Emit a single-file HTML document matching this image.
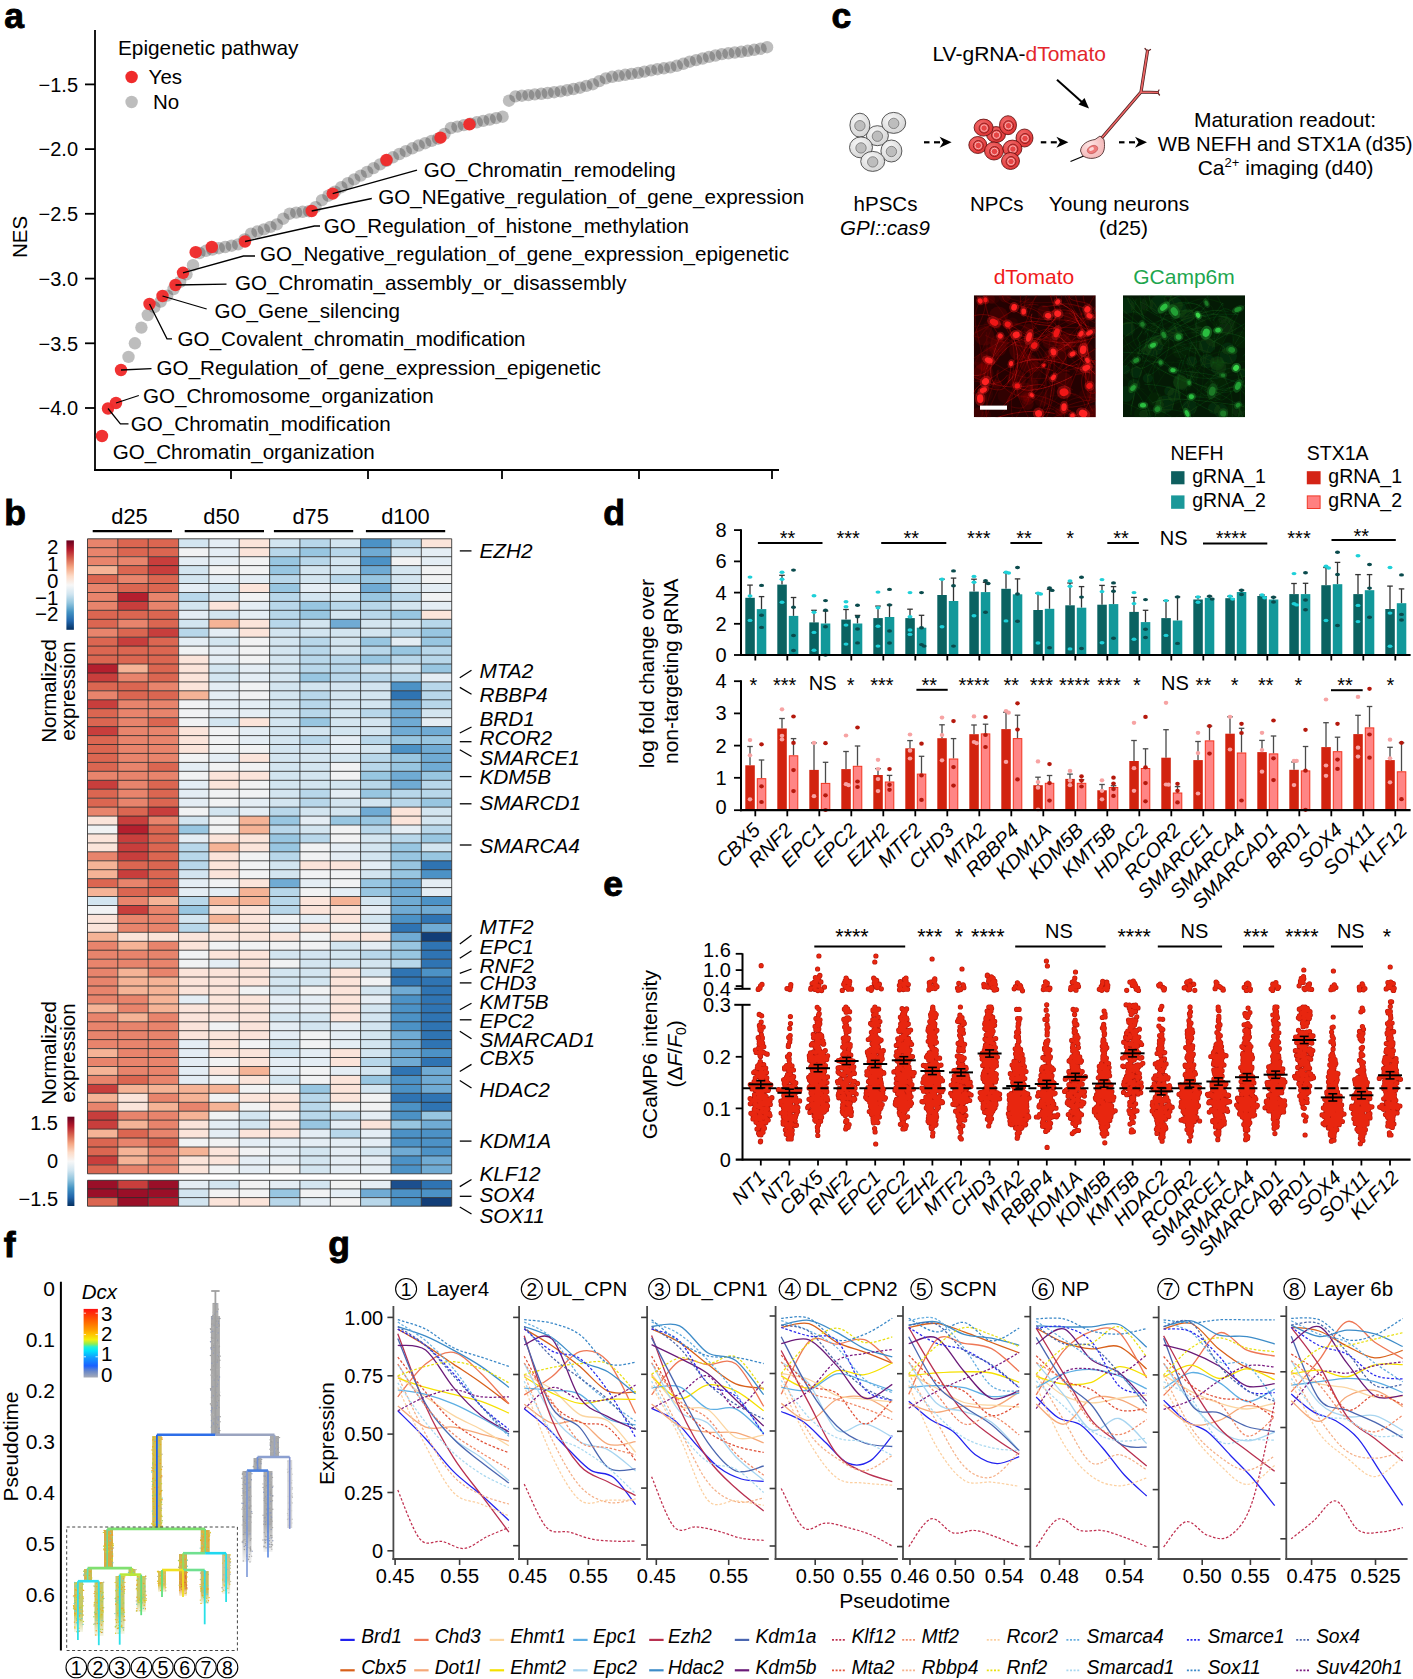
<!DOCTYPE html>
<html><head><meta charset="utf-8"><style>
html,body{margin:0;padding:0;background:#fff;}
svg{display:block;font-family:"Liberation Sans",sans-serif;}
</style></head><body>
<svg width="1413" height="1679" viewBox="0 0 1413 1679">
<rect width="1413" height="1679" fill="#fff"/>
<text x="4.2" y="28.2" font-size="35.5" text-anchor="start" fill="#000" font-weight="bold" stroke="#000" stroke-width="0.9">a</text>
<line x1="95" y1="30" x2="95" y2="471" stroke="#000" stroke-width="1.8"/>
<line x1="94" y1="470" x2="779" y2="470" stroke="#000" stroke-width="1.8"/>
<line x1="85" y1="84.4" x2="95" y2="84.4" stroke="#000" stroke-width="1.8"/>
<text x="78" y="91.7" font-size="20" text-anchor="end" fill="#000">−1.5</text>
<line x1="85" y1="149.1" x2="95" y2="149.1" stroke="#000" stroke-width="1.8"/>
<text x="78" y="156.4" font-size="20" text-anchor="end" fill="#000">−2.0</text>
<line x1="85" y1="213.8" x2="95" y2="213.8" stroke="#000" stroke-width="1.8"/>
<text x="78" y="221.1" font-size="20" text-anchor="end" fill="#000">−2.5</text>
<line x1="85" y1="278.6" x2="95" y2="278.6" stroke="#000" stroke-width="1.8"/>
<text x="78" y="285.9" font-size="20" text-anchor="end" fill="#000">−3.0</text>
<line x1="85" y1="343.3" x2="95" y2="343.3" stroke="#000" stroke-width="1.8"/>
<text x="78" y="350.6" font-size="20" text-anchor="end" fill="#000">−3.5</text>
<line x1="85" y1="408" x2="95" y2="408" stroke="#000" stroke-width="1.8"/>
<text x="78" y="415.3" font-size="20" text-anchor="end" fill="#000">−4.0</text>
<line x1="231" y1="470" x2="231" y2="479" stroke="#000" stroke-width="1.8"/>
<line x1="368" y1="470" x2="368" y2="479" stroke="#000" stroke-width="1.8"/>
<line x1="502" y1="470" x2="502" y2="479" stroke="#000" stroke-width="1.8"/>
<line x1="639" y1="470" x2="639" y2="479" stroke="#000" stroke-width="1.8"/>
<line x1="772" y1="470" x2="772" y2="479" stroke="#000" stroke-width="1.8"/>
<text x="0" y="0" font-size="20.5" text-anchor="middle" fill="#000" transform="translate(27,237) rotate(-90)">NES</text>
<text x="118" y="54.6" font-size="20.8" text-anchor="start" fill="#000">Epigenetic pathway</text>
<circle cx="131.6" cy="77" r="6.2" fill="#EF2B2B"/>
<text x="148.6" y="84" font-size="20.5" text-anchor="start" fill="#000">Yes</text>
<circle cx="131.6" cy="102" r="6.2" fill="#BDBDBD"/>
<text x="153" y="108.5" font-size="20.5" text-anchor="start" fill="#000">No</text>
<circle cx="128.5" cy="356.9" r="6.2" fill="#252525" fill-opacity="0.3"/>
<circle cx="134.9" cy="343.3" r="6.2" fill="#252525" fill-opacity="0.3"/>
<circle cx="141.4" cy="327.6" r="6.2" fill="#252525" fill-opacity="0.3"/>
<circle cx="147.8" cy="315" r="6.2" fill="#252525" fill-opacity="0.3"/>
<circle cx="154.3" cy="307.2" r="6.2" fill="#252525" fill-opacity="0.3"/>
<circle cx="160.7" cy="301.5" r="6.2" fill="#252525" fill-opacity="0.3"/>
<circle cx="167.2" cy="295.6" r="6.2" fill="#252525" fill-opacity="0.3"/>
<circle cx="173.6" cy="289" r="6.2" fill="#252525" fill-opacity="0.3"/>
<circle cx="180.1" cy="281.9" r="6.2" fill="#252525" fill-opacity="0.3"/>
<circle cx="186.5" cy="274.3" r="6.2" fill="#252525" fill-opacity="0.3"/>
<circle cx="193" cy="265.2" r="6.2" fill="#252525" fill-opacity="0.3"/>
<circle cx="199.4" cy="253" r="6.2" fill="#252525" fill-opacity="0.3"/>
<circle cx="205.9" cy="250.8" r="6.2" fill="#252525" fill-opacity="0.3"/>
<circle cx="212.3" cy="249.5" r="6.2" fill="#252525" fill-opacity="0.3"/>
<circle cx="218.8" cy="248.2" r="6.2" fill="#252525" fill-opacity="0.3"/>
<circle cx="225.2" cy="247" r="6.2" fill="#252525" fill-opacity="0.3"/>
<circle cx="231.7" cy="245.7" r="6.2" fill="#252525" fill-opacity="0.3"/>
<circle cx="238.1" cy="244.4" r="6.2" fill="#252525" fill-opacity="0.3"/>
<circle cx="244.6" cy="239.4" r="6.2" fill="#252525" fill-opacity="0.3"/>
<circle cx="251" cy="233.7" r="6.2" fill="#252525" fill-opacity="0.3"/>
<circle cx="257.5" cy="231.5" r="6.2" fill="#252525" fill-opacity="0.3"/>
<circle cx="263.9" cy="229.4" r="6.2" fill="#252525" fill-opacity="0.3"/>
<circle cx="270.4" cy="226.9" r="6.2" fill="#252525" fill-opacity="0.3"/>
<circle cx="276.8" cy="224.4" r="6.2" fill="#252525" fill-opacity="0.3"/>
<circle cx="283.3" cy="218.7" r="6.2" fill="#252525" fill-opacity="0.3"/>
<circle cx="289.7" cy="213.7" r="6.2" fill="#252525" fill-opacity="0.3"/>
<circle cx="296.2" cy="212.6" r="6.2" fill="#252525" fill-opacity="0.3"/>
<circle cx="302.6" cy="211.8" r="6.2" fill="#252525" fill-opacity="0.3"/>
<circle cx="309.1" cy="211.2" r="6.2" fill="#252525" fill-opacity="0.3"/>
<circle cx="315.5" cy="207.1" r="6.2" fill="#252525" fill-opacity="0.3"/>
<circle cx="322" cy="200.1" r="6.2" fill="#252525" fill-opacity="0.3"/>
<circle cx="328.4" cy="195.7" r="6.2" fill="#252525" fill-opacity="0.3"/>
<circle cx="334.9" cy="191.7" r="6.2" fill="#252525" fill-opacity="0.3"/>
<circle cx="341.3" cy="187.2" r="6.2" fill="#252525" fill-opacity="0.3"/>
<circle cx="347.8" cy="183.2" r="6.2" fill="#252525" fill-opacity="0.3"/>
<circle cx="354.2" cy="179.4" r="6.2" fill="#252525" fill-opacity="0.3"/>
<circle cx="360.7" cy="175.6" r="6.2" fill="#252525" fill-opacity="0.3"/>
<circle cx="367.1" cy="171.9" r="6.2" fill="#252525" fill-opacity="0.3"/>
<circle cx="373.6" cy="168.1" r="6.2" fill="#252525" fill-opacity="0.3"/>
<circle cx="380" cy="164.4" r="6.2" fill="#252525" fill-opacity="0.3"/>
<circle cx="386.5" cy="160.8" r="6.2" fill="#252525" fill-opacity="0.3"/>
<circle cx="392.9" cy="157.3" r="6.2" fill="#252525" fill-opacity="0.3"/>
<circle cx="399.4" cy="154" r="6.2" fill="#252525" fill-opacity="0.3"/>
<circle cx="405.8" cy="151.2" r="6.2" fill="#252525" fill-opacity="0.3"/>
<circle cx="412.3" cy="148.3" r="6.2" fill="#252525" fill-opacity="0.3"/>
<circle cx="418.7" cy="145.5" r="6.2" fill="#252525" fill-opacity="0.3"/>
<circle cx="425.2" cy="143.2" r="6.2" fill="#252525" fill-opacity="0.3"/>
<circle cx="431.6" cy="140.9" r="6.2" fill="#252525" fill-opacity="0.3"/>
<circle cx="438.1" cy="138.7" r="6.2" fill="#252525" fill-opacity="0.3"/>
<circle cx="444.5" cy="133.9" r="6.2" fill="#252525" fill-opacity="0.3"/>
<circle cx="451" cy="128" r="6.2" fill="#252525" fill-opacity="0.3"/>
<circle cx="457.4" cy="126.6" r="6.2" fill="#252525" fill-opacity="0.3"/>
<circle cx="463.9" cy="125.1" r="6.2" fill="#252525" fill-opacity="0.3"/>
<circle cx="470.3" cy="123.7" r="6.2" fill="#252525" fill-opacity="0.3"/>
<circle cx="476.8" cy="122.3" r="6.2" fill="#252525" fill-opacity="0.3"/>
<circle cx="483.2" cy="120.9" r="6.2" fill="#252525" fill-opacity="0.3"/>
<circle cx="489.7" cy="119.5" r="6.2" fill="#252525" fill-opacity="0.3"/>
<circle cx="496.1" cy="118.1" r="6.2" fill="#252525" fill-opacity="0.3"/>
<circle cx="502.6" cy="116.7" r="6.2" fill="#252525" fill-opacity="0.3"/>
<circle cx="509" cy="100.7" r="6.2" fill="#252525" fill-opacity="0.3"/>
<circle cx="515.5" cy="96.4" r="6.2" fill="#252525" fill-opacity="0.3"/>
<circle cx="521.9" cy="95.7" r="6.2" fill="#252525" fill-opacity="0.3"/>
<circle cx="528.4" cy="95.1" r="6.2" fill="#252525" fill-opacity="0.3"/>
<circle cx="534.8" cy="94.4" r="6.2" fill="#252525" fill-opacity="0.3"/>
<circle cx="541.3" cy="93.8" r="6.2" fill="#252525" fill-opacity="0.3"/>
<circle cx="547.7" cy="93" r="6.2" fill="#252525" fill-opacity="0.3"/>
<circle cx="554.2" cy="92.2" r="6.2" fill="#252525" fill-opacity="0.3"/>
<circle cx="560.6" cy="91.4" r="6.2" fill="#252525" fill-opacity="0.3"/>
<circle cx="567.1" cy="90.2" r="6.2" fill="#252525" fill-opacity="0.3"/>
<circle cx="573.5" cy="89" r="6.2" fill="#252525" fill-opacity="0.3"/>
<circle cx="580" cy="87.7" r="6.2" fill="#252525" fill-opacity="0.3"/>
<circle cx="586.4" cy="85.9" r="6.2" fill="#252525" fill-opacity="0.3"/>
<circle cx="592.9" cy="84.2" r="6.2" fill="#252525" fill-opacity="0.3"/>
<circle cx="599.3" cy="81.1" r="6.2" fill="#252525" fill-opacity="0.3"/>
<circle cx="605.8" cy="78.4" r="6.2" fill="#252525" fill-opacity="0.3"/>
<circle cx="612.2" cy="76.8" r="6.2" fill="#252525" fill-opacity="0.3"/>
<circle cx="618.7" cy="75.8" r="6.2" fill="#252525" fill-opacity="0.3"/>
<circle cx="625.2" cy="74.8" r="6.2" fill="#252525" fill-opacity="0.3"/>
<circle cx="631.6" cy="73.9" r="6.2" fill="#252525" fill-opacity="0.3"/>
<circle cx="638.1" cy="72.9" r="6.2" fill="#252525" fill-opacity="0.3"/>
<circle cx="644.5" cy="71.6" r="6.2" fill="#252525" fill-opacity="0.3"/>
<circle cx="651" cy="70.4" r="6.2" fill="#252525" fill-opacity="0.3"/>
<circle cx="657.4" cy="69.2" r="6.2" fill="#252525" fill-opacity="0.3"/>
<circle cx="663.9" cy="68.3" r="6.2" fill="#252525" fill-opacity="0.3"/>
<circle cx="670.3" cy="67.4" r="6.2" fill="#252525" fill-opacity="0.3"/>
<circle cx="676.8" cy="65.8" r="6.2" fill="#252525" fill-opacity="0.3"/>
<circle cx="683.2" cy="63.8" r="6.2" fill="#252525" fill-opacity="0.3"/>
<circle cx="689.7" cy="61.7" r="6.2" fill="#252525" fill-opacity="0.3"/>
<circle cx="696.1" cy="60.1" r="6.2" fill="#252525" fill-opacity="0.3"/>
<circle cx="702.6" cy="58.5" r="6.2" fill="#252525" fill-opacity="0.3"/>
<circle cx="709" cy="56.9" r="6.2" fill="#252525" fill-opacity="0.3"/>
<circle cx="715.5" cy="55.5" r="6.2" fill="#252525" fill-opacity="0.3"/>
<circle cx="721.9" cy="54.1" r="6.2" fill="#252525" fill-opacity="0.3"/>
<circle cx="728.4" cy="53.3" r="6.2" fill="#252525" fill-opacity="0.3"/>
<circle cx="734.8" cy="52.5" r="6.2" fill="#252525" fill-opacity="0.3"/>
<circle cx="741.3" cy="51.8" r="6.2" fill="#252525" fill-opacity="0.3"/>
<circle cx="747.7" cy="50.8" r="6.2" fill="#252525" fill-opacity="0.3"/>
<circle cx="754.2" cy="49.8" r="6.2" fill="#252525" fill-opacity="0.3"/>
<circle cx="760.6" cy="48.7" r="6.2" fill="#252525" fill-opacity="0.3"/>
<circle cx="767.1" cy="47.2" r="6.2" fill="#252525" fill-opacity="0.3"/>
<circle cx="102" cy="436" r="6.2" fill="#EF2B2B" fill-opacity="0.97"/>
<circle cx="108" cy="408.5" r="6.2" fill="#EF2B2B" fill-opacity="0.97"/>
<circle cx="116" cy="403" r="6.2" fill="#EF2B2B" fill-opacity="0.97"/>
<circle cx="121" cy="370" r="6.2" fill="#EF2B2B" fill-opacity="0.97"/>
<circle cx="149.5" cy="304" r="6.2" fill="#EF2B2B" fill-opacity="0.97"/>
<circle cx="162.5" cy="296" r="6.2" fill="#EF2B2B" fill-opacity="0.97"/>
<circle cx="175.5" cy="285" r="6.2" fill="#EF2B2B" fill-opacity="0.97"/>
<circle cx="183" cy="272.8" r="6.2" fill="#EF2B2B" fill-opacity="0.97"/>
<circle cx="195.7" cy="252.2" r="6.2" fill="#EF2B2B" fill-opacity="0.97"/>
<circle cx="211.8" cy="247" r="6.2" fill="#EF2B2B" fill-opacity="0.97"/>
<circle cx="245" cy="241.5" r="6.2" fill="#EF2B2B" fill-opacity="0.97"/>
<circle cx="311.7" cy="211" r="6.2" fill="#EF2B2B" fill-opacity="0.97"/>
<circle cx="332.7" cy="193.6" r="6.2" fill="#EF2B2B" fill-opacity="0.97"/>
<circle cx="386.5" cy="160" r="6.2" fill="#EF2B2B" fill-opacity="0.97"/>
<circle cx="440.5" cy="137.6" r="6.2" fill="#EF2B2B" fill-opacity="0.97"/>
<circle cx="469.4" cy="124.3" r="6.2" fill="#EF2B2B" fill-opacity="0.97"/>
<polyline points="332.7,193.6 417,170.2" fill="none" stroke="#000" stroke-width="1.3"/>
<text x="423.8" y="176.7" font-size="20.6" text-anchor="start" fill="#000">GO_Chromatin_remodeling</text>
<polyline points="311.7,211 371.8,198.5" fill="none" stroke="#000" stroke-width="1.3"/>
<text x="378.2" y="204.2" font-size="20.6" text-anchor="start" fill="#000">GO_NEgative_regulation_of_gene_expression</text>
<polyline points="245,241.5 314.4,226 320,226" fill="none" stroke="#000" stroke-width="1.3"/>
<text x="323.8" y="232.5" font-size="20.6" text-anchor="start" fill="#000">GO_Regulation_of_histone_methylation</text>
<polyline points="183,272.8 243.5,256 255,256" fill="none" stroke="#000" stroke-width="1.3"/>
<text x="260" y="261" font-size="20.6" text-anchor="start" fill="#000">GO_Negative_regulation_of_gene_expression_epigenetic</text>
<polyline points="175.5,285 226.5,284.1" fill="none" stroke="#000" stroke-width="1.3"/>
<text x="235" y="290" font-size="20.6" text-anchor="start" fill="#000">GO_Chromatin_assembly_or_disassembly</text>
<polyline points="162.5,296 206.7,309" fill="none" stroke="#000" stroke-width="1.3"/>
<text x="214.4" y="317.5" font-size="20.6" text-anchor="start" fill="#000">GO_Gene_silencing</text>
<polyline points="149.5,304 167,338.8 172,338.8" fill="none" stroke="#000" stroke-width="1.3"/>
<text x="177.6" y="345.9" font-size="20.6" text-anchor="start" fill="#000">GO_Covalent_chromatin_modification</text>
<polyline points="121,370 151.5,368.6" fill="none" stroke="#000" stroke-width="1.3"/>
<text x="156.6" y="374.7" font-size="20.6" text-anchor="start" fill="#000">GO_Regulation_of_gene_expression_epigenetic</text>
<polyline points="116,403 138.8,395.5" fill="none" stroke="#000" stroke-width="1.3"/>
<text x="143" y="402.5" font-size="20.6" text-anchor="start" fill="#000">GO_Chromosome_organization</text>
<polyline points="108,408.5 120.4,423.8 128.5,423.8" fill="none" stroke="#000" stroke-width="1.3"/>
<text x="130.8" y="430.7" font-size="20.6" text-anchor="start" fill="#000">GO_Chromatin_modification</text>
<text x="112.7" y="459" font-size="20.6" text-anchor="start" fill="#000">GO_Chromatin_organization</text>
<text x="4.2" y="524.8" font-size="35.5" text-anchor="start" fill="#000" font-weight="bold" stroke="#000" stroke-width="0.9">b</text>
<path fill="#E8846C" d="M87.5 538.8h30.3v8.9h-30.3zM87.5 547.7h30.3v8.9h-30.3zM87.5 556.7h30.3v8.9h-30.3zM117.8 556.7h30.3v8.9h-30.3zM117.8 574.6h30.3v8.9h-30.3zM87.5 583.5h30.3v8.9h-30.3zM87.5 592.5h30.3v8.9h-30.3zM148.2 592.5h30.3v8.9h-30.3zM87.5 601.4h30.3v8.9h-30.3zM148.2 601.4h30.3v8.9h-30.3zM117.8 619.3h30.3v8.9h-30.3zM87.5 628.2h30.3v8.9h-30.3zM117.8 673h30.3v8.9h-30.3zM148.2 681.9h30.3v8.9h-30.3zM87.5 690.8h30.3v8.9h-30.3zM117.8 699.8h30.3v8.9h-30.3zM148.2 699.8h30.3v8.9h-30.3zM117.8 708.7h30.3v8.9h-30.3zM148.2 708.7h30.3v8.9h-30.3zM117.8 717.7h30.3v8.9h-30.3zM117.8 726.6h30.3v8.9h-30.3zM148.2 726.6h30.3v8.9h-30.3zM117.8 735.6h30.3v8.9h-30.3zM148.2 735.6h30.3v8.9h-30.3zM117.8 744.5h30.3v8.9h-30.3zM148.2 744.5h30.3v8.9h-30.3zM117.8 753.4h30.3v8.9h-30.3zM148.2 753.4h30.3v8.9h-30.3zM117.8 762.4h30.3v8.9h-30.3zM87.5 771.3h30.3v8.9h-30.3zM117.8 771.3h30.3v8.9h-30.3zM148.2 771.3h30.3v8.9h-30.3zM117.8 780.3h30.3v8.9h-30.3zM117.8 789.2h30.3v8.9h-30.3zM117.8 798.2h30.3v8.9h-30.3zM87.5 807.1h30.3v8.9h-30.3zM148.2 816.1h30.3v8.9h-30.3zM87.5 851.8h30.3v8.9h-30.3zM117.8 878.7h30.3v8.9h-30.3zM117.8 896.5h30.3v8.9h-30.3zM148.2 905.5h30.3v8.9h-30.3zM117.8 914.4h30.3v8.9h-30.3zM148.2 914.4h30.3v8.9h-30.3zM117.8 923.4h30.3v8.9h-30.3zM148.2 923.4h30.3v8.9h-30.3zM87.5 941.3h30.3v8.9h-30.3zM148.2 941.3h30.3v8.9h-30.3zM87.5 950.2h30.3v8.9h-30.3zM117.8 950.2h30.3v8.9h-30.3zM148.2 950.2h30.3v8.9h-30.3zM87.5 959.2h30.3v8.9h-30.3zM117.8 959.2h30.3v8.9h-30.3zM148.2 959.2h30.3v8.9h-30.3zM87.5 968.1h30.3v8.9h-30.3zM148.2 968.1h30.3v8.9h-30.3zM87.5 977h30.3v8.9h-30.3zM87.5 986h30.3v8.9h-30.3zM87.5 994.9h30.3v8.9h-30.3zM117.8 994.9h30.3v8.9h-30.3zM117.8 1003.9h30.3v8.9h-30.3zM87.5 1012.8h30.3v8.9h-30.3zM148.2 1012.8h30.3v8.9h-30.3zM87.5 1021.8h30.3v8.9h-30.3zM117.8 1021.8h30.3v8.9h-30.3zM148.2 1021.8h30.3v8.9h-30.3zM87.5 1030.7h30.3v8.9h-30.3zM117.8 1030.7h30.3v8.9h-30.3zM148.2 1030.7h30.3v8.9h-30.3zM87.5 1039.6h30.3v8.9h-30.3zM117.8 1039.6h30.3v8.9h-30.3zM148.2 1039.6h30.3v8.9h-30.3zM117.8 1048.6h30.3v8.9h-30.3zM148.2 1048.6h30.3v8.9h-30.3zM87.5 1057.5h30.3v8.9h-30.3zM117.8 1057.5h30.3v8.9h-30.3zM148.2 1057.5h30.3v8.9h-30.3zM117.8 1066.5h30.3v8.9h-30.3zM148.2 1066.5h30.3v8.9h-30.3zM87.5 1075.4h30.3v8.9h-30.3zM148.2 1075.4h30.3v8.9h-30.3zM148.2 1093.3h30.3v8.9h-30.3zM87.5 1102.3h30.3v8.9h-30.3zM178.6 1102.3h30.3v8.9h-30.3zM117.8 1111.2h30.3v8.9h-30.3zM148.2 1111.2h30.3v8.9h-30.3zM148.2 1120.1h30.3v8.9h-30.3zM148.2 1129.1h30.3v8.9h-30.3zM117.8 1138h30.3v8.9h-30.3zM148.2 1147h30.3v8.9h-30.3zM148.2 1155.9h30.3v8.9h-30.3zM117.8 1164.9h30.3v8.9h-30.3zM148.2 1164.9h30.3v8.9h-30.3z"/>
<path fill="#DB6651" d="M117.8 538.8h30.3v8.9h-30.3zM148.2 538.8h30.3v8.9h-30.3zM117.8 547.7h30.3v8.9h-30.3zM148.2 547.7h30.3v8.9h-30.3zM117.8 565.6h30.3v8.9h-30.3zM87.5 574.6h30.3v8.9h-30.3zM148.2 574.6h30.3v8.9h-30.3zM117.8 583.5h30.3v8.9h-30.3zM148.2 583.5h30.3v8.9h-30.3zM87.5 610.3h30.3v8.9h-30.3zM117.8 610.3h30.3v8.9h-30.3zM148.2 610.3h30.3v8.9h-30.3zM87.5 619.3h30.3v8.9h-30.3zM148.2 619.3h30.3v8.9h-30.3zM117.8 628.2h30.3v8.9h-30.3zM87.5 637.2h30.3v8.9h-30.3zM148.2 637.2h30.3v8.9h-30.3zM87.5 646.1h30.3v8.9h-30.3zM117.8 646.1h30.3v8.9h-30.3zM148.2 646.1h30.3v8.9h-30.3zM87.5 655.1h30.3v8.9h-30.3zM117.8 655.1h30.3v8.9h-30.3zM148.2 655.1h30.3v8.9h-30.3zM148.2 664h30.3v8.9h-30.3zM148.2 673h30.3v8.9h-30.3zM87.5 681.9h30.3v8.9h-30.3zM117.8 681.9h30.3v8.9h-30.3zM117.8 690.8h30.3v8.9h-30.3zM148.2 690.8h30.3v8.9h-30.3zM87.5 708.7h30.3v8.9h-30.3zM87.5 717.7h30.3v8.9h-30.3zM148.2 717.7h30.3v8.9h-30.3zM87.5 735.6h30.3v8.9h-30.3zM87.5 744.5h30.3v8.9h-30.3zM87.5 753.4h30.3v8.9h-30.3zM87.5 762.4h30.3v8.9h-30.3zM148.2 762.4h30.3v8.9h-30.3zM148.2 780.3h30.3v8.9h-30.3zM87.5 789.2h30.3v8.9h-30.3zM148.2 789.2h30.3v8.9h-30.3zM87.5 798.2h30.3v8.9h-30.3zM148.2 798.2h30.3v8.9h-30.3zM117.8 807.1h30.3v8.9h-30.3zM148.2 825h30.3v8.9h-30.3zM148.2 833.9h30.3v8.9h-30.3zM148.2 842.9h30.3v8.9h-30.3zM148.2 851.8h30.3v8.9h-30.3zM117.8 860.8h30.3v8.9h-30.3zM148.2 860.8h30.3v8.9h-30.3zM148.2 869.7h30.3v8.9h-30.3zM87.5 878.7h30.3v8.9h-30.3zM148.2 878.7h30.3v8.9h-30.3zM117.8 887.6h30.3v8.9h-30.3zM148.2 887.6h30.3v8.9h-30.3zM117.8 1075.4h30.3v8.9h-30.3zM117.8 1129.1h30.3v8.9h-30.3zM87.5 1138h30.3v8.9h-30.3zM148.2 1138h30.3v8.9h-30.3zM87.5 1147h30.3v8.9h-30.3zM87.5 1164.9h30.3v8.9h-30.3z"/>
<path fill="#D3E5F0" d="M178.6 538.8h30.3v8.9h-30.3zM269.6 538.8h30.3v8.9h-30.3zM330.3 538.8h30.3v8.9h-30.3zM391 547.7h30.3v8.9h-30.3zM330.3 556.7h30.3v8.9h-30.3zM178.6 565.6h30.3v8.9h-30.3zM299.9 565.6h30.3v8.9h-30.3zM330.3 565.6h30.3v8.9h-30.3zM391 565.6h30.3v8.9h-30.3zM178.6 574.6h30.3v8.9h-30.3zM299.9 574.6h30.3v8.9h-30.3zM391 574.6h30.3v8.9h-30.3zM208.9 583.5h30.3v8.9h-30.3zM391 583.5h30.3v8.9h-30.3zM208.9 592.5h30.3v8.9h-30.3zM299.9 592.5h30.3v8.9h-30.3zM330.3 592.5h30.3v8.9h-30.3zM178.6 601.4h30.3v8.9h-30.3zM391 601.4h30.3v8.9h-30.3zM208.9 610.3h30.3v8.9h-30.3zM330.3 610.3h30.3v8.9h-30.3zM178.6 619.3h30.3v8.9h-30.3zM299.9 619.3h30.3v8.9h-30.3zM360.6 619.3h30.3v8.9h-30.3zM391 619.3h30.3v8.9h-30.3zM269.6 628.2h30.3v8.9h-30.3zM299.9 628.2h30.3v8.9h-30.3zM330.3 628.2h30.3v8.9h-30.3zM360.6 628.2h30.3v8.9h-30.3zM208.9 637.2h30.3v8.9h-30.3zM269.6 637.2h30.3v8.9h-30.3zM330.3 637.2h30.3v8.9h-30.3zM269.6 646.1h30.3v8.9h-30.3zM330.3 646.1h30.3v8.9h-30.3zM269.6 655.1h30.3v8.9h-30.3zM208.9 664h30.3v8.9h-30.3zM269.6 664h30.3v8.9h-30.3zM360.6 664h30.3v8.9h-30.3zM391 664h30.3v8.9h-30.3zM208.9 673h30.3v8.9h-30.3zM269.6 673h30.3v8.9h-30.3zM269.6 681.9h30.3v8.9h-30.3zM299.9 681.9h30.3v8.9h-30.3zM330.3 681.9h30.3v8.9h-30.3zM360.6 681.9h30.3v8.9h-30.3zM269.6 690.8h30.3v8.9h-30.3zM330.3 690.8h30.3v8.9h-30.3zM360.6 690.8h30.3v8.9h-30.3zM269.6 699.8h30.3v8.9h-30.3zM330.3 699.8h30.3v8.9h-30.3zM360.6 699.8h30.3v8.9h-30.3zM269.6 708.7h30.3v8.9h-30.3zM330.3 708.7h30.3v8.9h-30.3zM421.3 708.7h30.3v8.9h-30.3zM208.9 717.7h30.3v8.9h-30.3zM269.6 717.7h30.3v8.9h-30.3zM330.3 717.7h30.3v8.9h-30.3zM360.6 717.7h30.3v8.9h-30.3zM269.6 726.6h30.3v8.9h-30.3zM299.9 726.6h30.3v8.9h-30.3zM330.3 726.6h30.3v8.9h-30.3zM360.6 726.6h30.3v8.9h-30.3zM269.6 735.6h30.3v8.9h-30.3zM269.6 744.5h30.3v8.9h-30.3zM299.9 744.5h30.3v8.9h-30.3zM360.6 744.5h30.3v8.9h-30.3zM269.6 753.4h30.3v8.9h-30.3zM299.9 753.4h30.3v8.9h-30.3zM330.3 753.4h30.3v8.9h-30.3zM269.6 762.4h30.3v8.9h-30.3zM299.9 762.4h30.3v8.9h-30.3zM269.6 771.3h30.3v8.9h-30.3zM299.9 771.3h30.3v8.9h-30.3zM269.6 780.3h30.3v8.9h-30.3zM299.9 780.3h30.3v8.9h-30.3zM330.3 780.3h30.3v8.9h-30.3zM269.6 789.2h30.3v8.9h-30.3zM269.6 798.2h30.3v8.9h-30.3zM330.3 798.2h30.3v8.9h-30.3zM360.6 798.2h30.3v8.9h-30.3zM208.9 807.1h30.3v8.9h-30.3zM299.9 807.1h30.3v8.9h-30.3zM330.3 807.1h30.3v8.9h-30.3zM421.3 807.1h30.3v8.9h-30.3zM178.6 816.1h30.3v8.9h-30.3zM421.3 816.1h30.3v8.9h-30.3zM299.9 825h30.3v8.9h-30.3zM360.6 833.9h30.3v8.9h-30.3zM360.6 842.9h30.3v8.9h-30.3zM421.3 842.9h30.3v8.9h-30.3zM360.6 851.8h30.3v8.9h-30.3zM269.6 860.8h30.3v8.9h-30.3zM178.6 869.7h30.3v8.9h-30.3zM269.6 869.7h30.3v8.9h-30.3zM360.6 869.7h30.3v8.9h-30.3zM87.5 896.5h30.3v8.9h-30.3zM360.6 896.5h30.3v8.9h-30.3zM178.6 914.4h30.3v8.9h-30.3zM360.6 914.4h30.3v8.9h-30.3zM330.3 941.3h30.3v8.9h-30.3zM269.6 950.2h30.3v8.9h-30.3zM299.9 950.2h30.3v8.9h-30.3zM330.3 950.2h30.3v8.9h-30.3zM299.9 959.2h30.3v8.9h-30.3zM330.3 959.2h30.3v8.9h-30.3zM360.6 959.2h30.3v8.9h-30.3zM269.6 968.1h30.3v8.9h-30.3zM299.9 968.1h30.3v8.9h-30.3zM360.6 968.1h30.3v8.9h-30.3zM269.6 977h30.3v8.9h-30.3zM299.9 977h30.3v8.9h-30.3zM269.6 986h30.3v8.9h-30.3zM360.6 986h30.3v8.9h-30.3zM360.6 1003.9h30.3v8.9h-30.3zM269.6 1012.8h30.3v8.9h-30.3zM299.9 1012.8h30.3v8.9h-30.3zM360.6 1012.8h30.3v8.9h-30.3zM299.9 1021.8h30.3v8.9h-30.3zM360.6 1021.8h30.3v8.9h-30.3zM360.6 1030.7h30.3v8.9h-30.3zM269.6 1039.6h30.3v8.9h-30.3zM360.6 1039.6h30.3v8.9h-30.3zM269.6 1048.6h30.3v8.9h-30.3zM360.6 1048.6h30.3v8.9h-30.3zM360.6 1066.5h30.3v8.9h-30.3zM269.6 1075.4h30.3v8.9h-30.3zM360.6 1084.4h30.3v8.9h-30.3zM239.2 1111.2h30.3v8.9h-30.3zM239.2 1120.1h30.3v8.9h-30.3zM299.9 1147h30.3v8.9h-30.3zM360.6 1147h30.3v8.9h-30.3zM299.9 1155.9h30.3v8.9h-30.3zM299.9 1164.9h30.3v8.9h-30.3z"/>
<path fill="#E4EDF4" d="M208.9 538.8h30.3v8.9h-30.3zM208.9 547.7h30.3v8.9h-30.3zM421.3 547.7h30.3v8.9h-30.3zM178.6 556.7h30.3v8.9h-30.3zM208.9 556.7h30.3v8.9h-30.3zM421.3 556.7h30.3v8.9h-30.3zM208.9 574.6h30.3v8.9h-30.3zM239.2 574.6h30.3v8.9h-30.3zM178.6 583.5h30.3v8.9h-30.3zM299.9 583.5h30.3v8.9h-30.3zM330.3 583.5h30.3v8.9h-30.3zM421.3 583.5h30.3v8.9h-30.3zM239.2 601.4h30.3v8.9h-30.3zM421.3 601.4h30.3v8.9h-30.3zM178.6 610.3h30.3v8.9h-30.3zM239.2 610.3h30.3v8.9h-30.3zM208.9 628.2h30.3v8.9h-30.3zM178.6 637.2h30.3v8.9h-30.3zM391 637.2h30.3v8.9h-30.3zM208.9 646.1h30.3v8.9h-30.3zM208.9 655.1h30.3v8.9h-30.3zM239.2 664h30.3v8.9h-30.3zM239.2 673h30.3v8.9h-30.3zM421.3 673h30.3v8.9h-30.3zM208.9 681.9h30.3v8.9h-30.3zM208.9 690.8h30.3v8.9h-30.3zM208.9 699.8h30.3v8.9h-30.3zM239.2 699.8h30.3v8.9h-30.3zM208.9 708.7h30.3v8.9h-30.3zM239.2 708.7h30.3v8.9h-30.3zM421.3 717.7h30.3v8.9h-30.3zM239.2 726.6h30.3v8.9h-30.3zM239.2 735.6h30.3v8.9h-30.3zM330.3 735.6h30.3v8.9h-30.3zM330.3 744.5h30.3v8.9h-30.3zM208.9 753.4h30.3v8.9h-30.3zM178.6 762.4h30.3v8.9h-30.3zM178.6 780.3h30.3v8.9h-30.3zM178.6 789.2h30.3v8.9h-30.3zM330.3 789.2h30.3v8.9h-30.3zM178.6 798.2h30.3v8.9h-30.3zM239.2 798.2h30.3v8.9h-30.3zM239.2 807.1h30.3v8.9h-30.3zM299.9 816.1h30.3v8.9h-30.3zM391 825h30.3v8.9h-30.3zM178.6 833.9h30.3v8.9h-30.3zM330.3 842.9h30.3v8.9h-30.3zM330.3 851.8h30.3v8.9h-30.3zM360.6 860.8h30.3v8.9h-30.3zM178.6 878.7h30.3v8.9h-30.3zM299.9 878.7h30.3v8.9h-30.3zM421.3 878.7h30.3v8.9h-30.3zM178.6 887.6h30.3v8.9h-30.3zM208.9 887.6h30.3v8.9h-30.3zM330.3 887.6h30.3v8.9h-30.3zM421.3 887.6h30.3v8.9h-30.3zM360.6 905.5h30.3v8.9h-30.3zM299.9 914.4h30.3v8.9h-30.3zM269.6 923.4h30.3v8.9h-30.3zM360.6 923.4h30.3v8.9h-30.3zM360.6 941.3h30.3v8.9h-30.3zM208.9 959.2h30.3v8.9h-30.3zM178.6 994.9h30.3v8.9h-30.3zM269.6 994.9h30.3v8.9h-30.3zM299.9 994.9h30.3v8.9h-30.3zM360.6 994.9h30.3v8.9h-30.3zM269.6 1003.9h30.3v8.9h-30.3zM299.9 1003.9h30.3v8.9h-30.3zM269.6 1021.8h30.3v8.9h-30.3zM330.3 1021.8h30.3v8.9h-30.3zM269.6 1030.7h30.3v8.9h-30.3zM330.3 1030.7h30.3v8.9h-30.3zM178.6 1039.6h30.3v8.9h-30.3zM330.3 1039.6h30.3v8.9h-30.3zM178.6 1048.6h30.3v8.9h-30.3zM299.9 1048.6h30.3v8.9h-30.3zM178.6 1057.5h30.3v8.9h-30.3zM269.6 1057.5h30.3v8.9h-30.3zM299.9 1057.5h30.3v8.9h-30.3zM178.6 1066.5h30.3v8.9h-30.3zM269.6 1066.5h30.3v8.9h-30.3zM330.3 1066.5h30.3v8.9h-30.3zM178.6 1075.4h30.3v8.9h-30.3zM360.6 1111.2h30.3v8.9h-30.3zM208.9 1120.1h30.3v8.9h-30.3zM330.3 1120.1h30.3v8.9h-30.3zM208.9 1129.1h30.3v8.9h-30.3zM299.9 1129.1h30.3v8.9h-30.3zM360.6 1129.1h30.3v8.9h-30.3zM239.2 1138h30.3v8.9h-30.3zM269.6 1138h30.3v8.9h-30.3zM299.9 1138h30.3v8.9h-30.3zM330.3 1138h30.3v8.9h-30.3zM360.6 1138h30.3v8.9h-30.3zM269.6 1147h30.3v8.9h-30.3zM330.3 1147h30.3v8.9h-30.3zM239.2 1155.9h30.3v8.9h-30.3zM269.6 1155.9h30.3v8.9h-30.3zM330.3 1155.9h30.3v8.9h-30.3zM360.6 1155.9h30.3v8.9h-30.3zM239.2 1164.9h30.3v8.9h-30.3zM330.3 1164.9h30.3v8.9h-30.3zM360.6 1164.9h30.3v8.9h-30.3z"/>
<path fill="#FBE4DA" d="M239.2 538.8h30.3v8.9h-30.3zM421.3 538.8h30.3v8.9h-30.3zM239.2 547.7h30.3v8.9h-30.3zM239.2 583.5h30.3v8.9h-30.3zM208.9 601.4h30.3v8.9h-30.3zM421.3 610.3h30.3v8.9h-30.3zM239.2 619.3h30.3v8.9h-30.3zM239.2 628.2h30.3v8.9h-30.3zM178.6 655.1h30.3v8.9h-30.3zM178.6 664h30.3v8.9h-30.3zM178.6 673h30.3v8.9h-30.3zM178.6 681.9h30.3v8.9h-30.3zM239.2 717.7h30.3v8.9h-30.3zM178.6 726.6h30.3v8.9h-30.3zM178.6 735.6h30.3v8.9h-30.3zM178.6 744.5h30.3v8.9h-30.3zM239.2 753.4h30.3v8.9h-30.3zM208.9 771.3h30.3v8.9h-30.3zM239.2 771.3h30.3v8.9h-30.3zM208.9 780.3h30.3v8.9h-30.3zM391 807.1h30.3v8.9h-30.3zM87.5 816.1h30.3v8.9h-30.3zM391 816.1h30.3v8.9h-30.3zM87.5 833.9h30.3v8.9h-30.3zM208.9 833.9h30.3v8.9h-30.3zM239.2 833.9h30.3v8.9h-30.3zM87.5 842.9h30.3v8.9h-30.3zM239.2 842.9h30.3v8.9h-30.3zM208.9 851.8h30.3v8.9h-30.3zM208.9 860.8h30.3v8.9h-30.3zM299.9 860.8h30.3v8.9h-30.3zM330.3 860.8h30.3v8.9h-30.3zM208.9 869.7h30.3v8.9h-30.3zM239.2 878.7h30.3v8.9h-30.3zM299.9 896.5h30.3v8.9h-30.3zM208.9 905.5h30.3v8.9h-30.3zM239.2 905.5h30.3v8.9h-30.3zM299.9 905.5h30.3v8.9h-30.3zM330.3 905.5h30.3v8.9h-30.3zM87.5 914.4h30.3v8.9h-30.3zM239.2 914.4h30.3v8.9h-30.3zM330.3 914.4h30.3v8.9h-30.3zM87.5 923.4h30.3v8.9h-30.3zM208.9 923.4h30.3v8.9h-30.3zM239.2 923.4h30.3v8.9h-30.3zM299.9 923.4h30.3v8.9h-30.3zM117.8 932.3h30.3v8.9h-30.3zM148.2 932.3h30.3v8.9h-30.3zM178.6 932.3h30.3v8.9h-30.3zM208.9 932.3h30.3v8.9h-30.3zM239.2 932.3h30.3v8.9h-30.3zM269.6 932.3h30.3v8.9h-30.3zM330.3 932.3h30.3v8.9h-30.3zM360.6 932.3h30.3v8.9h-30.3zM178.6 941.3h30.3v8.9h-30.3zM208.9 950.2h30.3v8.9h-30.3zM239.2 950.2h30.3v8.9h-30.3zM239.2 959.2h30.3v8.9h-30.3zM178.6 968.1h30.3v8.9h-30.3zM208.9 968.1h30.3v8.9h-30.3zM239.2 968.1h30.3v8.9h-30.3zM330.3 968.1h30.3v8.9h-30.3zM178.6 977h30.3v8.9h-30.3zM208.9 977h30.3v8.9h-30.3zM239.2 977h30.3v8.9h-30.3zM330.3 977h30.3v8.9h-30.3zM178.6 986h30.3v8.9h-30.3zM208.9 986h30.3v8.9h-30.3zM330.3 986h30.3v8.9h-30.3zM208.9 994.9h30.3v8.9h-30.3zM239.2 994.9h30.3v8.9h-30.3zM330.3 994.9h30.3v8.9h-30.3zM178.6 1003.9h30.3v8.9h-30.3zM208.9 1003.9h30.3v8.9h-30.3zM239.2 1003.9h30.3v8.9h-30.3zM330.3 1003.9h30.3v8.9h-30.3zM178.6 1012.8h30.3v8.9h-30.3zM208.9 1012.8h30.3v8.9h-30.3zM239.2 1012.8h30.3v8.9h-30.3zM330.3 1012.8h30.3v8.9h-30.3zM178.6 1021.8h30.3v8.9h-30.3zM239.2 1021.8h30.3v8.9h-30.3zM178.6 1030.7h30.3v8.9h-30.3zM208.9 1030.7h30.3v8.9h-30.3zM239.2 1030.7h30.3v8.9h-30.3zM208.9 1039.6h30.3v8.9h-30.3zM208.9 1048.6h30.3v8.9h-30.3zM239.2 1048.6h30.3v8.9h-30.3zM330.3 1048.6h30.3v8.9h-30.3zM239.2 1057.5h30.3v8.9h-30.3zM330.3 1057.5h30.3v8.9h-30.3zM208.9 1066.5h30.3v8.9h-30.3zM239.2 1075.4h30.3v8.9h-30.3zM330.3 1075.4h30.3v8.9h-30.3zM330.3 1084.4h30.3v8.9h-30.3zM117.8 1093.3h30.3v8.9h-30.3zM239.2 1093.3h30.3v8.9h-30.3zM269.6 1093.3h30.3v8.9h-30.3zM330.3 1093.3h30.3v8.9h-30.3zM117.8 1102.3h30.3v8.9h-30.3zM269.6 1102.3h30.3v8.9h-30.3zM178.6 1120.1h30.3v8.9h-30.3zM269.6 1120.1h30.3v8.9h-30.3zM360.6 1120.1h30.3v8.9h-30.3zM178.6 1129.1h30.3v8.9h-30.3zM239.2 1129.1h30.3v8.9h-30.3zM269.6 1129.1h30.3v8.9h-30.3zM208.9 1147h30.3v8.9h-30.3zM178.6 1155.9h30.3v8.9h-30.3zM208.9 1155.9h30.3v8.9h-30.3zM178.6 1164.9h30.3v8.9h-30.3z"/>
<path fill="#B8D7EA" d="M299.9 538.8h30.3v8.9h-30.3zM391 538.8h30.3v8.9h-30.3zM269.6 547.7h30.3v8.9h-30.3zM330.3 547.7h30.3v8.9h-30.3zM299.9 556.7h30.3v8.9h-30.3zM269.6 574.6h30.3v8.9h-30.3zM330.3 574.6h30.3v8.9h-30.3zM178.6 592.5h30.3v8.9h-30.3zM269.6 592.5h30.3v8.9h-30.3zM391 592.5h30.3v8.9h-30.3zM269.6 601.4h30.3v8.9h-30.3zM330.3 601.4h30.3v8.9h-30.3zM360.6 601.4h30.3v8.9h-30.3zM269.6 610.3h30.3v8.9h-30.3zM360.6 610.3h30.3v8.9h-30.3zM269.6 619.3h30.3v8.9h-30.3zM421.3 619.3h30.3v8.9h-30.3zM178.6 628.2h30.3v8.9h-30.3zM391 628.2h30.3v8.9h-30.3zM299.9 637.2h30.3v8.9h-30.3zM299.9 646.1h30.3v8.9h-30.3zM360.6 646.1h30.3v8.9h-30.3zM421.3 646.1h30.3v8.9h-30.3zM299.9 655.1h30.3v8.9h-30.3zM330.3 655.1h30.3v8.9h-30.3zM391 655.1h30.3v8.9h-30.3zM421.3 655.1h30.3v8.9h-30.3zM299.9 664h30.3v8.9h-30.3zM330.3 664h30.3v8.9h-30.3zM330.3 673h30.3v8.9h-30.3zM360.6 673h30.3v8.9h-30.3zM391 673h30.3v8.9h-30.3zM421.3 681.9h30.3v8.9h-30.3zM299.9 690.8h30.3v8.9h-30.3zM421.3 690.8h30.3v8.9h-30.3zM299.9 699.8h30.3v8.9h-30.3zM421.3 699.8h30.3v8.9h-30.3zM299.9 708.7h30.3v8.9h-30.3zM360.6 708.7h30.3v8.9h-30.3zM299.9 735.6h30.3v8.9h-30.3zM360.6 735.6h30.3v8.9h-30.3zM360.6 753.4h30.3v8.9h-30.3zM360.6 762.4h30.3v8.9h-30.3zM360.6 780.3h30.3v8.9h-30.3zM421.3 780.3h30.3v8.9h-30.3zM299.9 789.2h30.3v8.9h-30.3zM391 789.2h30.3v8.9h-30.3zM421.3 789.2h30.3v8.9h-30.3zM299.9 798.2h30.3v8.9h-30.3zM391 798.2h30.3v8.9h-30.3zM269.6 807.1h30.3v8.9h-30.3zM269.6 825h30.3v8.9h-30.3zM360.6 825h30.3v8.9h-30.3zM421.3 825h30.3v8.9h-30.3zM299.9 833.9h30.3v8.9h-30.3zM391 833.9h30.3v8.9h-30.3zM178.6 842.9h30.3v8.9h-30.3zM178.6 851.8h30.3v8.9h-30.3zM269.6 851.8h30.3v8.9h-30.3zM178.6 860.8h30.3v8.9h-30.3zM269.6 887.6h30.3v8.9h-30.3zM178.6 896.5h30.3v8.9h-30.3zM269.6 896.5h30.3v8.9h-30.3zM269.6 905.5h30.3v8.9h-30.3zM178.6 923.4h30.3v8.9h-30.3zM360.6 950.2h30.3v8.9h-30.3zM391 959.2h30.3v8.9h-30.3zM360.6 1057.5h30.3v8.9h-30.3zM299.9 1093.3h30.3v8.9h-30.3zM299.9 1102.3h30.3v8.9h-30.3zM299.9 1111.2h30.3v8.9h-30.3zM330.3 1111.2h30.3v8.9h-30.3zM330.3 1129.1h30.3v8.9h-30.3z"/>
<path fill="#4C92C6" d="M360.6 538.8h30.3v8.9h-30.3zM360.6 556.7h30.3v8.9h-30.3zM391 681.9h30.3v8.9h-30.3zM391 744.5h30.3v8.9h-30.3zM421.3 869.7h30.3v8.9h-30.3zM421.3 896.5h30.3v8.9h-30.3zM391 914.4h30.3v8.9h-30.3zM421.3 968.1h30.3v8.9h-30.3zM391 994.9h30.3v8.9h-30.3zM391 1003.9h30.3v8.9h-30.3zM391 1012.8h30.3v8.9h-30.3zM391 1021.8h30.3v8.9h-30.3zM421.3 1048.6h30.3v8.9h-30.3zM391 1075.4h30.3v8.9h-30.3zM391 1084.4h30.3v8.9h-30.3zM391 1102.3h30.3v8.9h-30.3zM391 1111.2h30.3v8.9h-30.3zM391 1129.1h30.3v8.9h-30.3zM421.3 1129.1h30.3v8.9h-30.3zM391 1138h30.3v8.9h-30.3zM421.3 1138h30.3v8.9h-30.3zM421.3 1147h30.3v8.9h-30.3zM391 1155.9h30.3v8.9h-30.3zM391 1164.9h30.3v8.9h-30.3z"/>
<path fill="#F1F2F3" d="M178.6 547.7h30.3v8.9h-30.3zM239.2 556.7h30.3v8.9h-30.3zM391 556.7h30.3v8.9h-30.3zM208.9 565.6h30.3v8.9h-30.3zM239.2 565.6h30.3v8.9h-30.3zM421.3 565.6h30.3v8.9h-30.3zM421.3 574.6h30.3v8.9h-30.3zM239.2 592.5h30.3v8.9h-30.3zM421.3 592.5h30.3v8.9h-30.3zM239.2 637.2h30.3v8.9h-30.3zM178.6 646.1h30.3v8.9h-30.3zM239.2 646.1h30.3v8.9h-30.3zM239.2 655.1h30.3v8.9h-30.3zM239.2 681.9h30.3v8.9h-30.3zM239.2 690.8h30.3v8.9h-30.3zM178.6 699.8h30.3v8.9h-30.3zM178.6 708.7h30.3v8.9h-30.3zM178.6 717.7h30.3v8.9h-30.3zM208.9 726.6h30.3v8.9h-30.3zM208.9 735.6h30.3v8.9h-30.3zM208.9 744.5h30.3v8.9h-30.3zM239.2 744.5h30.3v8.9h-30.3zM178.6 753.4h30.3v8.9h-30.3zM208.9 762.4h30.3v8.9h-30.3zM239.2 762.4h30.3v8.9h-30.3zM330.3 762.4h30.3v8.9h-30.3zM178.6 771.3h30.3v8.9h-30.3zM330.3 771.3h30.3v8.9h-30.3zM239.2 780.3h30.3v8.9h-30.3zM208.9 789.2h30.3v8.9h-30.3zM239.2 789.2h30.3v8.9h-30.3zM208.9 798.2h30.3v8.9h-30.3zM178.6 807.1h30.3v8.9h-30.3zM208.9 816.1h30.3v8.9h-30.3zM87.5 825h30.3v8.9h-30.3zM208.9 825h30.3v8.9h-30.3zM330.3 825h30.3v8.9h-30.3zM330.3 833.9h30.3v8.9h-30.3zM299.9 842.9h30.3v8.9h-30.3zM239.2 851.8h30.3v8.9h-30.3zM299.9 851.8h30.3v8.9h-30.3zM239.2 860.8h30.3v8.9h-30.3zM239.2 869.7h30.3v8.9h-30.3zM299.9 869.7h30.3v8.9h-30.3zM330.3 869.7h30.3v8.9h-30.3zM208.9 878.7h30.3v8.9h-30.3zM330.3 878.7h30.3v8.9h-30.3zM299.9 887.6h30.3v8.9h-30.3zM87.5 905.5h30.3v8.9h-30.3zM269.6 914.4h30.3v8.9h-30.3zM330.3 923.4h30.3v8.9h-30.3zM299.9 932.3h30.3v8.9h-30.3zM208.9 941.3h30.3v8.9h-30.3zM239.2 941.3h30.3v8.9h-30.3zM269.6 941.3h30.3v8.9h-30.3zM299.9 941.3h30.3v8.9h-30.3zM178.6 950.2h30.3v8.9h-30.3zM178.6 959.2h30.3v8.9h-30.3zM269.6 959.2h30.3v8.9h-30.3zM360.6 977h30.3v8.9h-30.3zM239.2 986h30.3v8.9h-30.3zM299.9 986h30.3v8.9h-30.3zM208.9 1021.8h30.3v8.9h-30.3zM299.9 1030.7h30.3v8.9h-30.3zM239.2 1039.6h30.3v8.9h-30.3zM299.9 1039.6h30.3v8.9h-30.3zM208.9 1057.5h30.3v8.9h-30.3zM299.9 1066.5h30.3v8.9h-30.3zM208.9 1075.4h30.3v8.9h-30.3zM299.9 1075.4h30.3v8.9h-30.3zM239.2 1084.4h30.3v8.9h-30.3zM269.6 1084.4h30.3v8.9h-30.3zM208.9 1093.3h30.3v8.9h-30.3zM360.6 1093.3h30.3v8.9h-30.3zM239.2 1102.3h30.3v8.9h-30.3zM330.3 1102.3h30.3v8.9h-30.3zM360.6 1102.3h30.3v8.9h-30.3zM208.9 1111.2h30.3v8.9h-30.3zM269.6 1111.2h30.3v8.9h-30.3zM178.6 1138h30.3v8.9h-30.3zM208.9 1138h30.3v8.9h-30.3zM239.2 1147h30.3v8.9h-30.3zM208.9 1164.9h30.3v8.9h-30.3zM269.6 1164.9h30.3v8.9h-30.3z"/>
<path fill="#98C6E1" d="M299.9 547.7h30.3v8.9h-30.3zM269.6 556.7h30.3v8.9h-30.3zM269.6 565.6h30.3v8.9h-30.3zM360.6 574.6h30.3v8.9h-30.3zM269.6 583.5h30.3v8.9h-30.3zM360.6 592.5h30.3v8.9h-30.3zM299.9 601.4h30.3v8.9h-30.3zM299.9 610.3h30.3v8.9h-30.3zM391 610.3h30.3v8.9h-30.3zM421.3 628.2h30.3v8.9h-30.3zM360.6 637.2h30.3v8.9h-30.3zM421.3 637.2h30.3v8.9h-30.3zM391 646.1h30.3v8.9h-30.3zM360.6 655.1h30.3v8.9h-30.3zM421.3 664h30.3v8.9h-30.3zM299.9 673h30.3v8.9h-30.3zM299.9 717.7h30.3v8.9h-30.3zM391 735.6h30.3v8.9h-30.3zM421.3 735.6h30.3v8.9h-30.3zM391 753.4h30.3v8.9h-30.3zM391 762.4h30.3v8.9h-30.3zM360.6 771.3h30.3v8.9h-30.3zM421.3 771.3h30.3v8.9h-30.3zM360.6 789.2h30.3v8.9h-30.3zM421.3 798.2h30.3v8.9h-30.3zM269.6 816.1h30.3v8.9h-30.3zM330.3 816.1h30.3v8.9h-30.3zM360.6 816.1h30.3v8.9h-30.3zM178.6 825h30.3v8.9h-30.3zM269.6 833.9h30.3v8.9h-30.3zM421.3 833.9h30.3v8.9h-30.3zM269.6 842.9h30.3v8.9h-30.3zM391 842.9h30.3v8.9h-30.3zM391 851.8h30.3v8.9h-30.3zM421.3 851.8h30.3v8.9h-30.3zM391 860.8h30.3v8.9h-30.3zM391 869.7h30.3v8.9h-30.3zM360.6 878.7h30.3v8.9h-30.3zM360.6 887.6h30.3v8.9h-30.3zM178.6 905.5h30.3v8.9h-30.3zM391 941.3h30.3v8.9h-30.3zM391 950.2h30.3v8.9h-30.3zM360.6 1075.4h30.3v8.9h-30.3zM299.9 1084.4h30.3v8.9h-30.3zM421.3 1111.2h30.3v8.9h-30.3zM299.9 1120.1h30.3v8.9h-30.3zM391 1120.1h30.3v8.9h-30.3z"/>
<path fill="#70ABD4" d="M360.6 547.7h30.3v8.9h-30.3zM360.6 565.6h30.3v8.9h-30.3zM360.6 583.5h30.3v8.9h-30.3zM330.3 619.3h30.3v8.9h-30.3zM391 699.8h30.3v8.9h-30.3zM391 708.7h30.3v8.9h-30.3zM391 717.7h30.3v8.9h-30.3zM391 726.6h30.3v8.9h-30.3zM421.3 726.6h30.3v8.9h-30.3zM421.3 744.5h30.3v8.9h-30.3zM421.3 753.4h30.3v8.9h-30.3zM421.3 762.4h30.3v8.9h-30.3zM391 771.3h30.3v8.9h-30.3zM391 780.3h30.3v8.9h-30.3zM360.6 807.1h30.3v8.9h-30.3zM269.6 878.7h30.3v8.9h-30.3zM391 878.7h30.3v8.9h-30.3zM391 887.6h30.3v8.9h-30.3zM391 896.5h30.3v8.9h-30.3zM391 905.5h30.3v8.9h-30.3zM421.3 905.5h30.3v8.9h-30.3zM421.3 923.4h30.3v8.9h-30.3zM391 932.3h30.3v8.9h-30.3zM391 986h30.3v8.9h-30.3zM391 1030.7h30.3v8.9h-30.3zM391 1039.6h30.3v8.9h-30.3zM391 1048.6h30.3v8.9h-30.3zM391 1057.5h30.3v8.9h-30.3zM421.3 1066.5h30.3v8.9h-30.3zM421.3 1075.4h30.3v8.9h-30.3zM421.3 1084.4h30.3v8.9h-30.3zM421.3 1120.1h30.3v8.9h-30.3zM391 1147h30.3v8.9h-30.3zM421.3 1155.9h30.3v8.9h-30.3zM421.3 1164.9h30.3v8.9h-30.3z"/>
<path fill="#C83E3C" d="M148.2 556.7h30.3v8.9h-30.3zM148.2 565.6h30.3v8.9h-30.3zM117.8 601.4h30.3v8.9h-30.3zM148.2 628.2h30.3v8.9h-30.3zM117.8 637.2h30.3v8.9h-30.3zM87.5 673h30.3v8.9h-30.3zM87.5 699.8h30.3v8.9h-30.3zM87.5 726.6h30.3v8.9h-30.3zM87.5 780.3h30.3v8.9h-30.3zM148.2 807.1h30.3v8.9h-30.3zM117.8 816.1h30.3v8.9h-30.3zM117.8 833.9h30.3v8.9h-30.3zM117.8 842.9h30.3v8.9h-30.3zM117.8 851.8h30.3v8.9h-30.3zM117.8 869.7h30.3v8.9h-30.3zM117.8 905.5h30.3v8.9h-30.3zM87.5 1084.4h30.3v8.9h-30.3zM87.5 1111.2h30.3v8.9h-30.3zM87.5 1120.1h30.3v8.9h-30.3zM87.5 1155.9h30.3v8.9h-30.3z"/>
<path fill="#F5B396" d="M87.5 565.6h30.3v8.9h-30.3zM208.9 619.3h30.3v8.9h-30.3zM117.8 664h30.3v8.9h-30.3zM178.6 690.8h30.3v8.9h-30.3zM239.2 816.1h30.3v8.9h-30.3zM239.2 825h30.3v8.9h-30.3zM208.9 842.9h30.3v8.9h-30.3zM87.5 860.8h30.3v8.9h-30.3zM87.5 869.7h30.3v8.9h-30.3zM87.5 887.6h30.3v8.9h-30.3zM239.2 887.6h30.3v8.9h-30.3zM148.2 896.5h30.3v8.9h-30.3zM208.9 896.5h30.3v8.9h-30.3zM239.2 896.5h30.3v8.9h-30.3zM330.3 896.5h30.3v8.9h-30.3zM208.9 914.4h30.3v8.9h-30.3zM87.5 932.3h30.3v8.9h-30.3zM117.8 941.3h30.3v8.9h-30.3zM117.8 968.1h30.3v8.9h-30.3zM117.8 977h30.3v8.9h-30.3zM148.2 977h30.3v8.9h-30.3zM117.8 986h30.3v8.9h-30.3zM148.2 986h30.3v8.9h-30.3zM148.2 994.9h30.3v8.9h-30.3zM87.5 1003.9h30.3v8.9h-30.3zM148.2 1003.9h30.3v8.9h-30.3zM117.8 1012.8h30.3v8.9h-30.3zM87.5 1048.6h30.3v8.9h-30.3zM87.5 1066.5h30.3v8.9h-30.3zM239.2 1066.5h30.3v8.9h-30.3zM117.8 1084.4h30.3v8.9h-30.3zM148.2 1084.4h30.3v8.9h-30.3zM178.6 1084.4h30.3v8.9h-30.3zM208.9 1084.4h30.3v8.9h-30.3zM87.5 1093.3h30.3v8.9h-30.3zM178.6 1093.3h30.3v8.9h-30.3zM148.2 1102.3h30.3v8.9h-30.3zM208.9 1102.3h30.3v8.9h-30.3zM178.6 1111.2h30.3v8.9h-30.3zM117.8 1120.1h30.3v8.9h-30.3zM87.5 1129.1h30.3v8.9h-30.3zM117.8 1147h30.3v8.9h-30.3zM178.6 1147h30.3v8.9h-30.3zM117.8 1155.9h30.3v8.9h-30.3z"/>
<path fill="#B41F2E" d="M117.8 592.5h30.3v8.9h-30.3zM87.5 664h30.3v8.9h-30.3zM117.8 825h30.3v8.9h-30.3z"/>
<path fill="#2F74B3" d="M391 690.8h30.3v8.9h-30.3zM421.3 860.8h30.3v8.9h-30.3zM421.3 914.4h30.3v8.9h-30.3zM391 923.4h30.3v8.9h-30.3zM421.3 941.3h30.3v8.9h-30.3zM421.3 950.2h30.3v8.9h-30.3zM421.3 959.2h30.3v8.9h-30.3zM391 968.1h30.3v8.9h-30.3zM391 977h30.3v8.9h-30.3zM421.3 977h30.3v8.9h-30.3zM421.3 986h30.3v8.9h-30.3zM421.3 994.9h30.3v8.9h-30.3zM421.3 1003.9h30.3v8.9h-30.3zM421.3 1012.8h30.3v8.9h-30.3zM421.3 1021.8h30.3v8.9h-30.3zM421.3 1030.7h30.3v8.9h-30.3zM421.3 1039.6h30.3v8.9h-30.3zM421.3 1057.5h30.3v8.9h-30.3zM391 1066.5h30.3v8.9h-30.3zM391 1093.3h30.3v8.9h-30.3zM421.3 1093.3h30.3v8.9h-30.3zM421.3 1102.3h30.3v8.9h-30.3z"/>
<path fill="#123E78" d="M421.3 932.3h30.3v8.9h-30.3z"/>
<path fill="none" stroke="#2c2c2c" stroke-width="0.85" d="M87.5 538.8H451.7M87.5 547.7H451.7M87.5 556.7H451.7M87.5 565.6H451.7M87.5 574.6H451.7M87.5 583.5H451.7M87.5 592.5H451.7M87.5 601.4H451.7M87.5 610.3H451.7M87.5 619.3H451.7M87.5 628.2H451.7M87.5 637.2H451.7M87.5 646.1H451.7M87.5 655.1H451.7M87.5 664H451.7M87.5 673H451.7M87.5 681.9H451.7M87.5 690.8H451.7M87.5 699.8H451.7M87.5 708.7H451.7M87.5 717.7H451.7M87.5 726.6H451.7M87.5 735.6H451.7M87.5 744.5H451.7M87.5 753.4H451.7M87.5 762.4H451.7M87.5 771.3H451.7M87.5 780.3H451.7M87.5 789.2H451.7M87.5 798.2H451.7M87.5 807.1H451.7M87.5 816.1H451.7M87.5 825H451.7M87.5 833.9H451.7M87.5 842.9H451.7M87.5 851.8H451.7M87.5 860.8H451.7M87.5 869.7H451.7M87.5 878.7H451.7M87.5 887.6H451.7M87.5 896.5H451.7M87.5 905.5H451.7M87.5 914.4H451.7M87.5 923.4H451.7M87.5 932.3H451.7M87.5 941.3H451.7M87.5 950.2H451.7M87.5 959.2H451.7M87.5 968.1H451.7M87.5 977H451.7M87.5 986H451.7M87.5 994.9H451.7M87.5 1003.9H451.7M87.5 1012.8H451.7M87.5 1021.8H451.7M87.5 1030.7H451.7M87.5 1039.6H451.7M87.5 1048.6H451.7M87.5 1057.5H451.7M87.5 1066.5H451.7M87.5 1075.4H451.7M87.5 1084.4H451.7M87.5 1093.3H451.7M87.5 1102.3H451.7M87.5 1111.2H451.7M87.5 1120.1H451.7M87.5 1129.1H451.7M87.5 1138H451.7M87.5 1147H451.7M87.5 1155.9H451.7M87.5 1164.9H451.7M87.5 1173.8H451.7M87.5 538.8V1173.8M117.8 538.8V1173.8M148.2 538.8V1173.8M178.6 538.8V1173.8M208.9 538.8V1173.8M239.2 538.8V1173.8M269.6 538.8V1173.8M299.9 538.8V1173.8M330.3 538.8V1173.8M360.6 538.8V1173.8M391 538.8V1173.8M421.3 538.8V1173.8M451.7 538.8V1173.8"/>
<path fill="#9A0F28" d="M87.5 1180.3h30.3v8.6h-30.3zM148.2 1180.3h30.3v8.6h-30.3zM87.5 1188.9h30.3v8.6h-30.3zM117.8 1188.9h30.3v8.6h-30.3zM148.2 1188.9h30.3v8.6h-30.3zM117.8 1197.6h30.3v8.6h-30.3z"/>
<path fill="#C83E3C" d="M117.8 1180.3h30.3v8.6h-30.3z"/>
<path fill="#E4EDF4" d="M178.6 1180.3h30.3v8.6h-30.3zM269.6 1180.3h30.3v8.6h-30.3zM360.6 1180.3h30.3v8.6h-30.3zM330.3 1188.9h30.3v8.6h-30.3zM299.9 1197.6h30.3v8.6h-30.3z"/>
<path fill="#D3E5F0" d="M208.9 1180.3h30.3v8.6h-30.3zM299.9 1180.3h30.3v8.6h-30.3zM178.6 1188.9h30.3v8.6h-30.3zM178.6 1197.6h30.3v8.6h-30.3z"/>
<path fill="#F1F2F3" d="M239.2 1180.3h30.3v8.6h-30.3zM330.3 1180.3h30.3v8.6h-30.3zM208.9 1188.9h30.3v8.6h-30.3zM239.2 1188.9h30.3v8.6h-30.3zM299.9 1188.9h30.3v8.6h-30.3zM330.3 1197.6h30.3v8.6h-30.3z"/>
<path fill="#1C4F8E" d="M391 1180.3h30.3v8.6h-30.3z"/>
<path fill="#2F74B3" d="M421.3 1180.3h30.3v8.6h-30.3z"/>
<path fill="#98C6E1" d="M269.6 1188.9h30.3v8.6h-30.3z"/>
<path fill="#70ABD4" d="M360.6 1188.9h30.3v8.6h-30.3z"/>
<path fill="#4C92C6" d="M391 1188.9h30.3v8.6h-30.3zM421.3 1188.9h30.3v8.6h-30.3zM391 1197.6h30.3v8.6h-30.3z"/>
<path fill="#DB6651" d="M87.5 1197.6h30.3v8.6h-30.3z"/>
<path fill="#B41F2E" d="M148.2 1197.6h30.3v8.6h-30.3z"/>
<path fill="#FBE4DA" d="M208.9 1197.6h30.3v8.6h-30.3zM239.2 1197.6h30.3v8.6h-30.3z"/>
<path fill="#B8D7EA" d="M269.6 1197.6h30.3v8.6h-30.3zM360.6 1197.6h30.3v8.6h-30.3z"/>
<path fill="#123E78" d="M421.3 1197.6h30.3v8.6h-30.3z"/>
<path fill="none" stroke="#2c2c2c" stroke-width="0.85" d="M87.5 1180.3H451.7M87.5 1188.9H451.7M87.5 1197.6H451.7M87.5 1206.2H451.7M87.5 1180.3V1206.2M117.8 1180.3V1206.2M148.2 1180.3V1206.2M178.6 1180.3V1206.2M208.9 1180.3V1206.2M239.2 1180.3V1206.2M269.6 1180.3V1206.2M299.9 1180.3V1206.2M330.3 1180.3V1206.2M360.6 1180.3V1206.2M391 1180.3V1206.2M421.3 1180.3V1206.2M451.7 1180.3V1206.2"/>
<line x1="92.7" y1="531.2" x2="172" y2="531.2" stroke="#000" stroke-width="2.3"/>
<text x="129.5" y="524.2" font-size="21.8" text-anchor="middle" fill="#000">d25</text>
<line x1="184.7" y1="531.2" x2="264" y2="531.2" stroke="#000" stroke-width="2.3"/>
<text x="221.5" y="524.2" font-size="21.8" text-anchor="middle" fill="#000">d50</text>
<line x1="273.9" y1="531.2" x2="353.2" y2="531.2" stroke="#000" stroke-width="2.3"/>
<text x="310.7" y="524.2" font-size="21.8" text-anchor="middle" fill="#000">d75</text>
<line x1="365.9" y1="531.2" x2="445.2" y2="531.2" stroke="#000" stroke-width="2.3"/>
<text x="405.5" y="524.2" font-size="21.8" text-anchor="middle" fill="#000">d100</text>
<defs><linearGradient id="cb1" x1="0" y1="0" x2="0" y2="1"><stop offset="0.00" stop-color="#67001F"/><stop offset="0.10" stop-color="#B2182B"/><stop offset="0.20" stop-color="#D6604D"/><stop offset="0.30" stop-color="#F4A582"/><stop offset="0.40" stop-color="#FDDBC7"/><stop offset="0.50" stop-color="#F7F7F7"/><stop offset="0.60" stop-color="#D1E5F0"/><stop offset="0.70" stop-color="#92C5DE"/><stop offset="0.80" stop-color="#4393C3"/><stop offset="0.90" stop-color="#2166AC"/><stop offset="1.00" stop-color="#053061"/></linearGradient></defs>
<rect x="66.4" y="540.4" width="7.5" height="89.4" fill="url(#cb1)"/>
<text x="58.3" y="554.1" font-size="20.5" text-anchor="end" fill="#000">2</text>
<text x="58.3" y="570.8" font-size="20.5" text-anchor="end" fill="#000">1</text>
<text x="58.3" y="588" font-size="20.5" text-anchor="end" fill="#000">0</text>
<text x="58.3" y="604.7" font-size="20.5" text-anchor="end" fill="#000">−1</text>
<text x="58.3" y="621.4" font-size="20.5" text-anchor="end" fill="#000">−2</text>
<rect x="67.4" y="1116.7" width="7" height="89.3" fill="url(#cb1)"/>
<text x="58" y="1130" font-size="20" text-anchor="end" fill="#000">1.5</text>
<text x="58" y="1168" font-size="20" text-anchor="end" fill="#000">0</text>
<text x="58" y="1205.5" font-size="20" text-anchor="end" fill="#000">−1.5</text>
<text x="0" y="0" font-size="20.5" text-anchor="middle" fill="#000" transform="translate(56,691) rotate(-90)">Normalized</text>
<text x="0" y="0" font-size="20.5" text-anchor="middle" fill="#000" transform="translate(75,691) rotate(-90)">expression</text>
<text x="0" y="0" font-size="20.5" text-anchor="middle" fill="#000" transform="translate(56,1053) rotate(-90)">Normalized</text>
<text x="0" y="0" font-size="20.5" text-anchor="middle" fill="#000" transform="translate(75,1053) rotate(-90)">expression</text>
<line x1="459.8" y1="550.9" x2="471.5" y2="550.9" stroke="#000" stroke-width="1.3"/>
<text x="479.4" y="558.3" font-size="20.8" text-anchor="start" fill="#000" font-style="italic">EZH2</text>
<line x1="459.8" y1="677.7" x2="471.5" y2="670.2" stroke="#000" stroke-width="1.3"/>
<text x="479.4" y="678.3" font-size="20.8" text-anchor="start" fill="#000" font-style="italic">MTA2</text>
<line x1="459.8" y1="687.4" x2="471.5" y2="694.2" stroke="#000" stroke-width="1.3"/>
<text x="479.4" y="702.1" font-size="20.8" text-anchor="start" fill="#000" font-style="italic">RBBP4</text>
<text x="479.4" y="725.8" font-size="20.8" text-anchor="start" fill="#000" font-style="italic">BRD1</text>
<line x1="459.8" y1="733" x2="471.5" y2="727" stroke="#000" stroke-width="1.3"/>
<text x="479.4" y="745.1" font-size="20.8" text-anchor="start" fill="#000" font-style="italic">RCOR2</text>
<line x1="459.8" y1="741.7" x2="471.5" y2="741.7" stroke="#000" stroke-width="1.3"/>
<line x1="459.8" y1="749.7" x2="471.5" y2="756.5" stroke="#000" stroke-width="1.3"/>
<text x="479.4" y="765.4" font-size="20.8" text-anchor="start" fill="#000" font-style="italic">SMARCE1</text>
<line x1="459.8" y1="776.6" x2="471.5" y2="776.6" stroke="#000" stroke-width="1.3"/>
<text x="479.4" y="784" font-size="20.8" text-anchor="start" fill="#000" font-style="italic">KDM5B</text>
<line x1="459.8" y1="803.8" x2="471.5" y2="803.8" stroke="#000" stroke-width="1.3"/>
<text x="479.4" y="809.6" font-size="20.8" text-anchor="start" fill="#000" font-style="italic">SMARCD1</text>
<line x1="459.8" y1="845" x2="471.5" y2="845" stroke="#000" stroke-width="1.3"/>
<text x="479.4" y="852.6" font-size="20.8" text-anchor="start" fill="#000" font-style="italic">SMARCA4</text>
<line x1="459.8" y1="943.9" x2="471.5" y2="935.3" stroke="#000" stroke-width="1.3"/>
<text x="479.4" y="933.5" font-size="20.8" text-anchor="start" fill="#000" font-style="italic">MTF2</text>
<line x1="459.8" y1="958.3" x2="471.5" y2="950.8" stroke="#000" stroke-width="1.3"/>
<text x="479.4" y="953.9" font-size="20.8" text-anchor="start" fill="#000" font-style="italic">EPC1</text>
<line x1="459.8" y1="973.3" x2="471.5" y2="969" stroke="#000" stroke-width="1.3"/>
<text x="479.4" y="973.2" font-size="20.8" text-anchor="start" fill="#000" font-style="italic">RNF2</text>
<line x1="459.8" y1="982.9" x2="471.5" y2="982.9" stroke="#000" stroke-width="1.3"/>
<text x="479.4" y="990.3" font-size="20.8" text-anchor="start" fill="#000" font-style="italic">CHD3</text>
<line x1="459.8" y1="1009.7" x2="471.5" y2="1003.3" stroke="#000" stroke-width="1.3"/>
<text x="479.4" y="1008.5" font-size="20.8" text-anchor="start" fill="#000" font-style="italic">KMT5B</text>
<line x1="459.8" y1="1019.8" x2="471.5" y2="1019.8" stroke="#000" stroke-width="1.3"/>
<text x="479.4" y="1027.8" font-size="20.8" text-anchor="start" fill="#000" font-style="italic">EPC2</text>
<line x1="459.8" y1="1031.2" x2="471.5" y2="1038.7" stroke="#000" stroke-width="1.3"/>
<text x="479.4" y="1047.1" font-size="20.8" text-anchor="start" fill="#000" font-style="italic">SMARCAD1</text>
<line x1="459.8" y1="1071.5" x2="471.5" y2="1064.4" stroke="#000" stroke-width="1.3"/>
<text x="479.4" y="1065.4" font-size="20.8" text-anchor="start" fill="#000" font-style="italic">CBX5</text>
<line x1="459.8" y1="1080.5" x2="471.5" y2="1088" stroke="#000" stroke-width="1.3"/>
<text x="479.4" y="1097.1" font-size="20.8" text-anchor="start" fill="#000" font-style="italic">HDAC2</text>
<line x1="459.8" y1="1141.1" x2="471.5" y2="1141.1" stroke="#000" stroke-width="1.3"/>
<text x="479.4" y="1147.9" font-size="20.8" text-anchor="start" fill="#000" font-style="italic">KDM1A</text>
<line x1="459.8" y1="1186.6" x2="471.5" y2="1179.5" stroke="#000" stroke-width="1.3"/>
<text x="479.4" y="1181.1" font-size="20.8" text-anchor="start" fill="#000" font-style="italic">KLF12</text>
<line x1="459.8" y1="1196.3" x2="471.5" y2="1196.3" stroke="#000" stroke-width="1.3"/>
<text x="479.4" y="1202.2" font-size="20.8" text-anchor="start" fill="#000" font-style="italic">SOX4</text>
<line x1="459.8" y1="1207" x2="471.5" y2="1214" stroke="#000" stroke-width="1.3"/>
<text x="479.4" y="1223" font-size="20.8" text-anchor="start" fill="#000" font-style="italic">SOX11</text>
<text x="831.5" y="27.8" font-size="35.5" text-anchor="start" fill="#000" font-weight="bold" stroke="#000" stroke-width="0.9">c</text>
<text x="932.5" y="60.8" font-size="21" fill="#000">LV-gRNA-<tspan fill="#E3262B">dTomato</tspan></text>
<line x1="1057" y1="79.7" x2="1083" y2="103" stroke="#000" stroke-width="2"/>
<path d="M1089,108.5 L1078.5,104.5 L1084.5,98 Z" fill="#000"/>
<line x1="924" y1="142.3" x2="929.5" y2="142.3" stroke="#000" stroke-width="2.2"/>
<line x1="934" y1="142.3" x2="940" y2="142.3" stroke="#000" stroke-width="2.2"/>
<path d="M951.6,142.3 L939.6,136.8 L943.1,142.3 L939.6,147.8 Z" fill="#000"/>
<line x1="1040.8" y1="142.3" x2="1046.3" y2="142.3" stroke="#000" stroke-width="2.2"/>
<line x1="1050.8" y1="142.3" x2="1056.8" y2="142.3" stroke="#000" stroke-width="2.2"/>
<path d="M1068.4,142.3 L1056.4,136.8 L1059.9,142.3 L1056.4,147.8 Z" fill="#000"/>
<line x1="1119" y1="142.3" x2="1124.5" y2="142.3" stroke="#000" stroke-width="2.2"/>
<line x1="1129" y1="142.3" x2="1135" y2="142.3" stroke="#000" stroke-width="2.2"/>
<path d="M1147,142.3 L1135,136.8 L1138.5,142.3 L1135,147.8 Z" fill="#000"/>
<defs><radialGradient id="gcell" cx="0.4" cy="0.35" r="0.7"><stop offset="0" stop-color="#FAFAFA"/><stop offset="1" stop-color="#D2D2D2"/></radialGradient><radialGradient id="rcell" cx="0.4" cy="0.35" r="0.7"><stop offset="0" stop-color="#F47272"/><stop offset="1" stop-color="#DE2F2F"/></radialGradient><radialGradient id="pcell" cx="0.4" cy="0.4" r="0.7"><stop offset="0" stop-color="#FDE4E4"/><stop offset="1" stop-color="#F3B2B2"/></radialGradient></defs>
<ellipse cx="877.4" cy="135.7" rx="11" ry="10" fill="url(#gcell)" stroke="#333" stroke-width="0.8"/>
<circle cx="877.4" cy="136.2" r="5.2" fill="#BDBDBD" stroke="#666" stroke-width="0.7"/>
<ellipse cx="859.9" cy="125.2" rx="10" ry="12" fill="url(#gcell)" stroke="#333" stroke-width="0.8"/>
<circle cx="859.9" cy="125.7" r="5.2" fill="#BDBDBD" stroke="#666" stroke-width="0.7"/>
<ellipse cx="893.7" cy="122.9" rx="12" ry="10.5" fill="url(#gcell)" stroke="#333" stroke-width="0.8"/>
<circle cx="893.7" cy="123.4" r="5.2" fill="#BDBDBD" stroke="#666" stroke-width="0.7"/>
<ellipse cx="861" cy="147.4" rx="11.5" ry="10.5" fill="url(#gcell)" stroke="#333" stroke-width="0.8"/>
<circle cx="861" cy="147.9" r="5.2" fill="#BDBDBD" stroke="#666" stroke-width="0.7"/>
<ellipse cx="891.4" cy="151" rx="10.5" ry="11" fill="url(#gcell)" stroke="#333" stroke-width="0.8"/>
<circle cx="891.4" cy="151.5" r="5.2" fill="#BDBDBD" stroke="#666" stroke-width="0.7"/>
<ellipse cx="872.7" cy="161.4" rx="12" ry="10" fill="url(#gcell)" stroke="#333" stroke-width="0.8"/>
<circle cx="872.7" cy="161.9" r="5.2" fill="#BDBDBD" stroke="#666" stroke-width="0.7"/>
<ellipse cx="996" cy="134.6" rx="9.5" ry="8" fill="url(#rcell)" stroke="#5a0a0a" stroke-width="0.8"/>
<circle cx="996.5" cy="135.1" r="5" fill="#E64444" stroke="#6a1010" stroke-width="0.7"/>
<circle cx="996.5" cy="135.1" r="3.3" fill="none" stroke="#F9C0C0" stroke-width="0.9"/>
<ellipse cx="983.6" cy="127.6" rx="9.5" ry="8.5" fill="url(#rcell)" stroke="#5a0a0a" stroke-width="0.8"/>
<circle cx="984.1" cy="128.1" r="5" fill="#E64444" stroke="#6a1010" stroke-width="0.7"/>
<circle cx="984.1" cy="128.1" r="3.3" fill="none" stroke="#F9C0C0" stroke-width="0.9"/>
<ellipse cx="1008" cy="125.2" rx="8.5" ry="9.5" fill="url(#rcell)" stroke="#5a0a0a" stroke-width="0.8"/>
<circle cx="1008.5" cy="125.7" r="5" fill="#E64444" stroke="#6a1010" stroke-width="0.7"/>
<circle cx="1008.5" cy="125.7" r="3.3" fill="none" stroke="#F9C0C0" stroke-width="0.9"/>
<ellipse cx="977.8" cy="145" rx="9" ry="8.5" fill="url(#rcell)" stroke="#5a0a0a" stroke-width="0.8"/>
<circle cx="978.3" cy="145.5" r="5" fill="#E64444" stroke="#6a1010" stroke-width="0.7"/>
<circle cx="978.3" cy="145.5" r="3.3" fill="none" stroke="#F9C0C0" stroke-width="0.9"/>
<ellipse cx="1024.5" cy="138" rx="8.5" ry="9" fill="url(#rcell)" stroke="#5a0a0a" stroke-width="0.8"/>
<circle cx="1025" cy="138.5" r="5" fill="#E64444" stroke="#6a1010" stroke-width="0.7"/>
<circle cx="1025" cy="138.5" r="3.3" fill="none" stroke="#F9C0C0" stroke-width="0.9"/>
<ellipse cx="994" cy="151" rx="9.5" ry="9" fill="url(#rcell)" stroke="#5a0a0a" stroke-width="0.8"/>
<circle cx="994.5" cy="151.5" r="5" fill="#E64444" stroke="#6a1010" stroke-width="0.7"/>
<circle cx="994.5" cy="151.5" r="3.3" fill="none" stroke="#F9C0C0" stroke-width="0.9"/>
<ellipse cx="1012.4" cy="148.6" rx="9.5" ry="8.5" fill="url(#rcell)" stroke="#5a0a0a" stroke-width="0.8"/>
<circle cx="1012.9" cy="149.1" r="5" fill="#E64444" stroke="#6a1010" stroke-width="0.7"/>
<circle cx="1012.9" cy="149.1" r="3.3" fill="none" stroke="#F9C0C0" stroke-width="0.9"/>
<ellipse cx="1010.5" cy="161" rx="9" ry="8.5" fill="url(#rcell)" stroke="#5a0a0a" stroke-width="0.8"/>
<circle cx="1011" cy="161.5" r="5" fill="#E64444" stroke="#6a1010" stroke-width="0.7"/>
<circle cx="1011" cy="161.5" r="3.3" fill="none" stroke="#F9C0C0" stroke-width="0.9"/>
<g stroke-linecap="round" stroke-linejoin="round">
<path d="M1100,140 L1141,92 L1147.5,51 M1141,92 L1157.5,92.5" fill="none" stroke="#4a2020" stroke-width="3.2"/>
<path d="M1147.5,51.5 L1145,48.5 M1147.5,51.5 L1150.5,49.5 M1157.5,92.5 L1159,90 M1157.5,92.5 L1159.5,95" fill="none" stroke="#6a2a2a" stroke-width="1.3"/>
<path d="M1100,140 L1141,92 L1147.5,51 M1141,92 L1157.5,92.5" fill="none" stroke="#EC6464" stroke-width="1.7"/>
</g>
<line x1="1085" y1="155.5" x2="1070.5" y2="161.5" stroke="#000" stroke-width="1.3"/>
<path d="M1080.5,151 C1081,144 1088,140.5 1095,139.5 L1100,136 L1104,139.5 C1105,146 1105,152.5 1100,156 C1094,159.5 1087,159 1082.5,155.5 Z" fill="url(#pcell)" stroke="#3a1a1a" stroke-width="0.8"/>
<ellipse cx="1092.5" cy="149.5" rx="5.5" ry="3.8" transform="rotate(-25 1092.5 149.5)" fill="#EE7A7A" stroke="#B04040" stroke-width="0.5"/>
<ellipse cx="1091.5" cy="149" rx="2.6" ry="1.7" transform="rotate(-25 1091.5 149)" fill="#FBD6D6"/>
<text x="853.6" y="211" font-size="20.5" text-anchor="start" fill="#000">hPSCs</text>
<text x="840" y="235" font-size="20.5" text-anchor="start" fill="#000" font-style="italic">GPI::cas9</text>
<text x="970" y="211" font-size="20.5" text-anchor="start" fill="#000">NPCs</text>
<text x="1048.7" y="211" font-size="21" text-anchor="start" fill="#000">Young neurons</text>
<text x="1099" y="235" font-size="21" text-anchor="start" fill="#000">(d25)</text>
<text x="1285" y="126.7" font-size="21" text-anchor="middle" fill="#000">Maturation readout:</text>
<text x="1157.8" y="151" font-size="20.3" text-anchor="start" fill="#000">WB NEFH and STX1A (d35)</text>
<text x="1197.7" y="175.4" font-size="21" fill="#000">Ca<tspan font-size="13" dy="-8">2+</tspan><tspan dy="8"> imaging (d40)</tspan></text>
<text x="1033.9" y="284.4" font-size="21" text-anchor="middle" fill="#F01A1A">dTomato</text>
<text x="1184" y="284.4" font-size="21" text-anchor="middle" fill="#1DA64E">GCamp6m</text>
<defs><filter id="bl" x="0" y="0" width="1" height="1"><feGaussianBlur stdDeviation="0.7"/></filter><clipPath id="cpr"><rect x="973.8" y="295.2" width="122" height="122"/></clipPath><clipPath id="cpg"><rect x="1123" y="295.2" width="122" height="122"/></clipPath></defs>
<g clip-path="url(#cpr)">
<rect x="973.8" y="295.2" width="122" height="122" fill="#240101"/>
<g filter="url(#bl)">
<circle cx="1029" cy="363.5" r="9.5" fill="#A00808" fill-opacity="0.2"/>
<circle cx="1035.8" cy="366.9" r="5.1" fill="#A00808" fill-opacity="0.2"/>
<circle cx="1050.6" cy="391.9" r="4.6" fill="#A00808" fill-opacity="0.1"/>
<circle cx="984.9" cy="394" r="8.2" fill="#A00808" fill-opacity="0.1"/>
<circle cx="1093.6" cy="412.9" r="7.9" fill="#A00808" fill-opacity="0.2"/>
<circle cx="993" cy="297" r="7.2" fill="#A00808" fill-opacity="0.1"/>
<circle cx="997" cy="324.7" r="4.2" fill="#A00808" fill-opacity="0.2"/>
<circle cx="1027.5" cy="398" r="7.1" fill="#A00808" fill-opacity="0.2"/>
<circle cx="1034.8" cy="376" r="6.7" fill="#A00808" fill-opacity="0.1"/>
<circle cx="1095.5" cy="416.7" r="9" fill="#A00808" fill-opacity="0.2"/>
<circle cx="1012.3" cy="323.2" r="5.7" fill="#A00808" fill-opacity="0.1"/>
<circle cx="1067.3" cy="344" r="9.1" fill="#A00808" fill-opacity="0.1"/>
<circle cx="1090.7" cy="398.6" r="4" fill="#A00808" fill-opacity="0.1"/>
<circle cx="1084.9" cy="352.5" r="9.9" fill="#A00808" fill-opacity="0.1"/>
<circle cx="982.7" cy="372" r="8.7" fill="#A00808" fill-opacity="0.1"/>
<circle cx="984.4" cy="335.8" r="9.8" fill="#A00808" fill-opacity="0.2"/>
<circle cx="988.2" cy="325.3" r="4.6" fill="#A00808" fill-opacity="0.1"/>
<circle cx="1071" cy="316.9" r="7.4" fill="#A00808" fill-opacity="0.2"/>
<circle cx="997.1" cy="384.5" r="4.8" fill="#A00808" fill-opacity="0.2"/>
<circle cx="988" cy="346.5" r="5.3" fill="#A00808" fill-opacity="0.1"/>
<circle cx="1092.3" cy="393.2" r="5.8" fill="#A00808" fill-opacity="0.2"/>
<circle cx="999.5" cy="343.3" r="9.1" fill="#A00808" fill-opacity="0.2"/>
<circle cx="986" cy="415.9" r="5.3" fill="#A00808" fill-opacity="0.1"/>
<circle cx="1068.1" cy="335.3" r="5.8" fill="#A00808" fill-opacity="0.1"/>
<circle cx="984.8" cy="366.3" r="5.5" fill="#A00808" fill-opacity="0.2"/>
<circle cx="1019.1" cy="350.5" r="9.8" fill="#A00808" fill-opacity="0.2"/>
<circle cx="1043.9" cy="400.9" r="5.1" fill="#A00808" fill-opacity="0.1"/>
<circle cx="1084.6" cy="395" r="5.5" fill="#A00808" fill-opacity="0.1"/>
<circle cx="1064" cy="409.9" r="5.2" fill="#A00808" fill-opacity="0.2"/>
<circle cx="1081.4" cy="368.8" r="6.5" fill="#A00808" fill-opacity="0.1"/>
<circle cx="978.5" cy="412.6" r="5.4" fill="#A00808" fill-opacity="0.2"/>
<circle cx="1005.2" cy="395.7" r="7.6" fill="#A00808" fill-opacity="0.1"/>
<circle cx="995.2" cy="383.1" r="4.4" fill="#A00808" fill-opacity="0.1"/>
<circle cx="1042" cy="399.2" r="7.7" fill="#A00808" fill-opacity="0.1"/>
<circle cx="1085.7" cy="320.1" r="4.1" fill="#A00808" fill-opacity="0.1"/>
<circle cx="1028.2" cy="302.6" r="5.1" fill="#A00808" fill-opacity="0.1"/>
<circle cx="1043.6" cy="311.3" r="6.2" fill="#A00808" fill-opacity="0.2"/>
<circle cx="1093.4" cy="375.3" r="8.1" fill="#A00808" fill-opacity="0.2"/>
<circle cx="990.9" cy="299.5" r="4.1" fill="#A00808" fill-opacity="0.2"/>
<circle cx="1059.3" cy="412.7" r="4.1" fill="#A00808" fill-opacity="0.2"/>
<circle cx="1032.6" cy="384.3" r="5.9" fill="#A00808" fill-opacity="0.2"/>
<circle cx="983" cy="361.8" r="8.4" fill="#A00808" fill-opacity="0.2"/>
<circle cx="1063.7" cy="381.1" r="8.8" fill="#A00808" fill-opacity="0.2"/>
<circle cx="1016.7" cy="378.8" r="9.4" fill="#A00808" fill-opacity="0.2"/>
<circle cx="1024.7" cy="391.6" r="9.2" fill="#A00808" fill-opacity="0.2"/>
<circle cx="1050" cy="341.8" r="7.5" fill="#A00808" fill-opacity="0.2"/>
<circle cx="983.6" cy="373.2" r="10" fill="#A00808" fill-opacity="0.2"/>
<circle cx="1062.6" cy="342.6" r="8.4" fill="#A00808" fill-opacity="0.2"/>
<circle cx="1027.5" cy="397.5" r="4.5" fill="#A00808" fill-opacity="0.2"/>
<circle cx="977.4" cy="368.6" r="6.9" fill="#A00808" fill-opacity="0.1"/>
<circle cx="1059" cy="355.9" r="7.7" fill="#A00808" fill-opacity="0.2"/>
<circle cx="1005" cy="296.6" r="5.8" fill="#A00808" fill-opacity="0.2"/>
<circle cx="998.5" cy="315.9" r="9.4" fill="#A00808" fill-opacity="0.2"/>
<circle cx="1027.7" cy="404" r="6" fill="#A00808" fill-opacity="0.2"/>
<circle cx="998" cy="347.8" r="8.8" fill="#A00808" fill-opacity="0.2"/>
<circle cx="1081.2" cy="342.1" r="7.5" fill="#A00808" fill-opacity="0.1"/>
<circle cx="990.4" cy="355.8" r="9" fill="#A00808" fill-opacity="0.2"/>
<circle cx="1060.6" cy="411.1" r="5.7" fill="#A00808" fill-opacity="0.1"/>
<circle cx="1028.8" cy="328.8" r="5.3" fill="#A00808" fill-opacity="0.2"/>
<circle cx="1050.1" cy="355.5" r="5.9" fill="#A00808" fill-opacity="0.2"/>
<path d="M1029,304.3 C1044.6,318.2 1087.6,308.7 1109.1,320.4" fill="none" stroke="#D01010" stroke-width="0.8" stroke-opacity="0.2"/>
<path d="M980.2,398.6 C982.8,436.5 1010.2,464.8 1007.8,468.3" fill="none" stroke="#D01010" stroke-width="0.5" stroke-opacity="0.2"/>
<path d="M985.5,381.6 C1001.5,373.5 1020.9,351.4 1052.6,363.7" fill="none" stroke="#D01010" stroke-width="0.6" stroke-opacity="0.5"/>
<path d="M1083.1,349.8 C1103.5,326.2 1108.5,296.2 1093.8,290.7" fill="none" stroke="#D01010" stroke-width="0.8" stroke-opacity="0.5"/>
<path d="M1053.4,377.4 C1066.3,363.9 1103.8,371.5 1119,347.8" fill="none" stroke="#D01010" stroke-width="0.6" stroke-opacity="0.4"/>
<path d="M1071,410.4 C1034.1,424.5 1036.6,426.2 1005.4,425.6" fill="none" stroke="#D01010" stroke-width="0.8" stroke-opacity="0.3"/>
<path d="M1093.4,414.4 C1057.2,422.2 1054.2,396.7 1019.1,396.9" fill="none" stroke="#D01010" stroke-width="0.4" stroke-opacity="0.4"/>
<path d="M1083.1,349.8 C1083.5,335 1075.2,339.5 1056.3,351.9" fill="none" stroke="#D01010" stroke-width="0.6" stroke-opacity="0.5"/>
<path d="M1016.3,334.9 C1050.4,341.3 1072.6,348.5 1099.8,334.8" fill="none" stroke="#D01010" stroke-width="0.7" stroke-opacity="0.5"/>
<path d="M1027.4,363.4 C1027.3,342.4 1063.1,317 1057.4,309.7" fill="none" stroke="#D01010" stroke-width="0.7" stroke-opacity="0.6"/>
<path d="M1048.2,332.3 C1055.2,351 1071.7,351.2 1086.3,379.2" fill="none" stroke="#D01010" stroke-width="0.4" stroke-opacity="0.4"/>
<path d="M1057.7,302 C1048.2,302.2 1021.8,305.3 1006.9,296.9" fill="none" stroke="#D01010" stroke-width="0.4" stroke-opacity="0.4"/>
<path d="M1017.3,385.9 C1001.2,405.7 1024,439.1 1010.6,441.3" fill="none" stroke="#D01010" stroke-width="0.6" stroke-opacity="0.3"/>
<path d="M1023.7,311.5 C1045.7,288.3 1033.5,291.1 1053.5,296.4" fill="none" stroke="#D01010" stroke-width="0.7" stroke-opacity="0.3"/>
<path d="M1038.6,413.5 C1048,431.6 1069.7,433.7 1095.9,457.9" fill="none" stroke="#D01010" stroke-width="0.7" stroke-opacity="0.4"/>
<path d="M1053.4,377.4 C1066.6,367.3 1075.3,326.7 1083,319.5" fill="none" stroke="#D01010" stroke-width="0.5" stroke-opacity="0.4"/>
<path d="M1007.7,324.3 C1022.1,367.9 1006.6,368.5 1015.7,397" fill="none" stroke="#D01010" stroke-width="0.9" stroke-opacity="0.3"/>
<path d="M1082.1,311.5 C1075.4,325.9 1097.4,359.2 1086.9,383.6" fill="none" stroke="#D01010" stroke-width="0.8" stroke-opacity="0.3"/>
<path d="M1023.7,311.5 C1039,337.1 1054.5,343.5 1074.8,346.7" fill="none" stroke="#D01010" stroke-width="0.7" stroke-opacity="0.3"/>
<path d="M1075.4,393.1 C1074.3,398.4 1071.5,394.6 1049,396.1" fill="none" stroke="#D01010" stroke-width="0.5" stroke-opacity="0.2"/>
<path d="M1029,337 C1048.5,319.1 1104.8,332 1114.1,331.8" fill="none" stroke="#D01010" stroke-width="0.8" stroke-opacity="0.3"/>
<path d="M1083.1,413.5 C1069.1,430.6 1050,424.1 1059.5,444.1" fill="none" stroke="#D01010" stroke-width="0.6" stroke-opacity="0.3"/>
<path d="M1056.6,332.8 C1057.3,318.8 1024.4,331.8 1032,313.7" fill="none" stroke="#D01010" stroke-width="0.8" stroke-opacity="0.6"/>
<path d="M1043.3,318.5 C1036.5,301 1001,310.5 1002.6,294.6" fill="none" stroke="#D01010" stroke-width="0.5" stroke-opacity="0.6"/>
<path d="M1087.4,360.4 C1117.5,350.7 1119.8,334.8 1138.5,312.3" fill="none" stroke="#D01010" stroke-width="0.4" stroke-opacity="0.3"/>
<path d="M1014.1,307.3 C1055.9,268 1053.6,283.4 1082.3,249.5" fill="none" stroke="#D01010" stroke-width="0.5" stroke-opacity="0.3"/>
<path d="M1034.3,345.5 C1032.6,346.5 1007.1,347.7 985.1,335.1" fill="none" stroke="#D01010" stroke-width="0.9" stroke-opacity="0.2"/>
<path d="M1089.5,332.8 C1072.5,342.3 1083.5,354.1 1087.4,383.9" fill="none" stroke="#D01010" stroke-width="0.5" stroke-opacity="0.6"/>
<path d="M1083.1,413.5 C1075.3,411 1045.6,439.5 1032.3,443.2" fill="none" stroke="#D01010" stroke-width="0.7" stroke-opacity="0.5"/>
<path d="M1020.9,409.7 C1007.2,434.4 978,447.7 954.6,467.6" fill="none" stroke="#D01010" stroke-width="0.6" stroke-opacity="0.3"/>
<path d="M988.7,360.4 C982.7,375.6 960.7,391 959.8,393" fill="none" stroke="#D01010" stroke-width="0.5" stroke-opacity="0.2"/>
<path d="M1057.7,302 C1050.5,270.6 1026.8,271.5 1023.1,263.8" fill="none" stroke="#D01010" stroke-width="0.7" stroke-opacity="0.5"/>
<path d="M1081,333.8 C1077.8,334.2 1046.4,366.4 1030.4,357.8" fill="none" stroke="#D01010" stroke-width="0.8" stroke-opacity="0.4"/>
<path d="M1073.4,368.8 C1091.5,375.5 1091.7,400.2 1122.6,412.2" fill="none" stroke="#D01010" stroke-width="0.5" stroke-opacity="0.4"/>
<path d="M980.2,398.6 C965.3,377.9 951.5,382.3 926.6,359.1" fill="none" stroke="#D01010" stroke-width="0.5" stroke-opacity="0.3"/>
<path d="M1064,407.1 C1099.3,433.4 1102.8,437 1126.7,461.6" fill="none" stroke="#D01010" stroke-width="0.7" stroke-opacity="0.4"/>
<path d="M1083.1,349.8 C1074.4,352.1 1098.6,337.3 1083.9,312.5" fill="none" stroke="#D01010" stroke-width="0.4" stroke-opacity="0.2"/>
<path d="M1064,392.2 C1064.8,386.1 1092.2,410.3 1091.1,396.8" fill="none" stroke="#D01010" stroke-width="0.5" stroke-opacity="0.3"/>
<path d="M1032.8,338.4 C1007.6,371.1 1022.7,370.5 1002.8,387" fill="none" stroke="#D01010" stroke-width="0.8" stroke-opacity="0.5"/>
<path d="M1028,386.4 C1004.8,407.3 1012.7,394.4 1001.2,408.5" fill="none" stroke="#D01010" stroke-width="0.8" stroke-opacity="0.5"/>
<path d="M985.5,381.6 C959.9,372.5 949.4,365.4 937.4,354.9" fill="none" stroke="#D01010" stroke-width="0.8" stroke-opacity="0.4"/>
<path d="M974.9,333 C1003.7,319.2 1022.5,302.9 1029.3,298.8" fill="none" stroke="#D01010" stroke-width="0.8" stroke-opacity="0.3"/>
<path d="M1011,363.6 C1009.8,375.8 1010.8,396.4 989.2,387.9" fill="none" stroke="#D01010" stroke-width="0.9" stroke-opacity="0.4"/>
<path d="M1011,333.9 C997.5,345.1 957.5,364.5 941.7,384.5" fill="none" stroke="#D01010" stroke-width="0.6" stroke-opacity="0.4"/>
<path d="M1056.6,332.8 C1051.3,300.8 1057.5,287 1053.2,284" fill="none" stroke="#D01010" stroke-width="0.4" stroke-opacity="0.4"/>
<path d="M1072.8,322.2 C1078.7,310 1108.3,328.2 1105.9,334.7" fill="none" stroke="#D01010" stroke-width="0.7" stroke-opacity="0.3"/>
<path d="M1087.4,360.4 C1127.2,359.8 1136.7,372.6 1150.9,396.2" fill="none" stroke="#D01010" stroke-width="0.8" stroke-opacity="0.5"/>
<path d="M1081,333.8 C1041.7,334.6 1017,348.9 997.2,339.6" fill="none" stroke="#D01010" stroke-width="0.6" stroke-opacity="0.3"/>
<path d="M1057.7,313.7 C1045.7,292.8 1048.3,269.3 1035.7,232.1" fill="none" stroke="#D01010" stroke-width="0.8" stroke-opacity="0.5"/>
<path d="M1090.6,373.3 C1073.4,366.2 1038.5,353.1 1020.3,362.7" fill="none" stroke="#D01010" stroke-width="0.8" stroke-opacity="0.6"/>
<path d="M1029,337 C1021.4,347 1027.7,367.8 1007.3,382.4" fill="none" stroke="#D01010" stroke-width="0.8" stroke-opacity="0.3"/>
<path d="M1034.3,345.5 C1042.1,329.3 1089.2,311.6 1097.3,306.7" fill="none" stroke="#D01010" stroke-width="0.5" stroke-opacity="0.3"/>
<path d="M1064,407.1 C1039.6,390.3 1029.3,400.8 1031.3,384.9" fill="none" stroke="#D01010" stroke-width="0.6" stroke-opacity="0.4"/>
<path d="M1032.3,327 C1052.3,306.7 1093.7,287.9 1096.5,272.1" fill="none" stroke="#D01010" stroke-width="0.5" stroke-opacity="0.2"/>
<path d="M1071.6,342.2 C1040.4,355.8 1036.9,325.7 1013.9,332.1" fill="none" stroke="#D01010" stroke-width="0.4" stroke-opacity="0.4"/>
<path d="M1089.5,332.8 C1071.3,295.4 1072.8,280.3 1074.8,270.1" fill="none" stroke="#D01010" stroke-width="0.8" stroke-opacity="0.4"/>
<path d="M1083.1,349.8 C1074.4,337.1 1052.6,362.8 1054.8,347" fill="none" stroke="#D01010" stroke-width="0.5" stroke-opacity="0.3"/>
<path d="M1072.5,415.6 C1089.8,444.9 1107.9,451 1118.6,447.8" fill="none" stroke="#D01010" stroke-width="0.6" stroke-opacity="0.5"/>
<path d="M1087.4,309.4 C1074.9,285.2 1094.5,288.7 1097.9,256.8" fill="none" stroke="#D01010" stroke-width="0.9" stroke-opacity="0.3"/>
<path d="M985.5,299.9 C985.7,315.7 978.9,322.1 966.5,351.9" fill="none" stroke="#D01010" stroke-width="0.6" stroke-opacity="0.4"/>
<path d="M1075,375 C1102.3,367.1 1111.9,376.2 1124.4,378.8" fill="none" stroke="#D01010" stroke-width="0.4" stroke-opacity="0.6"/>
<path d="M999,370.4 C995.5,382.2 984.5,400 986.6,418.2" fill="none" stroke="#D01010" stroke-width="0.7" stroke-opacity="0.3"/>
<path d="M994,322.2 C979.7,360.6 959,387.1 952.7,398.1" fill="none" stroke="#D01010" stroke-width="0.4" stroke-opacity="0.3"/>
<path d="M1034.3,345.5 C1055.2,367.3 1034.8,368 1056.1,391.8" fill="none" stroke="#D01010" stroke-width="0.5" stroke-opacity="0.2"/>
<path d="M1057.7,313.7 C1056,327 1017.2,347.1 1014.9,379.6" fill="none" stroke="#D01010" stroke-width="0.7" stroke-opacity="0.4"/>
<path d="M1049.8,383.9 C1046.4,362.8 1043.1,364.1 1015.2,354.1" fill="none" stroke="#D01010" stroke-width="0.5" stroke-opacity="0.3"/>
<path d="M1089.5,385.9 C1105.4,408.6 1128.4,411.4 1128.4,416.6" fill="none" stroke="#D01010" stroke-width="0.5" stroke-opacity="0.5"/>
<path d="M1040.7,338.2 C1034.7,355.7 1017.3,345.9 1006.5,338.1" fill="none" stroke="#D01010" stroke-width="0.8" stroke-opacity="0.3"/>
<path d="M1050.3,319.3 C1067.2,334.6 1069,349.1 1085.7,339.8" fill="none" stroke="#D01010" stroke-width="0.6" stroke-opacity="0.4"/>
<path d="M1007.7,324.3 C1011.1,333.3 1025.7,355.7 1012.1,386.1" fill="none" stroke="#D01010" stroke-width="0.8" stroke-opacity="0.6"/>
<path d="M1016.3,334.9 C1031.2,371.1 1046.4,375.9 1072.7,389.7" fill="none" stroke="#D01010" stroke-width="0.8" stroke-opacity="0.3"/>
<path d="M1057.7,313.7 C1048.2,335 1041.3,310.8 1008.6,328.2" fill="none" stroke="#D01010" stroke-width="0.8" stroke-opacity="0.5"/>
<path d="M1048.9,373.3 C1046.9,342.4 1051.9,334.9 1051.8,338.1" fill="none" stroke="#D01010" stroke-width="0.6" stroke-opacity="0.3"/>
<path d="M1089.5,332.8 C1077.6,308.4 1066,306.5 1047.1,313.5" fill="none" stroke="#D01010" stroke-width="0.9" stroke-opacity="0.4"/>
<path d="M1053.4,377.4 C1082.6,353.7 1092.6,355.7 1120.6,326.4" fill="none" stroke="#D01010" stroke-width="0.6" stroke-opacity="0.6"/>
<path d="M1064,392.2 C1089.4,394.8 1081.6,404.6 1088,414" fill="none" stroke="#D01010" stroke-width="0.4" stroke-opacity="0.6"/>
<path d="M1064,392.2 C1070.2,359.8 1062.3,332.3 1056.8,328.8" fill="none" stroke="#D01010" stroke-width="0.5" stroke-opacity="0.4"/>
<path d="M1017.3,385.9 C1025.1,396.8 1057.5,384.8 1072.4,376.3" fill="none" stroke="#D01010" stroke-width="0.9" stroke-opacity="0.6"/>
<path d="M1063,401.5 C1048.8,407.2 1039.6,429.8 1021.9,445.9" fill="none" stroke="#D01010" stroke-width="0.5" stroke-opacity="0.2"/>
<path d="M1007.7,324.3 C1041,323.1 1028.4,346.5 1050.4,366.4" fill="none" stroke="#D01010" stroke-width="0.6" stroke-opacity="0.2"/>
<path d="M1073.3,343.7 C1041.3,346.6 1060.3,371.4 1034.2,393.1" fill="none" stroke="#D01010" stroke-width="0.6" stroke-opacity="0.6"/>
<path d="M1031.5,320.4 C1036.2,342.1 1026.9,372.2 1007.6,401.9" fill="none" stroke="#D01010" stroke-width="0.6" stroke-opacity="0.3"/>
<path d="M1095.2,319.8 C1098.8,292.6 1063.4,308.6 1070,292.2" fill="none" stroke="#D01010" stroke-width="0.6" stroke-opacity="0.6"/>
<path d="M1060.8,311.7 C1047.4,264.1 1030.8,248 1032.2,230.6" fill="none" stroke="#D01010" stroke-width="0.8" stroke-opacity="0.3"/>
<path d="M1089.5,332.8 C1063.7,343.6 1059.4,318.7 1045.3,332.4" fill="none" stroke="#D01010" stroke-width="0.7" stroke-opacity="0.6"/>
<path d="M995.8,322.8 C1012.9,327.8 1043.1,342.8 1041.9,373.4" fill="none" stroke="#D01010" stroke-width="0.9" stroke-opacity="0.2"/>
<path d="M980.2,300.9 C965.2,324 989.1,345.8 979.8,378.1" fill="none" stroke="#D01010" stroke-width="0.5" stroke-opacity="0.4"/>
<path d="M1016.3,334.9 C1025.8,343.1 1031.1,348.9 1043.4,332.8" fill="none" stroke="#D01010" stroke-width="0.6" stroke-opacity="0.3"/>
<path d="M985.5,381.6 C958.9,394.5 980.3,422.1 961.2,432.5" fill="none" stroke="#D01010" stroke-width="0.9" stroke-opacity="0.5"/>
<path d="M1029,337 C1051.3,352.5 1048.7,368.9 1069.6,371.5" fill="none" stroke="#D01010" stroke-width="0.8" stroke-opacity="0.3"/>
<path d="M1031.8,395.2 C1007.7,402 992.3,375.6 998.3,369.8" fill="none" stroke="#D01010" stroke-width="0.8" stroke-opacity="0.3"/>
<path d="M1038.6,413.5 C1054.6,404.7 1035.7,361.7 1058.6,359.3" fill="none" stroke="#D01010" stroke-width="0.5" stroke-opacity="0.5"/>
<path d="M1089.5,332.8 C1078.7,331.9 1086.7,327.4 1069.1,312.9" fill="none" stroke="#D01010" stroke-width="0.8" stroke-opacity="0.5"/>
<path d="M1083.1,413.5 C1078.7,435 1108.8,449.5 1102.8,450.1" fill="none" stroke="#D01010" stroke-width="0.4" stroke-opacity="0.4"/>
<path d="M1000.3,336 C976.9,311.8 986.4,264.4 975.3,252.4" fill="none" stroke="#D01010" stroke-width="0.8" stroke-opacity="0.4"/>
<path d="M974.2,345.2 C964,342.2 968.5,358.7 943.7,340.3" fill="none" stroke="#D01010" stroke-width="0.7" stroke-opacity="0.5"/>
<path d="M1048.5,331.3 C1069.2,338.3 1080.1,362.7 1107.7,386" fill="none" stroke="#D01010" stroke-width="0.9" stroke-opacity="0.6"/>
<path d="M1029,337 C991.1,346.7 997.4,377.1 973.9,375.5" fill="none" stroke="#D01010" stroke-width="0.7" stroke-opacity="0.6"/>
<path d="M1017.3,385.9 C1027.2,363.5 1039.4,366 1053,370.6" fill="none" stroke="#D01010" stroke-width="0.8" stroke-opacity="0.5"/>
<path d="M1017.3,385.9 C1015.3,405.6 1043.7,430.2 1029.6,439.9" fill="none" stroke="#D01010" stroke-width="0.8" stroke-opacity="0.3"/>
<path d="M1057.7,313.7 C1090.3,323.1 1087.2,331.2 1098.8,326.2" fill="none" stroke="#D01010" stroke-width="0.7" stroke-opacity="0.4"/>
<path d="M1000.3,336 C985.6,371 991.3,379.3 994.6,384.1" fill="none" stroke="#D01010" stroke-width="0.8" stroke-opacity="0.6"/>
<path d="M1011,363.6 C1035.3,340.9 1022.3,345 1039.7,317.6" fill="none" stroke="#D01010" stroke-width="0.7" stroke-opacity="0.3"/>
<path d="M1038.6,413.5 C1055.5,400.2 1055.4,416.9 1072.3,422.3" fill="none" stroke="#D01010" stroke-width="0.7" stroke-opacity="0.3"/>
<path d="M1053.4,351.9 C1040.5,385.6 1050.6,388.2 1032.2,401.9" fill="none" stroke="#D01010" stroke-width="0.6" stroke-opacity="0.3"/>
<path d="M1086.3,367.8 C1083.4,375 1074.4,381.1 1092.9,411.3" fill="none" stroke="#D01010" stroke-width="0.7" stroke-opacity="0.4"/>
<path d="M1092.8,331.6 C1066.4,308.6 1070.4,295.9 1052.2,257.2" fill="none" stroke="#D01010" stroke-width="0.8" stroke-opacity="0.3"/>
<path d="M1087.4,309.4 C1091.2,296.6 1109.9,279.8 1097.4,278.2" fill="none" stroke="#D01010" stroke-width="0.8" stroke-opacity="0.3"/>
<path d="M998.4,388.9 C982.3,420.7 983.6,440.1 956.3,446.4" fill="none" stroke="#D01010" stroke-width="0.6" stroke-opacity="0.3"/>
<path d="M1011.4,406.8 C1036.9,414.1 1022,389.1 1038.3,387.9" fill="none" stroke="#D01010" stroke-width="0.8" stroke-opacity="0.3"/>
<path d="M1053.4,351.9 C1056.9,352.1 1063.3,371.6 1077.9,363.9" fill="none" stroke="#D01010" stroke-width="0.8" stroke-opacity="0.5"/>
<path d="M1087.4,360.4 C1108.8,370.9 1129.8,355.4 1134,346.7" fill="none" stroke="#D01010" stroke-width="0.7" stroke-opacity="0.4"/>
<path d="M1083.1,349.8 C1101.3,375.8 1114.1,376.8 1133.3,372.8" fill="none" stroke="#D01010" stroke-width="0.7" stroke-opacity="0.3"/>
<path d="M1064,407.1 C1066.7,395.3 1094.6,394 1098.4,402.1" fill="none" stroke="#D01010" stroke-width="0.4" stroke-opacity="0.4"/>
<path d="M1089.5,332.8 C1068.4,308.3 1047.4,330.3 1012.8,309.5" fill="none" stroke="#D01010" stroke-width="0.7" stroke-opacity="0.5"/>
<path d="M1089.5,315.8 C1111,310.9 1120.2,311.7 1123.8,286.1" fill="none" stroke="#D01010" stroke-width="0.8" stroke-opacity="0.3"/>
<path d="M1038.6,413.5 C1041.5,392.1 1055.1,384.4 1053.5,372" fill="none" stroke="#D01010" stroke-width="0.7" stroke-opacity="0.3"/>
<path d="M1083.1,413.5 C1098.1,392.2 1092.5,349.4 1076.7,331.7" fill="none" stroke="#D01010" stroke-width="0.8" stroke-opacity="0.4"/>
<path d="M1057.7,302 C1088,313.7 1078.6,350.8 1100.2,371.3" fill="none" stroke="#D01010" stroke-width="0.8" stroke-opacity="0.4"/>
<path d="M1053.4,351.9 C1023.3,385.2 1010,390.1 1006.6,403.2" fill="none" stroke="#D01010" stroke-width="0.5" stroke-opacity="0.6"/>
<path d="M1007.7,324.3 C995.9,288.7 963.7,291.8 951.1,269.1" fill="none" stroke="#D01010" stroke-width="0.5" stroke-opacity="0.3"/>
<path d="M1031.8,395.2 C1036.6,358.2 1005.1,336.1 1005.4,323.5" fill="none" stroke="#D01010" stroke-width="0.7" stroke-opacity="0.4"/>
<path d="M1007.7,324.3 C1021.2,316.4 1047.6,347.7 1075.7,345.8" fill="none" stroke="#D01010" stroke-width="0.9" stroke-opacity="0.2"/>
<path d="M1023.7,311.5 C1027.9,267.9 1049.5,275.8 1063.7,241.5" fill="none" stroke="#D01010" stroke-width="0.7" stroke-opacity="0.3"/>
<path d="M1053.4,377.4 C1052.8,349 1061,326.4 1061.9,289" fill="none" stroke="#D01010" stroke-width="0.5" stroke-opacity="0.3"/>
<path d="M1053.4,351.9 C1056.4,351.2 1072.3,329 1092.2,315.7" fill="none" stroke="#D01010" stroke-width="0.5" stroke-opacity="0.4"/>
<path d="M1087.4,309.4 C1059.4,295.4 1037.8,327.3 1038.9,314.8" fill="none" stroke="#D01010" stroke-width="0.6" stroke-opacity="0.2"/>
<path d="M1064,407.1 C1101.2,427.3 1081.3,442.8 1112.7,465.8" fill="none" stroke="#D01010" stroke-width="0.7" stroke-opacity="0.4"/>
<path d="M1053.4,351.9 C1060.7,403.6 1041.2,423.3 1038.8,436.7" fill="none" stroke="#D01010" stroke-width="0.8" stroke-opacity="0.3"/>
<path d="M1029,337 C994,313.2 984.2,309.6 962.2,320.3" fill="none" stroke="#D01010" stroke-width="0.6" stroke-opacity="0.6"/>
<path d="M985.5,381.6 C1020.3,393.8 1035.4,380.8 1044.6,385.7" fill="none" stroke="#D01010" stroke-width="0.8" stroke-opacity="0.5"/>
<path d="M1094.1,307.5 C1120.9,292.2 1142.9,279.4 1142.8,291.8" fill="none" stroke="#D01010" stroke-width="0.7" stroke-opacity="0.3"/>
<path d="M985.5,381.6 C986,385.5 953.6,373.7 942.5,379.9" fill="none" stroke="#D01010" stroke-width="0.4" stroke-opacity="0.5"/>
<path d="M1053.4,351.9 C1028.1,385.9 1029,402.5 1016.2,415" fill="none" stroke="#D01010" stroke-width="0.5" stroke-opacity="0.2"/>
<path d="M1086.3,367.8 C1087.1,361.3 1079.3,400.9 1097.2,391.9" fill="none" stroke="#D01010" stroke-width="0.8" stroke-opacity="0.5"/>
<path d="M1034.3,345.5 C1007.4,389.8 1009.5,408.9 1002.4,412.3" fill="none" stroke="#D01010" stroke-width="0.5" stroke-opacity="0.4"/>
<path d="M1034.3,345.5 C1034.9,349.7 1056,336.4 1045.6,318.2" fill="none" stroke="#D01010" stroke-width="0.7" stroke-opacity="0.2"/>
<path d="M983.4,390.1 C997.3,378.4 998.2,387.2 1007.6,374.9" fill="none" stroke="#D01010" stroke-width="0.6" stroke-opacity="0.6"/>
<path d="M988.6,385.3 C986.6,376.1 987.3,343.5 986.6,332" fill="none" stroke="#D01010" stroke-width="0.7" stroke-opacity="0.2"/>
<path d="M1038.2,350.3 C1019.8,354.9 1035.4,363.3 1032.3,377.7" fill="none" stroke="#D01010" stroke-width="0.5" stroke-opacity="0.4"/>
<path d="M1064,407.1 C1097.6,392.3 1117.4,404.4 1115,403.7" fill="none" stroke="#D01010" stroke-width="0.5" stroke-opacity="0.5"/>
<path d="M1016.3,334.9 C1031.4,325.7 1026.3,301 1053,267.4" fill="none" stroke="#D01010" stroke-width="0.8" stroke-opacity="0.3"/>
<path d="M1029.2,360.6 C1031.3,354.5 1031.4,342.9 1054.2,332.4" fill="none" stroke="#D01010" stroke-width="0.8" stroke-opacity="0.4"/>
<path d="M1038.6,413.5 C1058.8,404.4 1081.5,359.4 1084.6,354.2" fill="none" stroke="#D01010" stroke-width="0.6" stroke-opacity="0.2"/>
<path d="M1086.3,367.8 C1093.8,360.4 1116.8,343.3 1124,356.9" fill="none" stroke="#D01010" stroke-width="0.7" stroke-opacity="0.4"/>
<path d="M1087.4,309.4 C1107.4,321.8 1122.4,296.4 1125.7,306.5" fill="none" stroke="#D01010" stroke-width="0.7" stroke-opacity="0.4"/>
<path d="M1087.4,360.4 C1093.5,335.7 1059.6,296.8 1062.6,284.4" fill="none" stroke="#D01010" stroke-width="0.8" stroke-opacity="0.3"/>
<path d="M1057.7,302 C1082.5,315.4 1068.3,307.6 1080.1,325.6" fill="none" stroke="#D01010" stroke-width="0.9" stroke-opacity="0.5"/>
<path d="M985.5,381.6 C995.3,344.3 1013.1,338.9 1037,327" fill="none" stroke="#D01010" stroke-width="0.7" stroke-opacity="0.3"/>
<path d="M994,322.2 C1019.1,305.8 1027.9,302.5 1038.4,305.2" fill="none" stroke="#D01010" stroke-width="0.8" stroke-opacity="0.3"/>
<path d="M1056.4,350.7 C1083.5,346.2 1086.6,320.8 1102.3,330.4" fill="none" stroke="#D01010" stroke-width="0.6" stroke-opacity="0.3"/>
<path d="M1083.1,349.8 C1081.8,367.7 1066.8,383.9 1064.4,417.4" fill="none" stroke="#D01010" stroke-width="0.8" stroke-opacity="0.3"/>
<path d="M1087.4,360.4 C1123.4,365.8 1139.2,393.1 1153.3,409.6" fill="none" stroke="#D01010" stroke-width="0.5" stroke-opacity="0.5"/>
<path d="M1023.7,311.5 C1013.5,298.8 1031.8,247.1 1012.2,244" fill="none" stroke="#D01010" stroke-width="0.7" stroke-opacity="0.4"/>
<path d="M980.2,398.6 C963.2,382 930.9,379.9 924.1,396.6" fill="none" stroke="#D01010" stroke-width="0.8" stroke-opacity="0.4"/>
<path d="M980.2,300.9 C953.7,265.3 957.6,246.6 953,215.3" fill="none" stroke="#D01010" stroke-width="0.5" stroke-opacity="0.6"/>
<path d="M985.5,381.6 C982.3,371.7 987.4,362.3 1013.8,330.4" fill="none" stroke="#D01010" stroke-width="0.7" stroke-opacity="0.5"/>
<path d="M1054.7,413.5 C1019.8,406.6 993.1,418.2 973.4,427.1" fill="none" stroke="#D01010" stroke-width="0.8" stroke-opacity="0.6"/>
<path d="M1053.4,377.4 C1016.1,382.5 1005.5,368.3 995.2,364.1" fill="none" stroke="#D01010" stroke-width="0.5" stroke-opacity="0.4"/>
<path d="M1087.4,309.4 C1064.1,299.2 1059.2,306.3 1042.4,306.7" fill="none" stroke="#D01010" stroke-width="0.9" stroke-opacity="0.4"/>
<path d="M1089.5,315.8 C1044.2,336.5 1022.7,346.9 1011.8,336.1" fill="none" stroke="#D01010" stroke-width="0.7" stroke-opacity="0.4"/>
<path d="M994,322.2 C972.7,339 987.1,339.2 972,335.5" fill="none" stroke="#D01010" stroke-width="0.5" stroke-opacity="0.4"/>
<path d="M994,322.2 C961.9,333 945,320.7 909.8,325.7" fill="none" stroke="#D01010" stroke-width="0.5" stroke-opacity="0.3"/>
<path d="M1053.4,377.4 C1048.2,411.3 1050.6,414.8 1026.4,427.4" fill="none" stroke="#D01010" stroke-width="0.7" stroke-opacity="0.6"/>
<path d="M988.7,360.4 C975.8,370.9 994.3,400.8 981.7,424" fill="none" stroke="#D01010" stroke-width="0.7" stroke-opacity="0.3"/>
<path d="M988.7,360.4 C995.7,352.1 995.5,333 1003.6,335.5" fill="none" stroke="#D01010" stroke-width="0.4" stroke-opacity="0.3"/>
<path d="M1064,407.1 C1087.4,408.4 1098.7,398 1120,389.3" fill="none" stroke="#D01010" stroke-width="0.5" stroke-opacity="0.5"/>
<path d="M1089.5,332.8 C1067.8,344.7 1063.7,369.4 1047.1,380.5" fill="none" stroke="#D01010" stroke-width="0.6" stroke-opacity="0.4"/>
<path d="M1086.3,367.8 C1089.1,363.6 1117.5,372.2 1115.6,378" fill="none" stroke="#D01010" stroke-width="0.8" stroke-opacity="0.4"/>
<path d="M1089.5,315.8 C1132,327.8 1136.4,359.2 1165.9,361.3" fill="none" stroke="#D01010" stroke-width="0.8" stroke-opacity="0.5"/>
<ellipse cx="1014.1" cy="307.3" rx="4.9" ry="5.2" transform="rotate(12 1014.1 307.3)" fill="#FF2222" fill-opacity="0.35"/>
<ellipse cx="1014.1" cy="307.3" rx="2.9" ry="3.3" transform="rotate(12 1014.1 307.3)" fill="#FF2222"/>
<ellipse cx="1023.7" cy="311.5" rx="5" ry="3.8" transform="rotate(87 1023.7 311.5)" fill="#FF2222" fill-opacity="0.35"/>
<ellipse cx="1023.7" cy="311.5" rx="3" ry="2.4" transform="rotate(87 1023.7 311.5)" fill="#FF2222"/>
<ellipse cx="1057.7" cy="302" rx="3.9" ry="4.5" transform="rotate(54 1057.7 302)" fill="#FF2222" fill-opacity="0.35"/>
<ellipse cx="1057.7" cy="302" rx="2.3" ry="2.8" transform="rotate(54 1057.7 302)" fill="#FF2222"/>
<ellipse cx="1048.1" cy="315.8" rx="4.8" ry="5.2" transform="rotate(107 1048.1 315.8)" fill="#FF2222" fill-opacity="0.35"/>
<ellipse cx="1048.1" cy="315.8" rx="2.8" ry="3.2" transform="rotate(107 1048.1 315.8)" fill="#FF2222"/>
<ellipse cx="1057.7" cy="313.7" rx="6" ry="5" transform="rotate(19 1057.7 313.7)" fill="#FF2222" fill-opacity="0.35"/>
<ellipse cx="1057.7" cy="313.7" rx="3.5" ry="3.1" transform="rotate(19 1057.7 313.7)" fill="#FF2222"/>
<ellipse cx="1087.4" cy="309.4" rx="5" ry="5.1" transform="rotate(35 1087.4 309.4)" fill="#FF2222" fill-opacity="0.35"/>
<ellipse cx="1087.4" cy="309.4" rx="3" ry="3.2" transform="rotate(35 1087.4 309.4)" fill="#FF2222"/>
<ellipse cx="1089.5" cy="315.8" rx="5.5" ry="4" transform="rotate(30 1089.5 315.8)" fill="#FF2222" fill-opacity="0.35"/>
<ellipse cx="1089.5" cy="315.8" rx="3.2" ry="2.5" transform="rotate(30 1089.5 315.8)" fill="#FF2222"/>
<ellipse cx="994" cy="322.2" rx="7.5" ry="5.2" transform="rotate(29 994 322.2)" fill="#EE1515" fill-opacity="0.35"/>
<ellipse cx="994" cy="322.2" rx="4.4" ry="3.2" transform="rotate(29 994 322.2)" fill="#EE1515"/>
<ellipse cx="1007.7" cy="324.3" rx="5.3" ry="4.8" transform="rotate(28 1007.7 324.3)" fill="#EE1515" fill-opacity="0.35"/>
<ellipse cx="1007.7" cy="324.3" rx="3.1" ry="3" transform="rotate(28 1007.7 324.3)" fill="#EE1515"/>
<ellipse cx="1016.3" cy="334.9" rx="6" ry="5.1" transform="rotate(167 1016.3 334.9)" fill="#FF2222" fill-opacity="0.35"/>
<ellipse cx="1016.3" cy="334.9" rx="3.5" ry="3.2" transform="rotate(167 1016.3 334.9)" fill="#FF2222"/>
<ellipse cx="1029" cy="337" rx="8.3" ry="4.4" transform="rotate(106 1029 337)" fill="#FF2222" fill-opacity="0.35"/>
<ellipse cx="1029" cy="337" rx="4.9" ry="2.7" transform="rotate(106 1029 337)" fill="#FF2222"/>
<ellipse cx="1034.3" cy="345.5" rx="5.2" ry="5.6" transform="rotate(39 1034.3 345.5)" fill="#EE1515" fill-opacity="0.35"/>
<ellipse cx="1034.3" cy="345.5" rx="3.1" ry="3.5" transform="rotate(39 1034.3 345.5)" fill="#EE1515"/>
<ellipse cx="1056.6" cy="332.8" rx="8.1" ry="4.7" transform="rotate(110 1056.6 332.8)" fill="#EE1515" fill-opacity="0.35"/>
<ellipse cx="1056.6" cy="332.8" rx="4.7" ry="2.9" transform="rotate(110 1056.6 332.8)" fill="#EE1515"/>
<ellipse cx="1000.3" cy="336" rx="4.3" ry="4.1" transform="rotate(126 1000.3 336)" fill="#FF2222" fill-opacity="0.35"/>
<ellipse cx="1000.3" cy="336" rx="2.5" ry="2.5" transform="rotate(126 1000.3 336)" fill="#FF2222"/>
<ellipse cx="1081" cy="333.8" rx="5.5" ry="3.5" transform="rotate(123 1081 333.8)" fill="#FF2222" fill-opacity="0.35"/>
<ellipse cx="1081" cy="333.8" rx="3.2" ry="2.2" transform="rotate(123 1081 333.8)" fill="#FF2222"/>
<ellipse cx="1089.5" cy="332.8" rx="6.3" ry="3.5" transform="rotate(149 1089.5 332.8)" fill="#FF2222" fill-opacity="0.35"/>
<ellipse cx="1089.5" cy="332.8" rx="3.7" ry="2.2" transform="rotate(149 1089.5 332.8)" fill="#FF2222"/>
<ellipse cx="1053.4" cy="351.9" rx="4.8" ry="5.4" transform="rotate(166 1053.4 351.9)" fill="#FF2222" fill-opacity="0.35"/>
<ellipse cx="1053.4" cy="351.9" rx="2.8" ry="3.4" transform="rotate(166 1053.4 351.9)" fill="#FF2222"/>
<ellipse cx="1083.1" cy="349.8" rx="7.2" ry="5.2" transform="rotate(99 1083.1 349.8)" fill="#FF2222" fill-opacity="0.35"/>
<ellipse cx="1083.1" cy="349.8" rx="4.3" ry="3.2" transform="rotate(99 1083.1 349.8)" fill="#FF2222"/>
<ellipse cx="1072.5" cy="354" rx="5.2" ry="3.6" transform="rotate(149 1072.5 354)" fill="#FF2222" fill-opacity="0.35"/>
<ellipse cx="1072.5" cy="354" rx="3.1" ry="2.3" transform="rotate(149 1072.5 354)" fill="#FF2222"/>
<ellipse cx="988.7" cy="360.4" rx="6.9" ry="4.4" transform="rotate(23 988.7 360.4)" fill="#FF2222" fill-opacity="0.35"/>
<ellipse cx="988.7" cy="360.4" rx="4.1" ry="2.8" transform="rotate(23 988.7 360.4)" fill="#FF2222"/>
<ellipse cx="1011" cy="363.6" rx="4.4" ry="3.3" transform="rotate(105 1011 363.6)" fill="#FF2222" fill-opacity="0.35"/>
<ellipse cx="1011" cy="363.6" rx="2.6" ry="2.1" transform="rotate(105 1011 363.6)" fill="#FF2222"/>
<ellipse cx="1087.4" cy="360.4" rx="5" ry="3.3" transform="rotate(65 1087.4 360.4)" fill="#FF2222" fill-opacity="0.35"/>
<ellipse cx="1087.4" cy="360.4" rx="2.9" ry="2.1" transform="rotate(65 1087.4 360.4)" fill="#FF2222"/>
<ellipse cx="1086.3" cy="367.8" rx="7" ry="4.5" transform="rotate(158 1086.3 367.8)" fill="#FF2222" fill-opacity="0.35"/>
<ellipse cx="1086.3" cy="367.8" rx="4.1" ry="2.8" transform="rotate(158 1086.3 367.8)" fill="#FF2222"/>
<ellipse cx="985.5" cy="381.6" rx="6.4" ry="5.3" transform="rotate(135 985.5 381.6)" fill="#FF2222" fill-opacity="0.35"/>
<ellipse cx="985.5" cy="381.6" rx="3.7" ry="3.3" transform="rotate(135 985.5 381.6)" fill="#FF2222"/>
<ellipse cx="983.4" cy="390.1" rx="6.2" ry="4" transform="rotate(158 983.4 390.1)" fill="#FF2222" fill-opacity="0.35"/>
<ellipse cx="983.4" cy="390.1" rx="3.7" ry="2.5" transform="rotate(158 983.4 390.1)" fill="#FF2222"/>
<ellipse cx="1017.3" cy="385.9" rx="4.6" ry="4.3" transform="rotate(8 1017.3 385.9)" fill="#EE1515" fill-opacity="0.35"/>
<ellipse cx="1017.3" cy="385.9" rx="2.7" ry="2.7" transform="rotate(8 1017.3 385.9)" fill="#EE1515"/>
<ellipse cx="1053.4" cy="377.4" rx="5.3" ry="3.5" transform="rotate(125 1053.4 377.4)" fill="#FF2222" fill-opacity="0.35"/>
<ellipse cx="1053.4" cy="377.4" rx="3.1" ry="2.2" transform="rotate(125 1053.4 377.4)" fill="#FF2222"/>
<ellipse cx="1064" cy="392.2" rx="6.8" ry="7.3" transform="rotate(91 1064 392.2)" fill="#EE1515" fill-opacity="0.35"/>
<ellipse cx="1064" cy="392.2" rx="4" ry="4.6" transform="rotate(91 1064 392.2)" fill="#EE1515"/>
<ellipse cx="1089.5" cy="385.9" rx="5.1" ry="5.3" transform="rotate(55 1089.5 385.9)" fill="#EE1515" fill-opacity="0.35"/>
<ellipse cx="1089.5" cy="385.9" rx="3" ry="3.3" transform="rotate(55 1089.5 385.9)" fill="#EE1515"/>
<ellipse cx="980.2" cy="398.6" rx="7.4" ry="5.2" transform="rotate(88 980.2 398.6)" fill="#FF2222" fill-opacity="0.35"/>
<ellipse cx="980.2" cy="398.6" rx="4.4" ry="3.2" transform="rotate(88 980.2 398.6)" fill="#FF2222"/>
<ellipse cx="1064" cy="407.1" rx="6.4" ry="4.3" transform="rotate(94 1064 407.1)" fill="#FF2222" fill-opacity="0.35"/>
<ellipse cx="1064" cy="407.1" rx="3.8" ry="2.7" transform="rotate(94 1064 407.1)" fill="#FF2222"/>
<ellipse cx="1038.6" cy="413.5" rx="5.9" ry="5.7" transform="rotate(74 1038.6 413.5)" fill="#FF2222" fill-opacity="0.35"/>
<ellipse cx="1038.6" cy="413.5" rx="3.5" ry="3.5" transform="rotate(74 1038.6 413.5)" fill="#FF2222"/>
<ellipse cx="1083.1" cy="413.5" rx="7.3" ry="5.7" transform="rotate(28 1083.1 413.5)" fill="#FF2222" fill-opacity="0.35"/>
<ellipse cx="1083.1" cy="413.5" rx="4.3" ry="3.6" transform="rotate(28 1083.1 413.5)" fill="#FF2222"/>
<ellipse cx="1072.5" cy="415.6" rx="3.9" ry="3.8" transform="rotate(64 1072.5 415.6)" fill="#FF2222" fill-opacity="0.35"/>
<ellipse cx="1072.5" cy="415.6" rx="2.3" ry="2.4" transform="rotate(64 1072.5 415.6)" fill="#FF2222"/>
<ellipse cx="980.2" cy="300.9" rx="4.5" ry="3.8" transform="rotate(67 980.2 300.9)" fill="#FF2222" fill-opacity="0.35"/>
<ellipse cx="980.2" cy="300.9" rx="2.7" ry="2.4" transform="rotate(67 980.2 300.9)" fill="#FF2222"/>
<ellipse cx="985.5" cy="299.9" rx="4.5" ry="3.3" transform="rotate(71 985.5 299.9)" fill="#EE1515" fill-opacity="0.35"/>
<ellipse cx="985.5" cy="299.9" rx="2.6" ry="2.1" transform="rotate(71 985.5 299.9)" fill="#EE1515"/>
<ellipse cx="1043.8" cy="365.2" rx="3.1" ry="2.6" transform="rotate(139 1043.8 365.2)" fill="#EE1515" fill-opacity="0.35"/>
<ellipse cx="1043.8" cy="365.2" rx="1.8" ry="1.6" transform="rotate(139 1043.8 365.2)" fill="#EE1515"/>
<ellipse cx="1031.8" cy="395.2" rx="4" ry="2.8" transform="rotate(41 1031.8 395.2)" fill="#FF2222" fill-opacity="0.35"/>
<ellipse cx="1031.8" cy="395.2" rx="2.3" ry="1.8" transform="rotate(41 1031.8 395.2)" fill="#FF2222"/>
</g></g>
<rect x="980" y="405.6" width="27" height="4.1" fill="#FFFFFF"/>
<g clip-path="url(#cpg)">
<rect x="1123" y="295.2" width="122" height="122" fill="#041A05"/>
<g filter="url(#bl)">
<circle cx="1235.8" cy="410.9" r="9.4" fill="#1A6A20" fill-opacity="0.1"/>
<circle cx="1195.2" cy="346.9" r="7.2" fill="#1A6A20" fill-opacity="0.1"/>
<circle cx="1146.4" cy="349.4" r="5.3" fill="#1A6A20" fill-opacity="0.2"/>
<circle cx="1126" cy="305.7" r="8.3" fill="#1A6A20" fill-opacity="0.2"/>
<circle cx="1185.5" cy="384.8" r="6.2" fill="#1A6A20" fill-opacity="0.1"/>
<circle cx="1218.5" cy="367.1" r="7.9" fill="#1A6A20" fill-opacity="0.2"/>
<circle cx="1241.4" cy="339.5" r="8.6" fill="#1A6A20" fill-opacity="0.1"/>
<circle cx="1192.8" cy="375.8" r="5.9" fill="#1A6A20" fill-opacity="0.1"/>
<circle cx="1180.8" cy="382.8" r="7.5" fill="#1A6A20" fill-opacity="0.2"/>
<circle cx="1201.4" cy="317.4" r="5.1" fill="#1A6A20" fill-opacity="0.1"/>
<circle cx="1222.5" cy="319.1" r="4.7" fill="#1A6A20" fill-opacity="0.1"/>
<circle cx="1127.7" cy="328.8" r="7.4" fill="#1A6A20" fill-opacity="0.2"/>
<circle cx="1163.4" cy="340.3" r="5.7" fill="#1A6A20" fill-opacity="0.1"/>
<circle cx="1217.9" cy="362.2" r="5.6" fill="#1A6A20" fill-opacity="0.1"/>
<circle cx="1218.6" cy="381.5" r="9" fill="#1A6A20" fill-opacity="0.1"/>
<circle cx="1189.5" cy="407.3" r="7.6" fill="#1A6A20" fill-opacity="0.2"/>
<circle cx="1143.4" cy="414.2" r="4.3" fill="#1A6A20" fill-opacity="0.2"/>
<circle cx="1125.9" cy="394" r="8.1" fill="#1A6A20" fill-opacity="0.2"/>
<circle cx="1221.2" cy="411" r="7.2" fill="#1A6A20" fill-opacity="0.2"/>
<circle cx="1214.4" cy="337.4" r="9.8" fill="#1A6A20" fill-opacity="0.1"/>
<circle cx="1146.6" cy="304.5" r="6.8" fill="#1A6A20" fill-opacity="0.1"/>
<circle cx="1236.9" cy="411.2" r="5.3" fill="#1A6A20" fill-opacity="0.1"/>
<circle cx="1187.5" cy="315.9" r="7.3" fill="#1A6A20" fill-opacity="0.2"/>
<circle cx="1153.9" cy="346.7" r="9.4" fill="#1A6A20" fill-opacity="0.2"/>
<circle cx="1164.8" cy="404.1" r="8.9" fill="#1A6A20" fill-opacity="0.2"/>
<circle cx="1206.9" cy="345.5" r="8.2" fill="#1A6A20" fill-opacity="0.2"/>
<circle cx="1201" cy="324.3" r="5.8" fill="#1A6A20" fill-opacity="0.1"/>
<circle cx="1217.1" cy="363.2" r="7.3" fill="#1A6A20" fill-opacity="0.2"/>
<circle cx="1136.2" cy="372.2" r="6" fill="#1A6A20" fill-opacity="0.2"/>
<circle cx="1224.9" cy="325.5" r="9.7" fill="#1A6A20" fill-opacity="0.1"/>
<circle cx="1191.6" cy="361.3" r="5.4" fill="#1A6A20" fill-opacity="0.2"/>
<circle cx="1180.4" cy="350.1" r="8.3" fill="#1A6A20" fill-opacity="0.1"/>
<circle cx="1169" cy="391" r="4.9" fill="#1A6A20" fill-opacity="0.2"/>
<circle cx="1147.8" cy="378.3" r="5" fill="#1A6A20" fill-opacity="0.2"/>
<circle cx="1174.6" cy="305.2" r="8.2" fill="#1A6A20" fill-opacity="0.2"/>
<circle cx="1207.1" cy="361" r="7.3" fill="#1A6A20" fill-opacity="0.2"/>
<circle cx="1159.3" cy="404.8" r="4.5" fill="#1A6A20" fill-opacity="0.2"/>
<circle cx="1228.3" cy="355.9" r="8.7" fill="#1A6A20" fill-opacity="0.2"/>
<circle cx="1196.8" cy="330.8" r="5.9" fill="#1A6A20" fill-opacity="0.1"/>
<circle cx="1159.9" cy="412.3" r="6" fill="#1A6A20" fill-opacity="0.1"/>
<circle cx="1174.2" cy="394.8" r="6.9" fill="#1A6A20" fill-opacity="0.2"/>
<circle cx="1154.2" cy="329.1" r="4.5" fill="#1A6A20" fill-opacity="0.1"/>
<circle cx="1155.2" cy="399.2" r="7" fill="#1A6A20" fill-opacity="0.1"/>
<circle cx="1179.5" cy="310" r="7.4" fill="#1A6A20" fill-opacity="0.2"/>
<circle cx="1227.7" cy="326.8" r="9.1" fill="#1A6A20" fill-opacity="0.1"/>
<circle cx="1242.9" cy="372.6" r="4.3" fill="#1A6A20" fill-opacity="0.2"/>
<circle cx="1156.6" cy="339.4" r="4.9" fill="#1A6A20" fill-opacity="0.2"/>
<circle cx="1134" cy="385.3" r="6.4" fill="#1A6A20" fill-opacity="0.2"/>
<circle cx="1158.8" cy="304.7" r="9.5" fill="#1A6A20" fill-opacity="0.2"/>
<circle cx="1143.7" cy="414.3" r="9.5" fill="#1A6A20" fill-opacity="0.1"/>
<circle cx="1125.3" cy="369.7" r="4.8" fill="#1A6A20" fill-opacity="0.2"/>
<circle cx="1180.2" cy="381.7" r="7.4" fill="#1A6A20" fill-opacity="0.2"/>
<circle cx="1223.2" cy="368.8" r="7.5" fill="#1A6A20" fill-opacity="0.1"/>
<circle cx="1139.4" cy="306.5" r="9.1" fill="#1A6A20" fill-opacity="0.1"/>
<circle cx="1175" cy="333.8" r="7.7" fill="#1A6A20" fill-opacity="0.2"/>
<circle cx="1227.8" cy="348.4" r="6.2" fill="#1A6A20" fill-opacity="0.2"/>
<circle cx="1213.9" cy="408.1" r="5.9" fill="#1A6A20" fill-opacity="0.2"/>
<circle cx="1242.7" cy="415" r="4.8" fill="#1A6A20" fill-opacity="0.1"/>
<circle cx="1217.4" cy="396.6" r="4.2" fill="#1A6A20" fill-opacity="0.1"/>
<circle cx="1211.3" cy="387.7" r="7.2" fill="#1A6A20" fill-opacity="0.1"/>
<path d="M1174.4,311.5 C1201.6,306.6 1239.2,319.6 1244.9,329.9" fill="none" stroke="#1A7A22" stroke-width="0.9" stroke-opacity="0.2"/>
<path d="M1238,405.2 C1255.3,449.8 1264.8,458.2 1274.4,474.6" fill="none" stroke="#1A7A22" stroke-width="0.6" stroke-opacity="0.3"/>
<path d="M1242.7,375.8 C1244.4,376.9 1220.1,368.5 1216.4,388.2" fill="none" stroke="#1A7A22" stroke-width="0.4" stroke-opacity="0.2"/>
<path d="M1213.4,381.7 C1193,370.5 1183,358.8 1192.4,344.4" fill="none" stroke="#1A7A22" stroke-width="0.7" stroke-opacity="0.3"/>
<path d="M1206.5,303.2 C1199.1,326.8 1149.5,308.4 1144.8,335.4" fill="none" stroke="#1A7A22" stroke-width="0.7" stroke-opacity="0.2"/>
<path d="M1189.2,382.7 C1200.2,362.5 1210.5,367.4 1198.5,338.4" fill="none" stroke="#1A7A22" stroke-width="0.7" stroke-opacity="0.2"/>
<path d="M1231.7,349.8 C1252.4,313.3 1249.4,323.9 1247.3,289.7" fill="none" stroke="#1A7A22" stroke-width="0.7" stroke-opacity="0.2"/>
<path d="M1241.3,308.7 C1231.8,308.7 1259.1,306.5 1255.4,282" fill="none" stroke="#1A7A22" stroke-width="0.7" stroke-opacity="0.3"/>
<path d="M1142.5,324.3 C1101.4,351.9 1116.7,352 1084.1,355.6" fill="none" stroke="#1A7A22" stroke-width="0.7" stroke-opacity="0.3"/>
<path d="M1238,405.2 C1246.2,403.7 1259.3,407.1 1243.9,433.6" fill="none" stroke="#1A7A22" stroke-width="0.8" stroke-opacity="0.3"/>
<path d="M1142.5,324.3 C1115.3,316.9 1107.8,338.9 1117.9,337.6" fill="none" stroke="#1A7A22" stroke-width="0.9" stroke-opacity="0.3"/>
<path d="M1124,355.8 C1115.1,343.7 1082.6,357.1 1082,367.6" fill="none" stroke="#1A7A22" stroke-width="0.8" stroke-opacity="0.2"/>
<path d="M1238,405.2 C1211.5,384.9 1184.6,385.4 1161.4,361" fill="none" stroke="#1A7A22" stroke-width="0.7" stroke-opacity="0.3"/>
<path d="M1143,405.2 C1151.8,402 1151.6,435.9 1150.9,433.3" fill="none" stroke="#1A7A22" stroke-width="0.8" stroke-opacity="0.3"/>
<path d="M1191.4,396.7 C1181.8,426.1 1184.2,403.2 1167.4,426.6" fill="none" stroke="#1A7A22" stroke-width="0.5" stroke-opacity="0.2"/>
<path d="M1179.1,314.7 C1146.8,312.9 1169.4,315.7 1140,301.9" fill="none" stroke="#1A7A22" stroke-width="0.8" stroke-opacity="0.2"/>
<path d="M1198,315.2 C1220.1,305.2 1230.8,313.5 1224.8,320.6" fill="none" stroke="#1A7A22" stroke-width="0.5" stroke-opacity="0.3"/>
<path d="M1238,385.9 C1254.9,408 1265.4,412.2 1282.2,414.9" fill="none" stroke="#1A7A22" stroke-width="0.6" stroke-opacity="0.3"/>
<path d="M1198,315.2 C1220.9,321.6 1222.4,294.6 1222.9,306.1" fill="none" stroke="#1A7A22" stroke-width="0.8" stroke-opacity="0.3"/>
<path d="M1212.2,391.2 C1252.5,369.7 1248.7,377.1 1274.7,369.5" fill="none" stroke="#1A7A22" stroke-width="0.7" stroke-opacity="0.3"/>
<path d="M1163.8,334.9 C1140.3,330 1110.3,307 1103.9,306.9" fill="none" stroke="#1A7A22" stroke-width="0.8" stroke-opacity="0.3"/>
<path d="M1231.8,391.2 C1199.7,389.1 1160.9,370.8 1153.4,366.5" fill="none" stroke="#1A7A22" stroke-width="0.8" stroke-opacity="0.2"/>
<path d="M1163.8,307.3 C1169,294.5 1156.2,280.4 1133.1,282" fill="none" stroke="#1A7A22" stroke-width="0.4" stroke-opacity="0.3"/>
<path d="M1236.1,367.8 C1240.1,350.9 1262.5,376.2 1271.9,355" fill="none" stroke="#1A7A22" stroke-width="0.6" stroke-opacity="0.2"/>
<path d="M1172.8,340.4 C1185.4,370 1193.8,379.9 1182.3,392.2" fill="none" stroke="#1A7A22" stroke-width="0.8" stroke-opacity="0.2"/>
<path d="M1178.6,337 C1207.7,346 1192.1,368 1218.3,372.5" fill="none" stroke="#1A7A22" stroke-width="0.6" stroke-opacity="0.3"/>
<path d="M1187.1,413.5 C1207.7,398 1238,385.8 1265.2,368.9" fill="none" stroke="#1A7A22" stroke-width="0.7" stroke-opacity="0.3"/>
<path d="M1198,315.2 C1216.6,298.6 1210.4,270.7 1213.6,244.4" fill="none" stroke="#1A7A22" stroke-width="0.4" stroke-opacity="0.3"/>
<path d="M1143,405.2 C1145.7,401.6 1170.4,363.5 1174,361.5" fill="none" stroke="#1A7A22" stroke-width="0.4" stroke-opacity="0.3"/>
<path d="M1238,309.4 C1243.9,312.7 1215.5,345.9 1217.8,362.3" fill="none" stroke="#1A7A22" stroke-width="0.6" stroke-opacity="0.3"/>
<path d="M1174.4,319.7 C1182.9,299.7 1145.7,270 1152.9,236.5" fill="none" stroke="#1A7A22" stroke-width="0.5" stroke-opacity="0.2"/>
<path d="M1149.6,296.1 C1137.1,291.4 1130,247.7 1126.1,242.6" fill="none" stroke="#1A7A22" stroke-width="0.9" stroke-opacity="0.3"/>
<path d="M1131.7,297.6 C1139,308.2 1146.9,317.9 1143.2,322.6" fill="none" stroke="#1A7A22" stroke-width="0.8" stroke-opacity="0.3"/>
<path d="M1150.3,302.6 C1142.9,282.9 1183,308.7 1171.3,288.5" fill="none" stroke="#1A7A22" stroke-width="0.8" stroke-opacity="0.3"/>
<path d="M1236.1,367.8 C1224.1,352 1179.1,374.7 1178.1,369.1" fill="none" stroke="#1A7A22" stroke-width="0.4" stroke-opacity="0.3"/>
<path d="M1238,405.2 C1251.7,408.2 1257,414.5 1289.1,405.4" fill="none" stroke="#1A7A22" stroke-width="0.9" stroke-opacity="0.3"/>
<path d="M1238,405.2 C1192.2,399.4 1167.5,395.9 1152.4,402.9" fill="none" stroke="#1A7A22" stroke-width="0.9" stroke-opacity="0.3"/>
<path d="M1218,330.2 C1215.3,307.6 1185.9,322.7 1185.5,298.6" fill="none" stroke="#1A7A22" stroke-width="0.4" stroke-opacity="0.3"/>
<path d="M1142.5,324.3 C1143.5,341.7 1131.3,337.4 1106,360.5" fill="none" stroke="#1A7A22" stroke-width="0.5" stroke-opacity="0.3"/>
<path d="M1187.1,413.5 C1168.4,404.8 1154.4,416.3 1161.2,401.8" fill="none" stroke="#1A7A22" stroke-width="0.9" stroke-opacity="0.2"/>
<path d="M1144.5,384.2 C1187.3,386.5 1180.1,397.6 1212.6,411.5" fill="none" stroke="#1A7A22" stroke-width="0.8" stroke-opacity="0.3"/>
<path d="M1189.2,382.7 C1203.8,335.6 1193.2,304.7 1183.2,295.7" fill="none" stroke="#1A7A22" stroke-width="0.5" stroke-opacity="0.3"/>
<path d="M1160.6,362.5 C1187.7,338.3 1194.3,353.3 1189.9,344.2" fill="none" stroke="#1A7A22" stroke-width="0.6" stroke-opacity="0.2"/>
<path d="M1189.6,408.2 C1177.1,381.1 1203.5,372.5 1194.2,354.1" fill="none" stroke="#1A7A22" stroke-width="0.6" stroke-opacity="0.2"/>
<path d="M1212.2,391.2 C1232.9,398 1241.8,382 1279.4,374.5" fill="none" stroke="#1A7A22" stroke-width="0.6" stroke-opacity="0.3"/>
<path d="M1160.6,362.5 C1198.8,360.2 1214.9,371.6 1214.4,397.2" fill="none" stroke="#1A7A22" stroke-width="0.4" stroke-opacity="0.2"/>
<path d="M1238,309.4 C1234.7,315.6 1214.2,338.3 1212.6,347.5" fill="none" stroke="#1A7A22" stroke-width="0.9" stroke-opacity="0.2"/>
<path d="M1236.1,367.8 C1273.2,376 1278.5,406.6 1291.9,411.9" fill="none" stroke="#1A7A22" stroke-width="0.7" stroke-opacity="0.2"/>
<path d="M1178.6,337 C1170.1,307.7 1165.1,285.5 1146.3,273.3" fill="none" stroke="#1A7A22" stroke-width="0.8" stroke-opacity="0.2"/>
<path d="M1142.5,324.3 C1146.4,298 1127.2,308.6 1131.1,295.5" fill="none" stroke="#1A7A22" stroke-width="0.4" stroke-opacity="0.3"/>
<path d="M1211.8,342.7 C1243.8,323.6 1243.9,326.3 1263.8,308.9" fill="none" stroke="#1A7A22" stroke-width="0.8" stroke-opacity="0.3"/>
<path d="M1191.4,396.7 C1197.3,398.3 1221.7,393.5 1239.3,382.3" fill="none" stroke="#1A7A22" stroke-width="0.9" stroke-opacity="0.2"/>
<path d="M1157.4,409.2 C1205.8,434.6 1222,445.2 1233.9,450.1" fill="none" stroke="#1A7A22" stroke-width="0.4" stroke-opacity="0.2"/>
<path d="M1163.8,307.3 C1171.8,313.8 1192.8,342.2 1201.6,358.3" fill="none" stroke="#1A7A22" stroke-width="0.8" stroke-opacity="0.3"/>
<path d="M1173.7,352.2 C1187.4,352.6 1184.6,343 1211.1,353.1" fill="none" stroke="#1A7A22" stroke-width="0.7" stroke-opacity="0.2"/>
<path d="M1136.2,360.4 C1158.1,325.7 1166.9,320 1170.8,294.7" fill="none" stroke="#1A7A22" stroke-width="0.8" stroke-opacity="0.3"/>
<path d="M1210.9,320.8 C1201.8,307.3 1205.5,302.6 1177.6,302.9" fill="none" stroke="#1A7A22" stroke-width="0.8" stroke-opacity="0.3"/>
<path d="M1142.5,324.3 C1142.8,342.2 1184.9,316.6 1187.5,327.6" fill="none" stroke="#1A7A22" stroke-width="0.4" stroke-opacity="0.2"/>
<path d="M1220,377.7 C1175.5,382.8 1177.4,358.7 1142.1,361.1" fill="none" stroke="#1A7A22" stroke-width="0.7" stroke-opacity="0.3"/>
<path d="M1142.5,324.3 C1148.1,323.6 1159.6,320 1169.1,333.6" fill="none" stroke="#1A7A22" stroke-width="0.5" stroke-opacity="0.3"/>
<path d="M1236.1,367.8 C1243.5,388.9 1241.7,421.4 1227.4,456.5" fill="none" stroke="#1A7A22" stroke-width="0.6" stroke-opacity="0.3"/>
<path d="M1163.8,334.9 C1162.5,289.9 1129,295.7 1129.8,264" fill="none" stroke="#1A7A22" stroke-width="0.6" stroke-opacity="0.3"/>
<path d="M1163.8,334.9 C1138.5,339.4 1139.2,345.2 1138.2,346.1" fill="none" stroke="#1A7A22" stroke-width="0.7" stroke-opacity="0.3"/>
<path d="M1163.8,307.3 C1165,307.9 1189.2,293 1207.9,311.7" fill="none" stroke="#1A7A22" stroke-width="0.6" stroke-opacity="0.2"/>
<path d="M1136.2,360.4 C1146.9,333.1 1130.7,346.5 1142.1,331.3" fill="none" stroke="#1A7A22" stroke-width="0.9" stroke-opacity="0.3"/>
<path d="M1236.1,367.8 C1211.9,368.3 1212,382.4 1179.2,409" fill="none" stroke="#1A7A22" stroke-width="0.5" stroke-opacity="0.3"/>
<path d="M1231.7,349.8 C1256.8,333.3 1264.2,310.8 1259,312.8" fill="none" stroke="#1A7A22" stroke-width="0.6" stroke-opacity="0.2"/>
<path d="M1228.6,311.7 C1200.7,306.2 1191.8,318.2 1198,331.1" fill="none" stroke="#1A7A22" stroke-width="0.6" stroke-opacity="0.3"/>
<path d="M1173,370.2 C1207.7,373.1 1224.1,375.1 1257,391.7" fill="none" stroke="#1A7A22" stroke-width="0.8" stroke-opacity="0.3"/>
<path d="M1229.1,355.3 C1248.4,393.8 1242.9,411.7 1268.6,426" fill="none" stroke="#1A7A22" stroke-width="0.5" stroke-opacity="0.2"/>
<path d="M1153,345.2 C1172.5,328.1 1194.3,310.3 1213.6,291" fill="none" stroke="#1A7A22" stroke-width="0.6" stroke-opacity="0.3"/>
<path d="M1136.2,360.4 C1099.4,367.8 1079.1,402.7 1065.8,413.8" fill="none" stroke="#1A7A22" stroke-width="0.4" stroke-opacity="0.2"/>
<path d="M1214.7,350.4 C1213.1,324.9 1216.2,306.4 1209.2,304.9" fill="none" stroke="#1A7A22" stroke-width="0.4" stroke-opacity="0.3"/>
<path d="M1238,385.9 C1217.6,405.1 1226.2,403.1 1203.4,389.7" fill="none" stroke="#1A7A22" stroke-width="0.7" stroke-opacity="0.3"/>
<path d="M1223,375.2 C1242.4,407.6 1223,415.5 1239.4,451.8" fill="none" stroke="#1A7A22" stroke-width="0.8" stroke-opacity="0.2"/>
<path d="M1237.3,314.7 C1224,305.5 1221.7,306.8 1212.9,320.7" fill="none" stroke="#1A7A22" stroke-width="0.8" stroke-opacity="0.3"/>
<path d="M1163.8,307.3 C1181.2,286.6 1183.3,305.3 1179.3,286.5" fill="none" stroke="#1A7A22" stroke-width="0.9" stroke-opacity="0.3"/>
<path d="M1238,385.9 C1196.4,395.7 1194.3,401.6 1171.6,389.8" fill="none" stroke="#1A7A22" stroke-width="0.5" stroke-opacity="0.2"/>
<path d="M1142.9,334.1 C1172.2,307.9 1165.1,323.3 1199.9,306.3" fill="none" stroke="#1A7A22" stroke-width="0.7" stroke-opacity="0.2"/>
<path d="M1223.2,413.5 C1237.3,438.7 1234.1,478.9 1226.8,490.9" fill="none" stroke="#1A7A22" stroke-width="0.7" stroke-opacity="0.3"/>
<path d="M1162,335.6 C1161.8,353 1149.7,348.6 1160.4,375.6" fill="none" stroke="#1A7A22" stroke-width="0.4" stroke-opacity="0.2"/>
<path d="M1163.8,334.9 C1163.3,329.1 1135.1,305.6 1130.2,313.2" fill="none" stroke="#1A7A22" stroke-width="0.8" stroke-opacity="0.3"/>
<path d="M1218,330.2 C1215.7,334.6 1250.6,329.2 1257.2,353.8" fill="none" stroke="#1A7A22" stroke-width="0.8" stroke-opacity="0.3"/>
<path d="M1136.2,360.4 C1152.9,378 1146.6,381.8 1152.3,393.2" fill="none" stroke="#1A7A22" stroke-width="0.4" stroke-opacity="0.3"/>
<path d="M1187.1,413.5 C1175.8,406.9 1176.3,361.5 1181.8,360.5" fill="none" stroke="#1A7A22" stroke-width="0.8" stroke-opacity="0.3"/>
<path d="M1153,345.2 C1145.3,341.8 1133.4,359.6 1124.7,367.1" fill="none" stroke="#1A7A22" stroke-width="0.9" stroke-opacity="0.2"/>
<path d="M1212.2,391.2 C1181.4,386.5 1196,355.1 1177.3,361.1" fill="none" stroke="#1A7A22" stroke-width="0.7" stroke-opacity="0.2"/>
<path d="M1218,330.2 C1206.6,311.3 1186.9,307.7 1165.6,314.6" fill="none" stroke="#1A7A22" stroke-width="0.5" stroke-opacity="0.3"/>
<path d="M1136.2,299.3 C1126.9,339.2 1132.1,349.6 1155.2,358.7" fill="none" stroke="#1A7A22" stroke-width="0.8" stroke-opacity="0.2"/>
<path d="M1144.4,389.7 C1126.3,385.5 1107.4,355.4 1072.8,353.4" fill="none" stroke="#1A7A22" stroke-width="0.4" stroke-opacity="0.2"/>
<path d="M1157.4,409.2 C1151,427.3 1140.5,463.7 1148,468.8" fill="none" stroke="#1A7A22" stroke-width="0.8" stroke-opacity="0.3"/>
<path d="M1185.7,355 C1176.2,382.4 1177.4,387.2 1172.2,409.9" fill="none" stroke="#1A7A22" stroke-width="0.7" stroke-opacity="0.3"/>
<path d="M1210,343 C1198.4,374.2 1210.1,385.5 1187.2,428.1" fill="none" stroke="#1A7A22" stroke-width="0.4" stroke-opacity="0.3"/>
<path d="M1208.2,298.4 C1201.7,285.9 1179.6,279.3 1184.4,279" fill="none" stroke="#1A7A22" stroke-width="0.5" stroke-opacity="0.3"/>
<path d="M1163.8,307.3 C1198.7,307.3 1190.7,290.6 1224,303.9" fill="none" stroke="#1A7A22" stroke-width="0.5" stroke-opacity="0.3"/>
<path d="M1158.7,349.7 C1174.8,346.1 1186.5,344.1 1215.4,338.2" fill="none" stroke="#1A7A22" stroke-width="0.4" stroke-opacity="0.3"/>
<path d="M1174.4,311.5 C1194.6,340 1227.4,342.3 1224.6,350.2" fill="none" stroke="#1A7A22" stroke-width="0.8" stroke-opacity="0.3"/>
<path d="M1136.2,360.4 C1124.1,340.2 1122.7,326.2 1094.6,323.3" fill="none" stroke="#1A7A22" stroke-width="0.5" stroke-opacity="0.3"/>
<path d="M1217.2,375.8 C1262.8,362.7 1260.1,366.4 1294.2,376.8" fill="none" stroke="#1A7A22" stroke-width="0.5" stroke-opacity="0.2"/>
<path d="M1153,345.2 C1141.8,363.5 1130.4,404.9 1131,415.1" fill="none" stroke="#1A7A22" stroke-width="0.7" stroke-opacity="0.3"/>
<path d="M1133,388 C1153.5,407.3 1148.7,442.4 1163.8,469.7" fill="none" stroke="#1A7A22" stroke-width="0.7" stroke-opacity="0.3"/>
<path d="M1153,345.2 C1147.2,319.2 1096.8,299.2 1098.2,280.1" fill="none" stroke="#1A7A22" stroke-width="0.6" stroke-opacity="0.3"/>
<path d="M1157.4,409.2 C1140,384.5 1120.7,375.2 1105.5,360.1" fill="none" stroke="#1A7A22" stroke-width="0.6" stroke-opacity="0.2"/>
<path d="M1206.5,303.2 C1169.2,320.5 1150.8,334.3 1144.9,327.8" fill="none" stroke="#1A7A22" stroke-width="0.4" stroke-opacity="0.3"/>
<path d="M1163.8,334.9 C1178.5,308.8 1232.6,314.9 1238.4,314.5" fill="none" stroke="#1A7A22" stroke-width="0.7" stroke-opacity="0.3"/>
<path d="M1187,335.3 C1148.7,331.1 1127.7,304.8 1127.8,297.4" fill="none" stroke="#1A7A22" stroke-width="0.8" stroke-opacity="0.3"/>
<path d="M1228.5,350.7 C1209.1,350.7 1188.9,367.8 1178.6,376.2" fill="none" stroke="#1A7A22" stroke-width="0.4" stroke-opacity="0.3"/>
<path d="M1136.2,360.4 C1125.1,370 1140.8,382.8 1131,406.6" fill="none" stroke="#1A7A22" stroke-width="0.9" stroke-opacity="0.2"/>
<path d="M1173,370.2 C1151.8,342.5 1120.9,360.3 1088.8,344.7" fill="none" stroke="#1A7A22" stroke-width="0.8" stroke-opacity="0.3"/>
<path d="M1191.4,396.7 C1205.9,397.3 1190.7,386.8 1199.5,369.3" fill="none" stroke="#1A7A22" stroke-width="0.4" stroke-opacity="0.2"/>
<path d="M1163.8,334.9 C1174.6,333.5 1168.3,369.8 1146.8,376.1" fill="none" stroke="#1A7A22" stroke-width="0.9" stroke-opacity="0.2"/>
<path d="M1190.3,365.5 C1182.4,341.7 1153,352.3 1161.1,335.3" fill="none" stroke="#1A7A22" stroke-width="0.4" stroke-opacity="0.3"/>
<path d="M1238,385.9 C1263.1,403.1 1257.7,386.4 1272.7,386.8" fill="none" stroke="#1A7A22" stroke-width="0.6" stroke-opacity="0.2"/>
<path d="M1157.4,409.2 C1177.6,404.5 1205,387.9 1240.2,386.7" fill="none" stroke="#1A7A22" stroke-width="0.6" stroke-opacity="0.2"/>
<path d="M1160.6,362.5 C1146,359.9 1144.5,378.4 1129.5,359.9" fill="none" stroke="#1A7A22" stroke-width="0.9" stroke-opacity="0.3"/>
<path d="M1157.4,409.2 C1135.8,416.5 1131.8,397 1112.4,405" fill="none" stroke="#1A7A22" stroke-width="0.8" stroke-opacity="0.2"/>
<path d="M1189.2,382.7 C1217.2,407.6 1239,415.6 1240.4,452.5" fill="none" stroke="#1A7A22" stroke-width="0.5" stroke-opacity="0.3"/>
<path d="M1238,405.2 C1267.3,398.5 1258.8,401.5 1272.1,421.9" fill="none" stroke="#1A7A22" stroke-width="0.6" stroke-opacity="0.2"/>
<path d="M1243,356.6 C1255.7,342.7 1250.8,303.2 1278.1,297.4" fill="none" stroke="#1A7A22" stroke-width="0.8" stroke-opacity="0.3"/>
<path d="M1163.8,334.9 C1176.1,343.9 1194.2,352.7 1221.1,366" fill="none" stroke="#1A7A22" stroke-width="0.6" stroke-opacity="0.2"/>
<path d="M1142.5,324.3 C1140.4,294.9 1137.1,269.5 1136.3,248.4" fill="none" stroke="#1A7A22" stroke-width="0.5" stroke-opacity="0.3"/>
<path d="M1154.1,346.1 C1157,367 1117.5,368.9 1123.1,377.8" fill="none" stroke="#1A7A22" stroke-width="0.6" stroke-opacity="0.2"/>
<path d="M1163.8,334.9 C1186.5,334.1 1209,309.9 1230.4,318.2" fill="none" stroke="#1A7A22" stroke-width="0.8" stroke-opacity="0.2"/>
<path d="M1142.5,324.3 C1153.7,321.1 1145.4,342.4 1142.1,360.2" fill="none" stroke="#1A7A22" stroke-width="0.6" stroke-opacity="0.3"/>
<path d="M1178.6,337 C1177,315.1 1146.9,319.3 1144.4,295.6" fill="none" stroke="#1A7A22" stroke-width="0.7" stroke-opacity="0.2"/>
<path d="M1163.8,307.3 C1170.2,303.7 1177.5,341.3 1179.3,338.7" fill="none" stroke="#1A7A22" stroke-width="0.8" stroke-opacity="0.2"/>
<path d="M1157.4,409.2 C1156.8,408 1186.5,422.7 1186.5,438.6" fill="none" stroke="#1A7A22" stroke-width="0.5" stroke-opacity="0.3"/>
<path d="M1160.2,350.2 C1170.5,334.3 1177.1,330.8 1202.2,327.5" fill="none" stroke="#1A7A22" stroke-width="0.6" stroke-opacity="0.3"/>
<path d="M1206.2,332.8 C1173.4,324.1 1165.1,320.9 1145.9,309.3" fill="none" stroke="#1A7A22" stroke-width="0.7" stroke-opacity="0.3"/>
<path d="M1157.4,409.2 C1170.1,403.3 1141,379.9 1159,359.5" fill="none" stroke="#1A7A22" stroke-width="0.6" stroke-opacity="0.3"/>
<path d="M1198,315.2 C1181.8,329.5 1139.5,337.4 1122.7,363.3" fill="none" stroke="#1A7A22" stroke-width="0.8" stroke-opacity="0.3"/>
<path d="M1187.1,413.5 C1200.3,424.6 1202,422.5 1211.3,449.2" fill="none" stroke="#1A7A22" stroke-width="0.8" stroke-opacity="0.2"/>
<path d="M1206.2,332.8 C1171.9,343.2 1154.8,358.8 1152.5,364.4" fill="none" stroke="#1A7A22" stroke-width="0.9" stroke-opacity="0.3"/>
<path d="M1240.3,372.7 C1248.7,394.5 1239.2,382.3 1255.8,407.9" fill="none" stroke="#1A7A22" stroke-width="0.9" stroke-opacity="0.3"/>
<path d="M1136.2,360.4 C1119.5,343 1112.2,319.9 1084.6,315.8" fill="none" stroke="#1A7A22" stroke-width="0.5" stroke-opacity="0.2"/>
<path d="M1218,330.2 C1185,335.2 1165.3,329.2 1136.8,352.8" fill="none" stroke="#1A7A22" stroke-width="0.6" stroke-opacity="0.2"/>
<path d="M1191.4,396.7 C1216.8,398.4 1203.8,397.5 1216.7,400.9" fill="none" stroke="#1A7A22" stroke-width="0.6" stroke-opacity="0.3"/>
<path d="M1153,345.2 C1166.8,362.9 1138.8,367.2 1150.4,391.4" fill="none" stroke="#1A7A22" stroke-width="0.6" stroke-opacity="0.3"/>
<path d="M1231.7,349.8 C1237.6,329.6 1225.6,315 1210,280.6" fill="none" stroke="#1A7A22" stroke-width="0.8" stroke-opacity="0.2"/>
<path d="M1189.2,382.7 C1172.4,378.7 1143.6,360.5 1128.9,343.3" fill="none" stroke="#1A7A22" stroke-width="0.6" stroke-opacity="0.3"/>
<ellipse cx="1163.8" cy="307.3" rx="7.3" ry="4.3" transform="rotate(138 1163.8 307.3)" fill="#2BBE40" fill-opacity="0.35"/>
<ellipse cx="1163.8" cy="307.3" rx="4.3" ry="2.7" transform="rotate(138 1163.8 307.3)" fill="#2BBE40"/>
<ellipse cx="1174.4" cy="311.5" rx="7.8" ry="5.2" transform="rotate(57 1174.4 311.5)" fill="#23A035" fill-opacity="0.35"/>
<ellipse cx="1174.4" cy="311.5" rx="4.6" ry="3.2" transform="rotate(57 1174.4 311.5)" fill="#23A035"/>
<ellipse cx="1206.5" cy="303.2" rx="5" ry="3" transform="rotate(68 1206.5 303.2)" fill="#1A7A26" fill-opacity="0.35"/>
<ellipse cx="1206.5" cy="303.2" rx="2.9" ry="1.8" transform="rotate(68 1206.5 303.2)" fill="#1A7A26"/>
<ellipse cx="1238" cy="309.4" rx="6.5" ry="3.5" transform="rotate(157 1238 309.4)" fill="#1E8A2C" fill-opacity="0.35"/>
<ellipse cx="1238" cy="309.4" rx="3.8" ry="2.2" transform="rotate(157 1238 309.4)" fill="#1E8A2C"/>
<ellipse cx="1206.2" cy="332.8" rx="7.1" ry="5.7" transform="rotate(109 1206.2 332.8)" fill="#2BBE40" fill-opacity="0.35"/>
<ellipse cx="1206.2" cy="332.8" rx="4.2" ry="3.5" transform="rotate(109 1206.2 332.8)" fill="#2BBE40"/>
<ellipse cx="1178.6" cy="337" rx="4.9" ry="4.5" transform="rotate(166 1178.6 337)" fill="#23A035" fill-opacity="0.35"/>
<ellipse cx="1178.6" cy="337" rx="2.9" ry="2.8" transform="rotate(166 1178.6 337)" fill="#23A035"/>
<ellipse cx="1160.6" cy="362.5" rx="3.9" ry="3.2" transform="rotate(71 1160.6 362.5)" fill="#1E8A2C" fill-opacity="0.35"/>
<ellipse cx="1160.6" cy="362.5" rx="2.3" ry="2" transform="rotate(71 1160.6 362.5)" fill="#1E8A2C"/>
<ellipse cx="1231.7" cy="349.8" rx="5.9" ry="4.3" transform="rotate(17 1231.7 349.8)" fill="#1E8A2C" fill-opacity="0.35"/>
<ellipse cx="1231.7" cy="349.8" rx="3.5" ry="2.7" transform="rotate(17 1231.7 349.8)" fill="#1E8A2C"/>
<ellipse cx="1236.1" cy="367.8" rx="4.6" ry="5.1" transform="rotate(43 1236.1 367.8)" fill="#3AD84C" fill-opacity="0.35"/>
<ellipse cx="1236.1" cy="367.8" rx="2.7" ry="3.2" transform="rotate(43 1236.1 367.8)" fill="#3AD84C"/>
<ellipse cx="1238" cy="385.9" rx="7.1" ry="4.2" transform="rotate(113 1238 385.9)" fill="#23A035" fill-opacity="0.35"/>
<ellipse cx="1238" cy="385.9" rx="4.2" ry="2.7" transform="rotate(113 1238 385.9)" fill="#23A035"/>
<ellipse cx="1212.2" cy="391.2" rx="8.1" ry="5.1" transform="rotate(105 1212.2 391.2)" fill="#1A7A26" fill-opacity="0.35"/>
<ellipse cx="1212.2" cy="391.2" rx="4.7" ry="3.2" transform="rotate(105 1212.2 391.2)" fill="#1A7A26"/>
<ellipse cx="1189.2" cy="382.7" rx="3.9" ry="2.7" transform="rotate(82 1189.2 382.7)" fill="#1E8A2C" fill-opacity="0.35"/>
<ellipse cx="1189.2" cy="382.7" rx="2.3" ry="1.7" transform="rotate(82 1189.2 382.7)" fill="#1E8A2C"/>
<ellipse cx="1133" cy="388" rx="5.8" ry="3.5" transform="rotate(130 1133 388)" fill="#23A035" fill-opacity="0.35"/>
<ellipse cx="1133" cy="388" rx="3.4" ry="2.2" transform="rotate(130 1133 388)" fill="#23A035"/>
<ellipse cx="1191.4" cy="396.7" rx="4.4" ry="3.8" transform="rotate(172 1191.4 396.7)" fill="#2BBE40" fill-opacity="0.35"/>
<ellipse cx="1191.4" cy="396.7" rx="2.6" ry="2.4" transform="rotate(172 1191.4 396.7)" fill="#2BBE40"/>
<ellipse cx="1187.1" cy="413.5" rx="6.1" ry="3.3" transform="rotate(68 1187.1 413.5)" fill="#2BBE40" fill-opacity="0.35"/>
<ellipse cx="1187.1" cy="413.5" rx="3.6" ry="2" transform="rotate(68 1187.1 413.5)" fill="#2BBE40"/>
<ellipse cx="1223.2" cy="413.5" rx="5.2" ry="4.9" transform="rotate(89 1223.2 413.5)" fill="#1A7A26" fill-opacity="0.35"/>
<ellipse cx="1223.2" cy="413.5" rx="3.1" ry="3.1" transform="rotate(89 1223.2 413.5)" fill="#1A7A26"/>
<ellipse cx="1157.4" cy="409.2" rx="4.9" ry="4.3" transform="rotate(149 1157.4 409.2)" fill="#1E8A2C" fill-opacity="0.35"/>
<ellipse cx="1157.4" cy="409.2" rx="2.9" ry="2.7" transform="rotate(149 1157.4 409.2)" fill="#1E8A2C"/>
<ellipse cx="1136.2" cy="360.4" rx="5.2" ry="3.5" transform="rotate(151 1136.2 360.4)" fill="#1E8A2C" fill-opacity="0.35"/>
<ellipse cx="1136.2" cy="360.4" rx="3.1" ry="2.2" transform="rotate(151 1136.2 360.4)" fill="#1E8A2C"/>
<ellipse cx="1142.5" cy="324.3" rx="4.3" ry="3.5" transform="rotate(51 1142.5 324.3)" fill="#1A7A26" fill-opacity="0.35"/>
<ellipse cx="1142.5" cy="324.3" rx="2.5" ry="2.2" transform="rotate(51 1142.5 324.3)" fill="#1A7A26"/>
<ellipse cx="1163.8" cy="334.9" rx="5.6" ry="3.4" transform="rotate(65 1163.8 334.9)" fill="#1E8A2C" fill-opacity="0.35"/>
<ellipse cx="1163.8" cy="334.9" rx="3.3" ry="2.1" transform="rotate(65 1163.8 334.9)" fill="#1E8A2C"/>
<ellipse cx="1198" cy="315.2" rx="4.6" ry="3.3" transform="rotate(65 1198 315.2)" fill="#3AD84C" fill-opacity="0.35"/>
<ellipse cx="1198" cy="315.2" rx="2.7" ry="2.1" transform="rotate(65 1198 315.2)" fill="#3AD84C"/>
<ellipse cx="1218" cy="330.2" rx="4.9" ry="3.6" transform="rotate(172 1218 330.2)" fill="#2BBE40" fill-opacity="0.35"/>
<ellipse cx="1218" cy="330.2" rx="2.9" ry="2.3" transform="rotate(172 1218 330.2)" fill="#2BBE40"/>
<ellipse cx="1153" cy="345.2" rx="5.4" ry="3.5" transform="rotate(154 1153 345.2)" fill="#2BBE40" fill-opacity="0.35"/>
<ellipse cx="1153" cy="345.2" rx="3.2" ry="2.2" transform="rotate(154 1153 345.2)" fill="#2BBE40"/>
<ellipse cx="1223" cy="375.2" rx="4.1" ry="2.9" transform="rotate(5 1223 375.2)" fill="#1A7A26" fill-opacity="0.35"/>
<ellipse cx="1223" cy="375.2" rx="2.4" ry="1.8" transform="rotate(5 1223 375.2)" fill="#1A7A26"/>
<ellipse cx="1173" cy="370.2" rx="4.7" ry="3.4" transform="rotate(9 1173 370.2)" fill="#2BBE40" fill-opacity="0.35"/>
<ellipse cx="1173" cy="370.2" rx="2.7" ry="2.1" transform="rotate(9 1173 370.2)" fill="#2BBE40"/>
<ellipse cx="1143" cy="405.2" rx="5.2" ry="3.5" transform="rotate(176 1143 405.2)" fill="#2BBE40" fill-opacity="0.35"/>
<ellipse cx="1143" cy="405.2" rx="3.1" ry="2.2" transform="rotate(176 1143 405.2)" fill="#2BBE40"/>
<ellipse cx="1238" cy="405.2" rx="4.4" ry="3.4" transform="rotate(141 1238 405.2)" fill="#1E8A2C" fill-opacity="0.35"/>
<ellipse cx="1238" cy="405.2" rx="2.6" ry="2.1" transform="rotate(141 1238 405.2)" fill="#1E8A2C"/>
</g></g>
<text x="603.2" y="525" font-size="35.5" text-anchor="start" fill="#000" font-weight="bold" stroke="#000" stroke-width="0.9">d</text>
<line x1="750" y1="597.8" x2="750" y2="585.1" stroke="#333" stroke-width="1.3"/>
<line x1="747.2" y1="585.1" x2="752.8" y2="585.1" stroke="#333" stroke-width="1.3"/>
<rect x="745.3" y="597.8" width="9.5" height="57.2" fill="#0A6261"/>
<ellipse cx="750" cy="577.1" rx="2.5" ry="1.7" fill="#1ED0D8"/>
<ellipse cx="750" cy="596" rx="2.5" ry="1.7" fill="#1ED0D8"/>
<ellipse cx="750" cy="620.4" rx="2.5" ry="1.7" fill="#1ED0D8"/>
<line x1="761.5" y1="609.1" x2="761.5" y2="596.6" stroke="#333" stroke-width="1.3"/>
<line x1="758.8" y1="596.6" x2="764.3" y2="596.6" stroke="#333" stroke-width="1.3"/>
<rect x="756.8" y="609.1" width="9.5" height="45.9" fill="#12989A"/>
<ellipse cx="761.5" cy="585.4" rx="2.5" ry="1.7" fill="#0A4B4D"/>
<ellipse cx="761.5" cy="615.3" rx="2.5" ry="1.7" fill="#0A4B4D"/>
<ellipse cx="761.5" cy="627.4" rx="2.5" ry="1.7" fill="#0A4B4D"/>
<line x1="782" y1="584.6" x2="782" y2="575.3" stroke="#333" stroke-width="1.3"/>
<line x1="779.2" y1="575.3" x2="784.8" y2="575.3" stroke="#333" stroke-width="1.3"/>
<rect x="777.3" y="584.6" width="9.5" height="70.4" fill="#0A6261"/>
<ellipse cx="782" cy="572.2" rx="2.5" ry="1.7" fill="#1ED0D8"/>
<ellipse cx="782" cy="579.2" rx="2.5" ry="1.7" fill="#1ED0D8"/>
<ellipse cx="782" cy="602.2" rx="2.5" ry="1.7" fill="#1ED0D8"/>
<line x1="793.5" y1="615.9" x2="793.5" y2="597.5" stroke="#333" stroke-width="1.3"/>
<line x1="790.8" y1="597.5" x2="796.3" y2="597.5" stroke="#333" stroke-width="1.3"/>
<rect x="788.8" y="615.9" width="9.5" height="39.1" fill="#12989A"/>
<ellipse cx="793.5" cy="570.1" rx="2.5" ry="1.7" fill="#0A4B4D"/>
<ellipse cx="793.5" cy="607.3" rx="2.5" ry="1.7" fill="#0A4B4D"/>
<ellipse cx="793.5" cy="635.5" rx="2.5" ry="1.7" fill="#0A4B4D"/>
<ellipse cx="793.5" cy="650.5" rx="2.5" ry="1.7" fill="#0A4B4D"/>
<line x1="814" y1="622.4" x2="814" y2="610.3" stroke="#333" stroke-width="1.3"/>
<line x1="811.2" y1="610.3" x2="816.8" y2="610.3" stroke="#333" stroke-width="1.3"/>
<rect x="809.3" y="622.4" width="9.5" height="32.6" fill="#0A6261"/>
<ellipse cx="814" cy="595.7" rx="2.5" ry="1.7" fill="#1ED0D8"/>
<ellipse cx="814" cy="612.2" rx="2.5" ry="1.7" fill="#1ED0D8"/>
<ellipse cx="814" cy="632.4" rx="2.5" ry="1.7" fill="#1ED0D8"/>
<ellipse cx="814" cy="650.2" rx="2.5" ry="1.7" fill="#1ED0D8"/>
<line x1="825.5" y1="623.5" x2="825.5" y2="611" stroke="#333" stroke-width="1.3"/>
<line x1="822.8" y1="611" x2="828.3" y2="611" stroke="#333" stroke-width="1.3"/>
<rect x="820.8" y="623.5" width="9.5" height="31.5" fill="#12989A"/>
<ellipse cx="825.5" cy="600.6" rx="2.5" ry="1.7" fill="#0A4B4D"/>
<ellipse cx="825.5" cy="610.3" rx="2.5" ry="1.7" fill="#0A4B4D"/>
<ellipse cx="825.5" cy="626.7" rx="2.5" ry="1.7" fill="#0A4B4D"/>
<ellipse cx="825.5" cy="655.1" rx="2.5" ry="1.7" fill="#0A4B4D"/>
<line x1="846" y1="619.6" x2="846" y2="609.5" stroke="#333" stroke-width="1.3"/>
<line x1="843.2" y1="609.5" x2="848.8" y2="609.5" stroke="#333" stroke-width="1.3"/>
<rect x="841.3" y="619.6" width="9.5" height="35.4" fill="#0A6261"/>
<ellipse cx="846" cy="601.7" rx="2.5" ry="1.7" fill="#1ED0D8"/>
<ellipse cx="846" cy="606.7" rx="2.5" ry="1.7" fill="#1ED0D8"/>
<ellipse cx="846" cy="625.1" rx="2.5" ry="1.7" fill="#1ED0D8"/>
<ellipse cx="846" cy="644.1" rx="2.5" ry="1.7" fill="#1ED0D8"/>
<line x1="857.5" y1="623.5" x2="857.5" y2="615.4" stroke="#333" stroke-width="1.3"/>
<line x1="854.8" y1="615.4" x2="860.3" y2="615.4" stroke="#333" stroke-width="1.3"/>
<rect x="852.8" y="623.5" width="9.5" height="31.5" fill="#12989A"/>
<ellipse cx="857.5" cy="605.2" rx="2.5" ry="1.7" fill="#0A4B4D"/>
<ellipse cx="857.5" cy="616.8" rx="2.5" ry="1.7" fill="#0A4B4D"/>
<ellipse cx="857.5" cy="629" rx="2.5" ry="1.7" fill="#0A4B4D"/>
<ellipse cx="857.5" cy="642.9" rx="2.5" ry="1.7" fill="#0A4B4D"/>
<line x1="878" y1="618.1" x2="878" y2="606.1" stroke="#333" stroke-width="1.3"/>
<line x1="875.2" y1="606.1" x2="880.8" y2="606.1" stroke="#333" stroke-width="1.3"/>
<rect x="873.3" y="618.1" width="9.5" height="36.9" fill="#0A6261"/>
<ellipse cx="878" cy="592.1" rx="2.5" ry="1.7" fill="#1ED0D8"/>
<ellipse cx="878" cy="607.7" rx="2.5" ry="1.7" fill="#1ED0D8"/>
<ellipse cx="878" cy="626.3" rx="2.5" ry="1.7" fill="#1ED0D8"/>
<ellipse cx="878" cy="646.1" rx="2.5" ry="1.7" fill="#1ED0D8"/>
<line x1="889.5" y1="617" x2="889.5" y2="604.9" stroke="#333" stroke-width="1.3"/>
<line x1="886.8" y1="604.9" x2="892.3" y2="604.9" stroke="#333" stroke-width="1.3"/>
<rect x="884.8" y="617" width="9.5" height="38" fill="#12989A"/>
<ellipse cx="889.5" cy="589.4" rx="2.5" ry="1.7" fill="#0A4B4D"/>
<ellipse cx="889.5" cy="604.9" rx="2.5" ry="1.7" fill="#0A4B4D"/>
<ellipse cx="889.5" cy="631" rx="2.5" ry="1.7" fill="#0A4B4D"/>
<ellipse cx="889.5" cy="643" rx="2.5" ry="1.7" fill="#0A4B4D"/>
<line x1="910" y1="618.1" x2="910" y2="609.2" stroke="#333" stroke-width="1.3"/>
<line x1="907.2" y1="609.2" x2="912.8" y2="609.2" stroke="#333" stroke-width="1.3"/>
<rect x="905.3" y="618.1" width="9.5" height="36.9" fill="#0A6261"/>
<ellipse cx="910" cy="592.6" rx="2.5" ry="1.7" fill="#1ED0D8"/>
<ellipse cx="910" cy="616.8" rx="2.5" ry="1.7" fill="#1ED0D8"/>
<ellipse cx="910" cy="630" rx="2.5" ry="1.7" fill="#1ED0D8"/>
<ellipse cx="910" cy="634.4" rx="2.5" ry="1.7" fill="#1ED0D8"/>
<line x1="921.5" y1="627.7" x2="921.5" y2="615.3" stroke="#333" stroke-width="1.3"/>
<line x1="918.8" y1="615.3" x2="924.3" y2="615.3" stroke="#333" stroke-width="1.3"/>
<rect x="916.8" y="627.7" width="9.5" height="27.3" fill="#12989A"/>
<ellipse cx="921.5" cy="592.6" rx="2.5" ry="1.7" fill="#0A4B4D"/>
<ellipse cx="921.5" cy="627.7" rx="2.5" ry="1.7" fill="#0A4B4D"/>
<ellipse cx="921.5" cy="644.6" rx="2.5" ry="1.7" fill="#0A4B4D"/>
<ellipse cx="924.1" cy="646.1" rx="2.5" ry="1.7" fill="#0A4B4D"/>
<line x1="942" y1="595" x2="942" y2="579.2" stroke="#333" stroke-width="1.3"/>
<line x1="939.2" y1="579.2" x2="944.8" y2="579.2" stroke="#333" stroke-width="1.3"/>
<rect x="937.3" y="595" width="9.5" height="60" fill="#0A6261"/>
<ellipse cx="942" cy="579.2" rx="2.5" ry="1.7" fill="#1ED0D8"/>
<ellipse cx="942" cy="626.7" rx="2.5" ry="1.7" fill="#1ED0D8"/>
<line x1="953.5" y1="601" x2="953.5" y2="578.1" stroke="#333" stroke-width="1.3"/>
<line x1="950.8" y1="578.1" x2="956.3" y2="578.1" stroke="#333" stroke-width="1.3"/>
<rect x="948.8" y="601" width="9.5" height="54" fill="#12989A"/>
<ellipse cx="953.5" cy="570.9" rx="2.5" ry="1.7" fill="#0A4B4D"/>
<ellipse cx="953.5" cy="585.7" rx="2.5" ry="1.7" fill="#0A4B4D"/>
<ellipse cx="953.5" cy="646.1" rx="2.5" ry="1.7" fill="#0A4B4D"/>
<line x1="974" y1="591.6" x2="974" y2="579.2" stroke="#333" stroke-width="1.3"/>
<line x1="971.2" y1="579.2" x2="976.8" y2="579.2" stroke="#333" stroke-width="1.3"/>
<rect x="969.3" y="591.6" width="9.5" height="63.4" fill="#0A6261"/>
<ellipse cx="974" cy="576.4" rx="2.5" ry="1.7" fill="#1ED0D8"/>
<ellipse cx="974" cy="582.3" rx="2.5" ry="1.7" fill="#1ED0D8"/>
<ellipse cx="974" cy="615.8" rx="2.5" ry="1.7" fill="#1ED0D8"/>
<line x1="985.5" y1="592.1" x2="985.5" y2="582.3" stroke="#333" stroke-width="1.3"/>
<line x1="982.8" y1="582.3" x2="988.3" y2="582.3" stroke="#333" stroke-width="1.3"/>
<rect x="980.8" y="592.1" width="9.5" height="62.9" fill="#12989A"/>
<ellipse cx="985.5" cy="580.7" rx="2.5" ry="1.7" fill="#0A4B4D"/>
<ellipse cx="988.1" cy="583.5" rx="2.5" ry="1.7" fill="#0A4B4D"/>
<ellipse cx="985.5" cy="612.2" rx="2.5" ry="1.7" fill="#0A4B4D"/>
<line x1="1006" y1="588.8" x2="1006" y2="572.6" stroke="#333" stroke-width="1.3"/>
<line x1="1003.2" y1="572.6" x2="1008.8" y2="572.6" stroke="#333" stroke-width="1.3"/>
<rect x="1001.3" y="588.8" width="9.5" height="66.2" fill="#0A6261"/>
<ellipse cx="1006" cy="572.2" rx="2.5" ry="1.7" fill="#1ED0D8"/>
<ellipse cx="1008.6" cy="573" rx="2.5" ry="1.7" fill="#1ED0D8"/>
<ellipse cx="1006" cy="620.9" rx="2.5" ry="1.7" fill="#1ED0D8"/>
<line x1="1017.5" y1="594.3" x2="1017.5" y2="578.9" stroke="#333" stroke-width="1.3"/>
<line x1="1014.8" y1="578.9" x2="1020.3" y2="578.9" stroke="#333" stroke-width="1.3"/>
<rect x="1012.8" y="594.3" width="9.5" height="60.7" fill="#12989A"/>
<ellipse cx="1017.5" cy="567.5" rx="2.5" ry="1.7" fill="#0A4B4D"/>
<ellipse cx="1017.5" cy="594" rx="2.5" ry="1.7" fill="#0A4B4D"/>
<ellipse cx="1017.5" cy="621.2" rx="2.5" ry="1.7" fill="#0A4B4D"/>
<line x1="1038" y1="610" x2="1038" y2="593.2" stroke="#333" stroke-width="1.3"/>
<line x1="1035.2" y1="593.2" x2="1040.8" y2="593.2" stroke="#333" stroke-width="1.3"/>
<rect x="1033.3" y="610" width="9.5" height="45" fill="#0A6261"/>
<ellipse cx="1038" cy="593.2" rx="2.5" ry="1.7" fill="#1ED0D8"/>
<ellipse cx="1040.6" cy="594" rx="2.5" ry="1.7" fill="#1ED0D8"/>
<ellipse cx="1038" cy="643" rx="2.5" ry="1.7" fill="#1ED0D8"/>
<line x1="1049.5" y1="608.8" x2="1049.5" y2="589.3" stroke="#333" stroke-width="1.3"/>
<line x1="1046.8" y1="589.3" x2="1052.3" y2="589.3" stroke="#333" stroke-width="1.3"/>
<rect x="1044.8" y="608.8" width="9.5" height="46.2" fill="#12989A"/>
<ellipse cx="1049.5" cy="588" rx="2.5" ry="1.7" fill="#0A4B4D"/>
<ellipse cx="1052.1" cy="590.4" rx="2.5" ry="1.7" fill="#0A4B4D"/>
<ellipse cx="1049.5" cy="647.7" rx="2.5" ry="1.7" fill="#0A4B4D"/>
<line x1="1070" y1="605.3" x2="1070" y2="583" stroke="#333" stroke-width="1.3"/>
<line x1="1067.2" y1="583" x2="1072.8" y2="583" stroke="#333" stroke-width="1.3"/>
<rect x="1065.3" y="605.3" width="9.5" height="49.7" fill="#0A6261"/>
<ellipse cx="1070" cy="581" rx="2.5" ry="1.7" fill="#1ED0D8"/>
<ellipse cx="1070" cy="586.2" rx="2.5" ry="1.7" fill="#1ED0D8"/>
<ellipse cx="1070" cy="648.9" rx="2.5" ry="1.7" fill="#1ED0D8"/>
<line x1="1081.5" y1="607.7" x2="1081.5" y2="586.6" stroke="#333" stroke-width="1.3"/>
<line x1="1078.8" y1="586.6" x2="1084.3" y2="586.6" stroke="#333" stroke-width="1.3"/>
<rect x="1076.8" y="607.7" width="9.5" height="47.3" fill="#12989A"/>
<ellipse cx="1081.5" cy="577.3" rx="2.5" ry="1.7" fill="#0A4B4D"/>
<ellipse cx="1081.5" cy="597.1" rx="2.5" ry="1.7" fill="#0A4B4D"/>
<ellipse cx="1081.5" cy="648.5" rx="2.5" ry="1.7" fill="#0A4B4D"/>
<line x1="1102" y1="604.7" x2="1102" y2="585.4" stroke="#333" stroke-width="1.3"/>
<line x1="1099.2" y1="585.4" x2="1104.8" y2="585.4" stroke="#333" stroke-width="1.3"/>
<rect x="1097.3" y="604.7" width="9.5" height="50.3" fill="#0A6261"/>
<ellipse cx="1102" cy="579.6" rx="2.5" ry="1.7" fill="#1ED0D8"/>
<ellipse cx="1102" cy="591.6" rx="2.5" ry="1.7" fill="#1ED0D8"/>
<ellipse cx="1102" cy="642.7" rx="2.5" ry="1.7" fill="#1ED0D8"/>
<line x1="1113.5" y1="604.1" x2="1113.5" y2="586.6" stroke="#333" stroke-width="1.3"/>
<line x1="1110.8" y1="586.6" x2="1116.3" y2="586.6" stroke="#333" stroke-width="1.3"/>
<rect x="1108.8" y="604.1" width="9.5" height="50.9" fill="#12989A"/>
<ellipse cx="1113.5" cy="582.9" rx="2.5" ry="1.7" fill="#0A4B4D"/>
<ellipse cx="1113.5" cy="591.2" rx="2.5" ry="1.7" fill="#0A4B4D"/>
<ellipse cx="1113.5" cy="638.3" rx="2.5" ry="1.7" fill="#0A4B4D"/>
<line x1="1134" y1="611.9" x2="1134" y2="597.4" stroke="#333" stroke-width="1.3"/>
<line x1="1131.2" y1="597.4" x2="1136.8" y2="597.4" stroke="#333" stroke-width="1.3"/>
<rect x="1129.3" y="611.9" width="9.5" height="43.1" fill="#0A6261"/>
<ellipse cx="1134" cy="592.6" rx="2.5" ry="1.7" fill="#1ED0D8"/>
<ellipse cx="1134" cy="603.6" rx="2.5" ry="1.7" fill="#1ED0D8"/>
<ellipse cx="1134" cy="639.3" rx="2.5" ry="1.7" fill="#1ED0D8"/>
<line x1="1145.5" y1="622.1" x2="1145.5" y2="610.3" stroke="#333" stroke-width="1.3"/>
<line x1="1142.8" y1="610.3" x2="1148.3" y2="610.3" stroke="#333" stroke-width="1.3"/>
<rect x="1140.8" y="622.1" width="9.5" height="32.9" fill="#12989A"/>
<ellipse cx="1145.5" cy="599.6" rx="2.5" ry="1.7" fill="#0A4B4D"/>
<ellipse cx="1145.5" cy="629.3" rx="2.5" ry="1.7" fill="#0A4B4D"/>
<ellipse cx="1145.5" cy="637.5" rx="2.5" ry="1.7" fill="#0A4B4D"/>
<line x1="1166" y1="618.1" x2="1166" y2="600.6" stroke="#333" stroke-width="1.3"/>
<line x1="1163.2" y1="600.6" x2="1168.8" y2="600.6" stroke="#333" stroke-width="1.3"/>
<rect x="1161.3" y="618.1" width="9.5" height="36.9" fill="#0A6261"/>
<ellipse cx="1166" cy="600.6" rx="2.5" ry="1.7" fill="#1ED0D8"/>
<ellipse cx="1166" cy="635.4" rx="2.5" ry="1.7" fill="#1ED0D8"/>
<line x1="1177.5" y1="620.5" x2="1177.5" y2="596.9" stroke="#333" stroke-width="1.3"/>
<line x1="1174.8" y1="596.9" x2="1180.3" y2="596.9" stroke="#333" stroke-width="1.3"/>
<rect x="1172.8" y="620.5" width="9.5" height="34.5" fill="#12989A"/>
<ellipse cx="1177.5" cy="596.9" rx="2.5" ry="1.7" fill="#0A4B4D"/>
<ellipse cx="1177.5" cy="643.4" rx="2.5" ry="1.7" fill="#0A4B4D"/>
<line x1="1198" y1="599.5" x2="1198" y2="596.9" stroke="#333" stroke-width="1.3"/>
<line x1="1195.2" y1="596.9" x2="1200.8" y2="596.9" stroke="#333" stroke-width="1.3"/>
<rect x="1193.3" y="599.5" width="9.5" height="55.5" fill="#0A6261"/>
<ellipse cx="1198" cy="596.9" rx="2.5" ry="1.7" fill="#1ED0D8"/>
<ellipse cx="1198" cy="602.3" rx="2.5" ry="1.7" fill="#1ED0D8"/>
<line x1="1209.5" y1="597.8" x2="1209.5" y2="596.3" stroke="#333" stroke-width="1.3"/>
<line x1="1206.8" y1="596.3" x2="1212.3" y2="596.3" stroke="#333" stroke-width="1.3"/>
<rect x="1204.8" y="597.8" width="9.5" height="57.2" fill="#12989A"/>
<ellipse cx="1209.5" cy="596.3" rx="2.5" ry="1.7" fill="#0A4B4D"/>
<ellipse cx="1212.1" cy="599.1" rx="2.5" ry="1.7" fill="#0A4B4D"/>
<line x1="1230" y1="598.2" x2="1230" y2="596.3" stroke="#333" stroke-width="1.3"/>
<line x1="1227.2" y1="596.3" x2="1232.8" y2="596.3" stroke="#333" stroke-width="1.3"/>
<rect x="1225.3" y="598.2" width="9.5" height="56.8" fill="#0A6261"/>
<ellipse cx="1230" cy="596.3" rx="2.5" ry="1.7" fill="#1ED0D8"/>
<ellipse cx="1232.6" cy="599.1" rx="2.5" ry="1.7" fill="#1ED0D8"/>
<line x1="1241.5" y1="592" x2="1241.5" y2="590.2" stroke="#333" stroke-width="1.3"/>
<line x1="1238.8" y1="590.2" x2="1244.3" y2="590.2" stroke="#333" stroke-width="1.3"/>
<rect x="1236.8" y="592" width="9.5" height="63" fill="#12989A"/>
<ellipse cx="1241.5" cy="590.2" rx="2.5" ry="1.7" fill="#0A4B4D"/>
<ellipse cx="1241.5" cy="594.5" rx="2.5" ry="1.7" fill="#0A4B4D"/>
<line x1="1262" y1="596" x2="1262" y2="595" stroke="#333" stroke-width="1.3"/>
<line x1="1259.2" y1="595" x2="1264.8" y2="595" stroke="#333" stroke-width="1.3"/>
<rect x="1257.3" y="596" width="9.5" height="59" fill="#0A6261"/>
<ellipse cx="1262" cy="595" rx="2.5" ry="1.7" fill="#1ED0D8"/>
<ellipse cx="1264.6" cy="597.8" rx="2.5" ry="1.7" fill="#1ED0D8"/>
<line x1="1273.5" y1="599.5" x2="1273.5" y2="597.2" stroke="#333" stroke-width="1.3"/>
<line x1="1270.8" y1="597.2" x2="1276.3" y2="597.2" stroke="#333" stroke-width="1.3"/>
<rect x="1268.8" y="599.5" width="9.5" height="55.5" fill="#12989A"/>
<ellipse cx="1273.5" cy="597.2" rx="2.5" ry="1.7" fill="#0A4B4D"/>
<ellipse cx="1273.5" cy="602" rx="2.5" ry="1.7" fill="#0A4B4D"/>
<line x1="1294" y1="594.1" x2="1294" y2="583.5" stroke="#333" stroke-width="1.3"/>
<line x1="1291.2" y1="583.5" x2="1296.8" y2="583.5" stroke="#333" stroke-width="1.3"/>
<rect x="1289.3" y="594.1" width="9.5" height="60.9" fill="#0A6261"/>
<ellipse cx="1294" cy="573.6" rx="2.5" ry="1.7" fill="#1ED0D8"/>
<ellipse cx="1294" cy="603.8" rx="2.5" ry="1.7" fill="#1ED0D8"/>
<ellipse cx="1296.6" cy="604.9" rx="2.5" ry="1.7" fill="#1ED0D8"/>
<line x1="1305.5" y1="594.1" x2="1305.5" y2="583.3" stroke="#333" stroke-width="1.3"/>
<line x1="1302.8" y1="583.3" x2="1308.3" y2="583.3" stroke="#333" stroke-width="1.3"/>
<rect x="1300.8" y="594.1" width="9.5" height="60.9" fill="#12989A"/>
<ellipse cx="1305.5" cy="572.7" rx="2.5" ry="1.7" fill="#0A4B4D"/>
<ellipse cx="1305.5" cy="600" rx="2.5" ry="1.7" fill="#0A4B4D"/>
<ellipse cx="1305.5" cy="609.7" rx="2.5" ry="1.7" fill="#0A4B4D"/>
<line x1="1326" y1="585.2" x2="1326" y2="567.5" stroke="#333" stroke-width="1.3"/>
<line x1="1323.2" y1="567.5" x2="1328.8" y2="567.5" stroke="#333" stroke-width="1.3"/>
<rect x="1321.3" y="585.2" width="9.5" height="69.8" fill="#0A6261"/>
<ellipse cx="1326" cy="566.2" rx="2.5" ry="1.7" fill="#1ED0D8"/>
<ellipse cx="1328.6" cy="568" rx="2.5" ry="1.7" fill="#1ED0D8"/>
<ellipse cx="1326" cy="620.5" rx="2.5" ry="1.7" fill="#1ED0D8"/>
<line x1="1337.5" y1="584.2" x2="1337.5" y2="562.4" stroke="#333" stroke-width="1.3"/>
<line x1="1334.8" y1="562.4" x2="1340.3" y2="562.4" stroke="#333" stroke-width="1.3"/>
<rect x="1332.8" y="584.2" width="9.5" height="70.8" fill="#12989A"/>
<ellipse cx="1337.5" cy="552.2" rx="2.5" ry="1.7" fill="#0A4B4D"/>
<ellipse cx="1337.5" cy="574.5" rx="2.5" ry="1.7" fill="#0A4B4D"/>
<ellipse cx="1337.5" cy="625.5" rx="2.5" ry="1.7" fill="#0A4B4D"/>
<line x1="1358" y1="594.1" x2="1358" y2="574.6" stroke="#333" stroke-width="1.3"/>
<line x1="1355.2" y1="574.6" x2="1360.8" y2="574.6" stroke="#333" stroke-width="1.3"/>
<rect x="1353.3" y="594.1" width="9.5" height="60.9" fill="#0A6261"/>
<ellipse cx="1358" cy="555.7" rx="2.5" ry="1.7" fill="#1ED0D8"/>
<ellipse cx="1358" cy="605.4" rx="2.5" ry="1.7" fill="#1ED0D8"/>
<ellipse cx="1358" cy="621.6" rx="2.5" ry="1.7" fill="#1ED0D8"/>
<line x1="1369.5" y1="590.2" x2="1369.5" y2="574.6" stroke="#333" stroke-width="1.3"/>
<line x1="1366.8" y1="574.6" x2="1372.3" y2="574.6" stroke="#333" stroke-width="1.3"/>
<rect x="1364.8" y="590.2" width="9.5" height="64.8" fill="#12989A"/>
<ellipse cx="1369.5" cy="564.5" rx="2.5" ry="1.7" fill="#0A4B4D"/>
<ellipse cx="1369.5" cy="588.1" rx="2.5" ry="1.7" fill="#0A4B4D"/>
<ellipse cx="1369.5" cy="617.3" rx="2.5" ry="1.7" fill="#0A4B4D"/>
<line x1="1390" y1="609" x2="1390" y2="586.1" stroke="#333" stroke-width="1.3"/>
<line x1="1387.2" y1="586.1" x2="1392.8" y2="586.1" stroke="#333" stroke-width="1.3"/>
<rect x="1385.3" y="609" width="9.5" height="46" fill="#0A6261"/>
<ellipse cx="1390" cy="567.5" rx="2.5" ry="1.7" fill="#1ED0D8"/>
<ellipse cx="1390" cy="613.1" rx="2.5" ry="1.7" fill="#1ED0D8"/>
<ellipse cx="1390" cy="646.2" rx="2.5" ry="1.7" fill="#1ED0D8"/>
<line x1="1401.5" y1="603.2" x2="1401.5" y2="588.9" stroke="#333" stroke-width="1.3"/>
<line x1="1398.8" y1="588.9" x2="1404.3" y2="588.9" stroke="#333" stroke-width="1.3"/>
<rect x="1396.8" y="603.2" width="9.5" height="51.8" fill="#12989A"/>
<ellipse cx="1401.5" cy="574.9" rx="2.5" ry="1.7" fill="#0A4B4D"/>
<ellipse cx="1401.5" cy="614.4" rx="2.5" ry="1.7" fill="#0A4B4D"/>
<ellipse cx="1401.5" cy="620" rx="2.5" ry="1.7" fill="#0A4B4D"/>
<line x1="750" y1="765.3" x2="750" y2="746.5" stroke="#4a4a4a" stroke-width="1.3"/>
<line x1="747.2" y1="746.5" x2="752.8" y2="746.5" stroke="#4a4a4a" stroke-width="1.3"/>
<rect x="745.3" y="765.3" width="9.5" height="44.9" fill="#D2230F"/>
<ellipse cx="750" cy="740.1" rx="2.3" ry="2.1" fill="#F7A3A3"/>
<ellipse cx="750" cy="755.3" rx="2.3" ry="2.1" fill="#F7A3A3"/>
<ellipse cx="750" cy="799.3" rx="2.3" ry="2.1" fill="#F7A3A3"/>
<line x1="761.5" y1="778.2" x2="761.5" y2="760" stroke="#4a4a4a" stroke-width="1.3"/>
<line x1="758.8" y1="760" x2="764.3" y2="760" stroke="#4a4a4a" stroke-width="1.3"/>
<rect x="757.3" y="778.7" width="8.5" height="31.5" fill="#FF8585" stroke="#F2341F" stroke-width="1"/>
<ellipse cx="761.5" cy="744.3" rx="2.3" ry="2.1" fill="#B5180C"/>
<ellipse cx="761.5" cy="786.3" rx="2.3" ry="2.1" fill="#B5180C"/>
<ellipse cx="761.5" cy="802" rx="2.3" ry="2.1" fill="#B5180C"/>
<line x1="782" y1="728.5" x2="782" y2="718.5" stroke="#4a4a4a" stroke-width="1.3"/>
<line x1="779.2" y1="718.5" x2="784.8" y2="718.5" stroke="#4a4a4a" stroke-width="1.3"/>
<rect x="777.3" y="728.5" width="9.5" height="81.7" fill="#D2230F"/>
<ellipse cx="782" cy="709.3" rx="2.3" ry="2.1" fill="#F7A3A3"/>
<ellipse cx="782" cy="735.8" rx="2.3" ry="2.1" fill="#F7A3A3"/>
<ellipse cx="782" cy="739.5" rx="2.3" ry="2.1" fill="#F7A3A3"/>
<line x1="793.5" y1="755.3" x2="793.5" y2="738.6" stroke="#4a4a4a" stroke-width="1.3"/>
<line x1="790.8" y1="738.6" x2="796.3" y2="738.6" stroke="#4a4a4a" stroke-width="1.3"/>
<rect x="789.3" y="755.8" width="8.5" height="54.4" fill="#FF8585" stroke="#F2341F" stroke-width="1"/>
<ellipse cx="793.5" cy="716.5" rx="2.3" ry="2.1" fill="#B5180C"/>
<ellipse cx="793.5" cy="742.9" rx="2.3" ry="2.1" fill="#B5180C"/>
<ellipse cx="793.5" cy="770.1" rx="2.3" ry="2.1" fill="#B5180C"/>
<ellipse cx="793.5" cy="791.1" rx="2.3" ry="2.1" fill="#B5180C"/>
<line x1="814" y1="769.9" x2="814" y2="742.9" stroke="#4a4a4a" stroke-width="1.3"/>
<line x1="811.2" y1="742.9" x2="816.8" y2="742.9" stroke="#4a4a4a" stroke-width="1.3"/>
<rect x="809.3" y="769.9" width="9.5" height="40.3" fill="#D2230F"/>
<ellipse cx="814" cy="742.9" rx="2.3" ry="2.1" fill="#F7A3A3"/>
<ellipse cx="814" cy="796.2" rx="2.3" ry="2.1" fill="#F7A3A3"/>
<line x1="825.5" y1="782.9" x2="825.5" y2="762.3" stroke="#4a4a4a" stroke-width="1.3"/>
<line x1="822.8" y1="762.3" x2="828.3" y2="762.3" stroke="#4a4a4a" stroke-width="1.3"/>
<rect x="821.3" y="783.4" width="8.5" height="26.8" fill="#FF8585" stroke="#F2341F" stroke-width="1"/>
<ellipse cx="825.5" cy="743.2" rx="2.3" ry="2.1" fill="#B5180C"/>
<ellipse cx="825.5" cy="795.3" rx="2.3" ry="2.1" fill="#B5180C"/>
<ellipse cx="825.5" cy="810" rx="2.3" ry="2.1" fill="#B5180C"/>
<line x1="846" y1="769.1" x2="846" y2="751.5" stroke="#4a4a4a" stroke-width="1.3"/>
<line x1="843.2" y1="751.5" x2="848.8" y2="751.5" stroke="#4a4a4a" stroke-width="1.3"/>
<rect x="841.3" y="769.1" width="9.5" height="41.1" fill="#D2230F"/>
<ellipse cx="846" cy="735.5" rx="2.3" ry="2.1" fill="#F7A3A3"/>
<ellipse cx="846" cy="784.2" rx="2.3" ry="2.1" fill="#F7A3A3"/>
<ellipse cx="848.6" cy="785.2" rx="2.3" ry="2.1" fill="#F7A3A3"/>
<line x1="857.5" y1="765.8" x2="857.5" y2="746" stroke="#4a4a4a" stroke-width="1.3"/>
<line x1="854.8" y1="746" x2="860.3" y2="746" stroke="#4a4a4a" stroke-width="1.3"/>
<rect x="853.3" y="766.3" width="8.5" height="43.9" fill="#FF8585" stroke="#F2341F" stroke-width="1"/>
<ellipse cx="857.5" cy="727.5" rx="2.3" ry="2.1" fill="#B5180C"/>
<ellipse cx="857.5" cy="781.5" rx="2.3" ry="2.1" fill="#B5180C"/>
<ellipse cx="857.5" cy="787" rx="2.3" ry="2.1" fill="#B5180C"/>
<line x1="878" y1="775" x2="878" y2="768.6" stroke="#4a4a4a" stroke-width="1.3"/>
<line x1="875.2" y1="768.6" x2="880.8" y2="768.6" stroke="#4a4a4a" stroke-width="1.3"/>
<rect x="873.3" y="775" width="9.5" height="35.2" fill="#D2230F"/>
<ellipse cx="878" cy="759.8" rx="2.3" ry="2.1" fill="#F7A3A3"/>
<ellipse cx="878" cy="769" rx="2.3" ry="2.1" fill="#F7A3A3"/>
<ellipse cx="878" cy="779.1" rx="2.3" ry="2.1" fill="#F7A3A3"/>
<ellipse cx="878" cy="791.1" rx="2.3" ry="2.1" fill="#F7A3A3"/>
<line x1="889.5" y1="781.5" x2="889.5" y2="775.4" stroke="#4a4a4a" stroke-width="1.3"/>
<line x1="886.8" y1="775.4" x2="892.3" y2="775.4" stroke="#4a4a4a" stroke-width="1.3"/>
<rect x="885.3" y="782" width="8.5" height="28.2" fill="#FF8585" stroke="#F2341F" stroke-width="1"/>
<ellipse cx="889.5" cy="769.1" rx="2.3" ry="2.1" fill="#B5180C"/>
<ellipse cx="889.5" cy="784.8" rx="2.3" ry="2.1" fill="#B5180C"/>
<ellipse cx="889.5" cy="789.8" rx="2.3" ry="2.1" fill="#B5180C"/>
<line x1="910" y1="748.3" x2="910" y2="740.6" stroke="#4a4a4a" stroke-width="1.3"/>
<line x1="907.2" y1="740.6" x2="912.8" y2="740.6" stroke="#4a4a4a" stroke-width="1.3"/>
<rect x="905.3" y="748.3" width="9.5" height="61.9" fill="#D2230F"/>
<ellipse cx="910" cy="734.5" rx="2.3" ry="2.1" fill="#F7A3A3"/>
<ellipse cx="910" cy="750.7" rx="2.3" ry="2.1" fill="#F7A3A3"/>
<ellipse cx="910" cy="758.5" rx="2.3" ry="2.1" fill="#F7A3A3"/>
<line x1="921.5" y1="773.6" x2="921.5" y2="756.3" stroke="#4a4a4a" stroke-width="1.3"/>
<line x1="918.8" y1="756.3" x2="924.3" y2="756.3" stroke="#4a4a4a" stroke-width="1.3"/>
<rect x="917.3" y="774.1" width="8.5" height="36.1" fill="#FF8585" stroke="#F2341F" stroke-width="1"/>
<ellipse cx="921.5" cy="743.7" rx="2.3" ry="2.1" fill="#B5180C"/>
<ellipse cx="921.5" cy="775.4" rx="2.3" ry="2.1" fill="#B5180C"/>
<ellipse cx="921.5" cy="799.9" rx="2.3" ry="2.1" fill="#B5180C"/>
<line x1="942" y1="738.2" x2="942" y2="724.8" stroke="#4a4a4a" stroke-width="1.3"/>
<line x1="939.2" y1="724.8" x2="944.8" y2="724.8" stroke="#4a4a4a" stroke-width="1.3"/>
<rect x="937.3" y="738.2" width="9.5" height="72" fill="#D2230F"/>
<ellipse cx="942" cy="717.6" rx="2.3" ry="2.1" fill="#F7A3A3"/>
<ellipse cx="942" cy="735.1" rx="2.3" ry="2.1" fill="#F7A3A3"/>
<ellipse cx="942" cy="760.3" rx="2.3" ry="2.1" fill="#F7A3A3"/>
<line x1="953.5" y1="758.5" x2="953.5" y2="738.6" stroke="#4a4a4a" stroke-width="1.3"/>
<line x1="950.8" y1="738.6" x2="956.3" y2="738.6" stroke="#4a4a4a" stroke-width="1.3"/>
<rect x="949.3" y="759" width="8.5" height="51.2" fill="#FF8585" stroke="#F2341F" stroke-width="1"/>
<ellipse cx="953.5" cy="721.1" rx="2.3" ry="2.1" fill="#B5180C"/>
<ellipse cx="953.5" cy="767.1" rx="2.3" ry="2.1" fill="#B5180C"/>
<ellipse cx="953.5" cy="785.6" rx="2.3" ry="2.1" fill="#B5180C"/>
<line x1="974" y1="734.2" x2="974" y2="725" stroke="#4a4a4a" stroke-width="1.3"/>
<line x1="971.2" y1="725" x2="976.8" y2="725" stroke="#4a4a4a" stroke-width="1.3"/>
<rect x="969.3" y="734.2" width="9.5" height="76" fill="#D2230F"/>
<ellipse cx="974" cy="716.4" rx="2.3" ry="2.1" fill="#F7A3A3"/>
<ellipse cx="974" cy="742" rx="2.3" ry="2.1" fill="#F7A3A3"/>
<ellipse cx="976.6" cy="743.2" rx="2.3" ry="2.1" fill="#F7A3A3"/>
<line x1="985.5" y1="733.4" x2="985.5" y2="724.2" stroke="#4a4a4a" stroke-width="1.3"/>
<line x1="982.8" y1="724.2" x2="988.3" y2="724.2" stroke="#4a4a4a" stroke-width="1.3"/>
<rect x="981.3" y="733.9" width="8.5" height="76.3" fill="#FF8585" stroke="#F2341F" stroke-width="1"/>
<ellipse cx="985.5" cy="717" rx="2.3" ry="2.1" fill="#B5180C"/>
<ellipse cx="985.5" cy="735" rx="2.3" ry="2.1" fill="#B5180C"/>
<ellipse cx="985.5" cy="747" rx="2.3" ry="2.1" fill="#B5180C"/>
<line x1="1006" y1="729.1" x2="1006" y2="712.3" stroke="#4a4a4a" stroke-width="1.3"/>
<line x1="1003.2" y1="712.3" x2="1008.8" y2="712.3" stroke="#4a4a4a" stroke-width="1.3"/>
<rect x="1001.3" y="729.1" width="9.5" height="81.1" fill="#D2230F"/>
<ellipse cx="1006" cy="711" rx="2.3" ry="2.1" fill="#F7A3A3"/>
<ellipse cx="1008.6" cy="712.7" rx="2.3" ry="2.1" fill="#F7A3A3"/>
<ellipse cx="1006" cy="761.9" rx="2.3" ry="2.1" fill="#F7A3A3"/>
<line x1="1017.5" y1="738.1" x2="1017.5" y2="715.2" stroke="#4a4a4a" stroke-width="1.3"/>
<line x1="1014.8" y1="715.2" x2="1020.3" y2="715.2" stroke="#4a4a4a" stroke-width="1.3"/>
<rect x="1013.3" y="738.6" width="8.5" height="71.6" fill="#FF8585" stroke="#F2341F" stroke-width="1"/>
<ellipse cx="1017.5" cy="703.3" rx="2.3" ry="2.1" fill="#B5180C"/>
<ellipse cx="1017.5" cy="729.6" rx="2.3" ry="2.1" fill="#B5180C"/>
<ellipse cx="1017.5" cy="779.4" rx="2.3" ry="2.1" fill="#B5180C"/>
<line x1="1038" y1="785.2" x2="1038" y2="777.2" stroke="#4a4a4a" stroke-width="1.3"/>
<line x1="1035.2" y1="777.2" x2="1040.8" y2="777.2" stroke="#4a4a4a" stroke-width="1.3"/>
<rect x="1033.3" y="785.2" width="9.5" height="25" fill="#D2230F"/>
<ellipse cx="1038" cy="761.4" rx="2.3" ry="2.1" fill="#F7A3A3"/>
<ellipse cx="1038" cy="782" rx="2.3" ry="2.1" fill="#F7A3A3"/>
<ellipse cx="1038" cy="787.7" rx="2.3" ry="2.1" fill="#F7A3A3"/>
<ellipse cx="1038" cy="809.5" rx="2.3" ry="2.1" fill="#F7A3A3"/>
<line x1="1049.5" y1="782.8" x2="1049.5" y2="775.5" stroke="#4a4a4a" stroke-width="1.3"/>
<line x1="1046.8" y1="775.5" x2="1052.3" y2="775.5" stroke="#4a4a4a" stroke-width="1.3"/>
<rect x="1045.3" y="783.3" width="8.5" height="26.9" fill="#FF8585" stroke="#F2341F" stroke-width="1"/>
<ellipse cx="1049.5" cy="764.1" rx="2.3" ry="2.1" fill="#B5180C"/>
<ellipse cx="1049.5" cy="783.1" rx="2.3" ry="2.1" fill="#B5180C"/>
<ellipse cx="1049.5" cy="800.6" rx="2.3" ry="2.1" fill="#B5180C"/>
<line x1="1070" y1="778.9" x2="1070" y2="774.1" stroke="#4a4a4a" stroke-width="1.3"/>
<line x1="1067.2" y1="774.1" x2="1072.8" y2="774.1" stroke="#4a4a4a" stroke-width="1.3"/>
<rect x="1065.3" y="778.9" width="9.5" height="31.3" fill="#D2230F"/>
<ellipse cx="1070" cy="770.9" rx="2.3" ry="2.1" fill="#F7A3A3"/>
<ellipse cx="1070" cy="780.6" rx="2.3" ry="2.1" fill="#F7A3A3"/>
<ellipse cx="1070" cy="785.2" rx="2.3" ry="2.1" fill="#F7A3A3"/>
<line x1="1081.5" y1="782.8" x2="1081.5" y2="779.7" stroke="#4a4a4a" stroke-width="1.3"/>
<line x1="1078.8" y1="779.7" x2="1084.3" y2="779.7" stroke="#4a4a4a" stroke-width="1.3"/>
<rect x="1077.3" y="783.3" width="8.5" height="26.9" fill="#FF8585" stroke="#F2341F" stroke-width="1"/>
<ellipse cx="1081.5" cy="776.3" rx="2.3" ry="2.1" fill="#B5180C"/>
<ellipse cx="1081.5" cy="780.6" rx="2.3" ry="2.1" fill="#B5180C"/>
<ellipse cx="1081.5" cy="786.5" rx="2.3" ry="2.1" fill="#B5180C"/>
<line x1="1102" y1="790.3" x2="1102" y2="784.5" stroke="#4a4a4a" stroke-width="1.3"/>
<line x1="1099.2" y1="784.5" x2="1104.8" y2="784.5" stroke="#4a4a4a" stroke-width="1.3"/>
<rect x="1097.3" y="790.3" width="9.5" height="19.9" fill="#D2230F"/>
<ellipse cx="1102" cy="780.3" rx="2.3" ry="2.1" fill="#F7A3A3"/>
<ellipse cx="1102" cy="790.8" rx="2.3" ry="2.1" fill="#F7A3A3"/>
<ellipse cx="1102" cy="799.3" rx="2.3" ry="2.1" fill="#F7A3A3"/>
<line x1="1113.5" y1="787" x2="1113.5" y2="785.7" stroke="#4a4a4a" stroke-width="1.3"/>
<line x1="1110.8" y1="785.7" x2="1116.3" y2="785.7" stroke="#4a4a4a" stroke-width="1.3"/>
<rect x="1109.3" y="787.5" width="8.5" height="22.7" fill="#FF8585" stroke="#F2341F" stroke-width="1"/>
<ellipse cx="1113.5" cy="777.7" rx="2.3" ry="2.1" fill="#B5180C"/>
<ellipse cx="1113.5" cy="783.6" rx="2.3" ry="2.1" fill="#B5180C"/>
<ellipse cx="1113.5" cy="789.1" rx="2.3" ry="2.1" fill="#B5180C"/>
<ellipse cx="1113.5" cy="795.9" rx="2.3" ry="2.1" fill="#B5180C"/>
<line x1="1134" y1="761" x2="1134" y2="740.5" stroke="#4a4a4a" stroke-width="1.3"/>
<line x1="1131.2" y1="740.5" x2="1136.8" y2="740.5" stroke="#4a4a4a" stroke-width="1.3"/>
<rect x="1129.3" y="761" width="9.5" height="49.2" fill="#D2230F"/>
<ellipse cx="1134" cy="722.8" rx="2.3" ry="2.1" fill="#F7A3A3"/>
<ellipse cx="1134" cy="768.2" rx="2.3" ry="2.1" fill="#F7A3A3"/>
<ellipse cx="1134" cy="790.8" rx="2.3" ry="2.1" fill="#F7A3A3"/>
<line x1="1145.5" y1="768" x2="1145.5" y2="748.8" stroke="#4a4a4a" stroke-width="1.3"/>
<line x1="1142.8" y1="748.8" x2="1148.3" y2="748.8" stroke="#4a4a4a" stroke-width="1.3"/>
<rect x="1141.3" y="768.5" width="8.5" height="41.7" fill="#FF8585" stroke="#F2341F" stroke-width="1"/>
<ellipse cx="1145.5" cy="716.9" rx="2.3" ry="2.1" fill="#B5180C"/>
<ellipse cx="1145.5" cy="767.3" rx="2.3" ry="2.1" fill="#B5180C"/>
<ellipse cx="1145.5" cy="783.1" rx="2.3" ry="2.1" fill="#B5180C"/>
<ellipse cx="1145.5" cy="801.3" rx="2.3" ry="2.1" fill="#B5180C"/>
<line x1="1166" y1="757.7" x2="1166" y2="729.7" stroke="#4a4a4a" stroke-width="1.3"/>
<line x1="1163.2" y1="729.7" x2="1168.8" y2="729.7" stroke="#4a4a4a" stroke-width="1.3"/>
<rect x="1161.3" y="757.7" width="9.5" height="52.5" fill="#D2230F"/>
<ellipse cx="1166" cy="702.8" rx="2.3" ry="2.1" fill="#F7A3A3"/>
<ellipse cx="1166" cy="784.5" rx="2.3" ry="2.1" fill="#F7A3A3"/>
<ellipse cx="1168.6" cy="784.7" rx="2.3" ry="2.1" fill="#F7A3A3"/>
<line x1="1177.5" y1="792.5" x2="1177.5" y2="786.6" stroke="#4a4a4a" stroke-width="1.3"/>
<line x1="1174.8" y1="786.6" x2="1180.3" y2="786.6" stroke="#4a4a4a" stroke-width="1.3"/>
<rect x="1173.3" y="793" width="8.5" height="17.2" fill="#FF8585" stroke="#F2341F" stroke-width="1"/>
<ellipse cx="1177.5" cy="783.8" rx="2.3" ry="2.1" fill="#B5180C"/>
<ellipse cx="1177.5" cy="790.8" rx="2.3" ry="2.1" fill="#B5180C"/>
<ellipse cx="1177.5" cy="802.4" rx="2.3" ry="2.1" fill="#B5180C"/>
<line x1="1198" y1="760.1" x2="1198" y2="741.5" stroke="#4a4a4a" stroke-width="1.3"/>
<line x1="1195.2" y1="741.5" x2="1200.8" y2="741.5" stroke="#4a4a4a" stroke-width="1.3"/>
<rect x="1193.3" y="760.1" width="9.5" height="50.1" fill="#D2230F"/>
<ellipse cx="1198" cy="732.8" rx="2.3" ry="2.1" fill="#F7A3A3"/>
<ellipse cx="1198" cy="753.1" rx="2.3" ry="2.1" fill="#F7A3A3"/>
<ellipse cx="1198" cy="793.5" rx="2.3" ry="2.1" fill="#F7A3A3"/>
<line x1="1209.5" y1="740.4" x2="1209.5" y2="726.1" stroke="#4a4a4a" stroke-width="1.3"/>
<line x1="1206.8" y1="726.1" x2="1212.3" y2="726.1" stroke="#4a4a4a" stroke-width="1.3"/>
<rect x="1205.3" y="740.9" width="8.5" height="69.3" fill="#FF8585" stroke="#F2341F" stroke-width="1"/>
<ellipse cx="1209.5" cy="726.1" rx="2.3" ry="2.1" fill="#B5180C"/>
<ellipse cx="1209.5" cy="753.6" rx="2.3" ry="2.1" fill="#B5180C"/>
<line x1="1230" y1="733.7" x2="1230" y2="716.8" stroke="#4a4a4a" stroke-width="1.3"/>
<line x1="1227.2" y1="716.8" x2="1232.8" y2="716.8" stroke="#4a4a4a" stroke-width="1.3"/>
<rect x="1225.3" y="733.7" width="9.5" height="76.5" fill="#D2230F"/>
<ellipse cx="1230" cy="716.8" rx="2.3" ry="2.1" fill="#F7A3A3"/>
<ellipse cx="1230" cy="749.5" rx="2.3" ry="2.1" fill="#F7A3A3"/>
<line x1="1241.5" y1="752.5" x2="1241.5" y2="728.3" stroke="#4a4a4a" stroke-width="1.3"/>
<line x1="1238.8" y1="728.3" x2="1244.3" y2="728.3" stroke="#4a4a4a" stroke-width="1.3"/>
<rect x="1237.3" y="753" width="8.5" height="57.2" fill="#FF8585" stroke="#F2341F" stroke-width="1"/>
<ellipse cx="1241.5" cy="723.8" rx="2.3" ry="2.1" fill="#B5180C"/>
<ellipse cx="1241.5" cy="733" rx="2.3" ry="2.1" fill="#B5180C"/>
<ellipse cx="1241.5" cy="800.5" rx="2.3" ry="2.1" fill="#B5180C"/>
<line x1="1262" y1="752.1" x2="1262" y2="740.4" stroke="#4a4a4a" stroke-width="1.3"/>
<line x1="1259.2" y1="740.4" x2="1264.8" y2="740.4" stroke="#4a4a4a" stroke-width="1.3"/>
<rect x="1257.3" y="752.1" width="9.5" height="58.1" fill="#D2230F"/>
<ellipse cx="1262" cy="732.8" rx="2.3" ry="2.1" fill="#F7A3A3"/>
<ellipse cx="1262" cy="750.1" rx="2.3" ry="2.1" fill="#F7A3A3"/>
<ellipse cx="1262" cy="771.7" rx="2.3" ry="2.1" fill="#F7A3A3"/>
<line x1="1273.5" y1="753.4" x2="1273.5" y2="736" stroke="#4a4a4a" stroke-width="1.3"/>
<line x1="1270.8" y1="736" x2="1276.3" y2="736" stroke="#4a4a4a" stroke-width="1.3"/>
<rect x="1269.3" y="753.9" width="8.5" height="56.3" fill="#FF8585" stroke="#F2341F" stroke-width="1"/>
<ellipse cx="1273.5" cy="720.5" rx="2.3" ry="2.1" fill="#B5180C"/>
<ellipse cx="1273.5" cy="758.3" rx="2.3" ry="2.1" fill="#B5180C"/>
<ellipse cx="1273.5" cy="780.1" rx="2.3" ry="2.1" fill="#B5180C"/>
<line x1="1294" y1="769.8" x2="1294" y2="762" stroke="#4a4a4a" stroke-width="1.3"/>
<line x1="1291.2" y1="762" x2="1296.8" y2="762" stroke="#4a4a4a" stroke-width="1.3"/>
<rect x="1289.3" y="769.8" width="9.5" height="40.4" fill="#D2230F"/>
<ellipse cx="1294" cy="760.9" rx="2.3" ry="2.1" fill="#F7A3A3"/>
<ellipse cx="1296.6" cy="760.9" rx="2.3" ry="2.1" fill="#F7A3A3"/>
<ellipse cx="1294" cy="785.1" rx="2.3" ry="2.1" fill="#F7A3A3"/>
<line x1="1305.5" y1="770.4" x2="1305.5" y2="746.5" stroke="#4a4a4a" stroke-width="1.3"/>
<line x1="1302.8" y1="746.5" x2="1308.3" y2="746.5" stroke="#4a4a4a" stroke-width="1.3"/>
<rect x="1301.3" y="770.9" width="8.5" height="39.3" fill="#FF8585" stroke="#F2341F" stroke-width="1"/>
<ellipse cx="1305.5" cy="729.8" rx="2.3" ry="2.1" fill="#B5180C"/>
<ellipse cx="1305.5" cy="770.7" rx="2.3" ry="2.1" fill="#B5180C"/>
<ellipse cx="1305.5" cy="809.8" rx="2.3" ry="2.1" fill="#B5180C"/>
<line x1="1326" y1="747.1" x2="1326" y2="722.7" stroke="#4a4a4a" stroke-width="1.3"/>
<line x1="1323.2" y1="722.7" x2="1328.8" y2="722.7" stroke="#4a4a4a" stroke-width="1.3"/>
<rect x="1321.3" y="747.1" width="9.5" height="63.1" fill="#D2230F"/>
<ellipse cx="1326" cy="699.5" rx="2.3" ry="2.1" fill="#F7A3A3"/>
<ellipse cx="1326" cy="765.5" rx="2.3" ry="2.1" fill="#F7A3A3"/>
<ellipse cx="1326" cy="775.8" rx="2.3" ry="2.1" fill="#F7A3A3"/>
<line x1="1337.5" y1="751.2" x2="1337.5" y2="737.2" stroke="#4a4a4a" stroke-width="1.3"/>
<line x1="1334.8" y1="737.2" x2="1340.3" y2="737.2" stroke="#4a4a4a" stroke-width="1.3"/>
<rect x="1333.3" y="751.7" width="8.5" height="58.5" fill="#FF8585" stroke="#F2341F" stroke-width="1"/>
<ellipse cx="1337.5" cy="723.8" rx="2.3" ry="2.1" fill="#B5180C"/>
<ellipse cx="1337.5" cy="759.6" rx="2.3" ry="2.1" fill="#B5180C"/>
<ellipse cx="1337.5" cy="768.9" rx="2.3" ry="2.1" fill="#B5180C"/>
<line x1="1358" y1="734.1" x2="1358" y2="715.3" stroke="#4a4a4a" stroke-width="1.3"/>
<line x1="1355.2" y1="715.3" x2="1360.8" y2="715.3" stroke="#4a4a4a" stroke-width="1.3"/>
<rect x="1353.3" y="734.1" width="9.5" height="76.1" fill="#D2230F"/>
<ellipse cx="1358" cy="696.9" rx="2.3" ry="2.1" fill="#F7A3A3"/>
<ellipse cx="1358" cy="747.7" rx="2.3" ry="2.1" fill="#F7A3A3"/>
<ellipse cx="1358" cy="756.6" rx="2.3" ry="2.1" fill="#F7A3A3"/>
<line x1="1369.5" y1="727.4" x2="1369.5" y2="706.5" stroke="#4a4a4a" stroke-width="1.3"/>
<line x1="1366.8" y1="706.5" x2="1372.3" y2="706.5" stroke="#4a4a4a" stroke-width="1.3"/>
<rect x="1365.3" y="727.9" width="8.5" height="82.3" fill="#FF8585" stroke="#F2341F" stroke-width="1"/>
<ellipse cx="1369.5" cy="688.8" rx="2.3" ry="2.1" fill="#B5180C"/>
<ellipse cx="1369.5" cy="734.5" rx="2.3" ry="2.1" fill="#B5180C"/>
<ellipse cx="1369.5" cy="757.7" rx="2.3" ry="2.1" fill="#B5180C"/>
<line x1="1390" y1="760.1" x2="1390" y2="747.3" stroke="#4a4a4a" stroke-width="1.3"/>
<line x1="1387.2" y1="747.3" x2="1392.8" y2="747.3" stroke="#4a4a4a" stroke-width="1.3"/>
<rect x="1385.3" y="760.1" width="9.5" height="50.1" fill="#D2230F"/>
<ellipse cx="1390" cy="739.7" rx="2.3" ry="2.1" fill="#F7A3A3"/>
<ellipse cx="1390" cy="758.3" rx="2.3" ry="2.1" fill="#F7A3A3"/>
<ellipse cx="1390" cy="782.3" rx="2.3" ry="2.1" fill="#F7A3A3"/>
<line x1="1401.5" y1="771.3" x2="1401.5" y2="742.8" stroke="#4a4a4a" stroke-width="1.3"/>
<line x1="1398.8" y1="742.8" x2="1404.3" y2="742.8" stroke="#4a4a4a" stroke-width="1.3"/>
<rect x="1397.3" y="771.8" width="8.5" height="38.4" fill="#FF8585" stroke="#F2341F" stroke-width="1"/>
<ellipse cx="1401.5" cy="742.8" rx="2.3" ry="2.1" fill="#B5180C"/>
<ellipse cx="1401.5" cy="799.2" rx="2.3" ry="2.1" fill="#B5180C"/>
<line x1="741" y1="529.2" x2="741" y2="656" stroke="#000" stroke-width="2"/>
<line x1="734" y1="530.1" x2="741" y2="530.1" stroke="#000" stroke-width="1.8"/>
<text x="726.5" y="537.1" font-size="20" text-anchor="end" fill="#000">8</text>
<line x1="734" y1="561.4" x2="741" y2="561.4" stroke="#000" stroke-width="1.8"/>
<text x="726.5" y="568.4" font-size="20" text-anchor="end" fill="#000">6</text>
<line x1="734" y1="592.6" x2="741" y2="592.6" stroke="#000" stroke-width="1.8"/>
<text x="726.5" y="599.6" font-size="20" text-anchor="end" fill="#000">4</text>
<line x1="734" y1="623.8" x2="741" y2="623.8" stroke="#000" stroke-width="1.8"/>
<text x="726.5" y="630.8" font-size="20" text-anchor="end" fill="#000">2</text>
<line x1="734" y1="655" x2="741" y2="655" stroke="#000" stroke-width="1.8"/>
<text x="726.5" y="662" font-size="20" text-anchor="end" fill="#000">0</text>
<line x1="741" y1="680.3" x2="741" y2="811.2" stroke="#000" stroke-width="2"/>
<line x1="734" y1="681.2" x2="741" y2="681.2" stroke="#000" stroke-width="1.8"/>
<text x="726.5" y="688.2" font-size="20" text-anchor="end" fill="#000">4</text>
<line x1="734" y1="713.4" x2="741" y2="713.4" stroke="#000" stroke-width="1.8"/>
<text x="726.5" y="720.4" font-size="20" text-anchor="end" fill="#000">3</text>
<line x1="734" y1="745.6" x2="741" y2="745.6" stroke="#000" stroke-width="1.8"/>
<text x="726.5" y="752.6" font-size="20" text-anchor="end" fill="#000">2</text>
<line x1="734" y1="777.8" x2="741" y2="777.8" stroke="#000" stroke-width="1.8"/>
<text x="726.5" y="784.8" font-size="20" text-anchor="end" fill="#000">1</text>
<line x1="734" y1="810.2" x2="741" y2="810.2" stroke="#000" stroke-width="1.8"/>
<text x="726.5" y="814.2" font-size="20" text-anchor="end" fill="#000">0</text>
<line x1="740" y1="655" x2="1410.6" y2="655" stroke="#000" stroke-width="2.2"/>
<line x1="740" y1="810.2" x2="1410.6" y2="810.2" stroke="#000" stroke-width="2.2"/>
<line x1="755.3" y1="655" x2="755.3" y2="660.5" stroke="#000" stroke-width="1.8"/>
<line x1="755.3" y1="810.2" x2="755.3" y2="816.3" stroke="#000" stroke-width="1.8"/>
<line x1="787.3" y1="655" x2="787.3" y2="660.5" stroke="#000" stroke-width="1.8"/>
<line x1="787.3" y1="810.2" x2="787.3" y2="816.3" stroke="#000" stroke-width="1.8"/>
<line x1="819.3" y1="655" x2="819.3" y2="660.5" stroke="#000" stroke-width="1.8"/>
<line x1="819.3" y1="810.2" x2="819.3" y2="816.3" stroke="#000" stroke-width="1.8"/>
<line x1="851.3" y1="655" x2="851.3" y2="660.5" stroke="#000" stroke-width="1.8"/>
<line x1="851.3" y1="810.2" x2="851.3" y2="816.3" stroke="#000" stroke-width="1.8"/>
<line x1="883.3" y1="655" x2="883.3" y2="660.5" stroke="#000" stroke-width="1.8"/>
<line x1="883.3" y1="810.2" x2="883.3" y2="816.3" stroke="#000" stroke-width="1.8"/>
<line x1="915.3" y1="655" x2="915.3" y2="660.5" stroke="#000" stroke-width="1.8"/>
<line x1="915.3" y1="810.2" x2="915.3" y2="816.3" stroke="#000" stroke-width="1.8"/>
<line x1="947.3" y1="655" x2="947.3" y2="660.5" stroke="#000" stroke-width="1.8"/>
<line x1="947.3" y1="810.2" x2="947.3" y2="816.3" stroke="#000" stroke-width="1.8"/>
<line x1="979.3" y1="655" x2="979.3" y2="660.5" stroke="#000" stroke-width="1.8"/>
<line x1="979.3" y1="810.2" x2="979.3" y2="816.3" stroke="#000" stroke-width="1.8"/>
<line x1="1011.3" y1="655" x2="1011.3" y2="660.5" stroke="#000" stroke-width="1.8"/>
<line x1="1011.3" y1="810.2" x2="1011.3" y2="816.3" stroke="#000" stroke-width="1.8"/>
<line x1="1043.3" y1="655" x2="1043.3" y2="660.5" stroke="#000" stroke-width="1.8"/>
<line x1="1043.3" y1="810.2" x2="1043.3" y2="816.3" stroke="#000" stroke-width="1.8"/>
<line x1="1075.3" y1="655" x2="1075.3" y2="660.5" stroke="#000" stroke-width="1.8"/>
<line x1="1075.3" y1="810.2" x2="1075.3" y2="816.3" stroke="#000" stroke-width="1.8"/>
<line x1="1107.3" y1="655" x2="1107.3" y2="660.5" stroke="#000" stroke-width="1.8"/>
<line x1="1107.3" y1="810.2" x2="1107.3" y2="816.3" stroke="#000" stroke-width="1.8"/>
<line x1="1139.3" y1="655" x2="1139.3" y2="660.5" stroke="#000" stroke-width="1.8"/>
<line x1="1139.3" y1="810.2" x2="1139.3" y2="816.3" stroke="#000" stroke-width="1.8"/>
<line x1="1171.3" y1="655" x2="1171.3" y2="660.5" stroke="#000" stroke-width="1.8"/>
<line x1="1171.3" y1="810.2" x2="1171.3" y2="816.3" stroke="#000" stroke-width="1.8"/>
<line x1="1203.3" y1="655" x2="1203.3" y2="660.5" stroke="#000" stroke-width="1.8"/>
<line x1="1203.3" y1="810.2" x2="1203.3" y2="816.3" stroke="#000" stroke-width="1.8"/>
<line x1="1235.3" y1="655" x2="1235.3" y2="660.5" stroke="#000" stroke-width="1.8"/>
<line x1="1235.3" y1="810.2" x2="1235.3" y2="816.3" stroke="#000" stroke-width="1.8"/>
<line x1="1267.3" y1="655" x2="1267.3" y2="660.5" stroke="#000" stroke-width="1.8"/>
<line x1="1267.3" y1="810.2" x2="1267.3" y2="816.3" stroke="#000" stroke-width="1.8"/>
<line x1="1299.3" y1="655" x2="1299.3" y2="660.5" stroke="#000" stroke-width="1.8"/>
<line x1="1299.3" y1="810.2" x2="1299.3" y2="816.3" stroke="#000" stroke-width="1.8"/>
<line x1="1331.3" y1="655" x2="1331.3" y2="660.5" stroke="#000" stroke-width="1.8"/>
<line x1="1331.3" y1="810.2" x2="1331.3" y2="816.3" stroke="#000" stroke-width="1.8"/>
<line x1="1363.3" y1="655" x2="1363.3" y2="660.5" stroke="#000" stroke-width="1.8"/>
<line x1="1363.3" y1="810.2" x2="1363.3" y2="816.3" stroke="#000" stroke-width="1.8"/>
<line x1="1395.3" y1="655" x2="1395.3" y2="660.5" stroke="#000" stroke-width="1.8"/>
<line x1="1395.3" y1="810.2" x2="1395.3" y2="816.3" stroke="#000" stroke-width="1.8"/>
<text x="0" y="0" font-size="20" text-anchor="end" fill="#000" font-style="italic" transform="translate(761.3,831.5) rotate(-45)">CBX5</text>
<text x="0" y="0" font-size="20" text-anchor="end" fill="#000" font-style="italic" transform="translate(793.6,831.5) rotate(-45)">RNF2</text>
<text x="0" y="0" font-size="20" text-anchor="end" fill="#000" font-style="italic" transform="translate(826,831.5) rotate(-45)">EPC1</text>
<text x="0" y="0" font-size="20" text-anchor="end" fill="#000" font-style="italic" transform="translate(858.3,831.5) rotate(-45)">EPC2</text>
<text x="0" y="0" font-size="20" text-anchor="end" fill="#000" font-style="italic" transform="translate(890.7,831.5) rotate(-45)">EZH2</text>
<text x="0" y="0" font-size="20" text-anchor="end" fill="#000" font-style="italic" transform="translate(923,831.5) rotate(-45)">MTF2</text>
<text x="0" y="0" font-size="20" text-anchor="end" fill="#000" font-style="italic" transform="translate(955.4,831.5) rotate(-45)">CHD3</text>
<text x="0" y="0" font-size="20" text-anchor="end" fill="#000" font-style="italic" transform="translate(987.8,831.5) rotate(-45)">MTA2</text>
<text x="0" y="0" font-size="20" text-anchor="end" fill="#000" font-style="italic" transform="translate(1020.1,831.5) rotate(-45)">RBBP4</text>
<text x="0" y="0" font-size="20" text-anchor="end" fill="#000" font-style="italic" transform="translate(1052.5,831.5) rotate(-45)">KDM1A</text>
<text x="0" y="0" font-size="20" text-anchor="end" fill="#000" font-style="italic" transform="translate(1084.8,831.5) rotate(-45)">KDM5B</text>
<text x="0" y="0" font-size="20" text-anchor="end" fill="#000" font-style="italic" transform="translate(1117.2,831.5) rotate(-45)">KMT5B</text>
<text x="0" y="0" font-size="20" text-anchor="end" fill="#000" font-style="italic" transform="translate(1149.5,831.5) rotate(-45)">HDAC2</text>
<text x="0" y="0" font-size="20" text-anchor="end" fill="#000" font-style="italic" transform="translate(1181.8,831.5) rotate(-45)">RCOR2</text>
<text x="0" y="0" font-size="20" text-anchor="end" fill="#000" font-style="italic" transform="translate(1214.2,831.5) rotate(-45)">SMARCE1</text>
<text x="0" y="0" font-size="20" text-anchor="end" fill="#000" font-style="italic" transform="translate(1246.5,831.5) rotate(-45)">SMARCA4</text>
<text x="0" y="0" font-size="20" text-anchor="end" fill="#000" font-style="italic" transform="translate(1278.9,831.5) rotate(-45)">SMARCAD1</text>
<text x="0" y="0" font-size="20" text-anchor="end" fill="#000" font-style="italic" transform="translate(1311.2,831.5) rotate(-45)">BRD1</text>
<text x="0" y="0" font-size="20" text-anchor="end" fill="#000" font-style="italic" transform="translate(1343.6,831.5) rotate(-45)">SOX4</text>
<text x="0" y="0" font-size="20" text-anchor="end" fill="#000" font-style="italic" transform="translate(1375.9,831.5) rotate(-45)">SOX11</text>
<text x="0" y="0" font-size="20" text-anchor="end" fill="#000" font-style="italic" transform="translate(1408.3,831.5) rotate(-45)">KLF12</text>
<text x="787.5" y="545" font-size="20" text-anchor="middle" fill="#000">**</text>
<text x="848.2" y="545" font-size="20" text-anchor="middle" fill="#000">***</text>
<text x="911.3" y="545" font-size="20" text-anchor="middle" fill="#000">**</text>
<text x="978.8" y="545" font-size="20" text-anchor="middle" fill="#000">***</text>
<text x="1024" y="545" font-size="20" text-anchor="middle" fill="#000">**</text>
<text x="1070.2" y="545" font-size="20" text-anchor="middle" fill="#000">*</text>
<text x="1121" y="545" font-size="20" text-anchor="middle" fill="#000">**</text>
<text x="1173.7" y="544.8" font-size="20" text-anchor="middle" fill="#000">NS</text>
<text x="1231.3" y="545" font-size="20" text-anchor="middle" fill="#000">****</text>
<text x="1299" y="545" font-size="20" text-anchor="middle" fill="#000">***</text>
<text x="1361.3" y="543" font-size="20" text-anchor="middle" fill="#000">**</text>
<line x1="757.9" y1="543" x2="822.5" y2="543" stroke="#000" stroke-width="2"/>
<line x1="881.2" y1="543" x2="946.3" y2="543" stroke="#000" stroke-width="2"/>
<line x1="1010.4" y1="543" x2="1042.2" y2="543" stroke="#000" stroke-width="2"/>
<line x1="1107.3" y1="543" x2="1138.9" y2="543" stroke="#000" stroke-width="2"/>
<line x1="1203" y1="543.6" x2="1267.3" y2="543.6" stroke="#000" stroke-width="2"/>
<line x1="1331.5" y1="540.1" x2="1395.8" y2="540.1" stroke="#000" stroke-width="2"/>
<text x="753.4" y="691.5" font-size="20" text-anchor="middle" fill="#000">*</text>
<text x="784.7" y="691.5" font-size="20" text-anchor="middle" fill="#000">***</text>
<text x="822.7" y="689.8" font-size="20" text-anchor="middle" fill="#000">NS</text>
<text x="850.6" y="691.5" font-size="20" text-anchor="middle" fill="#000">*</text>
<text x="881.9" y="691.5" font-size="20" text-anchor="middle" fill="#000">***</text>
<text x="929.3" y="691.5" font-size="20" text-anchor="middle" fill="#000">**</text>
<text x="974" y="691.5" font-size="20" text-anchor="middle" fill="#000">****</text>
<text x="1011.3" y="691.5" font-size="20" text-anchor="middle" fill="#000">**</text>
<text x="1041.4" y="691.5" font-size="20" text-anchor="middle" fill="#000">***</text>
<text x="1074.6" y="691.5" font-size="20" text-anchor="middle" fill="#000">****</text>
<text x="1109" y="691.5" font-size="20" text-anchor="middle" fill="#000">***</text>
<text x="1137" y="691.5" font-size="20" text-anchor="middle" fill="#000">*</text>
<text x="1175" y="689.8" font-size="20" text-anchor="middle" fill="#000">NS</text>
<text x="1203.4" y="691.5" font-size="20" text-anchor="middle" fill="#000">**</text>
<text x="1234.7" y="691.5" font-size="20" text-anchor="middle" fill="#000">*</text>
<text x="1265.8" y="691.5" font-size="20" text-anchor="middle" fill="#000">**</text>
<text x="1298.4" y="691.5" font-size="20" text-anchor="middle" fill="#000">*</text>
<text x="1345.1" y="691.5" font-size="20" text-anchor="middle" fill="#000">**</text>
<text x="1390.5" y="691.5" font-size="20" text-anchor="middle" fill="#000">*</text>
<line x1="916.4" y1="689.8" x2="947.7" y2="689.8" stroke="#000" stroke-width="2"/>
<line x1="1331" y1="690.2" x2="1362.7" y2="690.2" stroke="#000" stroke-width="2"/>
<text x="0" y="0" font-size="21" text-anchor="middle" fill="#000" transform="translate(653.6,673.6) rotate(-90)">log fold change over</text>
<text x="0" y="0" font-size="21" text-anchor="middle" fill="#000" transform="translate(678.4,671.2) rotate(-90)">non-targeting gRNA</text>
<text x="1170.4" y="460.1" font-size="19.5" text-anchor="start" fill="#000">NEFH</text>
<rect x="1171.1" y="471.2" width="13.4" height="13.1" fill="#0E5F5F"/>
<text x="1192.2" y="483.4" font-size="19.5" text-anchor="start" fill="#000">gRNA_1</text>
<rect x="1171.1" y="495.4" width="13.4" height="13.4" fill="#1A9899"/>
<text x="1192.2" y="507" font-size="19.5" text-anchor="start" fill="#000">gRNA_2</text>
<text x="1306.8" y="460.1" font-size="19.5" text-anchor="start" fill="#000">STX1A</text>
<rect x="1306.8" y="471.2" width="13.8" height="13.1" fill="#D42416"/>
<text x="1328.3" y="483.4" font-size="19.5" text-anchor="start" fill="#000">gRNA_1</text>
<rect x="1307.3" y="495.9" width="12.8" height="12.6" fill="#FF8080" stroke="#F03A2A" stroke-width="1"/>
<text x="1328.3" y="507" font-size="19.5" text-anchor="start" fill="#000">gRNA_2</text>
<text x="603.2" y="895.5" font-size="35.5" text-anchor="start" fill="#000" font-weight="bold" stroke="#000" stroke-width="0.9">e</text>
<defs><path id="ed" d="M759.2 1014.4h0M761.7 1015.9h0M760.4 1141.8h0M760.6 1141.2h0M757.3 1068.3h0M759.2 1067.2h0M759.2 1068.1h0M760.6 1068.4h0M761.4 1068.6h0M762.8 1068.5h0M765.7 1068h0M758.6 1133.3h0M761.3 1132.9h0M762.4 1131.5h0M763 1132.3h0M754.5 1094.7h0M757.5 1093.4h0M757.6 1093.6h0M758.7 1095.3h0M759.7 1094.7h0M762.6 1094.6h0M762.7 1092.8h0M763.4 1096.2h0M765.2 1095.8h0M765.6 1096h0M755.4 1050.1h0M756.2 1052.5h0M757.1 1052.5h0M759.6 1052.8h0M761 1052.2h0M760.3 1050.8h0M762.8 1052.7h0M763.4 1052.4h0M766.3 1053.8h0M767.2 1054.2h0M750.3 1084.5h0M751.6 1086.3h0M752.6 1085.9h0M755.8 1085.4h0M755.4 1083.9h0M757.4 1084.2h0M758.3 1084.6h0M759.9 1085.7h0M761 1087.1h0M762.6 1087.4h0M762.4 1084.9h0M765.1 1087.6h0M765.3 1086.9h0M767.1 1085.3h0M767.8 1084.3h0M769 1085.7h0M770.8 1084.8h0M758.2 1037.7h0M759.2 1041.1h0M761.4 1040.9h0M762.3 1037.6h0M762.3 1038.4h0M750.3 1103.8h0M752 1101.6h0M754.4 1104.2h0M755.6 1101h0M756 1100.5h0M755.9 1104.2h0M759 1101h0M759.4 1102.1h0M761 1102.6h0M762.5 1102.8h0M763.6 1104.3h0M764.5 1102.5h0M766.7 1102.8h0M766.7 1100.7h0M768 1102.2h0M770.3 1104.4h0M770 1100.8h0M755.3 1078.1h0M757.8 1075.9h0M757.2 1075.3h0M760.3 1077.7h0M761.3 1077.2h0M761.9 1078h0M762.8 1077.2h0M765.3 1076.8h0M766.8 1077.9h0M750.1 1098.5h0M752.1 1100.2h0M753.5 1100.1h0M754.6 1096.8h0M755.5 1099.5h0M756.3 1098h0M758.5 1097.3h0M760.3 1097.7h0M759.8 1098.3h0M761.4 1099h0M764 1100.1h0M765.2 1096.8h0M766.1 1096.6h0M765.8 1097.8h0M768.7 1099.8h0M770.6 1098.6h0M771.9 1097.7h0M754.3 1109h0M754 1111.9h0M757.2 1111h0M757 1110.8h0M759.3 1112.5h0M761.3 1111.7h0M761.9 1109.9h0M761.8 1110.9h0M763.5 1112.4h0M766.2 1111.6h0M765.6 1111.8h0M768 1108.9h0M753 1118.9h0M753.7 1118.2h0M756 1119h0M755.9 1118h0M757.3 1119.4h0M759.2 1118.3h0M759.8 1119.6h0M761 1118.5h0M763.5 1118.1h0M765.2 1118.1h0M766.8 1120.5h0M766.2 1118.4h0M768.2 1120h0M752.1 1089h0M754.1 1089h0M755.1 1090h0M757.4 1089.7h0M757.3 1091.6h0M757.8 1090.7h0M760.6 1090.1h0M760.6 1090.9h0M763 1090.5h0M764 1088h0M766.2 1090.8h0M766.6 1087.9h0M768.1 1090.5h0M768.5 1089.7h0M755.2 1105.7h0M755.8 1106.5h0M758.2 1106.3h0M758.9 1107.3h0M759.3 1105.4h0M760.8 1106.2h0M762.4 1108.3h0M764.5 1108.2h0M764.5 1108.7h0M767 1105.7h0M756.1 1122.3h0M756 1121.9h0M758.7 1123.7h0M758.6 1124.6h0M759.9 1123.2h0M762.3 1122.1h0M762.7 1123.2h0M765.5 1121.8h0M765.8 1122.7h0M750.9 1113.3h0M753.3 1115.1h0M752.7 1114.7h0M755.6 1115.1h0M755.3 1114.4h0M756.8 1116.7h0M760 1114.7h0M760.6 1115.5h0M760.8 1115.7h0M761.8 1116.7h0M765.1 1116.4h0M765.6 1115.1h0M767.3 1113.4h0M766.9 1114.7h0M769.3 1113.3h0M770 1115.5h0M759.5 1134.7h0M761.1 1134.8h0M754.1 1081.7h0M754.7 1081.1h0M756.1 1082.4h0M756.8 1082.4h0M759.7 1081.8h0M760.5 1083.4h0M762.2 1082.1h0M762.5 1080.7h0M764.8 1083.3h0M765.3 1083h0M766.7 1081.6h0M767.9 1082.9h0M760 1029.9h0M760.5 1030.6h0M761.2 1030.5h0M757.7 1065.8h0M759.4 1064.1h0M760.3 1064.4h0M763.7 1064.6h0M757 1129h0M758.9 1126h0M758.3 1128.5h0M760.7 1126.1h0M763 1129.5h0M763.6 1127.1h0M764.4 1128.2h0M760 1055.6h0M760.5 1056.6h0M753.7 1072.6h0M754.9 1071.7h0M756.7 1072.7h0M758 1074.7h0M760.4 1072h0M760 1074.5h0M761.5 1071.6h0M762.8 1073.7h0M763.8 1074.4h0M765.3 1071.7h0M766.5 1072.6h0M759.4 1025.4h0M759.7 1027.1h0M763.2 1027.1h0M759.2 1044h0M761.9 1042.8h0M762.6 1043.1h0M758.7 1048.2h0M759.5 1048.2h0M761.9 1046.4h0M761.2 1048.7h0M763.8 1046.7h0M760.3 1061.6h0M761.2 1022h0M761.4 1034.7h0M758.2 989.5h0M758.6 988.7h0M760 987.9h0M759.9 988.2h0M760.6 985.8h0M762 984.4h0M761.2 965.7h0M790.4 1016.6h0M788.2 1139h0M791.2 1139h0M783.6 1079.8h0M784.3 1080.1h0M784.4 1081.8h0M786.5 1081.9h0M787 1082.3h0M789.2 1079.5h0M790.9 1079.5h0M792 1081.2h0M792.4 1080.7h0M792.9 1081.9h0M793.3 1081.2h0M795.8 1082.9h0M783.1 1121.3h0M784.5 1117.8h0M784.8 1118.1h0M787.1 1119.5h0M786.6 1119.4h0M787.9 1117.4h0M788.8 1118.5h0M790.8 1120.3h0M792.5 1119.2h0M791.8 1118.7h0M794 1119.6h0M795.4 1117.2h0M795.2 1121h0M786.2 1134.3h0M788.5 1135.2h0M790.2 1136.6h0M791.4 1136.2h0M792.1 1134.1h0M781.1 1113h0M782.2 1112.9h0M783.6 1110.9h0M785.5 1112.7h0M785.2 1111.1h0M786.2 1109.4h0M788 1108.8h0M790 1112.1h0M789.2 1111.4h0M789.9 1110.8h0M791.2 1110.9h0M793.3 1109h0M794.5 1109h0M794.6 1110.5h0M795.6 1110.5h0M797.7 1111.5h0M783.3 1116.7h0M784.5 1113.8h0M785.7 1115.6h0M785.1 1115.2h0M787.2 1116.9h0M789.1 1113.4h0M790.5 1117.1h0M790 1114.8h0M792.4 1116.7h0M793 1116.2h0M794.7 1116.2h0M794.1 1116.5h0M796.3 1114.6h0M783.8 1095.5h0M784 1094.1h0M784.1 1092.7h0M785.4 1092.7h0M786.4 1094.8h0M787.3 1095.5h0M788.6 1095.5h0M790.8 1094.8h0M790.6 1092.1h0M793.2 1094.6h0M794.3 1095.8h0M795.5 1092.7h0M796.6 1092.1h0M784 1098.9h0M785.6 1098.1h0M786.7 1099.3h0M787 1098.1h0M788.9 1098.2h0M787.9 1098h0M789 1096.4h0M790 1097h0M791.4 1100.4h0M792.9 1100.1h0M794.1 1098.3h0M795.7 1097.6h0M790 1039.2h0M784.6 1079.3h0M786.5 1077.2h0M787.9 1075.8h0M788.6 1079.4h0M789 1079.1h0M791.2 1078h0M791.8 1078.9h0M793.6 1076.7h0M781.3 1104.7h0M783.5 1105.3h0M784.6 1106.5h0M783.5 1107.6h0M786.3 1105.7h0M787.2 1106.1h0M787.3 1107.7h0M787.9 1105.1h0M789.9 1107.6h0M790.7 1104.9h0M792.7 1107h0M794.2 1107.7h0M794 1107.3h0M794.8 1108.1h0M796.4 1106.7h0M797.9 1107.4h0M780.9 1101.2h0M781.5 1101.7h0M781.9 1101.2h0M783.1 1100.9h0M785.4 1103.7h0M785.7 1103.4h0M785.6 1101.4h0M787.6 1100.5h0M788.2 1101.3h0M790.3 1101.3h0M790 1103.6h0M791.5 1101h0M792.2 1100.9h0M794.2 1100.9h0M796.5 1100.6h0M796.5 1103.1h0M797.2 1100.5h0M799.6 1100.9h0M778.4 1089.7h0M780.1 1090.1h0M782.3 1089.6h0M781.4 1090.1h0M784.3 1089.4h0M784.3 1088.3h0M784.6 1090.7h0M786.2 1090.2h0M787.7 1088.6h0M788.6 1091.5h0M790 1089.5h0M789.9 1088.6h0M791.3 1091.8h0M794.2 1088.7h0M794 1089.7h0M795.1 1091.5h0M795.2 1091.1h0M796.7 1089.5h0M799.4 1091.4h0M799.8 1090h0M784.6 1069h0M784.6 1067.6h0M786.5 1067.3h0M788.5 1070.3h0M788.7 1068.2h0M790.2 1070.6h0M792 1069.4h0M792.4 1070h0M793.5 1070h0M793.1 1070h0M786.6 1065.6h0M789.5 1063.5h0M789.8 1065.7h0M792 1065.8h0M784.3 1083.8h0M785.6 1086.1h0M785.4 1086.3h0M787.9 1086.7h0M788.4 1086.8h0M789.8 1087h0M789.1 1086.2h0M791.7 1087h0M791.9 1086.2h0M794.3 1087.4h0M795.4 1087.5h0M794.6 1084.5h0M787.5 1074.6h0M788.3 1074.7h0M789.9 1073.5h0M790.6 1074h0M789.2 1058.8h0M789.1 1060.2h0M787.5 1056.7h0M789.3 1054.7h0M789.5 1054.3h0M783.2 1124.1h0M785.5 1122.4h0M786.6 1123.8h0M786 1124.3h0M786.6 1125.5h0M789.7 1123.7h0M791 1121.4h0M791.2 1123.9h0M791.2 1123.5h0M792.5 1124.6h0M795.2 1125.5h0M796.4 1125.2h0M788.3 1046.4h0M785.4 1129.9h0M787.1 1133.9h0M787.8 1131.9h0M790 1133.8h0M790.2 1131.1h0M792.2 1130.2h0M791.8 1130.4h0M787.2 1127.6h0M789.4 1128.6h0M789.9 1127.6h0M789.5 1126.7h0M790.7 1126.9h0M789.7 1028.4h0M788.5 1044.9h0M789.7 1042.1h0M788.7 1037.4h0M790.2 1035.6h0M790.5 1023.6h0M789.9 989.6h0M789.7 988.9h0M787 988.6h0M790.6 986.8h0M790.8 984.5h0M817.2 1007.3h0M817.8 1135.5h0M810.5 1052.9h0M811.2 1053.2h0M813.5 1051.9h0M815.4 1052.2h0M816 1051.7h0M815.7 1052.9h0M818.1 1050.5h0M817 1050.8h0M818.1 1051.8h0M818.7 1052h0M819.7 1050.5h0M822 1052.8h0M823.3 1053.5h0M823.5 1052.1h0M825.3 1050.6h0M809.9 1112.4h0M812 1110.7h0M812.2 1110.9h0M812.9 1109.7h0M813 1110.7h0M814.6 1112.2h0M815.5 1109.1h0M817.4 1110h0M816.9 1109.9h0M818 1112.3h0M820.2 1112.1h0M819.3 1113h0M821.4 1111.9h0M821.5 1112.8h0M823.5 1112.2h0M824.3 1111.7h0M824 1109h0M826.5 1109.8h0M807.7 1107.7h0M808.4 1106.4h0M810.6 1105.6h0M811.4 1104.7h0M811.2 1104.7h0M812.9 1105.5h0M812.5 1106.8h0M814.4 1106h0M814.3 1104.8h0M816.5 1105.6h0M818.1 1107.7h0M818.3 1105.8h0M817.8 1108.5h0M819.9 1108.6h0M820.7 1107.2h0M821.5 1106.9h0M821.7 1108.7h0M822.9 1105.5h0M824.3 1106.3h0M824.3 1105.6h0M826.6 1107.2h0M826.5 1104.6h0M827.5 1106h0M815.1 1026.4h0M816.6 1028.9h0M819 1025.2h0M818.5 1025.3h0M819 1025.1h0M809.7 1060.3h0M812.1 1062h0M810.9 1060.6h0M812.5 1062.4h0M813.1 1061h0M815.2 1060.1h0M815.6 1060.3h0M815.6 1058.6h0M818.4 1060.4h0M818.1 1058.5h0M819.8 1061.3h0M820.2 1059.1h0M822.2 1061.8h0M821.1 1061.9h0M822.5 1061.6h0M823.6 1061.1h0M824.4 1058.9h0M826.7 1059.6h0M813.3 1034.4h0M813.9 1037.1h0M815.2 1036.8h0M817 1035.4h0M817.2 1035.1h0M817.9 1035.1h0M819.3 1035.8h0M820.1 1034.4h0M820.6 1036.5h0M821.6 1035.5h0M821.8 1037h0M810.8 1067.2h0M812.8 1069.7h0M812.4 1070.2h0M813.5 1068.1h0M815 1068.7h0M815.9 1068.4h0M815.8 1068.3h0M817.4 1066.8h0M819 1067.4h0M818.3 1068.1h0M819.4 1069.8h0M821.9 1070.3h0M823.2 1070.9h0M822.1 1070.8h0M823.1 1070.1h0M825.3 1067.6h0M809.5 1080h0M811.4 1082.4h0M810.8 1081.6h0M812.8 1082h0M813 1081.3h0M814.3 1082.9h0M816.1 1081.1h0M816.6 1082.8h0M818.4 1080.3h0M819.3 1080.5h0M819.7 1080.2h0M821.2 1083.1h0M820.5 1082.7h0M822.1 1082.8h0M822.7 1082h0M824.4 1080.5h0M824.1 1083.4h0M826.9 1082.5h0M809.7 1086.5h0M811.7 1086h0M813 1085.3h0M813.9 1084.7h0M813.5 1084.2h0M815.6 1084.1h0M816.9 1087.7h0M815.7 1084.7h0M818.1 1086.7h0M819 1087.4h0M819.3 1085.8h0M819.8 1086.8h0M820.5 1084.4h0M822 1084.3h0M824.2 1086.3h0M823.8 1084.6h0M824.4 1087.5h0M826.2 1087.7h0M815.9 1029.8h0M817.3 1030.6h0M817.9 1030.1h0M818.5 1030.1h0M818.8 1029.1h0M817.7 1121.6h0M818.4 1123.1h0M818.4 1124.9h0M811.5 1100.9h0M812.6 1102.9h0M813.3 1104.1h0M815.2 1104.1h0M815.9 1102h0M815.7 1104.2h0M816.7 1102.2h0M818.3 1104.3h0M818.1 1100.9h0M820.9 1102h0M819.7 1102.4h0M821.7 1103.3h0M822.1 1103.7h0M823.7 1103.7h0M823.4 1102.2h0M813.6 1037.8h0M816.4 1038h0M816.8 1039.9h0M816.4 1041.3h0M817.9 1041.4h0M817.8 1038.3h0M819 1038.1h0M820.1 1041.4h0M822.9 1040.8h0M811 1092.9h0M811.8 1094.6h0M812.3 1092.9h0M813.3 1095.8h0M816.4 1093.1h0M816.7 1095h0M818.1 1095h0M818.8 1092.6h0M819.6 1093.1h0M819.3 1093.6h0M820 1093.9h0M821.2 1093.7h0M821.6 1094.9h0M822.8 1095.9h0M825.1 1094.8h0M817.4 1127.6h0M817.4 1126.8h0M814.2 1115.9h0M816.5 1113.2h0M817.4 1115.4h0M818.1 1113.9h0M819 1116.9h0M820.4 1113.7h0M820.5 1115.9h0M821 1116.1h0M809.3 1055.6h0M809.5 1057.8h0M809.9 1056.4h0M811.3 1055.3h0M812.7 1058.1h0M812.9 1057.1h0M813.7 1058.1h0M815.1 1057.3h0M816.3 1056.9h0M818.6 1058.2h0M818.4 1056.2h0M820.2 1055.6h0M820.9 1056.4h0M821.5 1055.6h0M821.8 1056.7h0M822.9 1058.1h0M823.6 1055.5h0M825.3 1057.3h0M826.8 1057.7h0M827.6 1055.8h0M811.4 1044.9h0M812 1044.2h0M812.6 1043.4h0M814.9 1044.1h0M815 1045h0M815.4 1045.5h0M817.1 1044.9h0M817.8 1043.7h0M818.7 1043.4h0M820.7 1042.3h0M821.5 1042h0M821.7 1041.9h0M823.7 1043.7h0M823.4 1044.2h0M810.1 1088.4h0M809.1 1088.1h0M811.2 1089.6h0M812.4 1090.6h0M813.4 1089.5h0M813.8 1091.9h0M815.6 1089.4h0M816 1091.8h0M817.1 1090.5h0M816.5 1091.5h0M817.7 1089.1h0M819.3 1089.9h0M820.5 1089.4h0M820.3 1088h0M822.8 1089.1h0M822.8 1090.1h0M824 1091.1h0M825.1 1091h0M826.8 1091.7h0M826.4 1090.7h0M814.8 1120h0M815.9 1121.2h0M817 1118.2h0M817.1 1118h0M817.9 1117.6h0M819.3 1117.6h0M820.6 1121.3h0M821.6 1117.2h0M815.2 1046.9h0M816.9 1048.8h0M818.1 1046.4h0M818.2 1048.8h0M819 1048.7h0M812 1074.3h0M810.8 1075.2h0M812.9 1075.1h0M813.3 1074.1h0M813.6 1073.7h0M815.1 1071.6h0M815.8 1074.2h0M817.3 1071.9h0M819.5 1074.7h0M818.4 1072.4h0M820 1073.9h0M821.7 1073.3h0M822.5 1073.8h0M822 1074.2h0M823.4 1075.1h0M824.5 1071.4h0M811.9 1065h0M811.8 1066.7h0M812.3 1064.8h0M813.7 1064.3h0M814.7 1065.4h0M814.8 1063.7h0M817 1064.7h0M818.1 1064.5h0M818.4 1064.7h0M819.5 1066.5h0M821 1063.1h0M822.4 1065h0M822.5 1064.5h0M822 1065.5h0M824.1 1066.1h0M825.4 1065.6h0M808.7 1077.4h0M810.5 1078.8h0M810.7 1075.3h0M812.2 1076.5h0M813.1 1077.8h0M814.2 1079.3h0M815.7 1079.4h0M816.2 1077.5h0M817.1 1076.3h0M818 1078.6h0M817.8 1076.1h0M819.7 1077.5h0M820.6 1077.6h0M820.2 1075.9h0M822.8 1076.7h0M822.5 1077.6h0M824.1 1079h0M825.1 1077h0M826.5 1077.5h0M827.5 1076.9h0M809 1099.3h0M811.1 1098.6h0M810.8 1099.1h0M812.1 1098.5h0M814 1099h0M813.4 1098.5h0M815.2 1097.8h0M816.8 1098.8h0M815.6 1098.2h0M818.2 1097h0M818.8 1098.4h0M819.5 1100.1h0M821 1099.8h0M822.1 1098h0M821.4 1099.4h0M823.1 1097h0M824.4 1097.1h0M825.5 1099.5h0M827.1 1097.5h0M827.6 1099.9h0M818.8 1009.1h0M815.9 1018.5h0M817.8 1018.3h0M820 1019.8h0M818.5 1015.1h0M819.2 1013.7h0M817.6 1130.9h0M817.2 1022.2h0M817.6 1024.2h0M818.9 1022.7h0M819.8 1023.7h0M821.6 990.6h0M817.9 990.6h0M820.6 989.5h0M810.7 989.2h0M815.1 989.4h0M810.9 988.2h0M824.5 987.1h0M815.1 986.7h0M814.4 986.9h0M818.9 986.1h0M817.7 985.8h0M815 984.2h0M812.1 983.5h0M814 982.4h0M820.9 981.9h0M816.5 982.1h0M816.1 980.2h0M817.8 980h0M818.2 978.3h0M815.4 977.7h0M815.4 977.6h0M819.5 976.2h0M819.9 975.4h0M817.6 969h0M818.9 956h0M845.9 1007h0M845.7 1129h0M846.4 1126.5h0M848.2 1127.3h0M838.1 1071.9h0M839.2 1073.2h0M841.3 1074.5h0M842.8 1074h0M844.9 1072h0M845.5 1072.5h0M846.6 1071.4h0M848.3 1073.1h0M849.6 1074.3h0M850.4 1075h0M851.4 1074.3h0M853.8 1072.9h0M854.4 1073.4h0M838.1 1067.9h0M839.8 1067.7h0M841.6 1067.8h0M843.7 1068h0M845 1068.4h0M845.9 1068h0M848 1070.5h0M848.2 1069.7h0M849.6 1070.2h0M851.9 1067.7h0M853.1 1069.7h0M853.8 1066.8h0M844.2 1075.8h0M843.4 1075.4h0M846 1079.2h0M848.1 1079h0M849.5 1078.4h0M849.2 1077.7h0M837.5 1081.5h0M838.1 1083h0M840.4 1079.5h0M840.3 1082.6h0M842.4 1082.5h0M843.7 1083h0M845.8 1080h0M845.6 1082.6h0M847 1082.8h0M847.7 1081.5h0M850.3 1080.2h0M850.2 1079.5h0M853.3 1082.1h0M853 1081.5h0M854.4 1081.3h0M857.5 1083.4h0M843.2 1113.5h0M845.2 1115.4h0M845.6 1113.2h0M846.7 1114.3h0M848.3 1113.6h0M851.1 1115.4h0M843.8 1019.4h0M846.9 1017.9h0M848.2 1017.9h0M849.1 1019.2h0M842.7 1104.6h0M845.1 1102.5h0M846.9 1103.7h0M847.5 1102.8h0M848 1104.4h0M850.2 1103h0M838.3 1095.2h0M838.7 1093.4h0M839 1096.2h0M840.5 1092.1h0M842.9 1093.2h0M842.8 1095.7h0M844.1 1095.7h0M846.3 1092h0M847.4 1093h0M849.3 1093.4h0M849.6 1095.9h0M852.1 1092.8h0M853.8 1092.1h0M854.3 1092.2h0M856.2 1094h0M844.6 1027h0M846.6 1025.3h0M847.5 1028h0M849 1028.9h0M842.7 1047.1h0M844.7 1048.6h0M844.3 1047.9h0M845.7 1046.2h0M848.8 1049.2h0M850.1 1046.6h0M849.5 1046.7h0M838.8 1097.8h0M839.5 1096.4h0M841.4 1097.2h0M842.4 1099h0M842.9 1100.4h0M843.7 1099.1h0M846.6 1098.4h0M847.8 1098.8h0M848.5 1096.5h0M849.4 1097.3h0M851 1098.9h0M853.7 1100.2h0M853.9 1098.3h0M854.7 1099h0M843.7 1064.2h0M845.1 1064.3h0M844.5 1063.6h0M845.9 1065.6h0M848.5 1064.9h0M849 1065.7h0M850.6 1064.8h0M842.3 1083.8h0M842.7 1085h0M844.8 1087.2h0M845.2 1086.6h0M846.6 1084.7h0M848.7 1086.7h0M849.8 1087.3h0M852.2 1085h0M838.4 1060.6h0M841.6 1059.1h0M841.3 1061.6h0M842.9 1060.3h0M843.6 1060.4h0M845.5 1061.9h0M848.4 1060.2h0M848.3 1059.8h0M850.8 1060.3h0M852.4 1062.3h0M853.1 1061.4h0M853.2 1061h0M842.4 1107.8h0M843.1 1105.2h0M844.7 1108.2h0M846.2 1108.4h0M847.1 1108.4h0M849.7 1106.4h0M850.7 1108.3h0M846.1 1036.5h0M843.3 1038.4h0M844.4 1037.8h0M845.7 1040.2h0M847.8 1039.7h0M848.3 1038.2h0M843.9 1042.3h0M844.7 1045.1h0M847.3 1045.2h0M847.4 1044.1h0M850.2 1044.6h0M842.3 1111.7h0M843.6 1108.8h0M843.3 1109.1h0M846.3 1111.6h0M846.5 1111.4h0M848.9 1109.1h0M849.2 1109.9h0M850.7 1111.3h0M851.4 1111.9h0M845.8 1030.3h0M846.3 1032.7h0M848.9 1031.3h0M839 1088.5h0M839.7 1090.2h0M840.1 1091.7h0M842 1090.8h0M843.7 1087.9h0M844.9 1089.2h0M846.8 1091.9h0M846.8 1089.6h0M849.2 1089.1h0M851.6 1090.5h0M853.1 1090.8h0M853.8 1090h0M855.1 1088.1h0M842.8 1054.5h0M845.1 1056h0M846 1057.7h0M846.5 1058.1h0M847.9 1057.6h0M850.3 1055.1h0M850.8 1055.2h0M846.1 1120.7h0M846.9 1120.5h0M845.6 1121.8h0M846.6 1121.7h0M849.1 1124.5h0M844.4 1009.2h0M845.8 1010.8h0M847 1009.8h0M846.2 1012.2h0M847.6 1008.9h0M849.6 1011.7h0M844.7 1051.8h0M845.4 1052.6h0M846 1052.5h0M847 1053h0M848.7 1052.9h0M845 1022.5h0M846.5 1020.9h0M842.3 990.4h0M848.3 989.2h0M851.1 988.8h0M851.6 989.2h0M849.5 988.7h0M845.7 987.4h0M845.3 986.9h0M845.9 987.1h0M848 986.2h0M843.7 984.3h0M849.3 984.2h0M844.4 982.9h0M846.3 982.2h0M849.7 981.4h0M845.2 980.8h0M846.6 979.4h0M846.1 978.1h0M874.9 1007h0M875.1 1131.9h0M865.7 1097.2h0M866.1 1096.9h0M866.9 1098.8h0M868.2 1099.8h0M868.5 1099.3h0M870.4 1097.9h0M870.7 1097.6h0M872.4 1098.5h0M872.4 1100h0M874.1 1096.5h0M874 1097.8h0M875.6 1100.3h0M876.6 1097.5h0M876.4 1097.8h0M877.6 1098.8h0M879.4 1096.7h0M881.1 1099.1h0M882.2 1097.8h0M883.2 1096.8h0M884 1098.5h0M885.4 1097.8h0M884.5 1099.2h0M866.5 1090.6h0M867.5 1090.5h0M870 1090.5h0M869.6 1089.4h0M870.8 1089.1h0M871.4 1091.4h0M874.2 1088.5h0M873.5 1091.6h0M874.6 1090.4h0M876.4 1091.6h0M877.6 1088.7h0M877 1089.3h0M879.3 1088.1h0M880.2 1087.9h0M881.2 1089.2h0M882.1 1089.6h0M883.7 1089.3h0M870.6 1106.4h0M871.7 1107h0M871.4 1107.6h0M871.7 1106.9h0M873.7 1107.2h0M873.6 1106.1h0M876 1108.6h0M876.6 1106.5h0M878.2 1107.7h0M879.4 1106.8h0M880.2 1106.2h0M881 1107.5h0M868 1087.7h0M869.9 1087.3h0M870.7 1087.3h0M870.6 1087.6h0M873.2 1086.3h0M873.2 1083.8h0M874.3 1087.5h0M874.5 1085.6h0M877 1085.7h0M877.1 1084.3h0M878.7 1087.2h0M879.9 1087.5h0M880.1 1086.5h0M881.3 1083.7h0M881.9 1087.1h0M871.1 1049.1h0M873.5 1046h0M874.7 1048.9h0M873.6 1046.9h0M874.6 1049.1h0M876.6 1046.2h0M876.6 1049.3h0M878.5 1047.1h0M872.8 1019.7h0M873.6 1019.5h0M875.9 1020.5h0M876.4 1019.6h0M878.2 1017.2h0M866.2 1093.3h0M867.6 1094.2h0M869.1 1094.5h0M870.5 1094.9h0M870.6 1092.6h0M871 1095.7h0M872.5 1094.3h0M873.9 1095.2h0M875.8 1093.1h0M876.1 1095.1h0M877.5 1094.1h0M878.4 1096.1h0M878.5 1093h0M879.6 1095.7h0M881.4 1094.3h0M882.1 1092.6h0M882.3 1093.7h0M882.8 1093h0M866.9 1071.6h0M866.9 1074.8h0M867.8 1071.6h0M868.7 1075h0M870.8 1073.1h0M871.6 1071.8h0M873.3 1071.5h0M873.5 1074.6h0M874.2 1073.9h0M876.1 1074.9h0M875.3 1071.9h0M877.4 1073h0M879.3 1072.6h0M878.7 1074h0M879.3 1073.6h0M880.1 1071.7h0M880.9 1074.1h0M883.6 1072.6h0M883.8 1073.2h0M873 1118.2h0M874 1117.5h0M873.1 1120h0M874.7 1119.9h0M875.6 1117.3h0M876.6 1119.7h0M877 1118.6h0M872.1 1043.7h0M873.3 1043h0M874.6 1041.8h0M875.8 1045.8h0M877.9 1042.8h0M876.7 1042.9h0M869.4 1068.3h0M872.3 1070.9h0M871.8 1069.8h0M873.3 1070.5h0M873.8 1069.1h0M876.1 1067.2h0M877.2 1068.3h0M877.3 1069.7h0M877.2 1070.3h0M878.8 1068.5h0M880.6 1070.6h0M868.5 1081.6h0M868.8 1081.2h0M870.1 1083.3h0M870.2 1081.6h0M872 1079.5h0M874 1082.2h0M874 1079.9h0M875.1 1081.5h0M875.4 1083.3h0M877.7 1081.2h0M877.9 1082.4h0M878.8 1080.9h0M880.7 1083.2h0M880.6 1081h0M881 1082.1h0M869.7 1102.2h0M870.9 1104.3h0M870.2 1102.2h0M871.9 1103.3h0M874.2 1101.4h0M874.2 1103.7h0M875 1104.1h0M875.3 1100.9h0M876.6 1103.6h0M878.3 1102.9h0M880.1 1101.1h0M880.5 1104.6h0M882.2 1104.5h0M871.1 1065h0M871.2 1065h0M872.9 1064.7h0M873.9 1063.6h0M874.1 1063.6h0M875.2 1063.8h0M878.1 1066.4h0M879.1 1066.4h0M878.2 1064.8h0M869.3 1111.6h0M872.4 1112.4h0M871.5 1110.4h0M872.8 1112.2h0M873.6 1109.2h0M874.5 1111.5h0M875.1 1112.9h0M877.1 1110.2h0M878.8 1112.6h0M878.1 1110.1h0M880.1 1109h0M871.4 1032.3h0M873.9 1030.1h0M875.2 1032.6h0M876.1 1031.6h0M876.3 1029.9h0M876.3 1030.1h0M878.7 1030.4h0M868.3 1039.5h0M871 1039h0M870.8 1037.7h0M873.2 1038h0M872.7 1040.1h0M874.8 1037.8h0M875.2 1039.7h0M875.6 1039.1h0M877.1 1037.8h0M878 1039.6h0M878.3 1038.7h0M880.2 1040.8h0M881.1 1040.1h0M867.4 1051.8h0M867.5 1052.7h0M869.1 1053.2h0M869.1 1050.6h0M870.9 1051.6h0M871.2 1050.7h0M873.4 1052.3h0M873 1051.8h0M874.2 1054.1h0M874.7 1053.2h0M876.2 1051.3h0M877.7 1051.2h0M878 1050.4h0M878.7 1051.7h0M881.5 1051h0M881.1 1053.4h0M881.9 1054.1h0M883.3 1050.7h0M869.2 1061.5h0M869.9 1062.5h0M871.3 1059.5h0M871.4 1062.3h0M871.9 1059.6h0M873.3 1059.2h0M873.2 1060.2h0M875.6 1061.8h0M877 1060.5h0M878.2 1058.7h0M878.9 1058.5h0M879.5 1060.3h0M880.8 1059.4h0M880.6 1060.7h0M882.2 1058.9h0M872.4 1025.1h0M875.2 1026.4h0M875.2 1027.3h0M875.4 1025.5h0M878.4 1025.5h0M873 1009.8h0M873 1010.7h0M875.5 1010.6h0M876 1011.6h0M877 1009.7h0M878.6 1009.2h0M868.4 1055.5h0M869.3 1058.1h0M871 1056.5h0M871.1 1056.1h0M873.2 1054.8h0M873.7 1057h0M874 1055.1h0M874.8 1055.5h0M875.9 1056.7h0M877.8 1058.4h0M879.6 1057.3h0M880.3 1055.8h0M881.4 1058.2h0M881.7 1057.3h0M870.6 1076.7h0M870.4 1077.3h0M871.5 1078.2h0M873.7 1077.8h0M873.2 1077.1h0M875 1077.1h0M875.9 1076.7h0M875.6 1077.9h0M877.8 1075.5h0M879.3 1076.3h0M880.5 1079.1h0M880.4 1075.3h0M872.7 1114h0M871.6 1114.5h0M874.7 1113.5h0M875.1 1113.6h0M876.4 1114.1h0M876.5 1116h0M877.9 1114.4h0M879.4 1117h0M870.6 1023.4h0M871.5 1024.3h0M873.8 1022.2h0M875.1 1022.3h0M874.5 1022.2h0M876.3 1023.9h0M877.2 1021.7h0M877.7 1022.4h0M879.9 1021.6h0M873.6 1015h0M875.9 1014.4h0M876.1 1013.2h0M872.3 1035.1h0M875.3 1034.9h0M874.4 1035h0M875.3 1037.1h0M876.1 1036.3h0M873.3 1121.9h0M873.6 1122.9h0M874.9 1122.2h0M877.8 1122.6h0M874.6 1128.6h0M871.2 990.3h0M868.4 989h0M881.3 988.8h0M871.9 988.8h0M877 987.6h0M871.3 987.5h0M877.7 987h0M875.9 986.2h0M875.8 985.2h0M879.4 984.2h0M875.9 984.8h0M874.3 983.2h0M875.8 982.8h0M874.8 981.8h0M876.7 980.4h0M874.3 979.1h0M873.7 978.2h0M875.9 956h0M874.8 962h0M875.7 1144h0M902.1 1008.7h0M904.3 1010.6h0M905.2 1011.3h0M906.6 1008.9h0M902.9 1129h0M903.8 1128.9h0M905.3 1127.4h0M905.2 1128.6h0M896.1 1055.5h0M896.6 1055.9h0M899.2 1054.4h0M898.7 1054.9h0M901.6 1056.8h0M900.9 1056.9h0M902.3 1057.3h0M904.4 1057.6h0M905.1 1055.3h0M905.4 1056.2h0M906.3 1054.3h0M909.2 1057.6h0M908.8 1055h0M910.6 1057.4h0M912.5 1056.6h0M900.4 1017.2h0M901.5 1019h0M901.9 1020.3h0M904.8 1018.3h0M905.2 1017.4h0M906.5 1017.8h0M907 1019.3h0M898.7 1030.1h0M899 1031.3h0M899.6 1031.6h0M901.2 1030.5h0M903.3 1031.5h0M904.7 1029.9h0M905 1032.8h0M906.4 1031h0M908.2 1030.7h0M908.7 1032.2h0M910.6 1030h0M897.6 1093.7h0M900.2 1095.7h0M901 1093.3h0M901.7 1092.7h0M902.9 1092.6h0M903 1094.6h0M903.8 1094.4h0M904.9 1096h0M908.1 1093.7h0M908.1 1095.2h0M909.7 1093.5h0M896.3 1045.4h0M898.5 1042.7h0M899.3 1042.8h0M899.5 1043.4h0M901.3 1044.2h0M901.4 1045.3h0M904.3 1044.2h0M903.5 1043.8h0M906.5 1044h0M906.7 1043.3h0M906.9 1044.8h0M910.1 1042.2h0M909.3 1043.8h0M911.6 1044.3h0M897 1060.5h0M897.8 1061.2h0M900.5 1062.4h0M901.9 1060.9h0M903 1058.9h0M903.7 1060.6h0M904.7 1061.3h0M904.7 1059.3h0M907.8 1060.3h0M907.3 1062.2h0M909.2 1060.1h0M908.9 1058.5h0M899.9 1114.7h0M901.6 1116.8h0M902.6 1114.2h0M903.6 1113.3h0M904.7 1116.6h0M904.9 1116.8h0M907.6 1116.8h0M901.1 1037h0M901.7 1037h0M903.5 1035.4h0M905.4 1035.2h0M906.7 1033.7h0M896.2 1083.3h0M896.7 1083.4h0M899 1079.8h0M900.1 1082.9h0M900.9 1079.7h0M903.2 1081.5h0M902.9 1081.1h0M904.4 1082.4h0M904.4 1080.7h0M905.7 1080.2h0M907 1082.6h0M908.1 1081.8h0M909.2 1082.3h0M910.2 1080.8h0M899.7 1049.2h0M900.1 1046h0M900.9 1049.9h0M902.3 1046.6h0M902.7 1050h0M905.2 1047.6h0M906.1 1048.4h0M906.5 1047.6h0M906.6 1049.9h0M907.7 1047.2h0M896.5 1099.4h0M899.3 1099.2h0M898.7 1098.7h0M900.9 1100.1h0M902.1 1099.1h0M902.9 1097.4h0M903.9 1098.8h0M906.6 1098.9h0M907.7 1098.7h0M908.4 1098.8h0M909 1098.9h0M911.1 1096.5h0M896.9 1087.3h0M896.9 1087.6h0M897.8 1085.7h0M899 1087.4h0M900 1084.9h0M901.8 1085.7h0M903.5 1084.1h0M903.7 1085.4h0M904.5 1085.9h0M906.2 1086.6h0M907.7 1087.7h0M909.8 1083.8h0M911 1085.3h0M911.9 1084.6h0M899.3 1112.7h0M901.7 1110.3h0M901.6 1109.7h0M903.4 1109.5h0M904.4 1111.6h0M904.9 1111.8h0M906.7 1109h0M907.2 1109.1h0M896.6 1078.9h0M896.4 1078.6h0M898.8 1077.8h0M898.5 1075.3h0M899.2 1075.4h0M901.4 1076.5h0M903.6 1078.8h0M904.1 1076.8h0M904.3 1078.3h0M906.1 1076h0M906.8 1077.6h0M908.7 1075.4h0M909 1077.2h0M909.8 1079.3h0M912.9 1075.8h0M900.4 1124.3h0M901.8 1123.4h0M903.4 1122.2h0M904.6 1125.3h0M906.2 1125.5h0M895.3 1104.2h0M895.6 1101.7h0M898.4 1103.4h0M899.2 1100.9h0M899.1 1103.4h0M900.2 1103.3h0M901.2 1104.4h0M903.3 1101.6h0M904.7 1103.7h0M906 1102h0M906 1104.6h0M908.6 1102.8h0M909.9 1101h0M910 1103.2h0M910.3 1101.3h0M911.5 1103.3h0M894.4 1071.5h0M893.9 1071.9h0M896.4 1071.6h0M897.7 1074.2h0M897.1 1071.4h0M898.5 1071.1h0M899.9 1073.7h0M901.4 1074.3h0M903.5 1073.5h0M904.5 1072.4h0M904.6 1074.5h0M904.8 1074.9h0M907.2 1072.4h0M907.5 1073.4h0M908.8 1071.2h0M911.5 1072.3h0M911 1074h0M912.4 1073.2h0M914.2 1072.7h0M901.4 1025.3h0M900.5 1027.3h0M902.9 1027.4h0M904.2 1025.3h0M904 1025.3h0M905.1 1026.6h0M906.8 1025h0M897.8 1038.8h0M899.8 1039.8h0M901.5 1037.9h0M901.9 1039.9h0M902.5 1037.9h0M905 1037.4h0M906 1040.2h0M905.9 1041.2h0M907.1 1039.8h0M908.4 1040.3h0M908.5 1038.4h0M899.6 1065h0M900.9 1065.5h0M901.5 1063.6h0M902.9 1064h0M904.8 1063.5h0M905.2 1066.8h0M906.5 1064.5h0M908.1 1062.8h0M908.9 1066.8h0M897.5 1068.5h0M899.8 1069h0M900.9 1066.9h0M900 1068.9h0M903.3 1070.5h0M902.4 1069.2h0M905.3 1070.3h0M905.8 1070.7h0M907.3 1068.4h0M907.4 1067.1h0M908.4 1070.7h0M909.2 1069h0M896.7 1051.8h0M897.8 1052.3h0M899.1 1051.4h0M901.7 1050.6h0M902.2 1051.6h0M904.1 1050.9h0M905.5 1053.6h0M905.4 1052.9h0M905.8 1052.7h0M908.7 1053.6h0M908 1051.4h0M910 1050.2h0M895.6 1088.4h0M895 1090.3h0M896.4 1088h0M898.5 1089.3h0M898.3 1090.8h0M901.3 1090.4h0M902.1 1089.5h0M902.8 1090.6h0M904.5 1088.1h0M904.1 1089.1h0M906.9 1091h0M907.3 1091.4h0M908.1 1090.8h0M910.2 1088.8h0M910.5 1088.9h0M910.6 1089.5h0M913.4 1089.1h0M896.5 1105.2h0M898.9 1105.5h0M899.2 1108.4h0M900.8 1106.8h0M901.9 1105.1h0M903.7 1108.3h0M904.7 1105.1h0M905.1 1107h0M906 1107.8h0M908.4 1106.5h0M907.8 1106.5h0M910.2 1105.4h0M902.6 1014.2h0M903.5 1012.5h0M903.2 1015.4h0M904.6 1014.1h0M900.7 1023.9h0M902.2 1020.8h0M903 1023.7h0M905 1021.8h0M905.4 1022.1h0M905.9 1024.2h0M908.3 1023.9h0M902 1119.1h0M902.9 1117.7h0M904.7 1118.2h0M904.7 989.2h0M899.5 989.8h0M903.4 989.6h0M907.6 989.2h0M906.1 988.8h0M904.7 987.1h0M900.2 987.4h0M904 986.2h0M899.4 985.3h0M902.9 984.6h0M908.3 984.6h0M907.2 983.8h0M903.9 983.2h0M900.4 981.7h0M906 980.9h0M904.4 979.4h0M906 978h0M932.8 1007h0M932.6 1136h0M928.8 1060.3h0M930.1 1060.1h0M930.7 1058.6h0M932.4 1058.9h0M932.3 1062.1h0M934.8 1062.4h0M935.2 1062h0M923.4 1065.4h0M925.6 1065.7h0M926.6 1066.7h0M925.7 1066.4h0M928.2 1065.9h0M928.5 1065.3h0M930.3 1066.4h0M931.2 1064.2h0M931.4 1066.7h0M932.7 1064.9h0M932.1 1065.8h0M934.3 1063.6h0M935 1064.2h0M936 1063h0M936.2 1063.3h0M936.5 1066.2h0M937.7 1065.1h0M938.1 1066.2h0M940.1 1065.5h0M941 1065.1h0M929.2 1036.8h0M930.5 1033.2h0M930.2 1034.2h0M931.8 1036.4h0M933.1 1035.3h0M933.6 1033.9h0M933.4 1035.1h0M934.5 1036.5h0M935.4 1037.3h0M921.9 1088.1h0M923.6 1091.2h0M923.7 1089.7h0M924.1 1089.8h0M926.8 1091.7h0M926.7 1088.9h0M928.3 1089.6h0M928 1090.6h0M928.1 1090.8h0M928.8 1089.5h0M931.7 1088.8h0M930.4 1089.1h0M931.4 1091.5h0M933.5 1089.7h0M933.9 1090.5h0M933.8 1091.2h0M935.4 1088.6h0M936.8 1090h0M936.6 1090.4h0M938 1090.5h0M938.5 1088.6h0M940 1091.5h0M941.7 1090.3h0M941.9 1091.7h0M943.1 1089.6h0M923.1 1102h0M922 1101.5h0M923 1101.7h0M925.6 1100.6h0M925.7 1101.1h0M926.3 1102.1h0M928.2 1103.4h0M927.6 1103.9h0M929 1104h0M930.6 1103.8h0M931.2 1104.5h0M930.5 1102.5h0M931.8 1101.5h0M934.1 1104.1h0M934.4 1101.4h0M934.7 1103.8h0M936.7 1104.3h0M936.7 1103.4h0M938.4 1103.4h0M937.7 1102.6h0M939.4 1102.5h0M939.7 1103.2h0M939.6 1100.7h0M942 1101.7h0M942.5 1102.6h0M922.9 1082.4h0M923.8 1080.7h0M924.9 1079.8h0M926.3 1081.8h0M927.9 1079.7h0M928.2 1080h0M929.6 1082.6h0M928.9 1080.3h0M929.1 1082.8h0M930.3 1083.3h0M932.8 1081.3h0M931.9 1083.2h0M934.3 1082h0M935.7 1082.1h0M936.1 1079.8h0M936.3 1081.8h0M936.4 1083.4h0M938.8 1083.1h0M938.1 1079.9h0M938.5 1083.4h0M940.5 1080.9h0M942.5 1080.7h0M929.3 1113.2h0M929 1115.5h0M928.7 1115.8h0M930.6 1116.8h0M931.4 1117.1h0M932.8 1116.4h0M933 1115.5h0M933.9 1114.8h0M935.8 1115.3h0M936.6 1116.9h0M936.1 1114.3h0M927.4 1074.7h0M927 1071.7h0M929 1073.1h0M928.7 1074h0M931 1074.5h0M931.3 1072.2h0M933.4 1072h0M933.3 1072.3h0M933.3 1071.7h0M935.6 1073.4h0M935.6 1072.3h0M936.8 1074.3h0M938.1 1073.6h0M925.3 1083.6h0M926.5 1084.9h0M926.2 1084.8h0M927.6 1087.8h0M927.9 1084.6h0M929.8 1084.4h0M930.6 1086.2h0M930.8 1086.3h0M932.1 1085.9h0M932.1 1086.2h0M935.2 1087h0M935.9 1083.8h0M935.4 1086.1h0M937.9 1084.4h0M938.1 1085.5h0M938.4 1085.3h0M938.8 1086.2h0M932.9 1132.8h0M930.6 1014.5h0M931.3 1015.1h0M931.4 1014.7h0M933.3 1016.2h0M932.6 1014.5h0M934.8 1013.1h0M936.2 1014.5h0M927 1070.9h0M928.2 1069.5h0M930.2 1070.9h0M931.1 1070.7h0M930.7 1069.4h0M931.3 1068.3h0M934.3 1067.3h0M935.3 1069.4h0M936 1070.5h0M934.8 1068.4h0M937.3 1069.6h0M928 1030.5h0M928.6 1029.3h0M929.3 1032.6h0M931.2 1032.1h0M931.3 1030.1h0M931.6 1029.5h0M932.1 1031.8h0M933 1032.2h0M934.8 1032.8h0M936.4 1031.1h0M936.9 1030.3h0M930.9 1016.8h0M931.6 1019.3h0M932.5 1019.5h0M932.5 1017.4h0M933.3 1017.8h0M934.6 1017.6h0M935.3 1017.4h0M928.2 1041.3h0M929.9 1040.1h0M930.6 1037.5h0M931.5 1040.9h0M932.4 1039.3h0M933.3 1040.6h0M934.4 1040.7h0M934.5 1041.6h0M935 1039.8h0M925.9 1097h0M926.1 1098.6h0M925.9 1098.1h0M928 1098.8h0M928.8 1100.1h0M928.6 1100.2h0M929.3 1099.1h0M929.9 1096.4h0M930.4 1099.7h0M931.8 1096.3h0M934.2 1097.7h0M935.3 1096.6h0M935.3 1098.7h0M937 1099h0M935.6 1096.5h0M937.7 1100.1h0M939.6 1096.3h0M938.7 1097.5h0M939 1099.7h0M929.1 1054.1h0M929.2 1052.9h0M930.9 1054h0M929.7 1052.5h0M932.3 1053.5h0M932.6 1052.9h0M934.1 1053.4h0M933.7 1050.3h0M933.9 1052.9h0M936.2 1053.8h0M936.3 1050.4h0M929.8 1021.6h0M930.7 1022.9h0M931.4 1021.7h0M933.6 1022.1h0M934.9 1023.9h0M923.7 1078.7h0M924.8 1076.9h0M927.2 1077.3h0M926.6 1078h0M928.3 1079.2h0M928.2 1077.1h0M930.6 1078.7h0M930.9 1079h0M930.6 1078.9h0M932 1078.1h0M933.7 1075.8h0M933.5 1078.4h0M934.1 1079.2h0M935.6 1077.2h0M935.6 1076.6h0M936.5 1079h0M937.5 1078.8h0M938.8 1076.9h0M940.9 1078.4h0M929.5 1122.7h0M929.1 1122.7h0M930.8 1122.8h0M931.9 1123h0M933.1 1123.9h0M932.2 1121.5h0M934.2 1125.3h0M935.5 1125.1h0M936 1124.3h0M935.2 1125.2h0M931.8 1012.1h0M932.6 1008.4h0M933.1 1009.5h0M932.7 1009.6h0M928.4 1028.4h0M929 1026.8h0M931.2 1027.2h0M932.2 1025h0M931.9 1026.6h0M934.5 1027.6h0M934.4 1026.5h0M934.6 1027.2h0M931.2 1127.2h0M931.4 1128.4h0M932.2 1128.1h0M933.1 1126.2h0M927.1 1106.6h0M926.3 1107.9h0M927.5 1105.7h0M928.1 1106.3h0M930.2 1105.5h0M931.1 1108.1h0M931.4 1105.4h0M931.6 1104.6h0M932.1 1105.5h0M935.1 1104.9h0M935.2 1104.8h0M934.8 1104.9h0M937 1107.4h0M938.4 1107.4h0M937.7 1107.7h0M927.5 1055.4h0M926.5 1057.1h0M928 1055.5h0M928.8 1057.6h0M930.9 1054.6h0M930.6 1055.5h0M932.1 1057.3h0M932.9 1055.8h0M932.7 1055.2h0M934 1055.9h0M934.9 1054.9h0M935.4 1055.7h0M936 1056.2h0M936.7 1058.2h0M939.6 1058.2h0M930 1095.1h0M929 1095.1h0M931.9 1092.2h0M931.2 1094.7h0M933 1092.8h0M933.2 1096h0M934.1 1095.8h0M934.8 1094.9h0M934.7 1092.2h0M928.1 1121.2h0M928.4 1118.3h0M930.8 1120.8h0M931 1118.4h0M931 1119.5h0M933.2 1118.3h0M933.5 1120.1h0M934.4 1121.1h0M935.6 1118.2h0M936.4 1117.3h0M936 1119.9h0M930.2 1044.9h0M930.8 1042.2h0M931.7 1042.6h0M932.6 1042.9h0M932.2 1041.7h0M934.9 1042.7h0M935.1 1043.2h0M936.4 1042.3h0M927.6 1109.1h0M928.5 1110.7h0M930.7 1111.3h0M931.9 1110.8h0M932 1110h0M931.6 1110.3h0M932.8 1112.5h0M934.2 1111.8h0M933.8 1112.3h0M935.5 1111.8h0M936.9 1109.6h0M931.6 1046.7h0M932 1048.7h0M933.3 1049.5h0M932.6 1047.4h0M935.1 1049.4h0M928.9 989.5h0M928.9 990h0M935.1 988.6h0M934.2 988.2h0M932.5 987.7h0M931.4 988.4h0M937 986.7h0M932.1 987.1h0M929.7 986.1h0M929.7 984.2h0M935.1 984.3h0M929.3 982.7h0M930.5 982.1h0M934.2 981.3h0M934 980.4h0M934.8 979.9h0M934.8 978.8h0M932.1 959h0M960.4 1007h0M961.3 1139h0M954 1070.5h0M956.4 1070.1h0M958.1 1070.4h0M959.4 1067.8h0M959.5 1067.2h0M962 1067.9h0M961.4 1067.6h0M963.3 1071h0M964.3 1068.9h0M965.8 1067.4h0M966.2 1068.6h0M958.1 1043.4h0M959.9 1044.2h0M961.6 1041.7h0M962.1 1044.2h0M964.6 1044.3h0M957.6 1021.3h0M959 1021.3h0M960.5 1021.6h0M960.7 1021.2h0M962.9 1024.5h0M963.5 1021.9h0M964.3 1023.4h0M958.8 1120.8h0M960.2 1120.6h0M959.9 1118.2h0M962.8 1119.6h0M964.7 1120.1h0M955.5 1104.8h0M958.9 1107.7h0M958.9 1108h0M961.4 1105.9h0M961.4 1108h0M962.8 1107.6h0M964.5 1108.7h0M964.9 1108.1h0M955.3 1071h0M957.6 1073.5h0M958.1 1071.3h0M958.6 1072.4h0M960.5 1074.1h0M963.2 1071.8h0M964.1 1073.3h0M963.9 1074.7h0M966.1 1074.1h0M954.3 1097.7h0M954.5 1099h0M957.3 1097.2h0M959 1097.5h0M959.5 1096.5h0M961.1 1100h0M961.4 1100h0M962.3 1098.6h0M964.6 1097.3h0M966.3 1096.6h0M967.3 1098.7h0M967.1 1099.3h0M959.6 1030.7h0M960.7 1032.8h0M961.5 1029.1h0M961.6 1029.9h0M962.8 1029.6h0M960.1 1137.4h0M959.1 1048.2h0M959.8 1049.4h0M962.2 1049.2h0M961.5 1048.9h0M963.2 1047.2h0M954.8 1090.9h0M957.4 1090.1h0M958.5 1089.7h0M959.7 1089.5h0M960.4 1088.7h0M961.1 1090.6h0M962.6 1087.9h0M963.2 1088.7h0M965.9 1089.2h0M966.9 1088.4h0M952.9 1104.3h0M954.9 1101.8h0M954.4 1103.8h0M956.9 1100.9h0M956.9 1104.1h0M958.5 1101h0M960.7 1102.5h0M961.7 1100.9h0M963.8 1102h0M963.5 1102.9h0M965.1 1100.8h0M966.4 1101.5h0M967.5 1100.5h0M969.7 1100.5h0M950.7 1093.3h0M952.1 1095.7h0M954.3 1094h0M953.8 1095.6h0M956.4 1095h0M957.3 1092.6h0M958.3 1093h0M959.6 1092.8h0M960.2 1095.1h0M961.3 1095.3h0M964 1093.3h0M964.3 1094.4h0M965.3 1092.8h0M966.5 1094.8h0M968.7 1093.7h0M970.1 1094.6h0M971.1 1095h0M957.3 1056.1h0M959.6 1056.2h0M960.8 1057.2h0M961.5 1056.6h0M964.2 1058.1h0M951.2 1085h0M953.6 1087h0M954 1083.9h0M954.7 1085.3h0M957.4 1084.4h0M956.8 1085h0M958.7 1087.1h0M960 1086.6h0M960.7 1085.8h0M963.2 1087.5h0M963.7 1087.5h0M966.5 1087.6h0M967.7 1084.4h0M966.9 1083.7h0M968.5 1085.2h0M970.9 1086.4h0M953.3 1079.8h0M953.4 1083.5h0M954.9 1081h0M957.7 1080.2h0M958.9 1079.5h0M958.8 1081.4h0M960.9 1081.7h0M962.8 1081.6h0M963.3 1082.4h0M964 1079.8h0M966.5 1081.4h0M966.9 1079.4h0M968.4 1082.2h0M970.2 1082.2h0M959.9 1015.2h0M955.6 1111.2h0M956.8 1111.4h0M958.6 1109.9h0M961.5 1110.7h0M962.2 1109.1h0M962.6 1112.1h0M964.4 1110.5h0M965.3 1109.7h0M959.6 1035.3h0M960.6 1037.3h0M963.4 1033.2h0M954.6 1076.4h0M954.3 1075.8h0M956.8 1079h0M958.9 1076.6h0M958.8 1077.2h0M959.5 1079.2h0M960.6 1077.2h0M963 1075.9h0M963.9 1077.5h0M965.5 1075.5h0M967.1 1075.7h0M967.8 1078.4h0M959.3 1058.9h0M960.6 1059h0M961.8 1060.5h0M963 1059.8h0M959 1127.4h0M960.5 1129.6h0M962.8 1125.8h0M961.3 1038.8h0M960.8 1041.2h0M958.6 1050.8h0M960.9 1050.4h0M963.4 1050.8h0M958.1 1116.2h0M957.8 1113.8h0M960 1115.2h0M960 1115.5h0M963 1117h0M962.5 1116.8h0M965.9 1115.6h0M958.7 1019.2h0M959.9 1018.3h0M961.3 1018.9h0M962 1017.7h0M960 1026.8h0M961 1028.8h0M959.9 1122.9h0M958.4 1062.7h0M960.5 1064.9h0M961.6 1065.9h0M962.4 1066.1h0M962.7 1064.4h0M960.9 1132.3h0M960.6 989.6h0M958.2 990.2h0M960.7 988.9h0M957.5 988h0M963.9 987.7h0M963.4 985.6h0M963.1 984.8h0M958.8 983.3h0M962 969h0M988.8 1007h0M990.1 1007.1h0M991.1 1007.2h0M988.7 1126h0M981.8 1055.6h0M983.1 1055.6h0M984.2 1057.5h0M985.8 1056.7h0M984.8 1055.8h0M986 1056.8h0M988 1056.3h0M987.5 1058.1h0M989.5 1056.5h0M989.5 1057.9h0M991.9 1055.1h0M992.8 1055.4h0M992.6 1056.9h0M993.6 1056.4h0M995.1 1054.9h0M996 1055.5h0M997.4 1057.1h0M985.9 1018.7h0M986.2 1017.6h0M986.5 1017.8h0M987.6 1018.6h0M990.5 1017.4h0M989.8 1017h0M992.6 1017.2h0M992.4 1019.5h0M992.7 1017.2h0M989.8 1122.2h0M982.7 1065.6h0M984.1 1063.7h0M985.9 1066h0M986.4 1065.6h0M986.6 1063.6h0M989 1063.5h0M989 1065.7h0M991.7 1063.6h0M990.8 1065.4h0M991.7 1066h0M993 1063.1h0M995.2 1064.6h0M996.4 1065.7h0M985.5 1039.5h0M985 1039.1h0M986.4 1040.4h0M987.7 1039.3h0M988.7 1039.9h0M990.6 1040.1h0M991.2 1040.4h0M991.6 1039.6h0M991.7 1039.8h0M994.7 1038.8h0M995.7 1038.5h0M984.5 1081.6h0M985.3 1081.4h0M986.3 1080.2h0M987.7 1082.2h0M988.3 1080.2h0M988.8 1080.2h0M989.7 1083.5h0M990.8 1079.7h0M990.5 1083.2h0M992.8 1081.4h0M992.5 1080.9h0M995.4 1081.9h0M994.5 1082.1h0M982.2 1059h0M984.3 1060.7h0M983.9 1060.3h0M985 1058.6h0M986.6 1061.8h0M988.7 1062.4h0M989.8 1062h0M988.6 1060.7h0M989.4 1060.7h0M990.8 1061.2h0M993.2 1058.8h0M993.9 1059.8h0M995.3 1061.9h0M995.5 1061.2h0M996.3 1062.2h0M983.1 1078.7h0M982.9 1076h0M985 1079.1h0M985.4 1079h0M985.2 1079.3h0M986 1076.4h0M988.1 1078.8h0M988.7 1076h0M991.2 1076.1h0M990 1075.8h0M992 1076.8h0M993.6 1075.7h0M993.6 1077.5h0M995.4 1079h0M995.7 1076.4h0M996.3 1079h0M982.7 1092h0M984.9 1088.9h0M986.1 1088.8h0M986.8 1090.5h0M987.3 1090.7h0M987.7 1087.9h0M988.8 1088.2h0M991.5 1089.3h0M991.3 1089.7h0M992.8 1090.2h0M992.7 1087.9h0M993.9 1088.6h0M994.4 1088.1h0M981 1092.6h0M980.2 1092.6h0M981.6 1095.5h0M981.9 1096h0M983.6 1094.3h0M985.8 1093.5h0M985.4 1093.9h0M985.5 1092.6h0M987.4 1092.1h0M988.9 1093.3h0M989.2 1093h0M989.5 1093.6h0M992 1096.2h0M992.4 1092.3h0M994.5 1093.4h0M995.6 1092.6h0M995.8 1094.2h0M997.1 1092.8h0M998 1095.9h0M997.4 1095.4h0M999.6 1094.2h0M980.2 1097.8h0M981.2 1099.4h0M981.7 1097.4h0M983 1097h0M984.1 1098.6h0M985.1 1099.4h0M984.7 1096.4h0M987.4 1098.1h0M988.1 1099h0M987.2 1100.3h0M988.6 1098.2h0M989.1 1096.3h0M991.1 1096.4h0M991.1 1098.7h0M992.8 1099.8h0M993.5 1099.6h0M995 1096.3h0M995.4 1098.3h0M995.8 1100.2h0M996.5 1098h0M999.6 1098.7h0M999.3 1098.8h0M985.1 1022.6h0M984.7 1024h0M985.6 1024.3h0M987.7 1021.9h0M989 1024.8h0M990.6 1022.3h0M990 1024.7h0M992.5 1021.8h0M993.7 1021.8h0M993.2 1022.3h0M994.7 1021.3h0M983.2 1102.9h0M985.6 1102h0M986.9 1101.8h0M988 1102.1h0M988.4 1104.4h0M988.7 1103.4h0M989.2 1102.8h0M990.9 1103.5h0M992.3 1103h0M991.9 1104.6h0M993.6 1103.4h0M995.8 1103.7h0M983.5 1073.3h0M985.2 1075.1h0M984.3 1071.4h0M986.2 1071.2h0M986.5 1071.4h0M988.5 1071.3h0M990.2 1072h0M990.4 1074.1h0M992.2 1071.2h0M992.7 1072.8h0M992.3 1073.4h0M994.8 1074.7h0M995.4 1073.5h0M996.3 1074.3h0M985.7 1027.3h0M984.8 1028.5h0M987.3 1024.9h0M988.5 1025h0M987.4 1028.6h0M989.8 1025.4h0M990.6 1027.3h0M991.4 1027.1h0M992.1 1026.8h0M992.5 1025.4h0M994.6 1025.3h0M983.1 1106.6h0M983.9 1106.6h0M983.1 1108.2h0M985.4 1105.6h0M985.8 1106.2h0M988.1 1105.3h0M988.9 1105.1h0M988.8 1106.4h0M989.5 1107.2h0M989.9 1105.9h0M991.9 1106.3h0M992.2 1108.7h0M994.7 1106.2h0M995 1107.7h0M996 1104.7h0M995.9 1104.6h0M987.6 1014.3h0M988.9 1016h0M989.9 1014h0M986.2 1035h0M987.7 1033.3h0M989.2 1035.4h0M990.1 1037.3h0M990.9 1035.3h0M992.1 1033.7h0M984.6 1112.3h0M986.4 1110.7h0M988 1110h0M987.5 1111.3h0M990 1111.4h0M991.6 1109.3h0M992.7 1111.2h0M993.7 1109.3h0M993.1 1110.1h0M987.1 1011h0M987.6 1011.2h0M988.5 1012.2h0M991 1011h0M991.6 1008.5h0M987.4 1119.2h0M990.1 1121.2h0M991.5 1118.7h0M985.5 1045.2h0M985.9 1045.5h0M986.8 1044.5h0M987 1045.3h0M988.5 1042.4h0M991.3 1042.7h0M991.9 1042.9h0M991.2 1042h0M993.9 1043.9h0M992.9 1043.2h0M982.5 1053.1h0M983.9 1054h0M984.4 1050.1h0M986.9 1052.1h0M987.9 1053h0M988.8 1050.7h0M989.4 1054h0M990.4 1053.6h0M992.1 1054.2h0M992.8 1052.2h0M993.4 1053h0M995.2 1053.4h0M993.8 1053.4h0M995.8 1052.6h0M985.2 1070h0M986.8 1068.4h0M986.3 1070.8h0M988 1068.9h0M989.2 1070.8h0M990.4 1070.7h0M991.8 1067.5h0M992 1067.7h0M994.1 1067.2h0M993.2 1068.6h0M985.1 1047.3h0M985.4 1048.7h0M986.8 1047.4h0M988.1 1047.7h0M988.9 1048.7h0M990 1049.8h0M989.9 1049.7h0M990.3 1046.8h0M991.9 1047.7h0M993 1047.7h0M994.1 1046.4h0M995.4 1047.5h0M988.6 1113.7h0M987.5 1113.3h0M988.7 1116.9h0M990 1116.9h0M991.3 1113.8h0M986.8 1084.2h0M986.9 1086.5h0M988.4 1083.8h0M989.4 1084.9h0M991.2 1086.8h0M991.6 1086.1h0M987 1029.3h0M986 1029.4h0M988.6 1029.8h0M988.8 1030.2h0M990.8 1032.7h0M990.4 1031.9h0M993.1 1031.3h0M992.3 1029.9h0M996.3 989.4h0M994.1 990.1h0M996.6 989.5h0M994.9 989.9h0M996.6 989.4h0M994.8 988h0M992.1 987.5h0M988 987.2h0M984.1 986.8h0M994.9 986.6h0M985.2 985.8h0M986.4 986h0M983.8 984.3h0M995.3 984.6h0M990.5 984h0M992.5 983.4h0M991.1 983.2h0M994.8 981.2h0M988.6 981.3h0M993.2 981h0M988.9 979.4h0M993.2 978.3h0M990.8 978.5h0M991.3 976.9h0M991.9 977.3h0M987.3 975.7h0M987.4 975.2h0M1016.6 1009.4h0M1019.1 1009.4h0M1017.2 1138.2h0M1017.7 1136.4h0M1011.7 1078.3h0M1012.8 1076.1h0M1014.5 1078.6h0M1014 1078.4h0M1015 1079h0M1017.3 1075.7h0M1017.7 1077.8h0M1017.4 1077.2h0M1018.8 1078.8h0M1019.3 1077.5h0M1021.5 1075.4h0M1022.4 1078.4h0M1022.8 1075.6h0M1022.7 1078.3h0M1024.8 1078.5h0M1016.6 1032.3h0M1018.2 1029.5h0M1018.6 1032.4h0M1009.2 1108.9h0M1012.1 1111.6h0M1012.4 1112.9h0M1013.8 1109.2h0M1014.3 1111.3h0M1013.8 1108.8h0M1017 1109.7h0M1016.2 1110.8h0M1016.6 1112.3h0M1018.2 1110h0M1018.6 1111.7h0M1020.3 1111.8h0M1021.9 1109.8h0M1022.4 1112.3h0M1023.3 1111.4h0M1025.4 1110.3h0M1025.1 1111.7h0M1027.2 1110.9h0M1014 1061.3h0M1014.3 1062.3h0M1016.3 1061.8h0M1015.6 1062.2h0M1016.5 1061.8h0M1019.2 1058.8h0M1018.8 1058.6h0M1020 1059.2h0M1021.4 1059.2h0M1023 1060.9h0M1023 1058.5h0M1009.9 1103.7h0M1010.3 1104.5h0M1011 1102h0M1011.9 1103.3h0M1012 1102h0M1014.4 1103.9h0M1013.8 1102h0M1016.4 1103.1h0M1016.9 1100.6h0M1016.9 1100.5h0M1017.4 1103.5h0M1019.8 1101.9h0M1020.5 1103.3h0M1021.8 1104.4h0M1021.2 1104.1h0M1022.1 1101.6h0M1023.1 1103.6h0M1024.8 1103.5h0M1026.3 1100.6h0M1026.3 1101.3h0M1026.6 1103.9h0M1009.3 1107.3h0M1010.1 1108.2h0M1011.9 1107.5h0M1013.3 1107.9h0M1013.1 1108h0M1013.4 1106.3h0M1014.2 1107.1h0M1014.7 1108.3h0M1015.7 1105.6h0M1017 1108.6h0M1018.1 1105.3h0M1019.4 1106.7h0M1021.3 1108.4h0M1022.4 1106.9h0M1023.3 1106.1h0M1023.7 1106.1h0M1025.4 1107.9h0M1026.3 1108.5h0M1025.6 1108.5h0M1026.8 1106.6h0M1009.3 1099.7h0M1010.2 1096.6h0M1009.6 1098.8h0M1010.3 1100.1h0M1012.5 1099.9h0M1011.7 1098.6h0M1014.8 1098h0M1013.8 1096.8h0M1016.2 1100.1h0M1016.6 1098h0M1017.2 1097.9h0M1019.1 1100.3h0M1018.5 1098.4h0M1020.5 1098.8h0M1020.3 1098.4h0M1022.5 1099.6h0M1023.1 1096.5h0M1024.1 1100h0M1025.3 1099.9h0M1025.4 1098.1h0M1026.8 1100.3h0M1028.1 1098.1h0M1029.2 1098h0M1009.6 1096.2h0M1009.2 1095h0M1011.1 1093.7h0M1013.1 1095.3h0M1013.5 1096.1h0M1013.2 1094.2h0M1015.6 1093.7h0M1016.5 1093.1h0M1015.9 1095h0M1016.9 1095.4h0M1018.8 1095.1h0M1018.9 1095.3h0M1019.4 1094.1h0M1022.3 1093.1h0M1023.4 1094.4h0M1024.5 1092.3h0M1023.7 1094.4h0M1026.3 1093.7h0M1025.1 1095.8h0M1027.7 1093.9h0M1009.9 1121h0M1011.2 1120.2h0M1013.3 1117.9h0M1013.6 1118.7h0M1013.6 1121h0M1015.5 1118.3h0M1015.6 1120.1h0M1016.9 1121.1h0M1016.7 1119.1h0M1019.8 1118.3h0M1018.5 1119.1h0M1019.3 1120.3h0M1020.9 1118h0M1022.9 1120.5h0M1023.9 1119.4h0M1023.4 1119.9h0M1024.7 1120.7h0M1026.2 1120h0M1009.2 1116.7h0M1008.4 1113.7h0M1009.2 1113.7h0M1010.5 1113.2h0M1011 1117h0M1013.8 1113.9h0M1014.6 1117h0M1013.4 1115.9h0M1015.9 1115.6h0M1016 1116.6h0M1016.4 1116.9h0M1019 1113.8h0M1018.6 1115.9h0M1018.9 1114h0M1020.3 1115.1h0M1022.6 1113.8h0M1022 1115.6h0M1024.9 1115.1h0M1024.8 1113.8h0M1026.3 1116.4h0M1027.2 1115.3h0M1028 1115.7h0M1028.7 1117.2h0M1012.7 1082.5h0M1015.4 1080.9h0M1014.4 1079.6h0M1016 1082.7h0M1018.3 1079.6h0M1018.8 1081h0M1018.6 1083.1h0M1021.2 1080.8h0M1021.4 1079.6h0M1020.9 1079.5h0M1023 1082.9h0M1010.3 1123.9h0M1012.6 1124.4h0M1011.6 1124.7h0M1013.6 1122.1h0M1013.8 1122.9h0M1015.7 1123.4h0M1015.5 1121.6h0M1016.5 1123.3h0M1019 1121.6h0M1019.3 1123.3h0M1019.9 1123h0M1019.9 1124h0M1020.9 1122.2h0M1023.1 1123.7h0M1023.3 1122.9h0M1025.6 1124.5h0M1025 1125h0M1016.3 1057.2h0M1017.3 1055.2h0M1016.1 1054.5h0M1018.1 1055.3h0M1019 1058.3h0M1020.4 1056.5h0M1022.1 1054.4h0M1015.2 1048.8h0M1018.1 1049.3h0M1018 1045.9h0M1018.9 1048h0M1020.6 1049.4h0M1010.3 1073.7h0M1010.7 1074.1h0M1011.5 1074.7h0M1012.4 1074.3h0M1015.6 1074.5h0M1014.6 1072h0M1016.8 1074.7h0M1017.1 1074.3h0M1019.2 1071.7h0M1018.4 1073h0M1019.2 1072.2h0M1020.3 1073h0M1021.8 1073.6h0M1021.7 1073.9h0M1023.6 1072.4h0M1024.6 1071.8h0M1026 1071.5h0M1014.6 1090.8h0M1015.7 1088.2h0M1015.2 1089.3h0M1017.6 1089.4h0M1018.9 1091.8h0M1019.7 1090.1h0M1019.1 1090.3h0M1021.1 1090h0M1020.8 1089.9h0M1023.3 1091.9h0M1013.2 1085.8h0M1013.5 1084.5h0M1014.1 1087.2h0M1017 1087.7h0M1015.9 1083.8h0M1016.8 1085.4h0M1019.6 1086.7h0M1020.5 1086.9h0M1019.4 1084.4h0M1022.1 1084.9h0M1023.4 1087.3h0M1024.1 1084.9h0M1012.1 1065h0M1014.9 1066.8h0M1014 1065.7h0M1015 1066.1h0M1016.6 1064.2h0M1018.6 1065.2h0M1018.6 1064.6h0M1020.5 1064.4h0M1019.4 1065.7h0M1022.5 1062.8h0M1022.9 1064.3h0M1024.4 1066.7h0M1015.5 1053.8h0M1016.4 1051.1h0M1018.2 1050.8h0M1018.4 1052.9h0M1020.5 1052.3h0M1013.4 1068h0M1015.1 1070.7h0M1014.3 1069.9h0M1016 1068.4h0M1017.9 1069.5h0M1018.1 1069.8h0M1018.1 1067.7h0M1020.5 1069h0M1020.4 1067.9h0M1022 1068.8h0M1022 1070.7h0M1023.9 1069.1h0M1015.6 1128.1h0M1016.2 1128h0M1016.5 1127.2h0M1016.9 1127.7h0M1017.4 1127.9h0M1019.3 1127.4h0M1019.5 1127.2h0M1021.9 1127.5h0M1021.3 1128.3h0M1017.3 1045.2h0M1018.5 1041.7h0M1018.5 1039.3h0M1018.9 1041.4h0M1016.3 1036.7h0M1017 1033.8h0M1018.5 1036.9h0M1017.3 1133.6h0M1018.5 1131h0M1019.3 1132.7h0M1018 1026.6h0M1018.3 1024.9h0M1017.6 1018.5h0M1019.9 1018.6h0M1018.2 1023.4h0M1019 1020.9h0M1018.7 1024.1h0M1022.5 990.8h0M1014.2 988.8h0M1021.3 988.5h0M1018.8 988h0M1015.5 986.7h0M1020.6 986.2h0M1019.7 985.1h0M1017.4 982.8h0M1046.7 1004.8h0M1047.1 1147.4h0M1036.4 1117h0M1038.2 1117.1h0M1039.7 1115.8h0M1039.7 1114.3h0M1041.3 1114.3h0M1042.6 1114.2h0M1043.3 1116.4h0M1043.9 1113.2h0M1045.5 1116.3h0M1045.2 1116h0M1045.4 1113.7h0M1046.3 1114.5h0M1049.4 1116.7h0M1048.6 1113.3h0M1049.5 1114.8h0M1050.2 1114.1h0M1051.3 1116.9h0M1052 1117.1h0M1054.1 1115.9h0M1055 1116.3h0M1056.5 1116.8h0M1057.7 1114.9h0M1037.7 1096.1h0M1038.6 1092.6h0M1039.7 1092.9h0M1041 1094.2h0M1041.7 1096h0M1043.9 1095.7h0M1044 1092.3h0M1044.4 1092.4h0M1046.7 1096h0M1047 1093.7h0M1047.8 1094.8h0M1048 1095.3h0M1049.4 1093.1h0M1050.7 1095.9h0M1052.5 1092.9h0M1053.4 1092.4h0M1052.5 1094h0M1053.8 1094h0M1055.1 1093.3h0M1040.1 1080.2h0M1040.9 1080.7h0M1043.3 1081.1h0M1044.3 1079.8h0M1043.5 1083.5h0M1044.5 1079.4h0M1045.7 1083.5h0M1046.6 1083.1h0M1047.3 1081.5h0M1048.2 1082.7h0M1051.2 1083.3h0M1050.9 1082.5h0M1052.5 1081.8h0M1054.1 1083.2h0M1041 1103.9h0M1041.5 1101.1h0M1041.9 1101.2h0M1042.9 1102.5h0M1043.1 1101.4h0M1044.5 1104.3h0M1047 1103.1h0M1045.7 1100.4h0M1048.9 1100.8h0M1048.1 1104h0M1050.4 1100.8h0M1050.4 1102.2h0M1052.7 1103.9h0M1052.4 1101.2h0M1053.8 1103.9h0M1044.9 1019.4h0M1046.8 1019.2h0M1047 1019.9h0M1039 1106.4h0M1039.7 1104.8h0M1039.3 1107h0M1040.5 1106h0M1043.4 1106.1h0M1043.6 1107h0M1043.5 1107.6h0M1044.3 1107.2h0M1045.8 1108.2h0M1048.3 1106.6h0M1047.6 1107.9h0M1050.1 1106.8h0M1051 1107.6h0M1050.1 1106.8h0M1052.2 1108.7h0M1052.4 1108h0M1053 1105.5h0M1056 1108.2h0M1042.4 1111.7h0M1042.2 1112.3h0M1043.5 1111h0M1044.9 1111.3h0M1047 1110.3h0M1048 1109.9h0M1048 1110.2h0M1048.9 1112.2h0M1050 1110h0M1050.9 1110.6h0M1042.4 1122.8h0M1044 1123.7h0M1044 1123h0M1046.5 1124.4h0M1045.8 1124h0M1049 1122.5h0M1048.8 1123.7h0M1049.8 1123.1h0M1050.6 1123.3h0M1042.6 1126.2h0M1043.5 1126.3h0M1044.3 1126.1h0M1045.7 1126.2h0M1046.3 1126.7h0M1048.3 1128.3h0M1049.8 1127.5h0M1049.1 1126.5h0M1041.1 1079.2h0M1041 1075.4h0M1043.6 1078.2h0M1043.3 1076h0M1044 1077.5h0M1044.2 1075.5h0M1047.1 1076.6h0M1046.8 1078.8h0M1048.4 1079.3h0M1048.1 1076.7h0M1050.6 1075.7h0M1050.3 1076.3h0M1051.3 1079h0M1052 1075.7h0M1042.9 1097.5h0M1044.8 1099.4h0M1045 1099.4h0M1045.2 1097.3h0M1048.5 1099.3h0M1048.7 1096.2h0M1049.9 1099.3h0M1050.7 1099.1h0M1043.1 1072.6h0M1045.9 1075h0M1046.6 1071.4h0M1047.2 1071.6h0M1047.6 1074.2h0M1048.7 1072.6h0M1050.9 1071.7h0M1039.6 1084.5h0M1042.1 1083.7h0M1042.4 1086h0M1042.7 1087.5h0M1043.1 1087.1h0M1045.4 1083.7h0M1046.5 1084.4h0M1046.8 1087.7h0M1046.9 1086.2h0M1048.6 1085.8h0M1050.1 1085.6h0M1051.6 1085.5h0M1051.8 1083.9h0M1052.8 1083.8h0M1053.9 1087.6h0M1041.6 1070.6h0M1041.9 1068.6h0M1041.8 1069.3h0M1042.8 1067.1h0M1044.3 1067.3h0M1046.3 1070.4h0M1047.1 1069.9h0M1048.8 1067.6h0M1049.8 1068.8h0M1049.3 1068.2h0M1051.5 1067.7h0M1052.1 1068h0M1053.4 1069.6h0M1043 1121h0M1043.4 1118.7h0M1045.2 1117.7h0M1046.2 1118.7h0M1045.5 1118.7h0M1048.3 1118.3h0M1048.7 1118.7h0M1048.3 1119.3h0M1049 1119.5h0M1050.8 1117.5h0M1044.5 1048.1h0M1044.6 1049.6h0M1047 1048.4h0M1045.7 1048.3h0M1048.1 1049h0M1048.8 1049.5h0M1049.9 1049.9h0M1045 1059.7h0M1045.2 1059.9h0M1046.3 1059.7h0M1047 1060h0M1048.6 1061h0M1042.9 1057.7h0M1043 1057.6h0M1045.9 1057.9h0M1046.1 1058h0M1045.8 1058.1h0M1047.3 1056.8h0M1047.8 1056.1h0M1050.1 1057.9h0M1050.4 1056.8h0M1045.5 1043.5h0M1046.4 1044.9h0M1047 1043.6h0M1045.2 1066.4h0M1044.4 1066.8h0M1045.6 1066.6h0M1047.5 1066.7h0M1049.3 1065.6h0M1048.2 1062.9h0M1046.3 1041.5h0M1047.9 1040.7h0M1047.3 1015.6h0M1045.9 1053.3h0M1046.5 1052h0M1048.3 1053.4h0M1048.7 1051.6h0M1046.2 1010.2h0M1042.9 1088.8h0M1042.5 1091.7h0M1044.2 1088.9h0M1044.5 1090.2h0M1045.2 1090.2h0M1047.6 1088.2h0M1049.1 1090.5h0M1048.8 1090.4h0M1049.5 1088.9h0M1051.6 1092h0M1047.1 1034.9h0M1047 1024.7h0M1046.1 1131.1h0M1045.7 1131.4h0M1047.7 1129.9h0M1047.3 1032.6h0M1047 1029.3h0M1047.8 1027.4h0M1043.3 989.6h0M1046.7 989.2h0M1049.2 989.6h0M1047.9 988.9h0M1049.9 988.2h0M1043.9 986.3h0M1045.5 985h0M1047 984.2h0M1047.3 983.2h0M1045.5 981.8h0M1046.4 961h0M1047.4 966h0M1073.1 1009.4h0M1074.6 1010.6h0M1076.3 1009.8h0M1072.3 1133.6h0M1074.3 1131.7h0M1077.2 1130.5h0M1078.5 1130.5h0M1071.8 1097.5h0M1073.4 1100.2h0M1073.4 1098.3h0M1075.5 1099.7h0M1076.3 1100.1h0M1077.8 1097.6h0M1078.6 1096.8h0M1067.3 1102.9h0M1067.9 1101.3h0M1068.9 1104.6h0M1071.1 1101.9h0M1072.2 1104.3h0M1073.3 1101.2h0M1076.6 1104.1h0M1077.2 1104.4h0M1077.5 1103.5h0M1078.9 1100.5h0M1082 1101.9h0M1083.8 1102.6h0M1083.2 1103.7h0M1071.2 1079.9h0M1072.1 1080.8h0M1073.2 1081h0M1075.7 1079.8h0M1076.3 1081.4h0M1078.6 1081.2h0M1080 1082.1h0M1069.1 1060.9h0M1070.2 1059.8h0M1070.8 1061.9h0M1074.3 1058.7h0M1073.6 1061.2h0M1075.3 1061.5h0M1077.3 1059.5h0M1080 1059.4h0M1080.5 1062.2h0M1081.4 1060.9h0M1064.6 1091.4h0M1066.4 1089.8h0M1068.7 1088.5h0M1071 1089.3h0M1072.3 1090.5h0M1073.6 1090.6h0M1075.1 1089.7h0M1074.9 1091.9h0M1075.8 1090.7h0M1078.6 1088.7h0M1078.4 1088.6h0M1081 1091.1h0M1083.2 1090h0M1083.2 1090.4h0M1084.5 1091.8h0M1068.3 1114.5h0M1070.5 1116.7h0M1072.1 1113.1h0M1072.7 1113.5h0M1075.4 1114.1h0M1076.1 1113.5h0M1077.4 1115.9h0M1077.8 1114.6h0M1080.3 1114.9h0M1081.5 1114.7h0M1068.9 1071.7h0M1072 1071.2h0M1073.4 1071.9h0M1073.4 1073.3h0M1074.7 1071.3h0M1077.5 1071.7h0M1078.3 1071h0M1080.7 1073.3h0M1082.2 1071.5h0M1072.9 1123.2h0M1073.6 1123.5h0M1075.5 1122.5h0M1077.1 1122.5h0M1079.1 1121.9h0M1072 1064.9h0M1073.8 1064.3h0M1075.1 1065.6h0M1077.5 1062.6h0M1077.8 1066.5h0M1065.3 1079.2h0M1065.9 1078.3h0M1069.3 1076h0M1069 1076.6h0M1072.3 1076.3h0M1071.5 1078.4h0M1072.8 1077.5h0M1075 1078.7h0M1076.5 1075.9h0M1079.2 1078.3h0M1080.7 1077.4h0M1080.1 1078.8h0M1082.2 1078.6h0M1083.2 1078.7h0M1085.4 1076.7h0M1072.5 1047.7h0M1074.1 1048.5h0M1076.1 1049.9h0M1078.4 1047.6h0M1072.2 1067.4h0M1072.8 1069.3h0M1074.5 1067.5h0M1074.7 1069.1h0M1076.6 1070.4h0M1078.2 1069.7h0M1079.1 1070.7h0M1071.7 1040.4h0M1072.8 1040.1h0M1075.6 1038.5h0M1077 1040.7h0M1078.1 1037.6h0M1075 1036.5h0M1076.8 1035h0M1070.5 1118.3h0M1072.9 1119.2h0M1074.7 1118.8h0M1074.8 1118h0M1077.6 1119.1h0M1077.4 1121.1h0M1079.1 1117.9h0M1072.7 1050.9h0M1074.9 1050.8h0M1075.8 1053h0M1077.5 1053.1h0M1068.3 1093.5h0M1068.1 1096.2h0M1070.8 1095.2h0M1070.7 1092.6h0M1072.2 1092.7h0M1075.6 1094.9h0M1075.5 1094.4h0M1078.2 1094.4h0M1080.1 1095h0M1080.7 1093h0M1082.7 1093.2h0M1084.4 1096.1h0M1070.9 1105.6h0M1072.6 1107.3h0M1073.8 1108.6h0M1075.5 1105.5h0M1075.7 1108.4h0M1078.1 1106h0M1079.5 1104.7h0M1081.2 1106h0M1072.9 1044.9h0M1075.1 1042.2h0M1077.9 1043.8h0M1068.9 1084.6h0M1070.2 1087.8h0M1071 1085.2h0M1073.4 1084.7h0M1073.7 1085.6h0M1074.6 1086.3h0M1075.9 1084.5h0M1078.5 1085.2h0M1078.6 1086.2h0M1082.2 1084.2h0M1081.6 1084.2h0M1071 1111.5h0M1073.7 1110.4h0M1073.5 1111.6h0M1076.5 1111.4h0M1077.4 1110.1h0M1079.3 1112.9h0M1071.8 1057.3h0M1072.2 1056.5h0M1074.6 1054.4h0M1075.4 1056.1h0M1077.7 1056.3h0M1077.5 1056.5h0M1079.7 1056.8h0M1074.3 1022h0M1074.9 1024.4h0M1076.2 1023.9h0M1076.9 1024.8h0M1074.2 1032.4h0M1075.4 1031h0M1075.2 1020h0M1075.5 1125.8h0M1074.6 1014.5h0M1074.2 1028.9h0M1076 990.2h0M1070.6 989.6h0M1072.8 988.6h0M1071 989.3h0M1070.9 987.4h0M1076 986.6h0M1078.5 986.6h0M1073.2 986.2h0M1077.8 984.7h0M1075.8 983.8h0M1072.3 982.2h0M1073.5 981.7h0M1074.1 980.8h0M1075.5 972h0M1074.8 978h0M1104.1 1011h0M1104.8 1142.8h0M1103 1060.2h0M1102.9 1059h0M1103.8 1058.7h0M1104 1060h0M1105.9 1059.8h0M1105.5 1061h0M1094.4 1111.9h0M1094.4 1110.5h0M1094.5 1109.1h0M1096.2 1109.4h0M1096.2 1110.9h0M1096.4 1110.1h0M1098.6 1110.9h0M1099.3 1109.4h0M1099.5 1110.6h0M1101.6 1110.9h0M1102.2 1112.8h0M1103.2 1111.6h0M1102.4 1108.9h0M1104.6 1110.1h0M1104.1 1112.9h0M1104.7 1111.9h0M1105.3 1110.4h0M1107.5 1111.9h0M1106.7 1109.4h0M1107.8 1112.6h0M1109.5 1109.2h0M1108.5 1112.3h0M1111.4 1109.5h0M1111.4 1109.1h0M1112 1112.5h0M1112.4 1110.7h0M1112.7 1112.3h0M1115.2 1110.8h0M1096.1 1107.7h0M1097.5 1107.3h0M1097.7 1106h0M1098.2 1107.3h0M1099.8 1107.6h0M1101.1 1106.9h0M1100.4 1107.4h0M1101.2 1106.9h0M1103 1106.7h0M1102.8 1106.7h0M1104.6 1105.5h0M1104.8 1108.2h0M1104.9 1104.6h0M1107.4 1106.6h0M1106.9 1107.5h0M1109.2 1108.2h0M1109.8 1105.3h0M1110 1106.9h0M1111.6 1105.9h0M1110.8 1107.4h0M1102.9 1058.4h0M1102.9 1056.2h0M1103.7 1054.3h0M1104.5 1056.4h0M1106.4 1058h0M1099.3 1066.3h0M1101.4 1063.7h0M1102.6 1065.5h0M1102.9 1065.2h0M1104.1 1066.3h0M1104.2 1066.2h0M1105.3 1065.9h0M1105 1065.1h0M1107.2 1062.8h0M1106.7 1062.7h0M1108.6 1063.6h0M1098.2 1117.4h0M1099.4 1117.9h0M1100.4 1118.9h0M1100.2 1120h0M1100.4 1119.9h0M1101 1117.9h0M1102.8 1118h0M1104 1120.8h0M1103.4 1119.8h0M1104.4 1120.1h0M1106 1118.2h0M1106.4 1117.9h0M1106 1118.7h0M1108.1 1120.3h0M1107.6 1120.3h0M1109.8 1120.4h0M1109 1117.6h0M1096.6 1094.7h0M1097.6 1094.2h0M1097.5 1093.8h0M1098.7 1093.4h0M1099 1094h0M1101.5 1093.4h0M1102.5 1093.6h0M1103.2 1094.8h0M1103.7 1095.1h0M1103.9 1094.8h0M1105.3 1092.7h0M1106.3 1094.2h0M1105.3 1096h0M1105.6 1093.2h0M1107.8 1095.7h0M1108 1095.1h0M1109.3 1093.8h0M1109.4 1094.8h0M1110.5 1094.2h0M1111.3 1094.3h0M1098.3 1077.8h0M1101 1079.3h0M1100 1076.1h0M1101 1076.7h0M1103.1 1078.1h0M1102.4 1075.6h0M1104 1076.9h0M1105.9 1075.8h0M1105.7 1078h0M1106.2 1079.1h0M1106.1 1075.7h0M1108.4 1075.9h0M1109.6 1075.8h0M1102.5 1046.1h0M1102.3 1046.3h0M1103.9 1046.4h0M1105.4 1049.4h0M1104.6 1048.4h0M1106.8 1047.7h0M1097.5 1089.7h0M1097.8 1090.5h0M1097.2 1088.8h0M1099.1 1088.1h0M1100.1 1088.7h0M1100.3 1091.3h0M1099.8 1090h0M1102.5 1089.4h0M1103.2 1088.9h0M1103.1 1089.2h0M1103.4 1091.4h0M1104.7 1091.6h0M1106.5 1090.8h0M1107.3 1091.6h0M1108.2 1090.3h0M1108.4 1089.8h0M1108.8 1091h0M1108.5 1089.6h0M1110 1087.8h0M1110.1 1091.9h0M1111.9 1091.5h0M1095.4 1097.8h0M1095.9 1099.2h0M1097.1 1100h0M1095.6 1098.5h0M1096.6 1097.2h0M1098.8 1098.6h0M1098.5 1097.6h0M1098.8 1098.3h0M1099.8 1096.3h0M1101.1 1096.3h0M1101.8 1100.2h0M1103.7 1097.8h0M1104.1 1096.4h0M1105.4 1096.9h0M1104.9 1097.4h0M1106.7 1099.7h0M1107.8 1098h0M1108.5 1097.7h0M1108.5 1099.8h0M1108 1099.1h0M1110.3 1099.9h0M1110.7 1097.1h0M1112 1096.5h0M1112.9 1100.2h0M1113 1100.1h0M1113.8 1097.2h0M1099.3 1071h0M1099.7 1067.5h0M1099.9 1070.2h0M1100.2 1067.6h0M1103 1068.6h0M1103.9 1069.5h0M1102.5 1067.5h0M1104.6 1069.5h0M1105.6 1067.7h0M1106.3 1069.3h0M1107.5 1069.4h0M1107.4 1070.9h0M1107.7 1070.5h0M1109.1 1067.6h0M1099.7 1100.6h0M1098.6 1103h0M1099.6 1102.7h0M1099.9 1101.1h0M1101.3 1102.7h0M1103.4 1102.2h0M1102.3 1103.6h0M1103.3 1103.2h0M1104.3 1104.3h0M1105.9 1104.2h0M1105.7 1104.4h0M1107.5 1101.1h0M1107.1 1104.5h0M1107.9 1100.7h0M1110.1 1104.2h0M1100.3 1072h0M1101.2 1073.9h0M1100 1071.3h0M1101.3 1074.5h0M1101.6 1075h0M1102.5 1072.5h0M1104.8 1071.6h0M1104.5 1071h0M1105.1 1074.4h0M1107.2 1073.2h0M1106.9 1073.1h0M1108.9 1072.2h0M1108 1073.1h0M1101 1122.9h0M1102.2 1125.5h0M1103.3 1124.7h0M1104.5 1123.6h0M1105.1 1121.8h0M1104.3 1122.1h0M1105.6 1122.8h0M1107.3 1123.9h0M1098.2 1085.6h0M1097.6 1086.4h0M1099.1 1085h0M1098.8 1087.2h0M1101.2 1084h0M1100.6 1087.3h0M1102.7 1085.3h0M1102.5 1086.7h0M1104.2 1085.1h0M1103.3 1087.7h0M1106 1086.9h0M1105.5 1085.3h0M1105.3 1085.6h0M1106.8 1084.2h0M1107.7 1086.5h0M1109.5 1084.1h0M1110.2 1086.2h0M1109.7 1084.3h0M1111.2 1085.1h0M1096.4 1115.2h0M1097.8 1116.4h0M1099.6 1115.4h0M1099.4 1114.1h0M1100.4 1114.3h0M1100.1 1113.3h0M1101.6 1114.2h0M1103.6 1116.9h0M1103.8 1116.2h0M1103.6 1116.4h0M1105.1 1116.2h0M1105.3 1114.3h0M1107.7 1114.8h0M1106.4 1116h0M1107.7 1116.9h0M1108.4 1113.3h0M1110.8 1117.1h0M1111 1115.2h0M1100.5 1081.4h0M1101.5 1083.1h0M1100.4 1082.7h0M1101.9 1083.3h0M1101.9 1082.2h0M1104.2 1080.7h0M1104.3 1079.9h0M1106 1079.9h0M1106.3 1079.4h0M1107.8 1082.1h0M1108 1081.6h0M1107.4 1082.8h0M1102.4 1028.1h0M1103.3 1026.2h0M1104.3 1028.2h0M1102.2 1133.5h0M1103 1130.4h0M1103.9 1133.7h0M1103.8 1132.5h0M1105.7 1131.5h0M1106.8 1133.7h0M1101.4 1127.2h0M1102.8 1128.3h0M1102.4 1128.1h0M1102.2 1129.1h0M1104.7 1127.4h0M1103.7 1129.1h0M1106.2 1127.5h0M1106.8 1126.7h0M1107.8 1125.9h0M1102.9 1041.7h0M1103.2 1044.6h0M1104.4 1044.2h0M1105.4 1044h0M1102.7 1050.2h0M1104.5 1053.3h0M1103.8 1053.2h0M1102.3 1017.5h0M1105.1 1016.9h0M1103.8 1136h0M1104.2 1136h0M1103.9 1031.1h0M1103.2 1039.7h0M1103.9 1040.2h0M1103.7 1024.4h0M1104.3 1034.9h0M1104.6 1033.5h0M1105 1013.9h0M1101.8 990.3h0M1107 989.8h0M1104.6 988.7h0M1099.3 989.3h0M1107.3 988h0M1107.6 987.4h0M1101.2 986.6h0M1106.7 986.4h0M1107.8 985.3h0M1106.9 984h0M1102.6 983.7h0M1106.8 982.2h0M1102.7 981.3h0M1126.1 1004.8h0M1129.4 1005h0M1129.3 1008h0M1132.9 1006.5h0M1133.3 1005.4h0M1134.6 1007.6h0M1135.6 1005.1h0M1138 1007.9h0M1131.3 1132h0M1131.7 1129.8h0M1133.4 1131.6h0M1126.5 1053.7h0M1127 1051.9h0M1129.5 1052.2h0M1129.9 1053.5h0M1132.4 1053.9h0M1133.7 1053.9h0M1136.4 1053.9h0M1136.5 1050.6h0M1138.7 1052.8h0M1124.2 1081.8h0M1125.2 1080.1h0M1126.6 1080.8h0M1127.9 1079.5h0M1130.2 1081.1h0M1130.9 1082.7h0M1133 1082h0M1133.9 1081.5h0M1137.4 1079.4h0M1138.8 1082.8h0M1138.9 1082.9h0M1141 1082.8h0M1129 1110.5h0M1129.7 1111.6h0M1131.4 1111.7h0M1134.1 1110.1h0M1134.3 1111.9h0M1137 1110.8h0M1125.7 1037.7h0M1127.5 1039.2h0M1129.5 1037.5h0M1132.9 1041h0M1134.5 1038.6h0M1135.5 1041.3h0M1137.8 1038.1h0M1138.6 1041.5h0M1129.8 1105.6h0M1131.6 1105.6h0M1133.7 1106.3h0M1129.8 1102.4h0M1131.4 1101.3h0M1132.4 1100.7h0M1135.6 1103.8h0M1123.7 1084.4h0M1124.5 1087.4h0M1126.5 1085.4h0M1126.7 1085.8h0M1129.3 1083.6h0M1131.7 1087.5h0M1132.3 1086.1h0M1133.7 1085.3h0M1136.2 1084.2h0M1138.2 1086.8h0M1138.8 1087.2h0M1140.7 1087.7h0M1141.4 1086.7h0M1128.3 1070.6h0M1128.8 1069.2h0M1130.2 1068.3h0M1131.9 1068.4h0M1134.1 1069.6h0M1136.7 1067.5h0M1137.3 1069.4h0M1122.6 1058h0M1125 1056.1h0M1126 1057h0M1128.6 1057.5h0M1131.2 1055.8h0M1131.1 1054.7h0M1134.5 1056.8h0M1135.8 1054.9h0M1135.6 1058h0M1137.4 1056.8h0M1140.3 1058.2h0M1141.8 1057.6h0M1126.3 1046.7h0M1127.6 1049h0M1130.3 1049.4h0M1132.8 1049.3h0M1133.6 1046.4h0M1134.7 1046.6h0M1136.4 1046.5h0M1137.5 1046h0M1128.5 1020h0M1130.9 1020.3h0M1133.2 1020h0M1133.1 1019.9h0M1136.8 1016.8h0M1123.7 1042.2h0M1125.5 1043.1h0M1128.5 1043.9h0M1128.9 1043.7h0M1130.8 1044.8h0M1131.5 1043.4h0M1133.8 1045h0M1135.6 1043.7h0M1136.7 1044.4h0M1140.3 1042.7h0M1141.6 1044.5h0M1131.2 1014.4h0M1132.4 1013.1h0M1125.6 1037.2h0M1129.4 1035.1h0M1129.6 1036.3h0M1130.7 1037.3h0M1133.4 1034.8h0M1135.2 1034h0M1135.6 1035.6h0M1138.8 1037h0M1123.5 1092.4h0M1126.7 1094.7h0M1128.4 1094.3h0M1129.8 1093.2h0M1130.5 1092.5h0M1133.8 1092.4h0M1133.6 1093.7h0M1135.2 1092.1h0M1138.3 1093.6h0M1138.1 1094.1h0M1140.7 1092.7h0M1125.3 1079.1h0M1126.5 1076.4h0M1128.4 1076h0M1130.1 1079h0M1131.4 1075.5h0M1132.5 1077.1h0M1136.1 1076.7h0M1137.7 1078.1h0M1138.6 1076.4h0M1139.6 1077.6h0M1130 1124.1h0M1132.6 1122.2h0M1133.2 1122.5h0M1122.8 1066h0M1123.5 1066.6h0M1127.3 1066.8h0M1127.9 1064.4h0M1130.3 1062.9h0M1130.5 1065.1h0M1133.6 1066.2h0M1133.6 1066.5h0M1136.5 1065.3h0M1137.8 1064.9h0M1138.9 1066.5h0M1140.8 1064.9h0M1142.8 1063.3h0M1127.9 1073.3h0M1127.8 1071.7h0M1130.3 1071.1h0M1130.8 1074.2h0M1132.7 1074.8h0M1134 1071.3h0M1137.6 1072.7h0M1139.3 1073.7h0M1129.9 1113.6h0M1132.3 1115.4h0M1133.8 1116.9h0M1131.4 1097.7h0M1133.8 1096.4h0M1133.7 1099.5h0M1130 1059.7h0M1131.9 1060.7h0M1134 1059.9h0M1131.5 1118.2h0M1127.9 1088.7h0M1130 1091.7h0M1129.9 1088.7h0M1133.6 1090.6h0M1135.2 1089.8h0M1136 1091.5h0M1137.1 1090.7h0M1128.9 1022.2h0M1130.4 1023.5h0M1132.5 1021.6h0M1134.9 1023.1h0M1135.8 1020.6h0M1126.5 1033.2h0M1127.8 1031.1h0M1130.9 1029.9h0M1132.4 1031.9h0M1134 1031.2h0M1135.3 1030.3h0M1136.6 1031h0M1139.4 1029.2h0M1130.1 1028h0M1131 1025.3h0M1132.9 1026.7h0M1134.5 1024.9h0M1130.2 1010.8h0M1132.1 1010.7h0M1132.8 1011.8h0M1135.5 1011.4h0M1138.5 990.5h0M1126.7 990.3h0M1136.3 989.3h0M1136.7 988h0M1137.7 988.1h0M1136.3 987.8h0M1135.3 986.8h0M1135.4 985.1h0M1132.3 985.5h0M1134.7 983.3h0M1131.7 982.9h0M1129.9 982.1h0M1133.3 981.1h0M1161.8 1006.4h0M1162.1 1141.2h0M1158.3 1048.9h0M1159.6 1046.3h0M1161.7 1048.9h0M1162.1 1048.1h0M1152.2 1110.9h0M1153.3 1108.9h0M1156.4 1111.7h0M1157.4 1112.5h0M1159.7 1110.6h0M1159.6 1112.6h0M1161.8 1112.1h0M1161.7 1111.7h0M1162.8 1112.3h0M1165.5 1109.7h0M1165.6 1111.2h0M1167.5 1113h0M1169.9 1111.3h0M1155.3 1063.9h0M1157.6 1063.2h0M1159.7 1066.3h0M1160.4 1065.1h0M1160.6 1065.1h0M1161.7 1062.8h0M1163 1065.7h0M1165.3 1064h0M1166.1 1063.9h0M1152.3 1105.1h0M1153 1106.6h0M1153.8 1108.6h0M1155.7 1107.3h0M1157.6 1106.5h0M1157.8 1107.3h0M1159.4 1107.3h0M1161.4 1107.9h0M1162.7 1108.4h0M1163 1108.7h0M1163.7 1107.8h0M1166.9 1105.9h0M1167 1107.3h0M1169.4 1106.2h0M1170.7 1108h0M1172.2 1107.2h0M1153.8 1078.5h0M1155.4 1075.8h0M1156 1079.1h0M1158 1075.4h0M1160.2 1078.1h0M1161 1078.5h0M1160.8 1075.7h0M1162.5 1077.6h0M1165.6 1075.6h0M1165.4 1076.8h0M1167.5 1079h0M1168.1 1077.6h0M1161.4 1029.7h0M1162.8 1029.6h0M1152.7 1102.1h0M1155 1101.4h0M1156.2 1102.4h0M1156.2 1103.9h0M1158 1101.2h0M1160.2 1101.1h0M1161.8 1104.2h0M1162.7 1101.2h0M1164.1 1100.9h0M1164.7 1100.7h0M1165.9 1100.6h0M1168.2 1100.9h0M1169.1 1104.5h0M1159.3 1073.6h0M1162.6 1071.4h0M1154.2 1114h0M1155.6 1115.8h0M1156.1 1117h0M1156.9 1114.7h0M1158.7 1117.2h0M1159.8 1114h0M1161.7 1116.7h0M1162.4 1113.1h0M1162.9 1116.3h0M1166.1 1113.5h0M1166.2 1115.6h0M1168.4 1114.4h0M1168.8 1116.6h0M1157 1133.4h0M1158.2 1130.3h0M1161.2 1130.5h0M1161.4 1131.5h0M1163 1133.8h0M1163.9 1130.5h0M1152.6 1087.5h0M1153.4 1086.9h0M1154.3 1083.6h0M1157 1085.8h0M1157.4 1087.7h0M1159.6 1086.1h0M1160.4 1086.9h0M1161.8 1086.9h0M1162.4 1084.8h0M1165.6 1086.4h0M1165.4 1086.2h0M1166.8 1086.5h0M1169.4 1085.6h0M1169.9 1087.3h0M1157.1 1053.5h0M1158.8 1053.6h0M1160 1051.5h0M1162.1 1051.9h0M1164.3 1052.8h0M1164.7 1052.6h0M1155.5 1097h0M1155.1 1098.4h0M1157.9 1097.5h0M1158.9 1100.1h0M1160.1 1098.5h0M1160 1098.3h0M1163.6 1099.9h0M1162.8 1099.5h0M1165.7 1098.1h0M1165.5 1097.3h0M1166.7 1097.5h0M1158.9 1026h0M1160.8 1028.3h0M1161.8 1028.8h0M1156.4 1129.3h0M1157.3 1127.3h0M1158.9 1127.2h0M1159.8 1126h0M1162.7 1127.7h0M1163.7 1126.3h0M1165.5 1127.1h0M1165.8 1128.6h0M1159.5 1040.5h0M1160.2 1041.2h0M1162.9 1039.6h0M1153.5 1088.7h0M1154.6 1088.1h0M1156.7 1087.9h0M1157.5 1089.2h0M1159 1090.3h0M1159.6 1088.4h0M1160.3 1089h0M1162.7 1089.1h0M1164.8 1091.4h0M1164.7 1090.8h0M1167.8 1089.4h0M1168.5 1089.8h0M1169.7 1089.8h0M1156.8 1120.4h0M1159.2 1120.1h0M1161 1118.9h0M1160.3 1121.1h0M1161.5 1119.3h0M1163.3 1117.9h0M1165.4 1119.2h0M1158.2 1062.3h0M1160.4 1062h0M1161.9 1059.7h0M1161.4 1060.3h0M1164.5 1058.9h0M1157.5 1123.3h0M1157.9 1121.5h0M1160.4 1125.1h0M1160.2 1125.1h0M1162.1 1121.7h0M1164.1 1124.7h0M1164.3 1125.2h0M1156.8 1095.9h0M1157.4 1093.1h0M1159.7 1095.5h0M1159.6 1095h0M1162.2 1093.2h0M1162.3 1092h0M1164.4 1093.7h0M1165.1 1093.5h0M1159.6 1035.6h0M1161.9 1034h0M1161.8 1036.9h0M1159.4 1043.5h0M1161.7 1044.5h0M1162.1 1042.7h0M1157.3 1067.3h0M1159.4 1069.2h0M1159.8 1069.5h0M1160.7 1069.8h0M1163.9 1068h0M1164.2 1067.1h0M1159.9 1019.1h0M1162.7 1019.3h0M1158.8 1083.3h0M1158.9 1079.6h0M1160.5 1079.7h0M1162.1 1079.8h0M1164 1083.5h0M1163.8 1079.7h0M1160.5 1009.4h0M1160.7 1137.9h0M1161.5 1134.8h0M1163.1 1137h0M1160.8 1055.7h0M1164.3 989.5h0M1163.9 990h0M1164.4 988.3h0M1163 987.9h0M1162.9 987.4h0M1159.3 986h0M1158.7 985.3h0M1160.2 984h0M1190.1 1007h0M1190 1007.2h0M1189.5 1141h0M1182.3 1089.2h0M1182.7 1088.3h0M1183.7 1091.1h0M1183.7 1090.7h0M1185.5 1090.9h0M1185.5 1091h0M1185.6 1089h0M1187.8 1091.4h0M1188.3 1090.4h0M1189.2 1091h0M1189.3 1090.8h0M1189.4 1091.2h0M1190.5 1090.8h0M1191.2 1090.1h0M1192.2 1090.1h0M1194.1 1088.2h0M1193.7 1087.9h0M1195 1090.4h0M1195.5 1091.9h0M1194.7 1087.8h0M1195.8 1087.8h0M1196.7 1091.3h0M1180.6 1084.9h0M1180.8 1087.3h0M1181.8 1085.8h0M1183.1 1085.3h0M1184.5 1086.5h0M1183.9 1084.8h0M1185.5 1085h0M1185.5 1086.2h0M1186.8 1086h0M1188.2 1084h0M1188.8 1086.6h0M1188.7 1084.8h0M1190.8 1085h0M1189.5 1086.6h0M1190.9 1086.7h0M1190.9 1087h0M1191.6 1085.2h0M1193.1 1086.7h0M1193.7 1086.8h0M1194.7 1087.6h0M1196.7 1085.3h0M1196 1086.6h0M1196.3 1086.1h0M1197.4 1087.7h0M1199.5 1087.6h0M1187.8 1122.9h0M1187.5 1124.9h0M1188.1 1122.4h0M1189.2 1123.7h0M1190.2 1123.1h0M1189.5 1123.7h0M1190.4 1124.8h0M1192 1125.2h0M1192.9 1122.1h0M1188.3 1059.5h0M1189.2 1060.9h0M1189.9 1061.6h0M1188.9 1060.4h0M1191.4 1059h0M1190.4 1062.3h0M1191.7 1059.9h0M1184.1 1110.8h0M1183.1 1111.5h0M1184.9 1110.8h0M1186.3 1111h0M1184.7 1111.4h0M1186 1112.7h0M1187.1 1110.4h0M1188.5 1112.5h0M1188.8 1110.2h0M1190.2 1110h0M1190.4 1111.1h0M1191.5 1112.5h0M1191.3 1109.6h0M1191.3 1110.3h0M1194 1110.1h0M1192.8 1110.9h0M1194.9 1113h0M1195.3 1109.4h0M1195.8 1112.6h0M1196.1 1108.9h0M1185.2 1074.9h0M1186.8 1073.9h0M1185.6 1074.1h0M1187.5 1075.1h0M1189.1 1072.6h0M1189.2 1074.4h0M1190.6 1072.7h0M1189.4 1073h0M1190.6 1071.4h0M1190.6 1072.3h0M1193.3 1074.4h0M1192.7 1074.9h0M1194.7 1072.3h0M1195.4 1074.1h0M1179 1094.3h0M1180.8 1093.7h0M1180.8 1093.4h0M1182.1 1092.1h0M1181.3 1094.4h0M1184.2 1093.4h0M1184.6 1094h0M1185.6 1092.7h0M1185.4 1092.6h0M1186.7 1094.6h0M1187.3 1095.5h0M1186.2 1094.7h0M1187.3 1093.5h0M1189.2 1094.4h0M1190.5 1093.2h0M1189 1094.4h0M1190.6 1094.2h0M1192.7 1094.7h0M1192.5 1096.1h0M1193.8 1094.7h0M1193.8 1095.4h0M1194.3 1093.4h0M1195.9 1094.4h0M1196.9 1092.2h0M1195.9 1094.3h0M1196.5 1093.3h0M1197.5 1095h0M1198.7 1094.1h0M1198.2 1094.9h0M1199.5 1092.4h0M1188.6 1131h0M1188.8 1133.2h0M1189.8 1130.3h0M1190.7 1132.1h0M1191.5 1130.8h0M1187.8 1070.4h0M1187.7 1067.8h0M1188.9 1070.3h0M1188.6 1070.4h0M1189.5 1070.3h0M1190.7 1070.8h0M1192.5 1068.6h0M1191.9 1069.6h0M1192.9 1068.2h0M1185.7 1047.6h0M1187.4 1047.1h0M1188.8 1048.4h0M1187.6 1048.7h0M1188.8 1048.3h0M1190 1046.2h0M1191.7 1047h0M1191.6 1048.9h0M1192.4 1048.6h0M1192.7 1045.8h0M1181.3 1102.1h0M1181.7 1102.3h0M1184.3 1103.4h0M1184.9 1101.5h0M1184 1101h0M1186.1 1102.4h0M1186.2 1102.2h0M1187.2 1101.2h0M1187.5 1104h0M1188.7 1103.6h0M1189.8 1104.3h0M1188.9 1104.3h0M1190.7 1101.1h0M1190.7 1101.7h0M1192.1 1101.4h0M1193.4 1103.6h0M1192.6 1102.9h0M1193.6 1100.5h0M1194.7 1102.1h0M1195.4 1104.3h0M1196.8 1104.5h0M1195.8 1103.5h0M1196.6 1102.1h0M1181.1 1120.1h0M1183.1 1120.1h0M1183.8 1119.7h0M1183.1 1119.2h0M1184.4 1121.1h0M1184.6 1120.6h0M1185.5 1117.9h0M1185.4 1121.3h0M1186 1120.6h0M1187.5 1118.2h0M1187.4 1119.8h0M1189.2 1117.9h0M1190.2 1120.7h0M1189.4 1119.6h0M1191.1 1119.1h0M1191.3 1120.9h0M1192.4 1118.6h0M1194.4 1121.4h0M1193.4 1119.9h0M1195.5 1117.7h0M1195.5 1118.5h0M1196.3 1118.1h0M1195.9 1117.3h0M1196.8 1117.6h0M1199.6 1121h0M1184.5 1113.6h0M1186.5 1114.2h0M1186.9 1115.4h0M1186.9 1113.8h0M1188.8 1115.2h0M1189.3 1113.6h0M1190.6 1114.9h0M1190.6 1113.1h0M1190.9 1115.2h0M1191.1 1115.4h0M1192.2 1114.9h0M1192.9 1114.3h0M1192.6 1117.1h0M1194.2 1116.6h0M1181.9 1105.9h0M1180.9 1106.8h0M1181.5 1104.6h0M1183.2 1108.5h0M1184.1 1107.6h0M1183.6 1106.4h0M1186.2 1106.6h0M1185.4 1105h0M1186.1 1106.4h0M1187.9 1106.5h0M1187.5 1106.1h0M1187.7 1108h0M1188.8 1106.8h0M1189.6 1107h0M1191.8 1104.8h0M1192.6 1108.5h0M1192.3 1107.1h0M1193.4 1105.6h0M1194 1107.9h0M1193.3 1108.7h0M1195.8 1104.6h0M1195.1 1107.2h0M1195.9 1107.8h0M1196.8 1106.5h0M1198 1106.4h0M1198.4 1105.7h0M1181.7 1096.9h0M1183.1 1098.6h0M1183.2 1098.2h0M1184.4 1096.9h0M1184.4 1096.5h0M1185.6 1098.5h0M1186.8 1096.2h0M1185.6 1097.7h0M1187.2 1098.1h0M1188.1 1098.7h0M1188.6 1096.8h0M1189.6 1099.3h0M1189.2 1097.3h0M1191.4 1096.9h0M1192.4 1097.6h0M1192.4 1096.5h0M1193.8 1098.3h0M1194.8 1099.6h0M1194.2 1099.4h0M1194.4 1100.2h0M1194.8 1097.8h0M1196.1 1098.1h0M1197.8 1097.5h0M1197.8 1098.3h0M1187.7 1055.6h0M1187.8 1056.1h0M1187 1057.7h0M1188.6 1055.6h0M1190.2 1054.3h0M1190.6 1055.6h0M1190.9 1058.1h0M1190.5 1055.8h0M1193.3 1054.2h0M1192.6 1055.7h0M1185.1 1065.2h0M1185.5 1066.4h0M1186.1 1066.3h0M1188.9 1066.3h0M1189.5 1065h0M1188.5 1064.7h0M1189.8 1064.8h0M1190 1063.5h0M1192.1 1066.4h0M1192.7 1066.2h0M1192.5 1065.3h0M1193.8 1064.8h0M1187.7 1031.8h0M1187.3 1030.9h0M1188.8 1031.9h0M1189.3 1029.1h0M1190.6 1029h0M1192.1 1029.9h0M1192.6 1032.4h0M1186.5 1078.2h0M1187.6 1076.8h0M1186.6 1076.1h0M1187.4 1079.1h0M1189.5 1076.1h0M1190.3 1077h0M1191.1 1078h0M1190.4 1077.2h0M1192.1 1076.3h0M1193.1 1078.3h0M1192.3 1076.6h0M1188.9 1053.6h0M1188.5 1050.4h0M1189.6 1052.1h0M1191.1 1052.5h0M1187 1129.5h0M1188.7 1126.7h0M1190.1 1126.6h0M1190 1126.9h0M1190.6 1127.1h0M1191.1 1128.1h0M1190 1024.9h0M1189.3 1025.2h0M1189.5 1027.2h0M1187.6 1037.4h0M1188.2 1041.5h0M1190.6 1040.2h0M1189.5 1041.4h0M1191.7 1038.3h0M1190.5 1038h0M1186.3 1081.9h0M1187.4 1082.5h0M1188.8 1081.5h0M1187.7 1082.1h0M1189.4 1080h0M1190.7 1083.1h0M1191.7 1083h0M1192.8 1082.6h0M1191.5 1082.7h0M1193.5 1080.4h0M1187.3 1034.1h0M1187.9 1035.1h0M1190.5 1035.4h0M1190.4 1037.3h0M1191.4 1037h0M1191.1 1033.8h0M1190.5 1011.8h0M1190 1016h0M1189.5 1013.7h0M1189.3 1021.9h0M1188.9 1020.6h0M1191 1023h0M1188.5 1043.3h0M1189.9 1041.8h0M1189.5 1041.6h0M1190.8 1136.3h0M1188.3 989.8h0M1194.8 990.3h0M1189.5 989.4h0M1184.2 987.9h0M1189.2 988.3h0M1185.2 987.3h0M1190.2 986.5h0M1189.3 985.2h0M1193.7 984.3h0M1193.5 984.2h0M1186.7 982.5h0M1187.4 981.8h0M1190.1 980.8h0M1218.2 1007h0M1217.8 1139.7h0M1212.5 1087.9h0M1212.7 1090h0M1213.9 1089.9h0M1215.9 1091.7h0M1215 1091.1h0M1217.8 1090.9h0M1216.5 1090.9h0M1218.9 1090.6h0M1219.2 1089.9h0M1219.5 1088.5h0M1221.8 1090.1h0M1221.2 1091.6h0M1222.9 1089.2h0M1223.1 1090.6h0M1224.3 1091.7h0M1212.7 1121.5h0M1215.1 1123.3h0M1215.7 1122.5h0M1216.3 1124.9h0M1215.9 1122h0M1216.7 1125.2h0M1219.4 1125.5h0M1219.5 1124.8h0M1220.6 1122h0M1221.5 1121.5h0M1222.1 1123.3h0M1223.2 1121.6h0M1224.2 1124.1h0M1214.2 1072h0M1214.7 1074h0M1215.7 1073.3h0M1217.2 1074.1h0M1219.5 1072.7h0M1218.7 1075.1h0M1219.6 1072.7h0M1220.5 1074.3h0M1220.9 1073.3h0M1215.5 1127h0M1218.2 1125.8h0M1218.9 1127.5h0M1219.7 1127.2h0M1221.4 1125.8h0M1215.4 1047.7h0M1218 1048.1h0M1216.9 1048.4h0M1218.7 1049.5h0M1220 1048.1h0M1221.5 1046.7h0M1210.8 1056.5h0M1213.1 1055.1h0M1213.3 1056.9h0M1215 1055.6h0M1216.2 1055.6h0M1216.4 1055.4h0M1218.2 1057.4h0M1219 1055.4h0M1219.9 1055.1h0M1220.5 1054.3h0M1219.5 1054.8h0M1221.2 1056.1h0M1222.6 1056.6h0M1222.8 1057.2h0M1223.4 1054.6h0M1226 1055.7h0M1216.1 1044.6h0M1216.8 1043.9h0M1218.7 1042.6h0M1218.7 1045h0M1219.8 1041.7h0M1220.7 1042.5h0M1220.4 1043.6h0M1213.4 1052.8h0M1214.2 1051.4h0M1215.4 1050.4h0M1217.6 1050h0M1218.4 1050.8h0M1219.3 1050.1h0M1218.8 1051.3h0M1219.8 1050.4h0M1221.5 1051.6h0M1221.8 1050.9h0M1214.3 1061h0M1215.5 1058.7h0M1214.6 1062.2h0M1217.4 1061.3h0M1217.7 1061.9h0M1217.9 1059.7h0M1218.7 1062.4h0M1219.8 1058.7h0M1220.5 1061.1h0M1221.5 1060.9h0M1221.7 1059.1h0M1212.3 1096.5h0M1214.4 1098.8h0M1214.3 1100.2h0M1214.4 1097.2h0M1216.2 1098.3h0M1217.7 1098.4h0M1218.1 1099.3h0M1218.8 1096.7h0M1219.9 1096.9h0M1220 1096.6h0M1222.5 1099.4h0M1221.6 1096.7h0M1223.6 1099.7h0M1225.3 1100.2h0M1207.5 1094.3h0M1208.6 1095.7h0M1210.3 1093.5h0M1210.7 1093.6h0M1211.3 1095.4h0M1213 1094.9h0M1212.9 1095.6h0M1215.1 1095.9h0M1215.2 1094.7h0M1216.4 1095.6h0M1216.5 1095.2h0M1218.6 1092.2h0M1218.9 1092.8h0M1218.8 1094h0M1220.2 1093h0M1220.4 1095.5h0M1222.9 1092.6h0M1223.6 1092.7h0M1224.8 1094h0M1224 1094.8h0M1226.9 1095.2h0M1227.1 1095.2h0M1228.1 1095.1h0M1228.6 1095.4h0M1213.5 1064.3h0M1214.1 1062.9h0M1213.8 1062.7h0M1216.7 1063.3h0M1216.3 1065.3h0M1217.1 1063.3h0M1218.8 1064.6h0M1219 1062.8h0M1220.1 1066.4h0M1220.8 1066.8h0M1222.1 1063.2h0M1224 1065.1h0M1222.8 1064.8h0M1212.1 1083.2h0M1213.3 1083.1h0M1215.4 1079.9h0M1215.5 1080.6h0M1217.5 1080h0M1217.5 1080.4h0M1219.3 1082.6h0M1219.1 1081.8h0M1221.4 1081.4h0M1221.4 1082.2h0M1223 1082.4h0M1223.2 1082.3h0M1224.7 1083.5h0M1217.8 1033.4h0M1218.3 1036.8h0M1219.4 1034.8h0M1220.3 1035.7h0M1209.4 1101.6h0M1208.8 1102.8h0M1210.9 1101.2h0M1211.8 1102.8h0M1212.8 1102.6h0M1213.5 1101.7h0M1214.4 1104h0M1214.9 1103.5h0M1215 1104.3h0M1216.5 1103h0M1216.7 1102.2h0M1216.9 1102.9h0M1219 1101.5h0M1218.9 1104h0M1220.1 1102.2h0M1222.5 1102.1h0M1222.3 1104.6h0M1223 1102.4h0M1224.7 1103.5h0M1225.2 1102.1h0M1225.8 1102.7h0M1227.2 1100.6h0M1228.4 1102.1h0M1229.6 1101.7h0M1213 1121.1h0M1212.7 1120.5h0M1215.1 1119.6h0M1215.3 1119.1h0M1217.6 1120.5h0M1216.9 1119.1h0M1219.1 1121h0M1218.7 1119.7h0M1219.4 1117.4h0M1220.2 1117.2h0M1222.6 1117.6h0M1223.3 1117.9h0M1224.3 1121.3h0M1213.8 1069.9h0M1215.5 1069.6h0M1217.3 1071h0M1217.3 1069.5h0M1219.4 1070.9h0M1220.4 1070.8h0M1221 1070.3h0M1220.5 1067.9h0M1222.1 1070.7h0M1209.3 1112.1h0M1211.5 1109.7h0M1211.6 1110h0M1212.6 1110.9h0M1213 1109.6h0M1214.4 1112.4h0M1215 1109.3h0M1216.1 1111.8h0M1216.7 1112.9h0M1218.1 1112.1h0M1220.2 1109.7h0M1220.3 1111.3h0M1221 1109.4h0M1222.8 1110.4h0M1223.7 1110.9h0M1224 1109.6h0M1224.1 1109.4h0M1226.7 1108.9h0M1227.6 1111.3h0M1212.1 1086.1h0M1212.2 1084.5h0M1213.9 1086h0M1213.5 1085.9h0M1215.3 1086.7h0M1215.9 1086.4h0M1216.5 1084.1h0M1218.3 1084.5h0M1218.7 1086.5h0M1219.5 1086.3h0M1221 1085.6h0M1220.6 1087.1h0M1221.3 1086.6h0M1223 1086.3h0M1224.8 1086.1h0M1224.6 1086h0M1225.9 1084.1h0M1217.6 1026.6h0M1218.5 1027.6h0M1219.1 1026.3h0M1219.9 1025h0M1219.5 1025.2h0M1214.1 1105.3h0M1214.3 1105.3h0M1214.7 1106.3h0M1215.1 1108.1h0M1217 1105h0M1218 1107.5h0M1218.3 1108h0M1219.5 1107.7h0M1220 1106.3h0M1221.3 1105.5h0M1221 1105.9h0M1223.8 1107.7h0M1223.2 1106h0M1213.9 1079h0M1215.5 1076.5h0M1216.5 1078.3h0M1216.9 1079.4h0M1219.1 1077.8h0M1218.5 1077.4h0M1219.3 1076.5h0M1221.6 1076.6h0M1220.8 1078.4h0M1222.1 1076.2h0M1215.3 1115h0M1216.7 1113.7h0M1216.2 1113.9h0M1217.4 1115.2h0M1218.8 1113h0M1219.3 1116.6h0M1220.7 1113.8h0M1222.6 1115.8h0M1216.9 1032.6h0M1218.8 1029.1h0M1218.2 1009.8h0M1219 1010.7h0M1216 1133.1h0M1216.8 1134h0M1218 1131.6h0M1218.9 1131.4h0M1218.8 1134.1h0M1218.1 1135.4h0M1218.2 1037.8h0M1218.7 1039.5h0M1218.4 1021.3h0M1220 1024.7h0M1218.9 1018.2h0M1218.5 1019.4h0M1218.8 1016.3h0M1223.3 990h0M1223 990.1h0M1215.1 988.7h0M1223 988.9h0M1220.5 987.3h0M1216.3 986h0M1219.5 986.5h0M1216.3 985.5h0M1217 983.1h0M1216.1 982h0M1248.1 1008h0M1245.6 1139.7h0M1247.5 1138.4h0M1244.1 1024.8h0M1246.8 1025.6h0M1246.6 1025.7h0M1248.8 1025.3h0M1250 1026.4h0M1241.6 1094.3h0M1242 1094.4h0M1243.2 1094.1h0M1245.2 1093.3h0M1244.6 1093.3h0M1246 1096.1h0M1246.1 1093h0M1247.9 1093.4h0M1248.5 1092.4h0M1248.7 1092.7h0M1251.5 1092.4h0M1251.7 1095h0M1252.3 1095h0M1241.9 1046.5h0M1243.2 1047.7h0M1244.8 1048.8h0M1246.1 1049.8h0M1245.1 1049.1h0M1247.7 1047.5h0M1247.5 1050h0M1249.4 1047.3h0M1249.9 1046.6h0M1249.7 1050h0M1250.9 1046.5h0M1237.5 1098.2h0M1238.5 1100.2h0M1239.8 1100h0M1240.7 1098.4h0M1242 1098.6h0M1242.8 1098.7h0M1242.8 1099.6h0M1244.5 1098.4h0M1245 1098.8h0M1245.6 1100.2h0M1245.3 1099.5h0M1247.1 1100.3h0M1248 1099.9h0M1248.1 1097.5h0M1250.6 1099.6h0M1249.3 1098.5h0M1251.3 1099.4h0M1251.1 1100.1h0M1254 1097.7h0M1253.7 1098.4h0M1254.7 1099.3h0M1254.9 1097.4h0M1255.8 1099h0M1239.6 1113.9h0M1241.7 1113.5h0M1242.4 1117h0M1241.8 1115.6h0M1244.1 1115.7h0M1244.5 1113.9h0M1244.1 1117h0M1245.5 1114.3h0M1247.7 1115.4h0M1247.8 1116h0M1249 1115.5h0M1249.8 1114h0M1249.7 1116.4h0M1251 1115.5h0M1250.6 1113.8h0M1253.3 1113.9h0M1252.7 1116h0M1254.6 1115h0M1243.8 1074.3h0M1245.2 1073.8h0M1245.2 1072.7h0M1245.2 1074.6h0M1247.3 1071.6h0M1247.4 1074.4h0M1249.4 1072.6h0M1248.8 1072h0M1250.7 1074.1h0M1243.8 1117.6h0M1245.1 1120.7h0M1246.7 1121h0M1246 1120.8h0M1246.6 1117.5h0M1248.8 1120.2h0M1248.7 1121.4h0M1248.8 1119.6h0M1243.1 1058.1h0M1242.6 1054.7h0M1243.3 1058.4h0M1243.8 1055.8h0M1246.6 1056.3h0M1245.5 1055.1h0M1248 1057.2h0M1248.7 1055h0M1249 1057.6h0M1249.3 1055.9h0M1251.6 1054.8h0M1252.4 1057.4h0M1241.1 1081.5h0M1243 1079.8h0M1242.9 1080.5h0M1244.3 1082h0M1244.7 1080.3h0M1244.5 1081.6h0M1246.3 1081.8h0M1247.9 1081.1h0M1248.9 1081h0M1247.9 1082.2h0M1250.1 1083.4h0M1250.5 1081.6h0M1251.6 1082.2h0M1251.9 1080.6h0M1253.9 1082.9h0M1240.7 1067.5h0M1242.4 1066.9h0M1242.4 1070.7h0M1243.4 1069.5h0M1244.7 1070h0M1246.3 1069.2h0M1246 1068.3h0M1246 1066.8h0M1247.3 1068.2h0M1248.2 1068.2h0M1250.7 1070.7h0M1250.2 1070.8h0M1250.7 1067.6h0M1251.9 1067.2h0M1251.8 1068.4h0M1240.8 1090.2h0M1241.8 1091h0M1241.5 1089h0M1242.4 1089.5h0M1244.4 1091.9h0M1243.7 1088.5h0M1244.5 1088.1h0M1247.2 1089.8h0M1246.4 1091.2h0M1249.1 1089.3h0M1248.7 1089.6h0M1250.1 1089.9h0M1250.9 1089.9h0M1252.8 1090.7h0M1252.8 1088.3h0M1252.6 1089.7h0M1243.4 1062.3h0M1242.9 1060.2h0M1245.5 1059.4h0M1244.8 1062h0M1245.8 1060.1h0M1246.9 1060h0M1248.2 1059h0M1248.3 1061.7h0M1248.8 1059.4h0M1250 1061h0M1252.1 1058.7h0M1236.6 1105h0M1238.5 1107.7h0M1237.9 1107h0M1238.7 1105.7h0M1240.8 1105.5h0M1240.4 1106.2h0M1243 1107.7h0M1243.6 1108h0M1243.8 1106.3h0M1244.4 1108.4h0M1244.4 1106.2h0M1246.1 1104.6h0M1247.6 1105.7h0M1247.2 1108.2h0M1249.3 1105.1h0M1248.9 1107.5h0M1249.3 1105.2h0M1252.3 1105.1h0M1252.9 1107.1h0M1253.6 1105.3h0M1254.6 1106.7h0M1255.6 1104.8h0M1255.3 1105.7h0M1256.2 1107h0M1257.3 1105.4h0M1242 1085.8h0M1242.9 1086.3h0M1243 1087.3h0M1243.9 1086.1h0M1246.8 1085.6h0M1246.8 1087h0M1248 1085h0M1248.9 1087.1h0M1249 1085h0M1249.5 1083.6h0M1251.6 1086.8h0M1251.9 1087.6h0M1245.4 1013.7h0M1244.9 1013.7h0M1245.6 1016.1h0M1247.1 1014.4h0M1248.3 1015.5h0M1249.9 1012.5h0M1240.2 1101.3h0M1240.9 1103.5h0M1242.7 1100.7h0M1242.6 1104.4h0M1245 1103.6h0M1246 1102h0M1246.2 1100.4h0M1246.1 1101.3h0M1247.3 1102.5h0M1249.1 1102.8h0M1249.5 1103.6h0M1250.6 1101h0M1250.3 1101.3h0M1251.1 1101.5h0M1253.4 1101.9h0M1244.8 1030.7h0M1246.8 1029.8h0M1247.1 1033.2h0M1246.3 1033h0M1248.5 1030.9h0M1248.7 1032.9h0M1241.4 1076.7h0M1242.7 1076.9h0M1242.1 1076.5h0M1245.2 1077.2h0M1245.1 1078.2h0M1245.7 1078.6h0M1246.5 1079h0M1248 1076h0M1248.3 1076.1h0M1248.4 1078.5h0M1249.6 1075.3h0M1252 1078.1h0M1252.9 1079.3h0M1252.8 1076.9h0M1240.7 1108.8h0M1240.2 1110.3h0M1241 1112.1h0M1241.9 1109.8h0M1244.1 1108.9h0M1245 1110.7h0M1245.2 1109.9h0M1244.6 1109.7h0M1246 1112.4h0M1247.3 1109.5h0M1248.8 1110h0M1250.2 1109.5h0M1250.8 1110.5h0M1251 1112.1h0M1251.8 1109h0M1253.3 1108.8h0M1252.5 1111.2h0M1253.8 1110.8h0M1242.9 1064h0M1244.8 1064.3h0M1245.2 1063.7h0M1246 1064.4h0M1247.9 1064.4h0M1248.9 1062.7h0M1249.7 1063.4h0M1249.5 1063.2h0M1249.9 1065.5h0M1244.1 1043.3h0M1246 1043.8h0M1246.5 1041.7h0M1247.6 1043.1h0M1248.3 1043.7h0M1249.2 1044.4h0M1243 1053.3h0M1244.8 1054.2h0M1246.1 1054.2h0M1247.5 1051.6h0M1246.9 1051.9h0M1248.6 1053.2h0M1249.5 1052.1h0M1249.9 1053.3h0M1246.5 1024.3h0M1247.9 1023.7h0M1247 1024.5h0M1245.2 1040.4h0M1244.7 1038.1h0M1245.4 1037.9h0M1248.2 1038.8h0M1247.1 1039.2h0M1248.6 1037.8h0M1247.4 1017.6h0M1245.3 1127.7h0M1246.8 1127.7h0M1247.3 1129.6h0M1247.3 1126h0M1247.8 1129.4h0M1243.8 1124.4h0M1245.3 1121.9h0M1246.1 1123.1h0M1248.6 1124.6h0M1248.1 1121.7h0M1249.8 1122.7h0M1246 1034.8h0M1246.4 1033.6h0M1247 1035.9h0M1247.3 1034.8h0M1248 1037.1h0M1249.4 1036.9h0M1245.4 1130.1h0M1247.7 1130.1h0M1245.9 1134.5h0M1246.3 1137.2h0M1247.8 1136.5h0M1250.2 990.3h0M1246.3 990.4h0M1249.4 988.6h0M1250.4 989h0M1244.2 987.5h0M1244.2 987.4h0M1249 985.1h0M1248.8 984h0M1246.4 984.2h0M1247.7 983h0M1275.8 1007h0M1275 1007h0M1277 1007h0M1274.9 1133.6h0M1273.1 1113.1h0M1273.4 1115.1h0M1273.6 1116.9h0M1275.7 1113.9h0M1276 1113.2h0M1275.9 1117.1h0M1278 1116.1h0M1277.8 1114.4h0M1278.4 1115.2h0M1267.1 1082.6h0M1268.7 1082.4h0M1269 1083.4h0M1268.9 1082.5h0M1270.4 1082.4h0M1272.1 1083.5h0M1273.5 1083.3h0M1272.3 1081.8h0M1274.4 1082.1h0M1274.1 1080.7h0M1275.4 1079.4h0M1276.3 1082.2h0M1276.8 1081h0M1278.1 1080.5h0M1280.4 1081.2h0M1279.8 1081.4h0M1281 1082.6h0M1282 1083h0M1283.5 1079.9h0M1284.9 1081.9h0M1274 1054h0M1273.8 1050.6h0M1275.9 1050.8h0M1276 1051.9h0M1277.7 1050.1h0M1277.3 1051.7h0M1271.6 1098.5h0M1272.4 1096.7h0M1272.6 1100.1h0M1273.1 1097.8h0M1275.9 1097.7h0M1275.4 1099.2h0M1276.2 1098.4h0M1277.8 1097.9h0M1277.6 1098.3h0M1278.5 1098.8h0M1279.6 1099.5h0M1265 1107.8h0M1267.4 1107.2h0M1267 1105.9h0M1268.6 1105.5h0M1269 1105.5h0M1270.1 1104.9h0M1271.2 1106.4h0M1272.4 1105.1h0M1271.5 1107.5h0M1273.6 1108h0M1274.8 1107.5h0M1274.8 1105.8h0M1275.4 1107.5h0M1276.8 1107h0M1278.7 1108.6h0M1278.7 1108.8h0M1278.9 1108.2h0M1281.2 1106.2h0M1282.4 1106.1h0M1280.9 1104.8h0M1283.1 1106.4h0M1283.3 1108.7h0M1283.7 1105.8h0M1284.8 1105.2h0M1271 1044.6h0M1272 1043.4h0M1273.5 1044.9h0M1275.9 1043.3h0M1275.5 1042.4h0M1277.2 1043.6h0M1276.5 1045.2h0M1277.2 1043.5h0M1278.6 1042.3h0M1266.3 1101.9h0M1266.4 1101.1h0M1268.4 1104.5h0M1267.5 1101.3h0M1267.8 1100.5h0M1269 1102.6h0M1270.3 1101.8h0M1272.3 1104.1h0M1273.1 1103.3h0M1272 1102.5h0M1273.4 1100.5h0M1275.5 1101.5h0M1274.5 1101.1h0M1277.2 1104.1h0M1276.3 1103.3h0M1278.2 1103.8h0M1278 1102.6h0M1279.4 1103.5h0M1280.1 1101.5h0M1282.2 1103h0M1281.3 1101.7h0M1282.5 1100.8h0M1284 1103.3h0M1283.8 1103.4h0M1284.5 1100.8h0M1274 1024h0M1273.3 1020.6h0M1275.5 1020.6h0M1277.1 1023.4h0M1277.6 1024h0M1278.2 1024.2h0M1271.6 1066.3h0M1271.6 1065.7h0M1273.7 1064.2h0M1273.4 1064.3h0M1275 1062.8h0M1276 1065h0M1276 1066.4h0M1277.4 1066.1h0M1278.3 1063.6h0M1278.8 1063.3h0M1279.6 1064.1h0M1279.2 1066.2h0M1268.5 1095.5h0M1271.2 1096.2h0M1270.1 1094.5h0M1272.3 1096.1h0M1273.3 1093.8h0M1273.4 1095.8h0M1275.5 1092.7h0M1275.8 1096h0M1275.3 1094.4h0M1276.3 1092.5h0M1277.3 1094.3h0M1278.6 1092.6h0M1279.1 1092.9h0M1281.6 1092.7h0M1281.7 1092.6h0M1272.8 1041.4h0M1275.5 1038.5h0M1274.6 1038.4h0M1275.6 1037.5h0M1276.8 1037.9h0M1277.6 1041.1h0M1268.8 1110.7h0M1269.4 1110.9h0M1269.5 1109.9h0M1270.3 1110.3h0M1271.3 1110h0M1271.9 1109.1h0M1273.6 1112.9h0M1274.7 1109.3h0M1276.4 1112.4h0M1275.3 1112.3h0M1277.8 1109.8h0M1278.7 1109.5h0M1280 1112.7h0M1281 1109.7h0M1280.3 1110.9h0M1280.9 1110.7h0M1283.6 1111.9h0M1274 1030.1h0M1274.5 1031h0M1275.2 1030.5h0M1276.6 1032.7h0M1277.2 1032.8h0M1278.8 1032.8h0M1272.8 1015h0M1274.7 1015.2h0M1275 1014h0M1276.9 1016.1h0M1276.3 1013.9h0M1272.6 1056.6h0M1273.8 1054.4h0M1273.2 1057.6h0M1275.7 1057.2h0M1276.1 1057.7h0M1275.9 1055.4h0M1277.4 1056.1h0M1278.6 1055.7h0M1278.9 1057.8h0M1273.1 1060.8h0M1274.2 1061.2h0M1274 1059h0M1275.4 1060.6h0M1276 1061.7h0M1276.5 1059.8h0M1276.7 1060.9h0M1278.1 1062.6h0M1280.1 1061.8h0M1275.5 1017.2h0M1275.7 1019.5h0M1277.4 1017.7h0M1267.6 1084.9h0M1269.5 1087.8h0M1270.4 1087.7h0M1270.6 1084.5h0M1271.8 1086.5h0M1272.8 1084.3h0M1273.6 1087.6h0M1274.7 1084.8h0M1276.4 1086.6h0M1275.3 1087.5h0M1277.5 1085.5h0M1277.2 1087.2h0M1279.2 1085.7h0M1278.5 1087.4h0M1281.2 1087h0M1280.2 1084.2h0M1283.1 1087.2h0M1283.2 1085h0M1268.7 1066.9h0M1270.3 1070.8h0M1269.4 1068.1h0M1270.5 1070.7h0M1271.2 1069.7h0M1272 1069.4h0M1273.6 1070.9h0M1274.5 1067.8h0M1276.6 1069.8h0M1275.4 1067.2h0M1276.5 1068.1h0M1277.2 1069.9h0M1279.4 1067.7h0M1279.6 1069.7h0M1280.2 1069.8h0M1282.5 1069.5h0M1282.8 1068.9h0M1268.8 1071.6h0M1269.6 1074.5h0M1272 1073.4h0M1273.2 1072.8h0M1274 1071.6h0M1274 1073.9h0M1274.8 1074.1h0M1274.6 1071.8h0M1276.2 1071.3h0M1276.6 1073.6h0M1277.9 1071.7h0M1279.3 1071.9h0M1279.6 1072.8h0M1281.8 1072.7h0M1282.4 1073h0M1270.3 1076.5h0M1272.4 1077.9h0M1272 1078.5h0M1273.7 1079.1h0M1275.9 1078.9h0M1276.1 1078.4h0M1276.3 1075.6h0M1276.8 1076.2h0M1278.1 1078.6h0M1278.6 1075.4h0M1281 1079.4h0M1273.9 1124.3h0M1274.3 1123.7h0M1274.3 1123h0M1275.2 1121.4h0M1275.3 1121.5h0M1277.2 1122.4h0M1277.2 1121.8h0M1273.2 1119.1h0M1275.1 1117.5h0M1274.9 1117.6h0M1277.6 1117.6h0M1272.6 1048h0M1272.9 1047.6h0M1272.8 1048.5h0M1275.9 1047.7h0M1275.4 1049.6h0M1276.7 1045.9h0M1276.8 1046.2h0M1279.3 1048.7h0M1278.6 1049.6h0M1274.8 1009.1h0M1275.3 1011.1h0M1276.5 1011.5h0M1274.6 1126.1h0M1274.1 1128.5h0M1275.6 1127.2h0M1276.7 1126.9h0M1277.2 1126h0M1269.8 1088.6h0M1269.2 1088.3h0M1269.8 1088.8h0M1272 1089.9h0M1271.6 1090h0M1272.4 1090.3h0M1275.1 1089.3h0M1275 1090.8h0M1275.2 1088.7h0M1276.6 1091.6h0M1277 1089.6h0M1279.2 1089.7h0M1280.1 1090.7h0M1281.2 1090.6h0M1280 1090.1h0M1282 1089h0M1273.5 1036.3h0M1275.8 1037.2h0M1275.8 1035.9h0M1277.3 1036.6h0M1276.3 1035h0M1275.1 1027.2h0M1275.7 1028.8h0M1277.2 1024.8h0M1276.9 1028.3h0M1272.6 990.4h0M1271.1 989h0M1272.2 988.5h0M1277.6 988.5h0M1272.8 986.9h0M1278.6 987h0M1276.5 985.9h0M1276.1 985h0M1272.7 984.2h0M1275.9 982.6h0M1302.9 1007h0M1305.2 1007.2h0M1305.1 1135h0M1301.1 1038.9h0M1301 1037.5h0M1303.8 1038.6h0M1305.6 1040.7h0M1306.4 1041.6h0M1308 1037.5h0M1299.7 1096.1h0M1301.1 1094.8h0M1303.9 1093.6h0M1304.6 1095.3h0M1306.5 1092.8h0M1307.1 1093.6h0M1308.8 1092h0M1298.5 1030.3h0M1300.2 1032.8h0M1302 1032.3h0M1303.7 1032.6h0M1305.6 1033h0M1306.7 1032.1h0M1309.6 1031.5h0M1297.7 1059.4h0M1299.8 1061.7h0M1302.3 1060h0M1304.5 1060.2h0M1304.9 1061.5h0M1305.4 1061.6h0M1307.6 1062h0M1310.7 1059.2h0M1295.4 1050.7h0M1297.4 1050.5h0M1299.2 1051.5h0M1299.3 1052.2h0M1300.8 1051.1h0M1302.4 1053.8h0M1303.2 1054.1h0M1304.6 1050.9h0M1308.2 1051.1h0M1309.6 1051.4h0M1310.2 1053.6h0M1312.8 1050.6h0M1312.3 1050.9h0M1301.5 1082.2h0M1301.2 1079.7h0M1304.5 1079.8h0M1306.1 1082.9h0M1305.6 1083.5h0M1307.1 1080.4h0M1297.6 1073.1h0M1298.7 1073.6h0M1299.3 1075.1h0M1302.1 1073.2h0M1303.1 1072.8h0M1306 1074.2h0M1305.7 1074.5h0M1308.7 1072.8h0M1310.4 1075.1h0M1310.6 1073.9h0M1302.5 1023.4h0M1303 1020.9h0M1304.7 1023h0M1307.5 1022.7h0M1300.5 1065.2h0M1302.3 1063.6h0M1303 1064.7h0M1305.2 1064.5h0M1305.4 1063.5h0M1306.1 1066.6h0M1307.9 1064.7h0M1300.7 1090.2h0M1301.1 1089.6h0M1301.5 1090.9h0M1303.4 1091.5h0M1305.5 1091.9h0M1308.4 1089.5h0M1307.7 1088.8h0M1303.1 1107.4h0M1304.3 1108.3h0M1298.4 1017.8h0M1299.6 1018.8h0M1303.1 1017.3h0M1304.5 1019.3h0M1303.8 1017h0M1307.6 1017.9h0M1309 1018.7h0M1309.4 1018.1h0M1295.6 1037h0M1298.1 1037.1h0M1298.8 1036.2h0M1300.9 1035.1h0M1302.4 1036.2h0M1304.1 1033.8h0M1305.5 1037.3h0M1306.8 1035.3h0M1306.9 1036.1h0M1310.8 1035.3h0M1311.7 1036.9h0M1313 1035.9h0M1296.5 1055.5h0M1299.2 1056.8h0M1298.4 1054.9h0M1301 1056h0M1303.3 1057.5h0M1305 1054.6h0M1306.7 1058.1h0M1307.8 1057.4h0M1308.7 1058h0M1309.2 1058h0M1311.5 1054.5h0M1294.6 1076.3h0M1295.5 1078h0M1298.2 1075.8h0M1298.6 1079h0M1299.5 1078.9h0M1301.9 1075.7h0M1302.7 1078h0M1305.1 1075.3h0M1306.6 1076.3h0M1307.1 1078.2h0M1309.9 1079h0M1311.7 1078.4h0M1312.7 1076.2h0M1313.5 1077.7h0M1297.7 1067.4h0M1300.8 1070.6h0M1301.2 1070.2h0M1302.8 1070.9h0M1304.9 1069.1h0M1306.8 1068.8h0M1309.1 1067.6h0M1309.6 1068.4h0M1299.3 1009.2h0M1301.1 1008.7h0M1302.8 1008.2h0M1303.9 1010.2h0M1305.5 1010.6h0M1307.3 1008.4h0M1308.7 1010.8h0M1310 1011.7h0M1299.4 1015.9h0M1301.3 1012.7h0M1302.6 1013.7h0M1303.8 1016.1h0M1305.8 1014.9h0M1305.4 1013.3h0M1308 1014.4h0M1310.2 1015.1h0M1298.9 1083.7h0M1300.4 1085.9h0M1302.6 1087.6h0M1304.6 1084.4h0M1305 1085.7h0M1307.9 1084h0M1309.7 1086h0M1303.7 1115h0M1306.1 1116.8h0M1299.2 1046.3h0M1301.4 1047.9h0M1301.6 1046.5h0M1304.2 1048.6h0M1305.2 1046.9h0M1306.6 1049.2h0M1308.8 1048.9h0M1310.1 1048.9h0M1302.1 1103.4h0M1303.3 1101.2h0M1303.9 1102.4h0M1307.1 1102.4h0M1301.2 1100.3h0M1301.6 1097.8h0M1304.4 1097h0M1305.1 1097.3h0M1306.8 1099h0M1306.9 1098.8h0M1303.1 1026.7h0M1306.2 1025.9h0M1296.7 1042.6h0M1298.8 1042.1h0M1300.7 1041.6h0M1300.7 1045.4h0M1302.6 1044h0M1305.4 1042.8h0M1305.3 1044h0M1307.2 1043.5h0M1309.7 1042.5h0M1311.8 1043.1h0M1305.3 1120.9h0M1310.8 989.2h0M1304.9 989.6h0M1311.6 989.4h0M1304.1 988.4h0M1308.9 989.1h0M1307.7 988.1h0M1307 988.2h0M1306.9 987.4h0M1299.1 985.8h0M1308.1 984.9h0M1308.9 985.4h0M1309.5 983.9h0M1300.5 982.7h0M1303.1 982.5h0M1300.5 981.1h0M1301.1 980.1h0M1301.5 979.8h0M1303.8 978.8h0M1301.3 978.3h0M1303.5 976.5h0M1303.8 970h0M1333.2 1017h0M1331.4 1141.2h0M1334 1140.2h0M1326.1 1109.2h0M1326.4 1112.6h0M1325.9 1110.8h0M1327.4 1109.7h0M1329.2 1112.9h0M1330.2 1110.6h0M1329.2 1110.9h0M1330.7 1109.1h0M1331.1 1110.8h0M1332.6 1110.4h0M1333.5 1111.5h0M1333.5 1112.7h0M1333.7 1109.5h0M1335.5 1109.8h0M1337.4 1112.3h0M1338.5 1111.1h0M1338.5 1109.2h0M1339.1 1111.8h0M1339.5 1110.7h0M1341.1 1109.5h0M1323.4 1107.9h0M1325.4 1104.8h0M1324.7 1108.1h0M1327 1106.6h0M1326.5 1106.2h0M1328 1105.3h0M1328.3 1107.5h0M1330.8 1107h0M1329.9 1106.9h0M1330.6 1106.9h0M1331.4 1105.3h0M1334 1108.1h0M1334.2 1105.8h0M1335.3 1105.4h0M1336.3 1106.2h0M1335.7 1105.8h0M1336.8 1107h0M1338.1 1104.8h0M1338.7 1106.8h0M1340.6 1108.6h0M1340.8 1105.5h0M1341.6 1104.9h0M1324.8 1099.3h0M1327.3 1100.1h0M1326.2 1099.4h0M1327.6 1096.8h0M1328.4 1096.6h0M1329.4 1097.7h0M1330.3 1096.5h0M1330.4 1097.3h0M1330.9 1098.6h0M1334 1099.8h0M1333.1 1100h0M1334.1 1096.3h0M1335.6 1100.1h0M1336.6 1097.2h0M1337 1099.8h0M1338.6 1098.7h0M1338 1098.8h0M1339.2 1098.8h0M1340 1100.2h0M1329 1087.2h0M1329.2 1085.7h0M1329.9 1085.4h0M1332.3 1087h0M1332.3 1086.4h0M1333.3 1086.4h0M1333.4 1086.4h0M1334 1085.3h0M1335.5 1083.9h0M1335.7 1085.2h0M1330.5 1059.4h0M1330.8 1060h0M1332.9 1061.1h0M1331.8 1061.8h0M1332.9 1058.8h0M1335 1059.6h0M1335.2 1061.3h0M1328.4 1128.1h0M1329.8 1125.9h0M1331.3 1126.5h0M1330.1 1126.7h0M1331.1 1128.3h0M1333.3 1129.7h0M1332.5 1126.2h0M1333.4 1125.7h0M1335.6 1126.5h0M1336.1 1128.5h0M1336.8 1129.7h0M1328.4 1076.8h0M1330.4 1076.6h0M1332 1077.3h0M1332.9 1079.2h0M1332.9 1076.3h0M1332.7 1077.8h0M1335.5 1076.5h0M1336.1 1078.9h0M1336.9 1076.5h0M1326.4 1119.3h0M1326.2 1121.2h0M1328.2 1118.6h0M1328.2 1117.2h0M1329.2 1120.8h0M1331 1121.3h0M1330.9 1120.2h0M1330.9 1119.8h0M1331.3 1120.2h0M1332.5 1118.3h0M1334.1 1118.5h0M1335.2 1120.4h0M1335 1118h0M1335.8 1118.5h0M1336.9 1121.4h0M1339.3 1119.6h0M1340.1 1118.4h0M1339.3 1117.4h0M1329.8 1064.9h0M1331.2 1064.8h0M1331.4 1065.2h0M1332.6 1063.4h0M1332.1 1065.3h0M1334.4 1062.9h0M1335.8 1063.5h0M1335.2 1064.7h0M1323.1 1123.5h0M1324.7 1124.8h0M1325.3 1121.8h0M1326.1 1122.3h0M1327.5 1123.5h0M1327.9 1121.8h0M1329.9 1122.9h0M1330.9 1123.6h0M1331.1 1125.6h0M1331.5 1122.2h0M1333.1 1123.9h0M1332.9 1124.6h0M1333.6 1121.6h0M1334.5 1125.5h0M1334.8 1122.6h0M1336.5 1123.1h0M1336.6 1124.6h0M1339.2 1124.7h0M1339.6 1122.5h0M1339 1123.2h0M1339.7 1121.7h0M1342.4 1121.5h0M1329.3 1072.7h0M1329.7 1071.3h0M1331.5 1071.3h0M1330.1 1073.3h0M1330.9 1072.9h0M1332 1074h0M1334 1072.6h0M1334.9 1073.6h0M1336.4 1073h0M1335.4 1073.5h0M1337.9 1073.7h0M1328.5 1081.9h0M1329.3 1080.4h0M1330.3 1079.7h0M1331.2 1079.5h0M1331.2 1079.6h0M1332 1082.6h0M1333 1083.4h0M1334.7 1082.9h0M1336.4 1082.1h0M1337.2 1079.8h0M1330.6 1132.9h0M1330.3 1133.4h0M1331.3 1131.5h0M1332.1 1132.5h0M1334.5 1129.9h0M1334.1 1133.8h0M1334.5 1132.1h0M1322.1 1114.9h0M1323.6 1114.8h0M1323.3 1115.6h0M1324.2 1116.5h0M1326 1116.1h0M1327.8 1114.9h0M1328.5 1114.5h0M1328.5 1115.6h0M1330.3 1114h0M1331 1113.7h0M1330.9 1113.3h0M1331.9 1114.9h0M1331.5 1114.1h0M1333.3 1113.7h0M1333.1 1115.4h0M1333.9 1113.8h0M1336.8 1115h0M1337.5 1115.4h0M1337.7 1116.1h0M1337.5 1116.5h0M1338 1113.7h0M1339.8 1116.7h0M1341.7 1113h0M1340.4 1114h0M1340.9 1115.8h0M1344 1114.1h0M1327.2 1102.3h0M1326.6 1100.5h0M1328.2 1103.1h0M1328.5 1102.2h0M1331.1 1102.7h0M1329.6 1101.3h0M1332 1101.6h0M1331.3 1102.4h0M1332.1 1100.8h0M1333.3 1104.6h0M1334.4 1104.4h0M1334.8 1100.8h0M1336.7 1100.6h0M1336.3 1102.9h0M1338 1100.5h0M1339.4 1103.4h0M1326.8 1092.1h0M1326.9 1093.6h0M1328.8 1095.1h0M1329.3 1094.4h0M1329.2 1094.8h0M1331.4 1093.6h0M1331.9 1093.6h0M1332.2 1094.2h0M1333.3 1093.6h0M1333.4 1092.9h0M1336 1093.1h0M1334.6 1092.6h0M1337.5 1092h0M1337.4 1095.2h0M1337.8 1095.7h0M1340.2 1096.2h0M1330.9 1041.8h0M1333.5 1044.6h0M1333.2 1042.6h0M1330.9 1055.5h0M1332.6 1056.9h0M1333.2 1056h0M1333.2 1057.1h0M1330.4 1135.1h0M1331.8 1136.2h0M1333.5 1134.1h0M1333.1 1135.9h0M1334 1136.3h0M1332.1 1027.5h0M1333.2 1027h0M1328.9 1089.4h0M1328.9 1089.6h0M1329.2 1090.2h0M1332.3 1091.7h0M1330.8 1089.3h0M1331.8 1089.4h0M1332.8 1089.9h0M1333.8 1090.1h0M1336.2 1091.7h0M1334.9 1089.9h0M1336.5 1088.4h0M1331.3 1067.8h0M1331.5 1066.9h0M1334 1067.8h0M1333.6 1068.9h0M1332.2 1036.1h0M1331.6 1032h0M1333 1039h0M1333.3 1038.4h0M1333.1 1049.2h0M1332.4 1053.6h0M1330.9 989.7h0M1333.6 989.1h0M1335.9 987.5h0M1332.1 986.9h0M1334.3 984.8h0M1333.4 971h0M1362.2 1008h0M1360.3 1143.7h0M1356.2 1103.4h0M1356.8 1102.3h0M1358.4 1101.3h0M1358.2 1102.1h0M1360.1 1102.6h0M1360.9 1100.9h0M1362.2 1104.2h0M1362.5 1101.4h0M1362.7 1100.9h0M1363.9 1103.5h0M1364 1103.2h0M1364.4 1102.3h0M1366.6 1103.3h0M1367 1101.9h0M1354.7 1079.7h0M1355.2 1082h0M1358.3 1081.3h0M1358.4 1079.6h0M1358.6 1079.9h0M1360.5 1083h0M1361 1079.6h0M1361 1080h0M1362.7 1080.8h0M1363.3 1082.9h0M1362.8 1080.4h0M1364 1082.9h0M1366.3 1082.4h0M1365.6 1080.8h0M1367.3 1082.5h0M1354.9 1118.7h0M1353.9 1118.7h0M1355.5 1120.6h0M1357.3 1119.8h0M1358 1118.6h0M1356.9 1117.9h0M1358.1 1118.9h0M1359.3 1117.5h0M1359.4 1120.3h0M1360.2 1120.3h0M1361.8 1118.6h0M1362.4 1118.7h0M1363 1119.5h0M1365 1120.3h0M1364.8 1117.6h0M1367.5 1117.7h0M1366.8 1118.1h0M1367.1 1121.3h0M1370 1118h0M1351.8 1106.2h0M1351.5 1108.3h0M1353.6 1108.8h0M1354.3 1108h0M1355.2 1105.2h0M1355.8 1106.7h0M1355.2 1106h0M1358 1108.8h0M1357.9 1104.8h0M1357.7 1106.6h0M1358.5 1107.9h0M1361.1 1108.4h0M1361.4 1108.1h0M1361.5 1108.2h0M1362.8 1107.2h0M1362.3 1108.5h0M1364.3 1107.4h0M1364.4 1105.2h0M1366.3 1106.6h0M1367.7 1106.6h0M1367.3 1106h0M1367.1 1105.6h0M1368.5 1105.9h0M1370.9 1107.2h0M1369.7 1107.5h0M1371.9 1106.8h0M1354.9 1109.4h0M1354.4 1110.6h0M1356.7 1110.9h0M1355.5 1112.8h0M1356.3 1111.1h0M1357.6 1111.6h0M1359.8 1108.8h0M1360.8 1108.8h0M1360.2 1110.3h0M1362.3 1112.7h0M1361.9 1110.7h0M1361.9 1110.6h0M1362.7 1110.6h0M1365.8 1110h0M1365.2 1109.8h0M1365.2 1109.9h0M1367.6 1110.4h0M1368 1109.3h0M1368.5 1109.5h0M1358 1128.4h0M1357 1129.3h0M1358.9 1127.8h0M1358.4 1128.5h0M1359.1 1126.9h0M1360 1127.5h0M1361.1 1129.2h0M1363.8 1129.1h0M1364.1 1128.6h0M1364.2 1125.9h0M1364 1126.8h0M1365.4 1129.7h0M1361.2 1056h0M1362.8 1055.3h0M1354.3 1097.8h0M1353.5 1098h0M1354.9 1098.1h0M1355.5 1097.8h0M1356.7 1097.6h0M1356.6 1100.2h0M1358.6 1096.9h0M1358.5 1098.6h0M1359.3 1098.2h0M1360.8 1098.5h0M1361.2 1097.4h0M1362.2 1096.8h0M1364.5 1099.6h0M1364.3 1097.1h0M1365.8 1098.2h0M1365.9 1098.9h0M1366.4 1098h0M1366.7 1096.3h0M1369.6 1097.1h0M1369.8 1098.6h0M1361.1 1053.6h0M1361.2 1053.3h0M1355.5 1084.3h0M1357.4 1087.3h0M1358.1 1087.4h0M1357.7 1087.2h0M1358.7 1084.3h0M1359.2 1086.4h0M1360.5 1084.1h0M1362.3 1085.4h0M1363.1 1086.4h0M1363.8 1084.6h0M1364.4 1087.7h0M1364.2 1087.1h0M1366.7 1085h0M1366.5 1087.1h0M1361.1 1040.2h0M1360.1 1038.8h0M1362.5 1039.3h0M1362 1041.1h0M1353.3 1113.6h0M1355 1113.7h0M1354.9 1116h0M1354.8 1115.5h0M1356.4 1114.6h0M1356.2 1115.4h0M1357.3 1115.4h0M1360 1113.1h0M1358.6 1116.7h0M1360.6 1116.7h0M1360.8 1115.4h0M1363.1 1114.9h0M1362.4 1116.1h0M1364.4 1116.1h0M1364.4 1116.3h0M1365.2 1116.7h0M1367.2 1115.7h0M1366.9 1116.7h0M1368.4 1114.6h0M1369.8 1116.7h0M1369.9 1113.6h0M1361.2 1048.3h0M1362.5 1047.3h0M1361.8 1048.8h0M1359.5 1031.4h0M1360.2 1031.7h0M1363.5 1029.3h0M1358.2 1130.9h0M1359.3 1130.5h0M1359.2 1131.8h0M1361.2 1131.8h0M1361.2 1133.4h0M1362 1130.8h0M1364.2 1133.3h0M1363.5 1130.3h0M1354.7 1095.8h0M1354.1 1095.7h0M1357.1 1093.5h0M1356.2 1093.2h0M1357.2 1092.3h0M1359.4 1094.8h0M1359.5 1092.2h0M1360.3 1094.1h0M1359.9 1092.1h0M1362.9 1093.5h0M1362.1 1094.6h0M1364 1093.1h0M1365 1093.7h0M1365.7 1093.5h0M1365.7 1093.6h0M1367.4 1095.8h0M1366.8 1092.6h0M1369.6 1093.4h0M1357.2 1091.4h0M1358.1 1088.7h0M1360 1090.8h0M1360.5 1089.2h0M1362.4 1091h0M1361.3 1091.9h0M1361.9 1091h0M1365 1090.6h0M1364.8 1091.9h0M1355.2 1123.4h0M1355.5 1121.5h0M1357.5 1124.1h0M1357 1122.8h0M1359.5 1122.5h0M1360.7 1125.5h0M1359.9 1124.4h0M1360.9 1125.2h0M1362.4 1122.1h0M1364 1123.5h0M1363.6 1122.3h0M1365.5 1121.7h0M1364.5 1124h0M1367.1 1123.9h0M1367.1 1122.4h0M1357.8 1071.1h0M1359.4 1071.7h0M1360.7 1073.2h0M1359.8 1072.6h0M1362.5 1075h0M1361.7 1071.3h0M1362.3 1071.5h0M1363.8 1073.9h0M1356.8 1078.7h0M1358 1077.5h0M1358.6 1079h0M1358.7 1077.8h0M1361.1 1077.4h0M1361.6 1075.5h0M1363 1075.8h0M1362.7 1078.1h0M1362.5 1077.4h0M1364.2 1075.7h0M1364.3 1076.5h0M1365.3 1078.9h0M1359.1 1035.7h0M1361.9 1035.8h0M1362.5 1033.5h0M1362.9 1033.4h0M1359.4 1070.4h0M1360.1 1070.2h0M1361.9 1068.7h0M1362.5 1069.1h0M1362.4 1067.3h0M1363.8 1070h0M1360.8 1135.7h0M1362.8 1136.5h0M1361.7 1063.7h0M1362.3 1065.8h0M1363.2 1066.8h0M1359.5 1060.3h0M1361.2 1061.1h0M1363.4 1062.6h0M1360.9 1011.8h0M1362.9 1010.4h0M1360.4 1138.3h0M1362.6 1140.6h0M1362.9 1140.6h0M1362.4 1026.5h0M1359.5 990h0M1363.5 989.8h0M1364.9 988.6h0M1359.3 987.2h0M1362.9 985.6h0M1362.2 983.9h0M1390.5 1001.8h0M1391.6 1001.8h0M1389.5 1135h0M1391 1135h0M1389.4 1132.8h0M1385.5 1114.5h0M1387.5 1114.3h0M1387.4 1116.7h0M1389 1116.1h0M1391.1 1114.6h0M1393 1113.3h0M1393.1 1116.2h0M1393.7 1114.4h0M1383.7 1068.7h0M1384.6 1069.5h0M1386.3 1067.2h0M1387.5 1069.6h0M1387.8 1069.4h0M1390.5 1068.9h0M1390.5 1068h0M1391.5 1068.8h0M1392.5 1068.7h0M1393.4 1070.7h0M1395.4 1067.5h0M1396.4 1070.3h0M1383.8 1086.6h0M1386.7 1084.1h0M1386.7 1087.3h0M1387.9 1085h0M1388.5 1085.5h0M1389.8 1087.4h0M1391 1086.6h0M1392.3 1085.4h0M1395.1 1084.6h0M1395.6 1087.7h0M1388.1 1122.5h0M1388.8 1122.2h0M1389 1122.6h0M1391.6 1123.5h0M1392 1121.7h0M1393.9 1123.9h0M1385.2 1057.4h0M1387.2 1057.6h0M1388.3 1057.4h0M1389.5 1054.5h0M1391.6 1055.1h0M1392 1056h0M1392.4 1054.3h0M1379.7 1107.1h0M1381 1107.6h0M1382 1105h0M1383.2 1108.7h0M1384.1 1107.9h0M1387 1107.8h0M1386.2 1107.4h0M1387.4 1106.2h0M1389.4 1106.8h0M1391.4 1106.2h0M1391.6 1107.4h0M1392.5 1104.8h0M1393.5 1106h0M1395.5 1107.5h0M1397.2 1107.1h0M1396.7 1105h0M1397.7 1108.4h0M1399.9 1106h0M1386.3 1043.6h0M1388.7 1043.9h0M1390 1042.8h0M1389.4 1044.7h0M1392.9 1044h0M1392.9 1042.7h0M1387.9 1117.6h0M1389.8 1119.9h0M1390.9 1117.9h0M1390.9 1117.2h0M1392.9 1119.6h0M1383.7 1098.8h0M1385.9 1096.4h0M1385.9 1097.7h0M1386.9 1098.2h0M1388.4 1100.3h0M1390.4 1097.4h0M1391.9 1098.7h0M1392.1 1098.3h0M1394.5 1099.9h0M1394.4 1097.6h0M1395.8 1100.3h0M1386.3 1094.3h0M1387 1095.1h0M1387.7 1093.9h0M1390.2 1096.2h0M1390.3 1093.3h0M1392.6 1095.8h0M1391.8 1092.4h0M1394.4 1094.5h0M1386 1051.8h0M1386.7 1052.6h0M1388.6 1050.7h0M1389.2 1051.6h0M1391.8 1052.3h0M1392.1 1050.2h0M1393.3 1050.7h0M1385.3 1063.5h0M1387.2 1063.6h0M1387.9 1065.9h0M1389.4 1066.3h0M1390.9 1066.2h0M1392.2 1065.2h0M1393.4 1064.5h0M1395.4 1065.2h0M1383.8 1088.7h0M1385.7 1091.8h0M1385.7 1088h0M1386.4 1089.7h0M1388.4 1089.7h0M1389.4 1088.8h0M1389.8 1091.8h0M1391 1088.4h0M1392.4 1091.5h0M1393.1 1091.4h0M1396.4 1088.2h0M1395.5 1090.3h0M1384.7 1080.8h0M1384.7 1083.6h0M1386.4 1083h0M1387.8 1081.4h0M1388.4 1083.5h0M1391.2 1081.4h0M1390.5 1082.9h0M1391.5 1082.2h0M1394.4 1079.7h0M1393.6 1080.8h0M1396.8 1082.9h0M1388.8 1025.4h0M1390.8 1027.3h0M1387.8 1125.9h0M1389 1125.7h0M1391.4 1127.1h0M1392.3 1127.5h0M1384.1 1061.8h0M1384.7 1059.5h0M1386 1061.3h0M1387.8 1059h0M1388.1 1061.2h0M1390 1059.5h0M1390.8 1060.4h0M1391.4 1060.4h0M1394 1061.9h0M1394.7 1060.1h0M1396 1058.7h0M1396.3 1062h0M1384.1 1072.3h0M1384.5 1074.2h0M1387.2 1072.5h0M1387.1 1071.7h0M1388.4 1072.1h0M1389.5 1074.2h0M1390.1 1073.5h0M1392.6 1072.9h0M1393.2 1071.1h0M1393.9 1073.9h0M1396.7 1073.9h0M1386.4 1102.9h0M1387.1 1103.1h0M1387.7 1104.5h0M1389.9 1103.2h0M1390.9 1104h0M1393.2 1102.1h0M1394.4 1102.9h0M1379.3 1078.4h0M1380.2 1076.8h0M1383.5 1075.4h0M1383.6 1076.5h0M1385.3 1076.2h0M1386.9 1079.1h0M1387.6 1075.3h0M1388.4 1077.4h0M1388.2 1078.7h0M1390.1 1076.5h0M1391 1078.7h0M1392.1 1078.6h0M1393 1076.2h0M1395.2 1076.2h0M1396.7 1078.2h0M1398.4 1077.3h0M1397.6 1077.9h0M1400.5 1079.3h0M1388.4 1038.7h0M1390.1 1037.5h0M1391.2 1040.4h0M1391.3 1038h0M1383.6 1109.3h0M1384.2 1109.2h0M1386.6 1109.4h0M1387.8 1111.7h0M1388.5 1109.2h0M1390.8 1112.9h0M1390.1 1111.8h0M1393.3 1109.4h0M1393.5 1110.4h0M1394.2 1112.3h0M1397.1 1112.9h0M1387.6 1011.3h0M1389.4 1011.7h0M1390.3 1011.4h0M1386.5 1049.5h0M1389.5 1049.9h0M1388.9 1047.6h0M1391.3 1045.9h0M1392.4 1045.8h0M1387.5 1023.6h0M1389.7 1021.7h0M1390.4 1023.1h0M1392.1 1023h0M1390.8 1017.9h0M1387.1 1033h0M1388.1 1029.4h0M1389.7 1032.3h0M1392 1032.1h0M1393.6 1031.7h0M1387.4 1034.3h0M1390.3 1034.6h0M1389.8 1036h0M1390.8 1034.7h0M1390.3 1006.6h0M1388.1 1012.9h0M1390 1013.2h0M1390.5 1015.4h0M1393.3 990.5h0M1393.6 990.4h0M1386.2 988.9h0M1392.4 988.4h0M1394.2 988.3h0M1388.8 987.6h0M1388.2 986.7h0M1390.1 985.8h0M1393.3 983.7h0M1387.9 982.6h0M1390.7 982.1h0M1390.2 967h0"/></defs>
<use href="#ed" fill="none" stroke="#B8170A" stroke-width="5.2" stroke-linecap="round"/>
<use href="#ed" fill="none" stroke="#E8260F" stroke-width="4" stroke-linecap="round"/>
<line x1="748.8" y1="1084.3" x2="772.8" y2="1084.3" stroke="#000" stroke-width="2"/>
<line x1="760.8" y1="1080.7" x2="760.8" y2="1087.9" stroke="#000" stroke-width="1.6"/>
<line x1="756.3" y1="1080.7" x2="765.3" y2="1080.7" stroke="#000" stroke-width="1.6"/>
<line x1="756.3" y1="1087.9" x2="765.3" y2="1087.9" stroke="#000" stroke-width="1.6"/>
<line x1="777.4" y1="1092.8" x2="801.4" y2="1092.8" stroke="#000" stroke-width="2"/>
<line x1="789.4" y1="1089.2" x2="789.4" y2="1096.4" stroke="#000" stroke-width="1.6"/>
<line x1="784.9" y1="1089.2" x2="793.9" y2="1089.2" stroke="#000" stroke-width="1.6"/>
<line x1="784.9" y1="1096.4" x2="793.9" y2="1096.4" stroke="#000" stroke-width="1.6"/>
<line x1="806" y1="1068.2" x2="830" y2="1068.2" stroke="#000" stroke-width="2"/>
<line x1="818" y1="1064.6" x2="818" y2="1071.8" stroke="#000" stroke-width="1.6"/>
<line x1="813.5" y1="1064.6" x2="822.5" y2="1064.6" stroke="#000" stroke-width="1.6"/>
<line x1="813.5" y1="1071.8" x2="822.5" y2="1071.8" stroke="#000" stroke-width="1.6"/>
<line x1="834.6" y1="1061" x2="858.6" y2="1061" stroke="#000" stroke-width="2"/>
<line x1="846.6" y1="1057.4" x2="846.6" y2="1064.6" stroke="#000" stroke-width="1.6"/>
<line x1="842.1" y1="1057.4" x2="851.1" y2="1057.4" stroke="#000" stroke-width="1.6"/>
<line x1="842.1" y1="1064.6" x2="851.1" y2="1064.6" stroke="#000" stroke-width="1.6"/>
<line x1="863.2" y1="1064" x2="887.2" y2="1064" stroke="#000" stroke-width="2"/>
<line x1="875.2" y1="1060.4" x2="875.2" y2="1067.6" stroke="#000" stroke-width="1.6"/>
<line x1="870.7" y1="1060.4" x2="879.7" y2="1060.4" stroke="#000" stroke-width="1.6"/>
<line x1="870.7" y1="1067.6" x2="879.7" y2="1067.6" stroke="#000" stroke-width="1.6"/>
<line x1="891.8" y1="1060.3" x2="915.8" y2="1060.3" stroke="#000" stroke-width="2"/>
<line x1="903.8" y1="1056.7" x2="903.8" y2="1063.9" stroke="#000" stroke-width="1.6"/>
<line x1="899.3" y1="1056.7" x2="908.3" y2="1056.7" stroke="#000" stroke-width="1.6"/>
<line x1="899.3" y1="1063.9" x2="908.3" y2="1063.9" stroke="#000" stroke-width="1.6"/>
<line x1="920.4" y1="1071" x2="944.4" y2="1071" stroke="#000" stroke-width="2"/>
<line x1="932.4" y1="1067.4" x2="932.4" y2="1074.6" stroke="#000" stroke-width="1.6"/>
<line x1="927.9" y1="1067.4" x2="936.9" y2="1067.4" stroke="#000" stroke-width="1.6"/>
<line x1="927.9" y1="1074.6" x2="936.9" y2="1074.6" stroke="#000" stroke-width="1.6"/>
<line x1="949" y1="1072.4" x2="973" y2="1072.4" stroke="#000" stroke-width="2"/>
<line x1="961" y1="1068.8" x2="961" y2="1076" stroke="#000" stroke-width="1.6"/>
<line x1="956.5" y1="1068.8" x2="965.5" y2="1068.8" stroke="#000" stroke-width="1.6"/>
<line x1="956.5" y1="1076" x2="965.5" y2="1076" stroke="#000" stroke-width="1.6"/>
<line x1="977.6" y1="1053.5" x2="1001.6" y2="1053.5" stroke="#000" stroke-width="2"/>
<line x1="989.6" y1="1049.9" x2="989.6" y2="1057.1" stroke="#000" stroke-width="1.6"/>
<line x1="985.1" y1="1049.9" x2="994.1" y2="1049.9" stroke="#000" stroke-width="1.6"/>
<line x1="985.1" y1="1057.1" x2="994.1" y2="1057.1" stroke="#000" stroke-width="1.6"/>
<line x1="1006.2" y1="1086" x2="1030.2" y2="1086" stroke="#000" stroke-width="2"/>
<line x1="1018.2" y1="1082.4" x2="1018.2" y2="1089.6" stroke="#000" stroke-width="1.6"/>
<line x1="1013.7" y1="1082.4" x2="1022.7" y2="1082.4" stroke="#000" stroke-width="1.6"/>
<line x1="1013.7" y1="1089.6" x2="1022.7" y2="1089.6" stroke="#000" stroke-width="1.6"/>
<line x1="1034.8" y1="1084" x2="1058.8" y2="1084" stroke="#000" stroke-width="2"/>
<line x1="1046.8" y1="1080.4" x2="1046.8" y2="1087.6" stroke="#000" stroke-width="1.6"/>
<line x1="1042.3" y1="1080.4" x2="1051.3" y2="1080.4" stroke="#000" stroke-width="1.6"/>
<line x1="1042.3" y1="1087.6" x2="1051.3" y2="1087.6" stroke="#000" stroke-width="1.6"/>
<line x1="1063.4" y1="1076.9" x2="1087.4" y2="1076.9" stroke="#000" stroke-width="2"/>
<line x1="1075.4" y1="1073.3" x2="1075.4" y2="1080.5" stroke="#000" stroke-width="1.6"/>
<line x1="1070.9" y1="1073.3" x2="1079.9" y2="1073.3" stroke="#000" stroke-width="1.6"/>
<line x1="1070.9" y1="1080.5" x2="1079.9" y2="1080.5" stroke="#000" stroke-width="1.6"/>
<line x1="1092" y1="1083.6" x2="1116" y2="1083.6" stroke="#000" stroke-width="2"/>
<line x1="1104" y1="1080" x2="1104" y2="1087.2" stroke="#000" stroke-width="1.6"/>
<line x1="1099.5" y1="1080" x2="1108.5" y2="1080" stroke="#000" stroke-width="1.6"/>
<line x1="1099.5" y1="1087.2" x2="1108.5" y2="1087.2" stroke="#000" stroke-width="1.6"/>
<line x1="1120.6" y1="1053.3" x2="1144.6" y2="1053.3" stroke="#000" stroke-width="2"/>
<line x1="1132.6" y1="1049.7" x2="1132.6" y2="1056.9" stroke="#000" stroke-width="1.6"/>
<line x1="1128.1" y1="1049.7" x2="1137.1" y2="1049.7" stroke="#000" stroke-width="1.6"/>
<line x1="1128.1" y1="1056.9" x2="1137.1" y2="1056.9" stroke="#000" stroke-width="1.6"/>
<line x1="1149.2" y1="1091.3" x2="1173.2" y2="1091.3" stroke="#000" stroke-width="2"/>
<line x1="1161.2" y1="1087.7" x2="1161.2" y2="1094.9" stroke="#000" stroke-width="1.6"/>
<line x1="1156.7" y1="1087.7" x2="1165.7" y2="1087.7" stroke="#000" stroke-width="1.6"/>
<line x1="1156.7" y1="1094.9" x2="1165.7" y2="1094.9" stroke="#000" stroke-width="1.6"/>
<line x1="1177.8" y1="1083.6" x2="1201.8" y2="1083.6" stroke="#000" stroke-width="2"/>
<line x1="1189.8" y1="1080" x2="1189.8" y2="1087.2" stroke="#000" stroke-width="1.6"/>
<line x1="1185.3" y1="1080" x2="1194.3" y2="1080" stroke="#000" stroke-width="1.6"/>
<line x1="1185.3" y1="1087.2" x2="1194.3" y2="1087.2" stroke="#000" stroke-width="1.6"/>
<line x1="1206.4" y1="1081.5" x2="1230.4" y2="1081.5" stroke="#000" stroke-width="2"/>
<line x1="1218.4" y1="1077.9" x2="1218.4" y2="1085.1" stroke="#000" stroke-width="1.6"/>
<line x1="1213.9" y1="1077.9" x2="1222.9" y2="1077.9" stroke="#000" stroke-width="1.6"/>
<line x1="1213.9" y1="1085.1" x2="1222.9" y2="1085.1" stroke="#000" stroke-width="1.6"/>
<line x1="1235" y1="1077.2" x2="1259" y2="1077.2" stroke="#000" stroke-width="2"/>
<line x1="1247" y1="1073.6" x2="1247" y2="1080.8" stroke="#000" stroke-width="1.6"/>
<line x1="1242.5" y1="1073.6" x2="1251.5" y2="1073.6" stroke="#000" stroke-width="1.6"/>
<line x1="1242.5" y1="1080.8" x2="1251.5" y2="1080.8" stroke="#000" stroke-width="1.6"/>
<line x1="1263.6" y1="1074.7" x2="1287.6" y2="1074.7" stroke="#000" stroke-width="2"/>
<line x1="1275.6" y1="1071.1" x2="1275.6" y2="1078.3" stroke="#000" stroke-width="1.6"/>
<line x1="1271.1" y1="1071.1" x2="1280.1" y2="1071.1" stroke="#000" stroke-width="1.6"/>
<line x1="1271.1" y1="1078.3" x2="1280.1" y2="1078.3" stroke="#000" stroke-width="1.6"/>
<line x1="1292.2" y1="1040" x2="1316.2" y2="1040" stroke="#000" stroke-width="2"/>
<line x1="1304.2" y1="1036.4" x2="1304.2" y2="1043.6" stroke="#000" stroke-width="1.6"/>
<line x1="1299.7" y1="1036.4" x2="1308.7" y2="1036.4" stroke="#000" stroke-width="1.6"/>
<line x1="1299.7" y1="1043.6" x2="1308.7" y2="1043.6" stroke="#000" stroke-width="1.6"/>
<line x1="1320.8" y1="1097.4" x2="1344.8" y2="1097.4" stroke="#000" stroke-width="2"/>
<line x1="1332.8" y1="1093.8" x2="1332.8" y2="1101" stroke="#000" stroke-width="1.6"/>
<line x1="1328.3" y1="1093.8" x2="1337.3" y2="1093.8" stroke="#000" stroke-width="1.6"/>
<line x1="1328.3" y1="1101" x2="1337.3" y2="1101" stroke="#000" stroke-width="1.6"/>
<line x1="1349.4" y1="1095.3" x2="1373.4" y2="1095.3" stroke="#000" stroke-width="2"/>
<line x1="1361.4" y1="1091.7" x2="1361.4" y2="1098.9" stroke="#000" stroke-width="1.6"/>
<line x1="1356.9" y1="1091.7" x2="1365.9" y2="1091.7" stroke="#000" stroke-width="1.6"/>
<line x1="1356.9" y1="1098.9" x2="1365.9" y2="1098.9" stroke="#000" stroke-width="1.6"/>
<line x1="1378" y1="1075.3" x2="1402" y2="1075.3" stroke="#000" stroke-width="2"/>
<line x1="1390" y1="1071.7" x2="1390" y2="1078.9" stroke="#000" stroke-width="1.6"/>
<line x1="1385.5" y1="1071.7" x2="1394.5" y2="1071.7" stroke="#000" stroke-width="1.6"/>
<line x1="1385.5" y1="1078.9" x2="1394.5" y2="1078.9" stroke="#000" stroke-width="1.6"/>
<line x1="742.4" y1="1088.2" x2="1410.6" y2="1088.2" stroke="#000" stroke-width="2" stroke-dasharray="8,5"/>
<line x1="742.5" y1="953.3" x2="742.5" y2="988.8" stroke="#000" stroke-width="2"/>
<line x1="742.5" y1="1004.8" x2="742.5" y2="1160.6" stroke="#000" stroke-width="2"/>
<line x1="735.7" y1="953.8" x2="742.5" y2="953.8" stroke="#000" stroke-width="1.8"/>
<line x1="735.7" y1="970.1" x2="742.5" y2="970.1" stroke="#000" stroke-width="1.8"/>
<line x1="735.7" y1="986.1" x2="742.5" y2="986.1" stroke="#000" stroke-width="1.8"/>
<line x1="734.3" y1="988.8" x2="750.6" y2="988.8" stroke="#000" stroke-width="2"/>
<line x1="734.3" y1="1004.8" x2="750.6" y2="1004.8" stroke="#000" stroke-width="2"/>
<line x1="735.7" y1="1056.8" x2="742.5" y2="1056.8" stroke="#000" stroke-width="1.8"/>
<line x1="735.7" y1="1108.4" x2="742.5" y2="1108.4" stroke="#000" stroke-width="1.8"/>
<line x1="735.7" y1="1159.6" x2="1410.6" y2="1159.6" stroke="#000" stroke-width="2.2"/>
<line x1="760.8" y1="1159.6" x2="760.8" y2="1165.5" stroke="#000" stroke-width="1.8"/>
<line x1="789.4" y1="1159.6" x2="789.4" y2="1165.5" stroke="#000" stroke-width="1.8"/>
<line x1="818" y1="1159.6" x2="818" y2="1165.5" stroke="#000" stroke-width="1.8"/>
<line x1="846.6" y1="1159.6" x2="846.6" y2="1165.5" stroke="#000" stroke-width="1.8"/>
<line x1="875.2" y1="1159.6" x2="875.2" y2="1165.5" stroke="#000" stroke-width="1.8"/>
<line x1="903.8" y1="1159.6" x2="903.8" y2="1165.5" stroke="#000" stroke-width="1.8"/>
<line x1="932.4" y1="1159.6" x2="932.4" y2="1165.5" stroke="#000" stroke-width="1.8"/>
<line x1="961" y1="1159.6" x2="961" y2="1165.5" stroke="#000" stroke-width="1.8"/>
<line x1="989.6" y1="1159.6" x2="989.6" y2="1165.5" stroke="#000" stroke-width="1.8"/>
<line x1="1018.2" y1="1159.6" x2="1018.2" y2="1165.5" stroke="#000" stroke-width="1.8"/>
<line x1="1046.8" y1="1159.6" x2="1046.8" y2="1165.5" stroke="#000" stroke-width="1.8"/>
<line x1="1075.4" y1="1159.6" x2="1075.4" y2="1165.5" stroke="#000" stroke-width="1.8"/>
<line x1="1104" y1="1159.6" x2="1104" y2="1165.5" stroke="#000" stroke-width="1.8"/>
<line x1="1132.6" y1="1159.6" x2="1132.6" y2="1165.5" stroke="#000" stroke-width="1.8"/>
<line x1="1161.2" y1="1159.6" x2="1161.2" y2="1165.5" stroke="#000" stroke-width="1.8"/>
<line x1="1189.8" y1="1159.6" x2="1189.8" y2="1165.5" stroke="#000" stroke-width="1.8"/>
<line x1="1218.4" y1="1159.6" x2="1218.4" y2="1165.5" stroke="#000" stroke-width="1.8"/>
<line x1="1247" y1="1159.6" x2="1247" y2="1165.5" stroke="#000" stroke-width="1.8"/>
<line x1="1275.6" y1="1159.6" x2="1275.6" y2="1165.5" stroke="#000" stroke-width="1.8"/>
<line x1="1304.2" y1="1159.6" x2="1304.2" y2="1165.5" stroke="#000" stroke-width="1.8"/>
<line x1="1332.8" y1="1159.6" x2="1332.8" y2="1165.5" stroke="#000" stroke-width="1.8"/>
<line x1="1361.4" y1="1159.6" x2="1361.4" y2="1165.5" stroke="#000" stroke-width="1.8"/>
<line x1="1390" y1="1159.6" x2="1390" y2="1165.5" stroke="#000" stroke-width="1.8"/>
<text x="730.8" y="957" font-size="20" text-anchor="end" fill="#000">1.6</text>
<text x="730.8" y="976.8" font-size="20" text-anchor="end" fill="#000">1.0</text>
<text x="730.8" y="995.6" font-size="20" text-anchor="end" fill="#000">0.4</text>
<text x="730.8" y="1012.4" font-size="20" text-anchor="end" fill="#000">0.3</text>
<text x="730.8" y="1063.9" font-size="20" text-anchor="end" fill="#000">0.2</text>
<text x="730.8" y="1115.5" font-size="20" text-anchor="end" fill="#000">0.1</text>
<text x="730.8" y="1166.7" font-size="20" text-anchor="end" fill="#000">0</text>
<text x="0" y="0" font-size="20" text-anchor="end" fill="#000" font-style="italic" transform="translate(766.8,1179) rotate(-45)">NT1</text>
<text x="0" y="0" font-size="20" text-anchor="end" fill="#000" font-style="italic" transform="translate(795.6,1179) rotate(-45)">NT2</text>
<text x="0" y="0" font-size="20" text-anchor="end" fill="#000" font-style="italic" transform="translate(824.4,1179) rotate(-45)">CBX5</text>
<text x="0" y="0" font-size="20" text-anchor="end" fill="#000" font-style="italic" transform="translate(853.1,1179) rotate(-45)">RNF2</text>
<text x="0" y="0" font-size="20" text-anchor="end" fill="#000" font-style="italic" transform="translate(881.9,1179) rotate(-45)">EPC1</text>
<text x="0" y="0" font-size="20" text-anchor="end" fill="#000" font-style="italic" transform="translate(910.7,1179) rotate(-45)">EPC2</text>
<text x="0" y="0" font-size="20" text-anchor="end" fill="#000" font-style="italic" transform="translate(939.5,1179) rotate(-45)">EZH2</text>
<text x="0" y="0" font-size="20" text-anchor="end" fill="#000" font-style="italic" transform="translate(968.3,1179) rotate(-45)">MTF2</text>
<text x="0" y="0" font-size="20" text-anchor="end" fill="#000" font-style="italic" transform="translate(997,1179) rotate(-45)">CHD3</text>
<text x="0" y="0" font-size="20" text-anchor="end" fill="#000" font-style="italic" transform="translate(1025.8,1179) rotate(-45)">MTA2</text>
<text x="0" y="0" font-size="20" text-anchor="end" fill="#000" font-style="italic" transform="translate(1054.6,1179) rotate(-45)">RBBP4</text>
<text x="0" y="0" font-size="20" text-anchor="end" fill="#000" font-style="italic" transform="translate(1083.4,1179) rotate(-45)">KDM1A</text>
<text x="0" y="0" font-size="20" text-anchor="end" fill="#000" font-style="italic" transform="translate(1112.2,1179) rotate(-45)">KDM5B</text>
<text x="0" y="0" font-size="20" text-anchor="end" fill="#000" font-style="italic" transform="translate(1140.9,1179) rotate(-45)">KMT5B</text>
<text x="0" y="0" font-size="20" text-anchor="end" fill="#000" font-style="italic" transform="translate(1169.7,1179) rotate(-45)">HDAC2</text>
<text x="0" y="0" font-size="20" text-anchor="end" fill="#000" font-style="italic" transform="translate(1198.5,1179) rotate(-45)">RCOR2</text>
<text x="0" y="0" font-size="20" text-anchor="end" fill="#000" font-style="italic" transform="translate(1227.3,1179) rotate(-45)">SMARCE1</text>
<text x="0" y="0" font-size="20" text-anchor="end" fill="#000" font-style="italic" transform="translate(1256.1,1179) rotate(-45)">SMARCA4</text>
<text x="0" y="0" font-size="20" text-anchor="end" fill="#000" font-style="italic" transform="translate(1284.8,1179) rotate(-45)">SMARCAD1</text>
<text x="0" y="0" font-size="20" text-anchor="end" fill="#000" font-style="italic" transform="translate(1313.6,1179) rotate(-45)">BRD1</text>
<text x="0" y="0" font-size="20" text-anchor="end" fill="#000" font-style="italic" transform="translate(1342.4,1179) rotate(-45)">SOX4</text>
<text x="0" y="0" font-size="20" text-anchor="end" fill="#000" font-style="italic" transform="translate(1371.2,1179) rotate(-45)">SOX11</text>
<text x="0" y="0" font-size="20" text-anchor="end" fill="#000" font-style="italic" transform="translate(1400,1179) rotate(-45)">KLF12</text>
<text x="852" y="943.6" font-size="21.5" text-anchor="middle" fill="#000">****</text>
<text x="929.8" y="943.6" font-size="21.5" text-anchor="middle" fill="#000">***</text>
<text x="959" y="943.6" font-size="21.5" text-anchor="middle" fill="#000">*</text>
<text x="987.8" y="943.6" font-size="21.5" text-anchor="middle" fill="#000">****</text>
<text x="1059" y="938" font-size="20" text-anchor="middle" fill="#000">NS</text>
<text x="1134.2" y="943.6" font-size="21.5" text-anchor="middle" fill="#000">****</text>
<text x="1194.5" y="938" font-size="20" text-anchor="middle" fill="#000">NS</text>
<text x="1255.8" y="943.6" font-size="21.5" text-anchor="middle" fill="#000">***</text>
<text x="1301.8" y="943.6" font-size="21.5" text-anchor="middle" fill="#000">****</text>
<text x="1350.8" y="938" font-size="20" text-anchor="middle" fill="#000">NS</text>
<text x="1387" y="943.6" font-size="21.5" text-anchor="middle" fill="#000">*</text>
<line x1="814.3" y1="946.5" x2="905.2" y2="946.5" stroke="#000" stroke-width="2"/>
<line x1="1015.2" y1="946.5" x2="1105.6" y2="946.5" stroke="#000" stroke-width="2"/>
<line x1="1157.8" y1="946.5" x2="1222.1" y2="946.5" stroke="#000" stroke-width="2"/>
<line x1="1243" y1="946.5" x2="1274.2" y2="946.5" stroke="#000" stroke-width="2"/>
<line x1="1330.9" y1="946.5" x2="1363" y2="946.5" stroke="#000" stroke-width="2"/>
<text x="0" y="0" font-size="21" text-anchor="middle" fill="#000" transform="translate(657.1,1054.7) rotate(-90)">GCaMP6 intensity</text>
<text font-size="21" text-anchor="middle" transform="translate(682,1053.9) rotate(-90)">(Δ<tspan font-style="italic">F</tspan>/<tspan font-style="italic">F</tspan><tspan font-size="14" dy="4">0</tspan><tspan dy="-4">)</tspan></text>
<text x="3.8" y="1256.6" font-size="35.5" text-anchor="start" fill="#000" font-weight="bold" stroke="#000" stroke-width="0.9">f</text>
<line x1="60.9" y1="1281.8" x2="60.9" y2="1650.5" stroke="#000" stroke-width="2"/>
<text x="54.9" y="1295.8" font-size="21" text-anchor="end" fill="#000">0</text>
<text x="54.9" y="1346.7" font-size="21" text-anchor="end" fill="#000">0.1</text>
<text x="54.9" y="1397.7" font-size="21" text-anchor="end" fill="#000">0.2</text>
<text x="54.9" y="1448.7" font-size="21" text-anchor="end" fill="#000">0.3</text>
<text x="54.9" y="1499.7" font-size="21" text-anchor="end" fill="#000">0.4</text>
<text x="54.9" y="1550.7" font-size="21" text-anchor="end" fill="#000">0.5</text>
<text x="54.9" y="1601.7" font-size="21" text-anchor="end" fill="#000">0.6</text>
<text x="0" y="0" font-size="20.8" text-anchor="middle" fill="#000" transform="translate(17.8,1446.5) rotate(-90)">Pseudotime</text>
<text x="81.8" y="1299.3" font-size="20.5" text-anchor="start" fill="#000" font-style="italic">Dcx</text>
<defs><linearGradient id="dcx" x1="0" y1="0" x2="0" y2="1"><stop offset="0" stop-color="#FF1010"/><stop offset="0.16" stop-color="#FF5A00"/><stop offset="0.3" stop-color="#FF9A00"/><stop offset="0.37" stop-color="#FFC400"/><stop offset="0.45" stop-color="#F2F010"/><stop offset="0.51" stop-color="#90EE50"/><stop offset="0.555" stop-color="#22F0D8"/><stop offset="0.61" stop-color="#00E4FA"/><stop offset="0.71" stop-color="#109CFF"/><stop offset="0.83" stop-color="#1A60FF"/><stop offset="0.91" stop-color="#6A88C8"/><stop offset="1" stop-color="#A8ACB8"/></linearGradient></defs>
<rect x="83.6" y="1308.9" width="14.3" height="68.6" fill="url(#dcx)"/>
<line x1="83.6" y1="1313.2" x2="86" y2="1313.2" stroke="#fff" stroke-width="0.8"/>
<line x1="95.5" y1="1313.2" x2="97.9" y2="1313.2" stroke="#fff" stroke-width="0.8"/>
<line x1="83.6" y1="1334.6" x2="86" y2="1334.6" stroke="#fff" stroke-width="0.8"/>
<line x1="95.5" y1="1334.6" x2="97.9" y2="1334.6" stroke="#fff" stroke-width="0.8"/>
<line x1="83.6" y1="1356.8" x2="86" y2="1356.8" stroke="#fff" stroke-width="0.8"/>
<line x1="95.5" y1="1356.8" x2="97.9" y2="1356.8" stroke="#fff" stroke-width="0.8"/>
<text x="101" y="1320.7" font-size="20.5" text-anchor="start" fill="#000">3</text>
<text x="101" y="1340.9" font-size="20.5" text-anchor="start" fill="#000">2</text>
<text x="101" y="1361.3" font-size="20.5" text-anchor="start" fill="#000">1</text>
<text x="101" y="1381.5" font-size="20.5" text-anchor="start" fill="#000">0</text>
<defs><linearGradient id="fadeb" x1="0" y1="0" x2="0" y2="1"><stop offset="0" stop-color="#fff" stop-opacity="0"/><stop offset="0.65" stop-color="#fff" stop-opacity="0"/><stop offset="1" stop-color="#fff" stop-opacity="0.85"/></linearGradient></defs>
<rect x="212.4" y="1303" width="6" height="13" fill="#B0B0B0"/>
<rect x="210.9" y="1316" width="9" height="118" fill="#A9A9A9"/>
<rect x="152.2" y="1436" width="9.5" height="92" fill="#D4BC50"/>
<rect x="104" y="1530" width="9" height="38" fill="#D8AA44"/>
<rect x="84" y="1569" width="8" height="13" fill="#D0B850"/>
<rect x="74" y="1582" width="9" height="50" fill="#C6C866"/>
<rect x="72.8" y="1582" width="11.4" height="50" fill="url(#fadeb)"/>
<rect x="94.5" y="1582" width="9" height="54" fill="#C6C866"/>
<rect x="93.3" y="1582" width="11.4" height="54" fill="url(#fadeb)"/>
<rect x="128.5" y="1569" width="7" height="7" fill="#C8C050"/>
<rect x="115.5" y="1576" width="9" height="58" fill="#C6C866"/>
<rect x="114.3" y="1576" width="11.4" height="58" fill="url(#fadeb)"/>
<rect x="136.7" y="1576" width="9" height="36" fill="#C6C866"/>
<rect x="135.5" y="1576" width="11.4" height="36" fill="url(#fadeb)"/>
<rect x="200.7" y="1530" width="9" height="23" fill="#D8B048"/>
<rect x="179" y="1554" width="8" height="16" fill="#D0B050"/>
<rect x="158" y="1571" width="8" height="21" fill="#D8C050"/>
<rect x="156.8" y="1571" width="10.4" height="21" fill="url(#fadeb)"/>
<rect x="179" y="1571" width="8" height="25" fill="#DC9A40"/>
<rect x="177.8" y="1571" width="10.4" height="25" fill="url(#fadeb)"/>
<rect x="200.7" y="1571" width="8" height="33" fill="#C8BC60"/>
<rect x="199.5" y="1571" width="10.4" height="33" fill="url(#fadeb)"/>
<rect x="222.1" y="1554" width="8" height="40" fill="#CCC490"/>
<rect x="220.9" y="1554" width="10.4" height="40" fill="url(#fadeb)"/>
<rect x="270" y="1436" width="9" height="22" fill="#A9A9A9"/>
<rect x="253.5" y="1458" width="8" height="13" fill="#A9A9A9"/>
<rect x="242.5" y="1471" width="9" height="91" fill="#ABABAB"/>
<rect x="241.3" y="1471" width="11.4" height="91" fill="url(#fadeb)"/>
<rect x="263.5" y="1471" width="9" height="81" fill="#ABABAB"/>
<rect x="262.3" y="1471" width="11.4" height="81" fill="url(#fadeb)"/>
<rect x="287.2" y="1460" width="5" height="68" fill="#D8D8D8"/>
<path fill="none" stroke="#B4B4B4" stroke-width="1.4" stroke-linecap="round" d="M216.1 1304.7h0M213.2 1312.3h0M216.4 1314.3h0M219.3 1327.5h0M215.3 1346.4h0M219.5 1396.5h0M217.4 1354.5h0M219.9 1367.6h0M210.9 1390h0M213.5 1342.3h0M214.8 1417h0M211.1 1403.6h0M219.3 1369.2h0M218.3 1320h0M213.5 1414.7h0M219.1 1356.1h0M214.6 1377.2h0M210.6 1369.9h0M219.4 1422.2h0M215.4 1344.2h0M212.3 1379.1h0M218.7 1316.9h0M211.4 1404.4h0M218.7 1344.6h0M216.9 1369.6h0M212 1374.8h0M213 1339.5h0M216.1 1344.2h0M216.9 1407.7h0M219.4 1407.5h0M212.2 1399.2h0M216.9 1402.2h0M212.1 1421h0M219.7 1392.1h0M213.1 1327.8h0M216.3 1333.3h0M216.1 1339.8h0M215.3 1377.8h0M210.7 1375.1h0M211.7 1409.5h0M211.1 1415h0M275.5 1445.9h0M272.5 1440.1h0M279.2 1452.4h0M275.5 1450h0M270.6 1451.6h0M269.8 1449.2h0M270.8 1456.5h0M274.5 1445.6h0M273 1451.2h0M272.2 1451.2h0M275.1 1436.2h0M254.1 1465.3h0M257.9 1458.8h0M259.5 1468.1h0M259.9 1465h0M256.3 1466.8h0M259.1 1470.9h0M251.6 1556.3h0M243.9 1540.5h0M249.9 1547.8h0M250.6 1548.7h0M248.7 1520.4h0M243.6 1529.6h0M246.8 1532.8h0M250.5 1550h0M242.7 1507.4h0M247.3 1500.9h0M246.4 1481.3h0M246.1 1473.3h0M244.5 1520.6h0M245.7 1496.8h0M243.8 1529.7h0M242.2 1525h0M243.4 1512.9h0M245.6 1490.4h0M245 1475.7h0M247.1 1537.8h0M246.3 1527.6h0M242.4 1484.6h0M249.5 1554.4h0M251.1 1522.2h0M243.6 1539.8h0M248.2 1536.5h0M251.3 1496.3h0M245.5 1476.1h0M250.1 1495.9h0M248.3 1503.7h0M246.3 1477.1h0M250.6 1509.7h0M245.6 1524.7h0M245.3 1510h0M248.8 1509.4h0M242.5 1498.1h0M245.3 1476.5h0M263 1483.9h0M267.7 1535.4h0M265.9 1482.1h0M268.3 1506.5h0M271.1 1514.1h0M264.4 1480.6h0M267.7 1482.9h0M266.2 1494.2h0M266.9 1496.3h0M264.4 1487.2h0M269.7 1496.2h0M265.1 1533.9h0M268.5 1472.8h0M268.7 1477.4h0M268.9 1492.2h0M271.3 1542.5h0M270 1537h0M263.9 1521.3h0M264.8 1541.3h0M267.8 1496.4h0M269.8 1483.4h0M264.9 1504.3h0M271.8 1549.3h0M271.5 1480.5h0M271.6 1473.6h0M270.4 1506.6h0M263.8 1546.3h0M266.3 1489.5h0M270.3 1505.5h0M268.8 1488.8h0"/>
<path fill="none" stroke="#8E98B8" stroke-width="1.4" stroke-linecap="round" d="M216.3 1303.9h0M214.7 1314.2h0M217.1 1311.7h0M217.6 1424.7h0M217.7 1384.1h0M218.2 1416.9h0M215.5 1361.5h0M211.2 1410.5h0M219.5 1318.4h0M218.1 1419h0M217.6 1355.1h0M214.1 1418.6h0M216.9 1386.3h0M213.9 1424.2h0M211.4 1411.9h0M216.9 1327.4h0M211.9 1316.6h0M216 1432.3h0M218.6 1323.2h0M210.8 1348h0M213.5 1353.1h0M216.5 1408.3h0M216.8 1321.1h0M210.8 1390h0M210.5 1341.8h0M212.6 1331.4h0M217.1 1402.6h0M211.8 1407.4h0M212.1 1318.8h0M218.8 1428.4h0M212.9 1386.7h0M215.4 1430.8h0M218.9 1430.1h0M217.3 1405.2h0M211.9 1363.3h0M219.6 1377h0M216.3 1417.3h0M218.2 1332.9h0M217.5 1340.3h0M218.3 1420.1h0M214.2 1325.2h0M214.3 1380.2h0M211.4 1420.7h0M213.3 1395.8h0M211.6 1426h0M216 1392.4h0M215.2 1408.3h0M214 1347.4h0M210.8 1332.1h0M215.4 1345.2h0M215.8 1407.1h0M217.1 1362.2h0M218.4 1380.3h0M219.4 1428h0M213.5 1422.9h0M212.3 1408.3h0M211.4 1349.4h0M274.2 1455h0M277.7 1449h0M277.8 1442.4h0M275 1453.4h0M274.9 1448.8h0M270.3 1445.5h0M261 1463.7h0M259.1 1468.2h0M258.8 1459.1h0M256.3 1462.2h0M258.1 1467.8h0M247.1 1527.2h0M245 1532.5h0M243.4 1519.9h0M249.2 1500.2h0M243.1 1490.9h0M250.4 1487h0M245.6 1545.4h0M243.4 1503.5h0M251.7 1511.8h0M244.6 1480.1h0M246.5 1549.2h0M243 1542.6h0M246.6 1556.2h0M242 1503.2h0M245.7 1484.2h0M245.1 1476.8h0M247.6 1534.9h0M245.4 1476.2h0M245.6 1471.7h0M244.3 1546.5h0M251.9 1473.8h0M250 1533.9h0M252.1 1551.2h0M247.7 1516.4h0M251.4 1479.7h0M246.3 1520.2h0M249.3 1497h0M244.9 1483.9h0M265.2 1517.5h0M267 1539.7h0M270.1 1512.8h0M263.7 1492.2h0M271 1513h0M270.8 1501.4h0M267.5 1504.1h0M265.7 1496.8h0M267.9 1476.9h0M266.9 1509.6h0M272.8 1540.8h0M265.3 1521.7h0M272.5 1487.2h0M265.3 1476.3h0M271.5 1473.9h0M271.2 1529.4h0M265.3 1540.3h0M271.3 1537.9h0M269.2 1508.6h0M272.6 1495.7h0M267.6 1531.5h0M270.4 1495.1h0M264.1 1475.9h0M269.8 1544.4h0M271.1 1516.6h0M269.5 1540.7h0M264.4 1471.6h0M266.5 1513.6h0M271.6 1517.6h0"/>
<path fill="none" stroke="#9C9C9C" stroke-width="1.4" stroke-linecap="round" d="M218.3 1309.1h0M212.9 1315.4h0M214 1303.4h0M219 1432.9h0M217.6 1340.9h0M216.5 1405.9h0M220 1430.6h0M220.3 1356.1h0M216.6 1427h0M218.3 1432.5h0M220 1318.5h0M218.5 1356.7h0M219.1 1430.6h0M218.6 1321.3h0M210.4 1403.9h0M215.7 1364.8h0M213.8 1345.8h0M212 1409.4h0M215.1 1407.6h0M219 1407.5h0M211.6 1324.1h0M219 1326.2h0M217.6 1360.9h0M216.1 1321.1h0M219.9 1360.2h0M218.6 1400.6h0M215.7 1382.6h0M210.6 1329.6h0M215.9 1418.6h0M215.2 1401h0M215.1 1343.1h0M220.1 1416.8h0M219.5 1346.1h0M213.5 1365.9h0M211.5 1347.2h0M219.3 1325h0M217.1 1376h0M217.6 1396.1h0M211.4 1337.4h0M216.1 1423.4h0M212.2 1338.3h0M216.4 1401.8h0M211.4 1405.2h0M210.6 1389h0M215.4 1318.2h0M279.6 1437.6h0M274 1452h0M271.2 1441.4h0M261.7 1459.4h0M253.3 1466.7h0M258.6 1459.5h0M260.8 1461.2h0M254.6 1461.3h0M256.8 1463.1h0M243.9 1521.3h0M250.9 1516.9h0M243.1 1492.9h0M247.4 1514.3h0M249.3 1508.8h0M245.5 1523.1h0M249.2 1487.9h0M246.6 1554.9h0M246.2 1491.7h0M247.2 1502.7h0M247.4 1478.5h0M242.4 1474.3h0M247.7 1534h0M242 1509.1h0M249.2 1556.7h0M249.3 1507.2h0M250.1 1516.6h0M246.3 1541.4h0M250.8 1550h0M242.7 1516.5h0M247.6 1479.4h0M245.1 1471.7h0M248.9 1483h0M243.5 1534.4h0M248.8 1490.3h0M249.1 1487.7h0M244.4 1549.5h0M245.8 1506h0M250.5 1547h0M250.9 1506h0M242.4 1473.1h0M247.7 1547.6h0M250.2 1548.7h0M244.8 1509.1h0M247.1 1528.9h0M245.5 1543.8h0M250 1561.9h0M243.4 1482.1h0M241.9 1478.2h0M242.3 1488.6h0M266.5 1485.6h0M265.9 1503.4h0M270.6 1535.5h0M265.5 1542.6h0M269.6 1546.9h0M267.9 1531.9h0M268 1524h0M264.3 1518h0M270.8 1493.6h0M271.5 1544.5h0M266 1547.7h0M267.4 1495h0M266.8 1513.9h0M271.1 1519.2h0M266.9 1509.7h0M264.9 1539.5h0M270.3 1491.9h0M267.4 1482.3h0M265.5 1524.4h0M272.8 1495.9h0M266.1 1536.8h0M266.5 1508.9h0M272.8 1509.3h0M272.5 1544.9h0M271.8 1535.6h0M263.1 1487.5h0M268 1475.5h0"/>
<path fill="none" stroke="#A4A4A4" stroke-width="1.4" stroke-linecap="round" d="M215.2 1312.3h0M215.7 1364.1h0M213.2 1323.5h0M215.5 1433.8h0M210.4 1328.8h0M216.5 1334.4h0M220.1 1421.8h0M214.7 1401h0M215.6 1380.7h0M210.5 1388.7h0M217.8 1318.6h0M212.9 1369.8h0M212.1 1337.9h0M218.9 1347.2h0M212.7 1338.1h0M220 1395.6h0M215 1390.8h0M214.6 1364.3h0M215.8 1421h0M216.6 1377.3h0M214.2 1362h0M214 1338.5h0M214.7 1331.1h0M214.6 1397.9h0M217.4 1324.4h0M211.5 1397.5h0M218.4 1320.3h0M216 1430h0M219.8 1416.5h0M217.1 1416.9h0M219.4 1352.3h0M215.2 1361.2h0M210.7 1369.4h0M210.4 1355.5h0M211.3 1427.1h0M217.2 1359.5h0M211.4 1427.4h0M217.2 1379.3h0M219.2 1427.5h0M215.4 1433.5h0M214.1 1350.6h0M216.8 1431.3h0M219.4 1394.8h0M213.6 1418.7h0M273.3 1451h0M271.7 1442.4h0M277.6 1443.9h0M270.1 1439.7h0M276.7 1454.2h0M277.5 1446.3h0M276.9 1438.4h0M270.2 1444.6h0M278.4 1452.8h0M278.5 1447.7h0M272 1442.2h0M276.3 1441h0M270.1 1443h0M260.9 1462.9h0M256.9 1458.3h0M248.1 1508.5h0M247.7 1510.9h0M247 1471.6h0M247.1 1544.9h0M243.3 1560.9h0M249.1 1474.7h0M242.2 1542h0M250.9 1538.7h0M244.6 1502.1h0M242 1495.6h0M249.1 1530.9h0M246.7 1487.9h0M246.8 1517.1h0M250.3 1551h0M245.6 1525.4h0M248 1498.3h0M250.4 1472.3h0M243.1 1541h0M243.9 1492.7h0M251.8 1471.1h0M245 1534h0M249.9 1500.4h0M249 1482.3h0M248.5 1559.5h0M252 1513.4h0M250.3 1540.3h0M247.5 1542h0M243.6 1519.4h0M244.9 1539.5h0M248.7 1559.3h0M247 1482.4h0M271.4 1546.8h0M267 1515.3h0M266.7 1499.4h0M265.4 1536.3h0M269.8 1514.9h0M267 1520.4h0M264.3 1532.4h0M265.6 1480.5h0M270.8 1490.1h0M265.2 1501.1h0M264.8 1542.9h0M272 1537.3h0M266.1 1505.5h0M264.2 1500.5h0M269.1 1538.5h0M270.1 1521.6h0M266.9 1477.9h0M263 1540h0M270.9 1547h0M272.5 1500.7h0M264.2 1489.2h0M272.6 1527.6h0M264.9 1546.3h0M272.5 1477.4h0M263.8 1524.2h0M265 1486.3h0M270 1484.2h0M264 1546.9h0M270 1524.4h0M269.1 1543.9h0M263.1 1515.3h0M268.5 1481h0M273 1486.1h0M272.1 1521.3h0M264.3 1498.2h0"/>
<path fill="none" stroke="#B8B090" stroke-width="1.4" stroke-linecap="round" d="M161.6 1501.9h0M159 1476.3h0M159.4 1461.3h0M161.7 1508.6h0M156.1 1482.7h0M161.1 1508h0M160.3 1491h0M162 1454.3h0M159.1 1473.1h0M161.8 1476.8h0M162.3 1466.8h0M152.7 1464.7h0M160.1 1482.8h0M155.3 1448.3h0M160.4 1491.4h0M157.5 1473.5h0M156.6 1489.9h0M159.2 1519.9h0M158.5 1453.9h0M155.9 1440.5h0M160.4 1436.5h0M112 1536.4h0M105.2 1551.8h0M106.2 1547.6h0M106.9 1567.1h0M107 1530.3h0M113.5 1548h0M112.1 1550.5h0M110.8 1550h0M85.4 1579.7h0M83.7 1575.5h0M89.6 1576.9h0M79.9 1613.2h0M82.8 1614.6h0M77 1605.9h0M79.1 1597.8h0M80.6 1619.5h0M73.4 1596.1h0M83.5 1601.1h0M78 1608.5h0M103.7 1582.3h0M98.7 1595.9h0M101.6 1601.6h0M95 1623.4h0M95.3 1623.9h0M99.4 1612.2h0M102.4 1632.4h0M96.7 1613.6h0M96.5 1593h0M98 1600.6h0M94.8 1586.6h0M95 1586.5h0M95.7 1602.1h0M132.8 1573.3h0M134.7 1570.3h0M136.1 1569.6h0M130.1 1569.9h0M121.4 1621.4h0M122.9 1596.2h0M118.8 1616.3h0M119.7 1631.8h0M119.3 1613.3h0M123.3 1607.7h0M121.8 1591.1h0M122.9 1603.9h0M122.4 1591.4h0M115.8 1598.9h0M118.2 1598.2h0M117.3 1582.3h0M123.7 1627.8h0M117.3 1600.3h0M145.1 1597.3h0M145.6 1591.2h0M141.7 1583.3h0M145.9 1578.8h0M142.3 1602.8h0M141.9 1598h0M140.3 1579.8h0M143.6 1588.5h0M136.3 1600.9h0M203.3 1550.5h0M203.8 1542.8h0M205.9 1535.8h0M206 1543.1h0M201.1 1537.8h0M210.1 1532.9h0M205.5 1533.3h0M180.4 1568.1h0M184 1561.1h0M178.6 1567.5h0M203.9 1590.8h0M203.9 1577.5h0M200.5 1573h0M204.7 1591.2h0M200.9 1573.3h0M200.4 1579.5h0M205.7 1572.5h0M208.2 1574.5h0M201.9 1576.2h0M204.8 1592.1h0"/>
<path fill="none" stroke="#70D0C0" stroke-width="1.4" stroke-linecap="round" d="M162.3 1527.8h0M155.8 1522.3h0M156.8 1460.8h0M159.1 1523.3h0M158.9 1444.9h0M155.2 1470h0M153.2 1526.6h0M156.4 1446.2h0M154 1516.5h0M158.2 1521.7h0M153.8 1507.9h0M154.4 1440h0M152.3 1511.1h0M152.5 1484.4h0M158.4 1447.4h0M162.3 1498.1h0M151.7 1472h0M112.1 1546.8h0M112.1 1536.8h0M112.9 1562.8h0M110 1540.7h0M109.1 1530.5h0M111.9 1564.7h0M110.5 1533.2h0M83.9 1574.2h0M86.2 1573.9h0M81.2 1609.6h0M78.4 1609.1h0M75.3 1610.6h0M76.9 1587.3h0M79.3 1630.9h0M83.1 1624.4h0M80 1594.9h0M79.1 1619.3h0M74.2 1603.4h0M81.7 1618.5h0M74.8 1582.4h0M78 1631.7h0M77.6 1582.3h0M80.8 1613.4h0M75.5 1611.3h0M76.5 1585.1h0M76.4 1622.8h0M75.4 1586.2h0M77.4 1619.4h0M78.6 1613.5h0M96.3 1613.6h0M97.9 1610.4h0M102.1 1620.5h0M94.8 1604.8h0M101.8 1594.8h0M95.2 1613.1h0M98.4 1623.5h0M102 1596.1h0M98.4 1588.7h0M96.1 1620.1h0M103.9 1598.4h0M130.9 1575.6h0M133.2 1572.7h0M128.5 1572.4h0M119 1602.9h0M122.8 1580.7h0M123.9 1620.1h0M115.7 1601.2h0M118.5 1600h0M114.9 1613.6h0M121.5 1613.4h0M123.3 1613.9h0M120.3 1591h0M116.5 1589.7h0M119.8 1599.5h0M115.5 1626.4h0M122.5 1627.8h0M137.8 1578.8h0M136.8 1604.2h0M145.7 1576.1h0M143.3 1597.3h0M139.9 1600.4h0M144.7 1586h0M143.4 1608.4h0M202.2 1533.9h0M207.6 1548.1h0M200.2 1548.1h0M202.1 1545.8h0M200.9 1539.6h0M187.3 1560.3h0M187.3 1566.3h0M180.8 1559.6h0M202 1591.1h0M207.7 1602.5h0M206 1594.1h0M207.4 1594.2h0M203.2 1586.6h0M206 1572h0M207.7 1585.6h0"/>
<path fill="none" stroke="#C8D040" stroke-width="1.4" stroke-linecap="round" d="M161.6 1515.3h0M153.4 1438h0M154.2 1471.8h0M153.4 1493.3h0M157.1 1505.3h0M158.1 1509.7h0M159 1525.9h0M160.8 1483.4h0M160.5 1498.6h0M161.3 1523.4h0M152.8 1463.5h0M155.5 1514.4h0M161.6 1483.8h0M154.2 1461.5h0M158.8 1481.9h0M161.4 1510.4h0M161.9 1504.4h0M157.8 1448.8h0M161.8 1522.8h0M154.2 1524.1h0M153.3 1500.9h0M159.8 1452.2h0M158.6 1448h0M152.2 1524.4h0M152.3 1486.2h0M112.3 1560.2h0M113.4 1543.9h0M104 1548.8h0M103.4 1532.4h0M107.4 1549.4h0M87.8 1571.7h0M89.7 1575.9h0M77.4 1607h0M82.1 1605.9h0M79.1 1601.3h0M83.1 1605.8h0M83.5 1621.5h0M83.4 1598.7h0M73.8 1606.5h0M81.5 1588.6h0M76.4 1583.2h0M81 1620.5h0M76.6 1610.2h0M101.2 1614.4h0M96.2 1592.6h0M103.2 1592.5h0M100.9 1615.8h0M97.4 1593.7h0M103.2 1612.1h0M102.5 1629.4h0M101.1 1616.9h0M101.1 1600.8h0M100.2 1631.4h0M101.6 1611.4h0M103.4 1621.4h0M124.5 1612.3h0M119.5 1608.8h0M121.3 1609.9h0M123.6 1609.7h0M119.8 1605.5h0M121.8 1594.5h0M122.6 1599.5h0M121.5 1588.5h0M118.7 1610.2h0M123.1 1603.4h0M116.5 1625.8h0M123.3 1576.7h0M115.6 1590.7h0M120.8 1612.4h0M121.3 1613.9h0M119.4 1581.1h0M123.4 1608.2h0M121.6 1627.1h0M139.4 1597.9h0M140.1 1579h0M138.4 1602h0M137.7 1600.6h0M141.3 1592.3h0M143.5 1577.5h0M144.6 1600.6h0M144.4 1596.9h0M140.5 1594h0M204 1549.3h0M201.1 1552h0M202.1 1544.6h0M203.2 1550.6h0M206.2 1545.6h0M203.3 1552.7h0M205.4 1541.2h0M180.9 1564h0M186.7 1559.6h0M185.2 1556.8h0M179.2 1566.3h0M183.8 1563h0M186.8 1589.3h0M180.9 1585.7h0M181.7 1583.9h0M186.4 1592.9h0M184.2 1587.4h0M182.6 1574.9h0M179.2 1585.2h0M183.1 1584.5h0M203.7 1577.6h0M206.1 1585h0M203 1580.5h0M203.7 1597.4h0M206.6 1598.3h0M206 1602.3h0"/>
<path fill="none" stroke="#A0D060" stroke-width="1.4" stroke-linecap="round" d="M159.1 1456.3h0M157 1500.3h0M154.9 1478.7h0M161.3 1502.2h0M156.9 1441.5h0M152.1 1481.4h0M162 1490.5h0M155.3 1480h0M152.6 1463h0M153.5 1504.1h0M156.3 1476.9h0M156.6 1515.9h0M152.5 1495.7h0M153.6 1443.3h0M153.9 1485.6h0M154.9 1495.1h0M156.3 1459.1h0M161.2 1526.4h0M162.3 1520.7h0M156.3 1467.7h0M156.4 1454.9h0M159.8 1500.4h0M162.1 1516.6h0M156.7 1527.9h0M155.4 1524.8h0M152 1527.6h0M156.7 1497.2h0M155.6 1494.2h0M154.5 1480.4h0M155.8 1526.9h0M152.8 1513.9h0M151.9 1467.8h0M108.1 1550.4h0M104.9 1547.3h0M105.4 1552.6h0M106.9 1552.2h0M104.8 1541.7h0M109.4 1566.1h0M112.3 1558.3h0M112.7 1554h0M112.4 1538.6h0M104 1546.4h0M84.5 1580.9h0M91.1 1573.1h0M91.5 1577.9h0M85.5 1572.7h0M83.6 1571.3h0M76.9 1631.8h0M81.1 1587.7h0M76.9 1618.6h0M75.4 1602.4h0M74.9 1600.5h0M81 1607.2h0M76 1609.2h0M73.5 1608.8h0M78 1622h0M74.4 1597.8h0M79.2 1595.3h0M82.6 1584.4h0M76.5 1597.3h0M83.2 1584.2h0M103.7 1607.7h0M99.7 1600.4h0M102.3 1601.7h0M98.8 1609.2h0M94.5 1612.2h0M98.3 1589.8h0M97.1 1605.9h0M96.4 1594h0M93.9 1616.8h0M103.3 1598.8h0M93.9 1624.3h0M102.5 1592.7h0M97.7 1601.5h0M94 1586h0M100.8 1629.3h0M132.3 1574.2h0M131.1 1570.2h0M118 1610.7h0M118.1 1633.1h0M118.4 1579.7h0M116.4 1600.9h0M123.5 1630h0M117.6 1584h0M115.8 1597.9h0M117.4 1628.3h0M123.6 1602.9h0M122.9 1582.3h0M124.5 1593.1h0M117.4 1602.7h0M115.2 1598.4h0M136.4 1610.9h0M136.6 1588.4h0M140.8 1599.8h0M143.7 1594.5h0M137.8 1579.9h0M143.4 1583.6h0M139.1 1602.5h0M141.4 1598.1h0M144.9 1591.5h0M144.8 1586.9h0M138.4 1578.7h0M205.8 1544.4h0M203.2 1534.5h0M178.5 1560.5h0M184.3 1564.2h0M184.7 1556.7h0M201.8 1590.3h0M206.2 1600.9h0M206.5 1601.1h0M202.6 1595.9h0M200.3 1586.7h0M206.6 1572.7h0"/>
<path fill="none" stroke="#F0A020" stroke-width="1.4" stroke-linecap="round" d="M152.8 1439.9h0M160.7 1477.2h0M158 1456.6h0M153.2 1478.3h0M161.4 1490.7h0M156.9 1487.6h0M155 1441.2h0M153.8 1525.6h0M161.7 1439.1h0M159.7 1494.1h0M161.5 1469.4h0M152.6 1478.8h0M155.4 1480.6h0M156.2 1495.7h0M153.4 1521.6h0M161.9 1437.7h0M161.7 1475.7h0M152 1470.4h0M160.3 1463.4h0M162.1 1439.2h0M160.6 1491.5h0M153.6 1498.9h0M156.4 1461.6h0M156.5 1524.3h0M152 1488.9h0M153.6 1471.3h0M158.2 1487.1h0M162.1 1499.7h0M154.7 1487.5h0M152.8 1446.6h0M153 1468.4h0M162.3 1526.2h0M112 1535h0M110.6 1559.3h0M106.2 1534.7h0M108 1548.2h0M108.6 1545.2h0M112.7 1556h0M107.8 1537.5h0M107.8 1533.7h0M104.1 1530.4h0M105.5 1544.9h0M106.9 1547.3h0M112.6 1535.1h0M111.2 1564.6h0M89.2 1575.4h0M85.8 1578h0M90.1 1571.7h0M87.5 1576.3h0M78.4 1611.1h0M79.4 1615.9h0M78.9 1631.4h0M74.1 1595.8h0M75.8 1595h0M75.5 1589.9h0M74.9 1609.2h0M74.8 1613.2h0M78.7 1598.4h0M74.4 1622.1h0M75.6 1589.9h0M82.9 1611.1h0M83.6 1590.4h0M78.8 1596.8h0M100 1583.6h0M98.8 1616.3h0M94.9 1596.1h0M94.9 1591.6h0M99.5 1588.9h0M97.1 1602.8h0M96.2 1630.7h0M99.6 1623.8h0M102.3 1610.4h0M94.1 1605.9h0M102.5 1607.9h0M101.4 1632.4h0M98.8 1608.8h0M95.8 1635h0M101.5 1625h0M94.2 1593.4h0M101 1582.8h0M102.7 1597.2h0M98.4 1603.1h0M97.3 1623.4h0M118.7 1587.1h0M119.2 1597.2h0M124.5 1586.7h0M124.8 1589.5h0M121.2 1589.2h0M125 1620.1h0M118 1628.5h0M123.9 1620h0M122.3 1587.2h0M118.1 1596.7h0M118.5 1628h0M117.7 1613.1h0M123.7 1578.8h0M121.8 1625.2h0M115.6 1604.2h0M122 1608.3h0M140.9 1601.2h0M136.9 1608.6h0M141.7 1598.6h0M144.2 1605.2h0M146.1 1595.2h0M137.1 1584.3h0M136.9 1597.3h0M145.4 1608.8h0M143.8 1583.4h0M145.7 1576.3h0M140.7 1595.9h0M208.2 1547.4h0M200.6 1540.4h0M203.5 1537h0M208.4 1541h0M206.9 1531.2h0M209 1539.8h0M208.9 1536.5h0M204.2 1547h0M181 1569.2h0M185.4 1559.6h0M181.8 1555.6h0M182.5 1555.4h0M181.1 1559.7h0M202.3 1595.2h0M201.1 1588.3h0M207 1589h0M204.6 1579.5h0M208.5 1600.8h0M200.1 1584.6h0M208.1 1589h0M204.3 1595.1h0"/>
<path fill="none" stroke="#E8B020" stroke-width="1.4" stroke-linecap="round" d="M160.7 1500.9h0M160.3 1459.8h0M153.1 1492h0M156 1465.2h0M159.2 1440.7h0M160.4 1493.9h0M152.8 1498.6h0M153.5 1439.4h0M153.7 1482.9h0M153.3 1501.4h0M160.5 1444.5h0M161.1 1516.2h0M153.7 1508.4h0M155.3 1464.6h0M154.1 1525h0M158.5 1506h0M161.5 1499.1h0M152 1449.9h0M153.7 1455.1h0M153.1 1484.8h0M153.8 1506.8h0M153.5 1437.6h0M156.1 1514.3h0M156.3 1443h0M157.2 1518.4h0M153.1 1459h0M156.9 1524h0M105.8 1544.5h0M107.8 1563h0M109.4 1535.6h0M104.8 1533.1h0M108.9 1565h0M111.8 1542.6h0M103.9 1549.7h0M105.2 1561.2h0M90.6 1580.2h0M77.7 1609.9h0M76.7 1590.1h0M76.7 1620.1h0M75.1 1614h0M79.8 1607.9h0M79.4 1593.2h0M78.5 1606h0M73.5 1605.7h0M74 1607.4h0M83.2 1597h0M97.6 1609h0M98.2 1620.4h0M95.1 1614.1h0M96.5 1583h0M96.8 1586.6h0M98.5 1595.6h0M95.7 1599.3h0M101.8 1614.8h0M98.1 1600h0M100.6 1591.4h0M97.6 1582.2h0M100.4 1609.1h0M96.1 1613.7h0M133 1569.1h0M118.4 1576.4h0M119.7 1594.9h0M116.7 1622.3h0M119.1 1578.6h0M124.4 1616.4h0M117 1619.9h0M124.9 1582.4h0M123.7 1610.2h0M124.8 1576.1h0M116.9 1585.8h0M122.1 1608.5h0M121.4 1585.2h0M119 1625.5h0M136.3 1588.9h0M136.8 1585.3h0M144.9 1600.7h0M140.1 1610.6h0M136.9 1610.8h0M137.7 1576.2h0M139.3 1599.1h0M141 1590.3h0M136.9 1580.2h0M141 1607h0M209.4 1534.1h0M203.6 1534.1h0M202.1 1548.9h0M206.9 1534h0M205.3 1545.5h0M208.6 1536.3h0M201.3 1539.8h0M181.9 1562.1h0M180.7 1562.5h0M203.5 1583.2h0M200.8 1589h0M201 1603.4h0M209.1 1597.6h0M200.8 1591h0"/>
<path fill="none" stroke="#E0C828" stroke-width="1.4" stroke-linecap="round" d="M160.8 1455.2h0M156 1451.5h0M155.2 1498.6h0M160 1491.6h0M157.2 1459h0M160.8 1469.8h0M157.2 1494.8h0M151.9 1523.4h0M152.9 1447.5h0M153.9 1507.6h0M152.5 1453.7h0M113.4 1545.6h0M110.4 1550h0M107.9 1535.6h0M105.6 1547.3h0M107.2 1542.1h0M105.7 1567.8h0M111.4 1536.7h0M108.8 1546.8h0M103.9 1545.9h0M112 1559.5h0M107.9 1543.8h0M112.4 1544.4h0M105.3 1561.3h0M112.4 1546.4h0M108.7 1551.8h0M105.7 1551.8h0M107.1 1549.7h0M88.4 1576.8h0M91.7 1577.9h0M76.7 1599.5h0M74.9 1628.1h0M75.3 1596.8h0M77.1 1618.2h0M78.3 1592.1h0M80.2 1588h0M78.9 1628.2h0M83.1 1615.3h0M74.8 1627h0M82.6 1589.7h0M77.9 1590.8h0M74.6 1615.3h0M74.9 1608h0M101.9 1605.4h0M98 1602.8h0M98.5 1605.3h0M94.2 1604.3h0M98.3 1592.8h0M103.1 1596.3h0M95.6 1599.7h0M94.4 1602.5h0M101.5 1587.9h0M99.2 1618.1h0M103.2 1610.9h0M98.5 1634.1h0M98.3 1593.7h0M124.2 1591.2h0M121.7 1576.1h0M115.3 1627h0M115.5 1619.6h0M117.8 1590.4h0M120.9 1626.5h0M118.6 1622h0M115.7 1633.2h0M124.7 1577.1h0M119.1 1625.2h0M121.8 1626.5h0M119.2 1627.5h0M118.9 1599.8h0M119.5 1628.1h0M118 1615.1h0M115.2 1582.4h0M117.6 1583.3h0M146.2 1598.7h0M138.3 1600.2h0M145 1602.2h0M143.8 1600.6h0M140.4 1601.5h0M146.1 1600.4h0M137.5 1590.5h0M203.1 1532.3h0M201.2 1552.5h0M209.6 1535.2h0M205.6 1535h0M210.3 1532.5h0M179.9 1562.1h0M183.5 1556.3h0M179.3 1561.1h0M203.8 1595.6h0M203.4 1585h0M203.8 1577.1h0M202.6 1578h0M204.5 1595.7h0M200.3 1600.1h0M205.6 1584.1h0"/>
<path fill="none" stroke="#C0C0A0" stroke-width="1.4" stroke-linecap="round" d="M165.8 1590.7h0M158.8 1576h0M161.6 1584.3h0M160.6 1575h0M162 1587.1h0M160.6 1577.8h0M165 1580.1h0M165 1574.7h0M162.8 1578.4h0M163.7 1582.2h0M165.7 1584.1h0M164.1 1579.8h0M161.7 1585.6h0M157.7 1576.4h0M223.2 1589.7h0M230.3 1565.4h0M229.2 1554.8h0M225.1 1554.8h0M223.9 1557.1h0M230.6 1581.5h0M224.4 1561.2h0M227.3 1559.3h0M225.7 1577.5h0M227.1 1561.4h0M223.6 1590.4h0M223.6 1565.1h0M224.2 1575.3h0M228.2 1570h0M224.8 1582.1h0M224.7 1580.7h0M222.8 1578.4h0M229.3 1582.9h0M228.8 1592.8h0M221.9 1587.7h0M227.3 1564.3h0M230.3 1568.2h0"/>
<path fill="none" stroke="#D8D030" stroke-width="1.4" stroke-linecap="round" d="M162.5 1572.3h0M157.5 1571.4h0M165.8 1587.5h0M162.5 1585.2h0M160.8 1578.6h0"/>
<path fill="none" stroke="#E8C020" stroke-width="1.4" stroke-linecap="round" d="M157.6 1581.3h0M165.1 1579.9h0M159.1 1576.2h0M158.6 1585.6h0M158.2 1571.3h0M157.9 1572h0"/>
<path fill="none" stroke="#F0B020" stroke-width="1.4" stroke-linecap="round" d="M160 1583.2h0M163.8 1578.9h0M158.2 1583.4h0M160.2 1575.4h0M161.6 1588.9h0M160.7 1590.4h0M181.3 1586.6h0M183.9 1579h0M183 1590.7h0M179.6 1590.4h0M183.1 1582.8h0M185.2 1593.4h0M183.3 1571.6h0"/>
<path fill="none" stroke="#E06030" stroke-width="1.4" stroke-linecap="round" d="M181.8 1584.2h0M186.8 1585.1h0M185.5 1576h0M185.1 1582.4h0M187 1588h0M182.1 1589.6h0M181.8 1586.2h0M185.9 1577.2h0M185.8 1578.6h0"/>
<path fill="none" stroke="#E89020" stroke-width="1.4" stroke-linecap="round" d="M185.5 1571h0M182.3 1580.5h0M186.6 1572.9h0M185.9 1588.8h0M183.9 1574h0M181.2 1579.1h0M185.4 1584.2h0M187.2 1572.4h0"/>
<path fill="none" stroke="#D8C030" stroke-width="1.4" stroke-linecap="round" d="M187.1 1576.9h0M181.1 1572.1h0M179.6 1580.6h0M186.8 1581.7h0M180.7 1572.9h0"/>
<path fill="none" stroke="#B0B0B0" stroke-width="1.4" stroke-linecap="round" d="M226.7 1557.9h0M223.7 1574.7h0M224.2 1567.6h0M230.4 1562.7h0M230 1562.6h0M229 1557.3h0M222.4 1587.8h0M227 1577.7h0M225.8 1589.8h0M230.1 1562.1h0M225 1581.3h0M230.4 1558.6h0M230.2 1574.2h0M227.5 1569.2h0"/>
<path fill="none" stroke="#E0C040" stroke-width="1.4" stroke-linecap="round" d="M230.3 1554.9h0M230.4 1559.6h0M222.6 1579.9h0M226 1590.5h0M222.6 1563.1h0M230.3 1572.1h0M226.7 1567.4h0M225 1555.5h0M222.2 1591.6h0M229.3 1561.1h0M227.9 1588.3h0M224.2 1555h0M226.2 1575.3h0M224.3 1585.8h0M224.6 1561h0M229.8 1584.3h0M224.6 1560.7h0"/>
<path fill="none" stroke="#D8D060" stroke-width="1.4" stroke-linecap="round" d="M226.2 1562.2h0M230.6 1561.6h0M224.7 1554.1h0M224.1 1584.4h0M227.9 1564.8h0M226.1 1575.1h0M223.9 1590.6h0"/>
<path fill="none" stroke="#C0C0C0" stroke-width="1.4" stroke-linecap="round" d="M292.4 1497.2h0M287.8 1472.2h0M291.5 1468.8h0M292.1 1487.7h0M287.5 1513.6h0M288.8 1518.8h0M289.1 1471.4h0M288.5 1509.1h0M290.1 1505.2h0M290.1 1461.1h0M292 1496h0M291.6 1482.9h0M287.5 1519.2h0M292.2 1502.9h0M289.6 1513.1h0M288.7 1509.5h0M292.1 1519.2h0"/>
<path fill="none" stroke="#D0D0D0" stroke-width="1.4" stroke-linecap="round" d="M287.4 1469.2h0M288.2 1496.4h0M288.4 1503.3h0M289.3 1527.2h0M287.9 1461.4h0M288.5 1525.2h0M290.4 1483.2h0M291.9 1480.4h0M291.6 1510.8h0M288.7 1502.2h0M289.9 1510.7h0M291.4 1489.5h0M291 1495.3h0M292.4 1493.8h0M291.4 1502h0M287.9 1515.4h0M291.9 1523h0M292.4 1489h0M292.2 1474.2h0M289 1515.6h0M288.4 1481h0M289.5 1487.8h0M289 1518.2h0"/>
<line x1="215.4" y1="1291" x2="215.4" y2="1434.8" stroke="#A0A0A0" stroke-width="1.8"/>
<line x1="211.2" y1="1291" x2="219.6" y2="1291" stroke="#A0A0A0" stroke-width="1.8"/>
<line x1="156.9" y1="1434.8" x2="215.4" y2="1434.8" stroke="#2E6EE8" stroke-width="2.6"/>
<line x1="215.4" y1="1434.8" x2="274.5" y2="1434.8" stroke="#9AA4C0" stroke-width="2.6"/>
<line x1="156.9" y1="1434.8" x2="156.9" y2="1528.9" stroke="#2060E8" stroke-width="1.8"/>
<line x1="107.2" y1="1528.9" x2="205.2" y2="1528.9" stroke="#7CE070" stroke-width="2.6"/>
<line x1="107.2" y1="1528.9" x2="107.2" y2="1568.1" stroke="#70D890" stroke-width="1.6"/>
<line x1="87.6" y1="1568.1" x2="132" y2="1568.1" stroke="#80E070" stroke-width="2.6"/>
<line x1="87.6" y1="1568.1" x2="87.6" y2="1581.2" stroke="#60E0B0" stroke-width="1.6"/>
<line x1="77.9" y1="1581.2" x2="98.8" y2="1581.2" stroke="#30E0F0" stroke-width="2.6"/>
<line x1="77.9" y1="1581.2" x2="77.9" y2="1640" stroke="#30E0E8" stroke-width="1.8"/>
<line x1="98.8" y1="1581.2" x2="98.8" y2="1645.2" stroke="#30E0E8" stroke-width="1.8"/>
<line x1="132" y1="1568.1" x2="132" y2="1574.6" stroke="#B0E040" stroke-width="1.6"/>
<line x1="119.7" y1="1574.6" x2="141.2" y2="1574.6" stroke="#B8E838" stroke-width="2.6"/>
<line x1="119.7" y1="1574.6" x2="119.7" y2="1644.7" stroke="#28E0E8" stroke-width="1.8"/>
<line x1="141.2" y1="1574.6" x2="141.2" y2="1615.2" stroke="#60E080" stroke-width="1.8"/>
<line x1="205.2" y1="1528.9" x2="205.2" y2="1553.2" stroke="#70E080" stroke-width="1.6"/>
<line x1="183" y1="1553.2" x2="205.2" y2="1553.2" stroke="#70E090" stroke-width="2.6"/>
<line x1="205.2" y1="1553.2" x2="226.1" y2="1553.2" stroke="#20D8F0" stroke-width="2.6"/>
<line x1="183" y1="1553.2" x2="183" y2="1570" stroke="#90E060" stroke-width="1.6"/>
<line x1="162" y1="1570" x2="183" y2="1570" stroke="#F0E020" stroke-width="2.6"/>
<line x1="183" y1="1570" x2="204.7" y2="1570" stroke="#70E090" stroke-width="2.6"/>
<line x1="162" y1="1570" x2="162" y2="1597" stroke="#60E080" stroke-width="1.8"/>
<line x1="183" y1="1570" x2="183" y2="1597" stroke="#F0E020" stroke-width="1.8"/>
<line x1="204.7" y1="1570" x2="204.7" y2="1624.3" stroke="#28E0E8" stroke-width="1.8"/>
<line x1="226.1" y1="1553.2" x2="226.1" y2="1602" stroke="#28E0E8" stroke-width="1.8"/>
<line x1="274.5" y1="1434.8" x2="274.5" y2="1457" stroke="#98A4C4" stroke-width="1.6"/>
<line x1="257.5" y1="1457" x2="289.7" y2="1457" stroke="#8CA0D0" stroke-width="2.6"/>
<line x1="257.5" y1="1457" x2="257.5" y2="1470.6" stroke="#7090D8" stroke-width="1.6"/>
<line x1="247" y1="1470.6" x2="268" y2="1470.6" stroke="#4A80E0" stroke-width="2.6"/>
<line x1="247" y1="1470.6" x2="247" y2="1577" stroke="#7C98D8" stroke-width="1.6"/>
<line x1="268" y1="1470.6" x2="268" y2="1557.6" stroke="#5A88E0" stroke-width="1.6"/>
<line x1="289.7" y1="1457" x2="289.7" y2="1528.9" stroke="#8090D0" stroke-width="1.6"/>
<rect x="66.7" y="1527" width="170.7" height="123.5" fill="none" stroke="#444" stroke-width="1" stroke-dasharray="3,2.5"/>
<circle cx="76.3" cy="1667.5" r="10.3" fill="none" stroke="#000" stroke-width="1.1"/>
<text x="76.3" y="1674.6" font-size="19.5" text-anchor="middle" fill="#000">1</text>
<circle cx="98" cy="1667.5" r="10.3" fill="none" stroke="#000" stroke-width="1.1"/>
<text x="98" y="1674.6" font-size="19.5" text-anchor="middle" fill="#000">2</text>
<circle cx="119.7" cy="1667.5" r="10.3" fill="none" stroke="#000" stroke-width="1.1"/>
<text x="119.7" y="1674.6" font-size="19.5" text-anchor="middle" fill="#000">3</text>
<circle cx="141.4" cy="1667.5" r="10.3" fill="none" stroke="#000" stroke-width="1.1"/>
<text x="141.4" y="1674.6" font-size="19.5" text-anchor="middle" fill="#000">4</text>
<circle cx="162.9" cy="1667.5" r="10.3" fill="none" stroke="#000" stroke-width="1.1"/>
<text x="162.9" y="1674.6" font-size="19.5" text-anchor="middle" fill="#000">5</text>
<circle cx="184.6" cy="1667.5" r="10.3" fill="none" stroke="#000" stroke-width="1.1"/>
<text x="184.6" y="1674.6" font-size="19.5" text-anchor="middle" fill="#000">6</text>
<circle cx="206" cy="1667.5" r="10.3" fill="none" stroke="#000" stroke-width="1.1"/>
<text x="206" y="1674.6" font-size="19.5" text-anchor="middle" fill="#000">7</text>
<circle cx="227.5" cy="1667.5" r="10.3" fill="none" stroke="#000" stroke-width="1.1"/>
<text x="227.5" y="1674.6" font-size="19.5" text-anchor="middle" fill="#000">8</text>
<text x="328.3" y="1255.5" font-size="35.5" text-anchor="start" fill="#000" font-weight="bold" stroke="#000" stroke-width="0.9">g</text>
<path fill="none" stroke="#2222EE" stroke-width="1.3" d="M397.8 1410.8C402.4 1415.4 416.3 1428.7 425.6 1438.8C434.8 1448.9 444.1 1462.1 453.4 1471.4C462.6 1480.8 471.9 1486.6 481.1 1494.8C490.4 1503 504.3 1516.2 508.9 1520.5"/>
<path fill="none" stroke="#D8601A" stroke-width="1.3" d="M397.8 1329.1C402.4 1331.8 416.3 1339.6 425.6 1345.4C434.8 1351.2 444.1 1357.9 453.4 1364.1C462.6 1370.3 471.9 1376.1 481.1 1382.8C490.4 1389.4 504.3 1400.3 508.9 1403.8"/>
<path fill="none" stroke="#EE7755" stroke-width="1.3" d="M397.8 1396.8C402.4 1391.3 416.3 1371.5 425.6 1364.1C434.8 1356.7 444.1 1350.9 453.4 1352.4C462.6 1354 471.9 1364.9 481.1 1373.4C490.4 1382 504.3 1398.7 508.9 1403.8"/>
<path fill="none" stroke="#F5A878" stroke-width="1.3" d="M397.8 1406.1C402.4 1409.6 416.3 1423.6 425.6 1427.1C434.8 1430.6 444.1 1425.9 453.4 1427.1C462.6 1428.3 471.9 1431.8 481.1 1434.1C490.4 1436.4 504.3 1439.9 508.9 1441.1"/>
<path fill="none" stroke="#FBD5A0" stroke-width="1.3" d="M397.8 1375.8C402.4 1379.3 416.3 1390.1 425.6 1396.8C434.8 1403.4 444.1 1410 453.4 1415.4C462.6 1420.9 471.9 1424.4 481.1 1429.4C490.4 1434.5 504.3 1443 508.9 1445.8"/>
<path fill="none" stroke="#F5E000" stroke-width="1.3" d="M397.8 1378.1C402.4 1379.6 416.3 1384.7 425.6 1387.4C434.8 1390.1 444.1 1392.1 453.4 1394.4C462.6 1396.8 471.9 1398.3 481.1 1401.4C490.4 1404.5 504.3 1411.1 508.9 1413.1"/>
<path fill="none" stroke="#5DAEE3" stroke-width="1.3" d="M397.8 1389.8C402.4 1390.5 416.3 1392.1 425.6 1394.4C434.8 1396.8 444.1 1399.9 453.4 1403.8C462.6 1407.6 471.9 1412.7 481.1 1417.8C490.4 1422.8 504.3 1431.4 508.9 1434.1"/>
<path fill="none" stroke="#A8D5F0" stroke-width="1.3" d="M397.8 1364.1C402.4 1371.1 416.3 1393.6 425.6 1406.1C434.8 1418.5 444.1 1430.2 453.4 1438.8C462.6 1447.3 471.9 1450.4 481.1 1457.4C490.4 1464.4 504.3 1476.9 508.9 1480.8"/>
<path fill="none" stroke="#B83050" stroke-width="1.3" d="M397.8 1333.7C402.4 1345.8 416.3 1385.5 425.6 1406.1C434.8 1426.7 444.1 1442.7 453.4 1457.4C462.6 1472.2 471.9 1482.3 481.1 1494.8C490.4 1507.2 504.3 1525.9 508.9 1532.1"/>
<path fill="none" stroke="#3D8CC8" stroke-width="1.3" d="M397.8 1326.7C402.4 1328.3 416.3 1332.2 425.6 1336.1C434.8 1340 444.1 1345 453.4 1350.1C462.6 1355.1 471.9 1360.2 481.1 1366.4C490.4 1372.6 504.3 1383.9 508.9 1387.4"/>
<path fill="none" stroke="#4A66B0" stroke-width="1.3" d="M397.8 1338.4C402.4 1349.3 416.3 1387 425.6 1403.8C434.8 1420.5 444.1 1429 453.4 1438.8C462.6 1448.5 471.9 1454.7 481.1 1462.1C490.4 1469.5 504.3 1479.6 508.9 1483.1"/>
<path fill="none" stroke="#6A1A78" stroke-width="1.3" d="M397.8 1345.4C402.4 1346.2 416.3 1343.1 425.6 1350.1C434.8 1357.1 444.1 1376.5 453.4 1387.4C462.6 1398.3 471.9 1408 481.1 1415.4C490.4 1422.8 504.3 1429 508.9 1431.8"/>
<path fill="none" stroke="#C03050" stroke-width="1.25" stroke-dasharray="2.6,1.8" d="M397.8 1490.1C401.5 1498.3 412.6 1530.6 420 1539.1C427.4 1547.7 434.8 1539.9 442.2 1541.5C449.6 1543 457.1 1549.2 464.5 1548.5C471.9 1547.7 479.3 1540.3 486.7 1536.8C494.1 1533.3 505.2 1529 508.9 1527.5"/>
<path fill="none" stroke="#E05038" stroke-width="1.25" stroke-dasharray="2.6,1.8" d="M397.8 1357.1C402.4 1362.9 416.3 1381.2 425.6 1392.1C434.8 1403 444.1 1414.3 453.4 1422.4C462.6 1430.6 471.9 1436 481.1 1441.1C490.4 1446.2 504.3 1450.8 508.9 1452.8"/>
<path fill="none" stroke="#F08A68" stroke-width="1.25" stroke-dasharray="2.6,1.8" d="M397.8 1364.1C402.4 1371.1 416.3 1394.4 425.6 1406.1C434.8 1417.8 444.1 1426.3 453.4 1434.1C462.6 1441.9 471.9 1446.9 481.1 1452.8C490.4 1458.6 504.3 1466.4 508.9 1469.1"/>
<path fill="none" stroke="#F5B088" stroke-width="1.25" stroke-dasharray="2.6,1.8" d="M397.8 1375.8C402.4 1385.5 416.3 1417.4 425.6 1434.1C434.8 1450.8 444.1 1466 453.4 1476.1C462.6 1486.2 471.9 1490.1 481.1 1494.8C490.4 1499.5 504.3 1502.6 508.9 1504.1"/>
<path fill="none" stroke="#FCD0A0" stroke-width="1.25" stroke-dasharray="2.6,1.8" d="M397.8 1387.4C402.4 1397.1 416.3 1428.3 425.6 1445.8C434.8 1463.3 444.1 1482.7 453.4 1492.5C462.6 1502.2 471.9 1500.2 481.1 1504.1C490.4 1508 504.3 1513.8 508.9 1515.8"/>
<path fill="none" stroke="#E8E010" stroke-width="1.25" stroke-dasharray="2.6,1.8" d="M397.8 1375.8C402.4 1374.2 416.3 1368.7 425.6 1366.4C434.8 1364.1 444.1 1361.4 453.4 1361.7C462.6 1362.1 471.9 1365.2 481.1 1368.7C490.4 1372.2 504.3 1380.4 508.9 1382.8"/>
<path fill="none" stroke="#66AEE0" stroke-width="1.25" stroke-dasharray="2.6,1.8" d="M397.8 1322.1C402.4 1325.2 416.3 1333 425.6 1340.7C434.8 1348.5 444.1 1357.9 453.4 1368.7C462.6 1379.6 471.9 1394.8 481.1 1406.1C490.4 1417.4 504.3 1431.4 508.9 1436.4"/>
<path fill="none" stroke="#A8D8F0" stroke-width="1.25" stroke-dasharray="2.6,1.8" d="M397.8 1382.8C402.4 1389.4 416.3 1410.8 425.6 1422.4C434.8 1434.1 444.1 1444.2 453.4 1452.8C462.6 1461.3 471.9 1467.9 481.1 1473.8C490.4 1479.6 504.3 1485.4 508.9 1487.8"/>
<path fill="none" stroke="#2828EE" stroke-width="1.25" stroke-dasharray="2.6,1.8" d="M397.8 1329.1C402.4 1331.8 416.3 1338 425.6 1345.4C434.8 1352.8 444.1 1363.3 453.4 1373.4C462.6 1383.5 471.9 1396.8 481.1 1406.1C490.4 1415.4 504.3 1425.5 508.9 1429.4"/>
<path fill="none" stroke="#3A88C8" stroke-width="1.25" stroke-dasharray="2.6,1.8" d="M397.8 1319.7C402.4 1321.3 416.3 1324.4 425.6 1329.1C434.8 1333.7 444.1 1343.1 453.4 1347.7C462.6 1352.4 471.9 1354 481.1 1357.1C490.4 1360.2 504.3 1364.9 508.9 1366.4"/>
<path fill="none" stroke="#4A66AA" stroke-width="1.25" stroke-dasharray="2.6,1.8" d="M397.8 1326.7C402.4 1329.8 416.3 1337.2 425.6 1345.4C434.8 1353.6 444.1 1365.6 453.4 1375.8C462.6 1385.9 471.9 1396.4 481.1 1406.1C490.4 1415.8 504.3 1429.4 508.9 1434.1"/>
<path fill="none" stroke="#7A1A80" stroke-width="1.25" stroke-dasharray="2.6,1.8" d="M397.8 1410.8C402.4 1408.4 416.3 1400.3 425.6 1396.8C434.8 1393.3 444.1 1389.8 453.4 1389.8C462.6 1389.8 471.9 1395.6 481.1 1396.8C490.4 1397.9 504.3 1396.8 508.9 1396.8"/>
<line x1="393.4" y1="1306" x2="393.4" y2="1559.8" stroke="#4a4a4a" stroke-width="1.8"/>
<line x1="392.4" y1="1559" x2="514" y2="1559" stroke="#4a4a4a" stroke-width="1.8"/>
<line x1="387.4" y1="1550.8" x2="393.4" y2="1550.8" stroke="#3a3a3a" stroke-width="1.6"/>
<text x="383.2" y="1557.9" font-size="20" text-anchor="end" fill="#000">0</text>
<line x1="387.4" y1="1492.5" x2="393.4" y2="1492.5" stroke="#3a3a3a" stroke-width="1.6"/>
<text x="383.2" y="1499.5" font-size="20" text-anchor="end" fill="#000">0.25</text>
<line x1="387.4" y1="1434.1" x2="393.4" y2="1434.1" stroke="#3a3a3a" stroke-width="1.6"/>
<text x="383.2" y="1441.2" font-size="20" text-anchor="end" fill="#000">0.50</text>
<line x1="387.4" y1="1375.8" x2="393.4" y2="1375.8" stroke="#3a3a3a" stroke-width="1.6"/>
<text x="383.2" y="1382.8" font-size="20" text-anchor="end" fill="#000">0.75</text>
<line x1="387.4" y1="1317.4" x2="393.4" y2="1317.4" stroke="#3a3a3a" stroke-width="1.6"/>
<text x="383.2" y="1324.5" font-size="20" text-anchor="end" fill="#000">1.00</text>
<line x1="395.1" y1="1559" x2="395.1" y2="1565" stroke="#3a3a3a" stroke-width="1.6"/>
<text x="395.1" y="1583" font-size="20" text-anchor="middle" fill="#000">0.45</text>
<line x1="459.6" y1="1559" x2="459.6" y2="1565" stroke="#3a3a3a" stroke-width="1.6"/>
<text x="459.6" y="1583" font-size="20" text-anchor="middle" fill="#000">0.55</text>
<circle cx="406.1" cy="1289" r="10.5" fill="none" stroke="#000" stroke-width="1.1"/>
<text x="406.1" y="1295.8" font-size="19" text-anchor="middle" fill="#000">1</text>
<text x="426.4" y="1296" font-size="20.5" text-anchor="start" fill="#000">Layer4</text>
<path fill="none" stroke="#2222EE" stroke-width="1.3" d="M524.2 1408.7C527.9 1411.8 539.1 1420.1 546.5 1427C553.9 1433.8 561.3 1442.6 568.8 1449.8C576.2 1457 583.6 1465.8 591 1470.4C598.5 1474.9 605.9 1471.5 613.3 1477.2C620.7 1482.9 631.9 1500 635.6 1504.6"/>
<path fill="none" stroke="#D8601A" stroke-width="1.3" d="M524.2 1328.8C528.8 1331.6 542.8 1339.5 552.1 1345.8C561.3 1352.1 570.6 1359 579.9 1366.5C589.2 1374.1 598.5 1387 607.8 1391.2C617 1395.4 631 1391.7 635.6 1391.8"/>
<path fill="none" stroke="#EE7755" stroke-width="1.3" d="M524.2 1395C528.8 1391.9 542.8 1383.8 552.1 1376.6C561.3 1369.3 570.6 1354.1 579.9 1351.6C589.2 1349 598.5 1351 607.8 1361.3C617 1371.6 631 1404.7 635.6 1413.4"/>
<path fill="none" stroke="#F5A878" stroke-width="1.3" d="M524.2 1404.2C528.8 1407.3 542.8 1420.3 552.1 1423.2C561.3 1426.1 570.6 1418 579.9 1421.5C589.2 1425 598.5 1440.8 607.8 1444.1C617 1447.5 631 1442.1 635.6 1441.7"/>
<path fill="none" stroke="#FBD5A0" stroke-width="1.3" d="M524.2 1374.5C528.8 1377 542.8 1382.8 552.1 1389.4C561.3 1396.1 570.6 1409.4 579.9 1414.6C589.2 1419.8 598.5 1414.5 607.8 1420.8C617 1427.1 631 1447.1 635.6 1452.4"/>
<path fill="none" stroke="#F5E000" stroke-width="1.3" d="M524.2 1376.8C528.8 1379.5 542.8 1388.6 552.1 1393.1C561.3 1397.5 570.6 1402.3 579.9 1403.4C589.2 1404.5 598.5 1400.1 607.8 1399.4C617 1398.7 631 1399.4 635.6 1399.4"/>
<path fill="none" stroke="#5DAEE3" stroke-width="1.3" d="M524.2 1388.2C528.8 1388.5 542.8 1389.2 552.1 1390.3C561.3 1391.3 570.6 1389.6 579.9 1394.4C589.2 1399.1 598.5 1413.7 607.8 1418.8C617 1423.8 631 1423.8 635.6 1424.8"/>
<path fill="none" stroke="#A8D5F0" stroke-width="1.3" d="M524.2 1363.1C528.8 1371.7 542.8 1401.9 552.1 1415.1C561.3 1428.2 570.6 1436.1 579.9 1441.8C589.2 1447.6 598.5 1444.7 607.8 1449.6C617 1454.5 631 1467.5 635.6 1471"/>
<path fill="none" stroke="#B83050" stroke-width="1.3" d="M524.2 1335.7C528.8 1349.7 542.8 1398.4 552.1 1420.1C561.3 1441.8 570.6 1455.5 579.9 1465.8C589.2 1476.1 598.5 1476.8 607.8 1481.8C617 1486.7 631 1493.2 635.6 1495.5"/>
<path fill="none" stroke="#3D8CC8" stroke-width="1.3" d="M524.2 1326.5C528.8 1328.4 542.8 1332.1 552.1 1337.8C561.3 1343.5 570.6 1355 579.9 1360.7C589.2 1366.3 598.5 1366.2 607.8 1371.7C617 1377.3 631 1390.2 635.6 1393.8"/>
<path fill="none" stroke="#4A66B0" stroke-width="1.3" d="M524.2 1337.9C528.8 1349.6 542.8 1392.9 552.1 1407.9C561.3 1422.8 570.6 1417.8 579.9 1427.6C589.2 1437.5 598.5 1460.3 607.8 1467.2C617 1474.1 631 1468.6 635.6 1468.9"/>
<path fill="none" stroke="#6A1A78" stroke-width="1.3" d="M524.2 1344.8C528.8 1343.8 542.8 1330.1 552.1 1339C561.3 1347.9 570.6 1385.1 579.9 1398.1C589.2 1411 598.5 1411.4 607.8 1416.6C617 1421.8 631 1427.3 635.6 1429.5"/>
<path fill="none" stroke="#C03050" stroke-width="1.25" stroke-dasharray="2.6,1.8" d="M524.2 1484.1C527.9 1491.3 539.1 1519.4 546.5 1527.4C553.9 1535.4 561.3 1530.1 568.8 1532C576.2 1533.9 583.6 1537.3 591 1538.9C598.5 1540.4 605.9 1540.8 613.3 1541.1C620.7 1541.5 631.9 1541.1 635.6 1541.1"/>
<path fill="none" stroke="#E05038" stroke-width="1.25" stroke-dasharray="2.6,1.8" d="M524.2 1356.2C528.8 1364.1 542.8 1392.5 552.1 1403.5C561.3 1414.5 570.6 1418.2 579.9 1422.2C589.2 1426.2 598.5 1420.9 607.8 1427.3C617 1433.6 631 1454.9 635.6 1460.4"/>
<path fill="none" stroke="#F08A68" stroke-width="1.25" stroke-dasharray="2.6,1.8" d="M524.2 1363.1C528.8 1369.5 542.8 1388.4 552.1 1401.5C561.3 1414.6 570.6 1434.2 579.9 1441.9C589.2 1449.6 598.5 1445.5 607.8 1447.7C617 1449.8 631 1453.7 635.6 1455"/>
<path fill="none" stroke="#F5B088" stroke-width="1.25" stroke-dasharray="2.6,1.8" d="M524.2 1374.5C528.8 1385.3 542.8 1421.1 552.1 1439.7C561.3 1458.3 570.6 1475.7 579.9 1486.1C589.2 1496.6 598.5 1500.2 607.8 1502.3C617 1504.5 631 1499.5 635.6 1499"/>
<path fill="none" stroke="#FCD0A0" stroke-width="1.25" stroke-dasharray="2.6,1.8" d="M524.2 1385.9C528.8 1397.6 542.8 1437.2 552.1 1456.2C561.3 1475.2 570.6 1492.7 579.9 1500C589.2 1507.3 598.5 1500.1 607.8 1500.1C617 1500.1 631 1500 635.6 1499.9"/>
<path fill="none" stroke="#E8E010" stroke-width="1.25" stroke-dasharray="2.6,1.8" d="M524.2 1374.5C528.8 1373.3 542.8 1369.3 552.1 1367.5C561.3 1365.7 570.6 1364.2 579.9 1363.6C589.2 1363 598.5 1359 607.8 1363.8C617 1368.6 631 1387.7 635.6 1392.5"/>
<path fill="none" stroke="#66AEE0" stroke-width="1.25" stroke-dasharray="2.6,1.8" d="M524.2 1322C528.8 1324.6 542.8 1328.9 552.1 1338C561.3 1347.1 570.6 1366.1 579.9 1376.6C589.2 1387.1 598.5 1393.7 607.8 1401.2C617 1408.6 631 1417.9 635.6 1421.3"/>
<path fill="none" stroke="#A8D8F0" stroke-width="1.25" stroke-dasharray="2.6,1.8" d="M524.2 1381.3C528.8 1389.8 542.8 1421.2 552.1 1432.3C561.3 1443.5 570.6 1442.5 579.9 1448.3C589.2 1454.2 598.5 1459.9 607.8 1467.4C617 1475 631 1489.3 635.6 1493.7"/>
<path fill="none" stroke="#2828EE" stroke-width="1.25" stroke-dasharray="2.6,1.8" d="M524.2 1328.8C528.8 1332.5 542.8 1346.2 552.1 1351.1C561.3 1356.1 570.6 1352.1 579.9 1358.6C589.2 1365.2 598.5 1377.4 607.8 1390.5C617 1403.6 631 1429.6 635.6 1437.4"/>
<path fill="none" stroke="#3A88C8" stroke-width="1.25" stroke-dasharray="2.6,1.8" d="M524.2 1319.7C528.8 1320.3 542.8 1320.7 552.1 1323.2C561.3 1325.7 570.6 1328 579.9 1334.7C589.2 1341.4 598.5 1358.8 607.8 1363.4C617 1368 631 1362.5 635.6 1362.3"/>
<path fill="none" stroke="#4A66AA" stroke-width="1.25" stroke-dasharray="2.6,1.8" d="M524.2 1326.5C528.8 1331.7 542.8 1348.7 552.1 1357.3C561.3 1365.9 570.6 1371.1 579.9 1378.1C589.2 1385.2 598.5 1390.9 607.8 1399.4C617 1407.9 631 1424.1 635.6 1429.1"/>
<path fill="none" stroke="#7A1A80" stroke-width="1.25" stroke-dasharray="2.6,1.8" d="M524.2 1408.7C528.8 1405.2 542.8 1389 552.1 1387.5C561.3 1386 570.6 1397.5 579.9 1399.5C589.2 1401.4 598.5 1401.6 607.8 1399.2C617 1396.8 631 1387.4 635.6 1385"/>
<line x1="519.1" y1="1306" x2="519.1" y2="1559.8" stroke="#4a4a4a" stroke-width="1.8"/>
<line x1="518.1" y1="1559" x2="640.7" y2="1559" stroke="#4a4a4a" stroke-width="1.8"/>
<line x1="513.1" y1="1545.7" x2="519.1" y2="1545.7" stroke="#3a3a3a" stroke-width="1.6"/>
<line x1="513.1" y1="1488.6" x2="519.1" y2="1488.6" stroke="#3a3a3a" stroke-width="1.6"/>
<line x1="513.1" y1="1431.6" x2="519.1" y2="1431.6" stroke="#3a3a3a" stroke-width="1.6"/>
<line x1="513.1" y1="1374.5" x2="519.1" y2="1374.5" stroke="#3a3a3a" stroke-width="1.6"/>
<line x1="513.1" y1="1317.4" x2="519.1" y2="1317.4" stroke="#3a3a3a" stroke-width="1.6"/>
<line x1="527.6" y1="1559" x2="527.6" y2="1565" stroke="#3a3a3a" stroke-width="1.6"/>
<text x="527.6" y="1583" font-size="20" text-anchor="middle" fill="#000">0.45</text>
<line x1="588.4" y1="1559" x2="588.4" y2="1565" stroke="#3a3a3a" stroke-width="1.6"/>
<text x="588.4" y="1583" font-size="20" text-anchor="middle" fill="#000">0.55</text>
<circle cx="531.8" cy="1289" r="10.5" fill="none" stroke="#000" stroke-width="1.1"/>
<text x="531.8" y="1295.8" font-size="19" text-anchor="middle" fill="#000">2</text>
<text x="546.3" y="1296" font-size="20.5" text-anchor="start" fill="#000">UL_CPN</text>
<path fill="none" stroke="#2222EE" stroke-width="1.3" d="M651.6 1408.4C655.3 1410.3 666.5 1413.8 674 1419.8C681.5 1425.9 689 1436.9 696.4 1444.9C703.9 1452.8 711.4 1461.9 718.9 1467.6C726.3 1473.3 733.8 1476.7 741.3 1479C748.8 1481.3 760 1480.9 763.7 1481.3"/>
<path fill="none" stroke="#D8601A" stroke-width="1.3" d="M651.6 1328.8C656.3 1331.1 670.3 1336.5 679.6 1342.4C689 1348.3 698.3 1357.4 707.7 1364.3C717 1371.1 726.3 1379.8 735.7 1383.8C745 1387.8 759 1387.6 763.7 1388.3"/>
<path fill="none" stroke="#EE7755" stroke-width="1.3" d="M651.6 1394.8C656.3 1389.1 670.3 1365.9 679.6 1360.9C689 1355.9 698.3 1364.2 707.7 1364.7C717 1365.2 726.3 1356.9 735.7 1363.8C745 1370.8 759 1399.2 763.7 1406.3"/>
<path fill="none" stroke="#F5A878" stroke-width="1.3" d="M651.6 1403.9C656.3 1407.6 670.3 1421.5 679.6 1426.2C689 1430.9 698.3 1431.1 707.7 1432.2C717 1433.3 726.3 1431 735.7 1432.7C745 1434.5 759 1441.1 763.7 1442.8"/>
<path fill="none" stroke="#FBD5A0" stroke-width="1.3" d="M651.6 1374.3C656.3 1379.6 670.3 1400.2 679.6 1406C689 1411.9 698.3 1404.2 707.7 1409.5C717 1414.7 726.3 1433.3 735.7 1437.5C745 1441.7 759 1435.3 763.7 1434.8"/>
<path fill="none" stroke="#F5E000" stroke-width="1.3" d="M651.6 1376.6C656.3 1380.3 670.3 1397.3 679.6 1398.6C689 1400 698.3 1386.1 707.7 1384.8C717 1383.6 726.3 1386.6 735.7 1390.9C745 1395.3 759 1407.5 763.7 1410.8"/>
<path fill="none" stroke="#5DAEE3" stroke-width="1.3" d="M651.6 1388C656.3 1387.8 670.3 1383.4 679.6 1386.8C689 1390.2 698.3 1404.8 707.7 1408.5C717 1412.2 726.3 1404.7 735.7 1408.8C745 1412.9 759 1429.2 763.7 1433.2"/>
<path fill="none" stroke="#A8D5F0" stroke-width="1.3" d="M651.6 1362.9C656.3 1371 670.3 1401.2 679.6 1411.2C689 1421.3 698.3 1415.5 707.7 1423.1C717 1430.6 726.3 1447.1 735.7 1456.7C745 1466.2 759 1476.3 763.7 1480.2"/>
<path fill="none" stroke="#B83050" stroke-width="1.3" d="M651.6 1335.6C656.3 1347.7 670.3 1388 679.6 1408.4C689 1428.9 698.3 1445.2 707.7 1458.5C717 1471.8 726.3 1479.4 735.7 1488.1C745 1496.8 759 1507.1 763.7 1510.9"/>
<path fill="none" stroke="#3D8CC8" stroke-width="1.3" d="M651.6 1326.5C656.3 1326.4 670.3 1321.4 679.6 1325.8C689 1330.2 698.3 1347 707.7 1352.8C717 1358.6 726.3 1353.6 735.7 1360.6C745 1367.6 759 1389 763.7 1394.7"/>
<path fill="none" stroke="#4A66B0" stroke-width="1.3" d="M651.6 1337.9C656.3 1346.9 670.3 1374.8 679.6 1392.2C689 1409.6 698.3 1429.2 707.7 1442.3C717 1455.4 726.3 1466.8 735.7 1470.8C745 1474.7 759 1466.8 763.7 1466"/>
<path fill="none" stroke="#6A1A78" stroke-width="1.3" d="M651.6 1344.7C656.3 1347 670.3 1353.4 679.6 1358.2C689 1363 698.3 1366.6 707.7 1373.5C717 1380.4 726.3 1391 735.7 1399.7C745 1408.5 759 1421.6 763.7 1426"/>
<path fill="none" stroke="#C03050" stroke-width="1.25" stroke-dasharray="2.6,1.8" d="M651.6 1476.7C655.3 1485.1 666.5 1518.4 674 1526.8C681.5 1535.1 689 1526 696.4 1526.8C703.9 1527.6 711.4 1529.4 718.9 1531.3C726.3 1533.2 733.8 1536.7 741.3 1538.2C748.8 1539.7 760 1540.1 763.7 1540.4"/>
<path fill="none" stroke="#E05038" stroke-width="1.25" stroke-dasharray="2.6,1.8" d="M651.6 1356.1C656.3 1364 670.3 1390.9 679.6 1403.6C689 1416.2 698.3 1424.7 707.7 1431.8C717 1438.9 726.3 1442.5 735.7 1446C745 1449.4 759 1451.4 763.7 1452.4"/>
<path fill="none" stroke="#F08A68" stroke-width="1.25" stroke-dasharray="2.6,1.8" d="M651.6 1362.9C656.3 1369.2 670.3 1391.6 679.6 1400.8C689 1410.1 698.3 1409.7 707.7 1418.5C717 1427.2 726.3 1443.9 735.7 1453.4C745 1462.8 759 1471.5 763.7 1475.2"/>
<path fill="none" stroke="#F5B088" stroke-width="1.25" stroke-dasharray="2.6,1.8" d="M651.6 1374.3C656.3 1383.5 670.3 1411.5 679.6 1429.5C689 1447.5 698.3 1470 707.7 1482.1C717 1494.1 726.3 1499 735.7 1501.7C745 1504.3 759 1498.6 763.7 1498"/>
<path fill="none" stroke="#FCD0A0" stroke-width="1.25" stroke-dasharray="2.6,1.8" d="M651.6 1385.7C656.3 1394.3 670.3 1418.2 679.6 1437.2C689 1456.3 698.3 1489.4 707.7 1500C717 1510.6 726.3 1499.9 735.7 1500.8C745 1501.7 759 1504.5 763.7 1505.3"/>
<path fill="none" stroke="#E8E010" stroke-width="1.25" stroke-dasharray="2.6,1.8" d="M651.6 1374.3C656.3 1371.6 670.3 1359.7 679.6 1358C689 1356.2 698.3 1364 707.7 1363.8C717 1363.7 726.3 1352.5 735.7 1356.9C745 1361.3 759 1384.6 763.7 1390.2"/>
<path fill="none" stroke="#66AEE0" stroke-width="1.25" stroke-dasharray="2.6,1.8" d="M651.6 1322C656.3 1324 670.3 1327.9 679.6 1334.3C689 1340.6 698.3 1350.2 707.7 1360.1C717 1369.9 726.3 1381.2 735.7 1393.5C745 1405.8 759 1426.9 763.7 1433.6"/>
<path fill="none" stroke="#A8D8F0" stroke-width="1.25" stroke-dasharray="2.6,1.8" d="M651.6 1381.1C656.3 1389.4 670.3 1417.3 679.6 1430.8C689 1444.2 698.3 1455.4 707.7 1461.7C717 1468.1 726.3 1464 735.7 1469.1C745 1474.2 759 1488.6 763.7 1492.5"/>
<path fill="none" stroke="#2828EE" stroke-width="1.25" stroke-dasharray="2.6,1.8" d="M651.6 1328.8C656.3 1330.8 670.3 1332.1 679.6 1341.2C689 1350.3 698.3 1374.2 707.7 1383.4C717 1392.6 726.3 1387.8 735.7 1396.2C745 1404.7 759 1427.9 763.7 1434.2"/>
<path fill="none" stroke="#3A88C8" stroke-width="1.25" stroke-dasharray="2.6,1.8" d="M651.6 1319.7C656.3 1323.4 670.3 1336.1 679.6 1342.1C689 1348.1 698.3 1353.3 707.7 1355.8C717 1358.4 726.3 1356 735.7 1357.3C745 1358.6 759 1362.5 763.7 1363.6"/>
<path fill="none" stroke="#4A66AA" stroke-width="1.25" stroke-dasharray="2.6,1.8" d="M651.6 1326.5C656.3 1330 670.3 1338.3 679.6 1347.8C689 1357.2 698.3 1373.8 707.7 1383.2C717 1392.7 726.3 1398.4 735.7 1404.4C745 1410.3 759 1416.6 763.7 1419"/>
<path fill="none" stroke="#7A1A80" stroke-width="1.25" stroke-dasharray="2.6,1.8" d="M651.6 1408.4C656.3 1406 670.3 1399.2 679.6 1393.8C689 1388.4 698.3 1373.6 707.7 1375.9C717 1378.2 726.3 1406.8 735.7 1407.7C745 1408.6 759 1385.7 763.7 1381.3"/>
<line x1="647.1" y1="1306" x2="647.1" y2="1559.8" stroke="#4a4a4a" stroke-width="1.8"/>
<line x1="646.1" y1="1559" x2="768.8" y2="1559" stroke="#4a4a4a" stroke-width="1.8"/>
<line x1="641.1" y1="1545" x2="647.1" y2="1545" stroke="#3a3a3a" stroke-width="1.6"/>
<line x1="641.1" y1="1488.1" x2="647.1" y2="1488.1" stroke="#3a3a3a" stroke-width="1.6"/>
<line x1="641.1" y1="1431.2" x2="647.1" y2="1431.2" stroke="#3a3a3a" stroke-width="1.6"/>
<line x1="641.1" y1="1374.3" x2="647.1" y2="1374.3" stroke="#3a3a3a" stroke-width="1.6"/>
<line x1="641.1" y1="1317.4" x2="647.1" y2="1317.4" stroke="#3a3a3a" stroke-width="1.6"/>
<line x1="656.3" y1="1559" x2="656.3" y2="1565" stroke="#3a3a3a" stroke-width="1.6"/>
<text x="656.3" y="1583" font-size="20" text-anchor="middle" fill="#000">0.45</text>
<line x1="728.7" y1="1559" x2="728.7" y2="1565" stroke="#3a3a3a" stroke-width="1.6"/>
<text x="728.7" y="1583" font-size="20" text-anchor="middle" fill="#000">0.55</text>
<circle cx="659.2" cy="1289" r="10.5" fill="none" stroke="#000" stroke-width="1.1"/>
<text x="659.2" y="1295.8" font-size="19" text-anchor="middle" fill="#000">3</text>
<text x="675.3" y="1296" font-size="20.5" text-anchor="start" fill="#000">DL_CPN1</text>
<path fill="none" stroke="#2222EE" stroke-width="1.3" d="M781.2 1411.5C784.9 1413.2 796 1416.6 803.4 1421.8C810.8 1427 818.2 1435.6 825.6 1442.5C833 1449.4 840.5 1460.1 847.9 1463.2C855.3 1466.3 862.7 1465.5 870.1 1460.9C877.5 1456.3 888.6 1439.8 892.3 1435.6"/>
<path fill="none" stroke="#D8601A" stroke-width="1.3" d="M781.2 1327.5C785.8 1326.9 799.7 1321.2 809 1323.7C818.2 1326.1 827.5 1337.6 836.8 1342.4C846 1347.1 855.3 1348.7 864.5 1352.2C873.8 1355.6 887.7 1361.4 892.3 1363.3"/>
<path fill="none" stroke="#EE7755" stroke-width="1.3" d="M781.2 1394.2C785.8 1385.4 799.7 1349.8 809 1341.5C818.2 1333.1 827.5 1344.4 836.8 1344.1C846 1343.8 855.3 1336.5 864.5 1339.7C873.8 1342.8 887.7 1359.2 892.3 1363.1"/>
<path fill="none" stroke="#F5A878" stroke-width="1.3" d="M781.2 1403.4C785.8 1406.2 799.7 1421.1 809 1420.4C818.2 1419.8 827.5 1403.3 836.8 1399.5C846 1395.6 855.3 1395.2 864.5 1397.3C873.8 1399.4 887.7 1409.6 892.3 1412.1"/>
<path fill="none" stroke="#FBD5A0" stroke-width="1.3" d="M781.2 1373.5C785.8 1374.5 799.7 1375.8 809 1379.5C818.2 1383.2 827.5 1392.2 836.8 1395.5C846 1398.7 855.3 1398 864.5 1399.1C873.8 1400.1 887.7 1401.4 892.3 1401.9"/>
<path fill="none" stroke="#F5E000" stroke-width="1.3" d="M781.2 1375.8C785.8 1377.9 799.7 1389 809 1388.1C818.2 1387.3 827.5 1372.9 836.8 1370.7C846 1368.4 855.3 1376 864.5 1374.7C873.8 1373.4 887.7 1365 892.3 1363"/>
<path fill="none" stroke="#5DAEE3" stroke-width="1.3" d="M781.2 1387.3C785.8 1387.8 799.7 1392.4 809 1390.1C818.2 1387.9 827.5 1375.3 836.8 1373.8C846 1372.3 855.3 1378.1 864.5 1381C873.8 1383.8 887.7 1389.1 892.3 1390.8"/>
<path fill="none" stroke="#A8D5F0" stroke-width="1.3" d="M781.2 1362C785.8 1365.6 799.7 1372.5 809 1383.8C818.2 1395.2 827.5 1423.4 836.8 1430C846 1436.7 855.3 1422.5 864.5 1423.7C873.8 1424.9 887.7 1434.8 892.3 1437.1"/>
<path fill="none" stroke="#B83050" stroke-width="1.3" d="M781.2 1350.5C785.8 1359.3 799.7 1386.2 809 1403.4C818.2 1420.7 827.5 1442.5 836.8 1454C846 1465.5 855.3 1467.8 864.5 1472.4C873.8 1477 887.7 1480.1 892.3 1481.6"/>
<path fill="none" stroke="#3D8CC8" stroke-width="1.3" d="M781.2 1325.2C785.8 1324.4 799.7 1319.1 809 1320.3C818.2 1321.5 827.5 1327.7 836.8 1332.4C846 1337.1 855.3 1344.5 864.5 1348.6C873.8 1352.7 887.7 1355.4 892.3 1356.8"/>
<path fill="none" stroke="#4A66B0" stroke-width="1.3" d="M781.2 1336.7C785.8 1345.4 799.7 1374 809 1388.9C818.2 1403.8 827.5 1417 836.8 1426C846 1435 855.3 1439.6 864.5 1443C873.8 1446.4 887.7 1445.9 892.3 1446.5"/>
<path fill="none" stroke="#6A1A78" stroke-width="1.3" d="M781.2 1343.6C785.8 1343 799.7 1336.2 809 1339.8C818.2 1343.5 827.5 1355.9 836.8 1365.6C846 1375.3 855.3 1395 864.5 1398.1C873.8 1401.2 887.7 1386.6 892.3 1384.3"/>
<path fill="none" stroke="#C03050" stroke-width="1.25" stroke-dasharray="2.6,1.8" d="M781.2 1488.5C784.9 1495 796 1521.8 803.4 1527.6C810.8 1533.3 818.2 1523 825.6 1523C833 1523 840.5 1525.7 847.9 1527.6C855.3 1529.5 862.7 1531.4 870.1 1534.5C877.5 1537.6 888.6 1544.1 892.3 1546"/>
<path fill="none" stroke="#E05038" stroke-width="1.25" stroke-dasharray="2.6,1.8" d="M781.2 1355.1C785.8 1360.1 799.7 1378.6 809 1385C818.2 1391.4 827.5 1386.8 836.8 1393.3C846 1399.8 855.3 1422.7 864.5 1423.9C873.8 1425 887.7 1404 892.3 1400.1"/>
<path fill="none" stroke="#F08A68" stroke-width="1.25" stroke-dasharray="2.6,1.8" d="M781.2 1362C785.8 1367 799.7 1385.5 809 1391.7C818.2 1398 827.5 1396.7 836.8 1399.5C846 1402.2 855.3 1405 864.5 1408.4C873.8 1411.7 887.7 1417.7 892.3 1419.5"/>
<path fill="none" stroke="#F5B088" stroke-width="1.25" stroke-dasharray="2.6,1.8" d="M781.2 1373.5C785.8 1383.4 799.7 1418.6 809 1432.7C818.2 1446.8 827.5 1451.8 836.8 1458.2C846 1464.5 855.3 1471.1 864.5 1470.6C873.8 1470.2 887.7 1458 892.3 1455.5"/>
<path fill="none" stroke="#FCD0A0" stroke-width="1.25" stroke-dasharray="2.6,1.8" d="M781.2 1385C785.8 1394.5 799.7 1426.3 809 1441.8C818.2 1457.3 827.5 1470.9 836.8 1477.8C846 1484.7 855.3 1481.9 864.5 1483.1C873.8 1484.4 887.7 1484.8 892.3 1485.2"/>
<path fill="none" stroke="#E8E010" stroke-width="1.25" stroke-dasharray="2.6,1.8" d="M781.2 1373.5C785.8 1368.4 799.7 1350.6 809 1343C818.2 1335.5 827.5 1328.2 836.8 1328.2C846 1328.1 855.3 1341.1 864.5 1342.5C873.8 1344 887.7 1337.9 892.3 1336.9"/>
<path fill="none" stroke="#66AEE0" stroke-width="1.25" stroke-dasharray="2.6,1.8" d="M781.2 1320.6C785.8 1322.3 799.7 1326.2 809 1330.7C818.2 1335.2 827.5 1339.5 836.8 1347.6C846 1355.7 855.3 1371.9 864.5 1379.4C873.8 1386.9 887.7 1390.6 892.3 1392.8"/>
<path fill="none" stroke="#A8D8F0" stroke-width="1.25" stroke-dasharray="2.6,1.8" d="M781.2 1380.4C785.8 1386.6 799.7 1408 809 1417.6C818.2 1427.1 827.5 1433.7 836.8 1437.7C846 1441.8 855.3 1439.1 864.5 1442C873.8 1445 887.7 1453.2 892.3 1455.5"/>
<path fill="none" stroke="#2828EE" stroke-width="1.25" stroke-dasharray="2.6,1.8" d="M781.2 1327.5C785.8 1328.9 799.7 1333.9 809 1336.1C818.2 1338.3 827.5 1331.7 836.8 1340.5C846 1349.4 855.3 1379 864.5 1389C873.8 1399 887.7 1398.6 892.3 1400.6"/>
<path fill="none" stroke="#3A88C8" stroke-width="1.25" stroke-dasharray="2.6,1.8" d="M781.2 1318.3C785.8 1318.3 799.7 1314.7 809 1318.3C818.2 1321.9 827.5 1337 836.8 1339.7C846 1342.4 855.3 1337.9 864.5 1334.4C873.8 1330.8 887.7 1321 892.3 1318.3"/>
<path fill="none" stroke="#4A66AA" stroke-width="1.25" stroke-dasharray="2.6,1.8" d="M781.2 1325.2C785.8 1326.2 799.7 1325.2 809 1331.5C818.2 1337.8 827.5 1353.4 836.8 1362.8C846 1372.2 855.3 1381.7 864.5 1388C873.8 1394.2 887.7 1398.3 892.3 1400.4"/>
<path fill="none" stroke="#7A1A80" stroke-width="1.25" stroke-dasharray="2.6,1.8" d="M781.2 1408C785.8 1405.1 799.7 1398.4 809 1390.5C818.2 1382.6 827.5 1366.8 836.8 1360.6C846 1354.4 855.3 1355.3 864.5 1353.5C873.8 1351.6 887.7 1350.2 892.3 1349.5"/>
<line x1="775.6" y1="1306" x2="775.6" y2="1559.8" stroke="#4a4a4a" stroke-width="1.8"/>
<line x1="774.6" y1="1559" x2="897.9" y2="1559" stroke="#4a4a4a" stroke-width="1.8"/>
<line x1="769.6" y1="1546" x2="775.6" y2="1546" stroke="#3a3a3a" stroke-width="1.6"/>
<line x1="769.6" y1="1488.5" x2="775.6" y2="1488.5" stroke="#3a3a3a" stroke-width="1.6"/>
<line x1="769.6" y1="1431" x2="775.6" y2="1431" stroke="#3a3a3a" stroke-width="1.6"/>
<line x1="769.6" y1="1373.5" x2="775.6" y2="1373.5" stroke="#3a3a3a" stroke-width="1.6"/>
<line x1="769.6" y1="1316" x2="775.6" y2="1316" stroke="#3a3a3a" stroke-width="1.6"/>
<line x1="815.2" y1="1559" x2="815.2" y2="1565" stroke="#3a3a3a" stroke-width="1.6"/>
<text x="815.2" y="1583" font-size="20" text-anchor="middle" fill="#000">0.50</text>
<line x1="862.5" y1="1559" x2="862.5" y2="1565" stroke="#3a3a3a" stroke-width="1.6"/>
<text x="862.5" y="1583" font-size="20" text-anchor="middle" fill="#000">0.55</text>
<circle cx="789.7" cy="1289" r="10.5" fill="none" stroke="#000" stroke-width="1.1"/>
<text x="789.7" y="1295.8" font-size="19" text-anchor="middle" fill="#000">4</text>
<text x="805.3" y="1296" font-size="20.5" text-anchor="start" fill="#000">DL_CPN2</text>
<path fill="none" stroke="#2222EE" stroke-width="1.3" d="M908.7 1401.3C912.4 1404.4 923.4 1414.8 930.8 1419.8C938.2 1424.8 945.5 1425.5 952.9 1431.3C960.3 1437.1 967.6 1449 975 1454.4C982.4 1459.7 989.7 1463.2 997.1 1463.6C1004.5 1464 1015.5 1457.8 1019.2 1456.7"/>
<path fill="none" stroke="#D8601A" stroke-width="1.3" d="M908.7 1327.5C913.3 1326.8 927.1 1322.6 936.3 1323.3C945.5 1324 954.7 1328.6 964 1331.8C973.2 1334.9 982.4 1339 991.6 1342.5C1000.8 1346 1014.6 1351.1 1019.2 1352.8"/>
<path fill="none" stroke="#EE7755" stroke-width="1.3" d="M908.7 1394.4C913.3 1385.3 927.1 1348.5 936.3 1340C945.5 1331.5 954.7 1341.9 964 1343.4C973.2 1344.8 982.4 1344 991.6 1348.7C1000.8 1353.4 1014.6 1367.6 1019.2 1371.4"/>
<path fill="none" stroke="#F5A878" stroke-width="1.3" d="M908.7 1403.6C913.3 1405.1 927.1 1411.9 936.3 1412.3C945.5 1412.7 954.7 1406.9 964 1406.2C973.2 1405.4 982.4 1410.2 991.6 1407.9C1000.8 1405.5 1014.6 1394.6 1019.2 1392"/>
<path fill="none" stroke="#FBD5A0" stroke-width="1.3" d="M908.7 1373.7C913.3 1376 927.1 1383.2 936.3 1388C945.5 1392.8 954.7 1399.6 964 1402.5C973.2 1405.3 982.4 1404.4 991.6 1405.2C1000.8 1406 1014.6 1406.7 1019.2 1407"/>
<path fill="none" stroke="#F5E000" stroke-width="1.3" d="M908.7 1376C913.3 1375.4 927.1 1373.6 936.3 1372.9C945.5 1372.2 954.7 1371.7 964 1371.8C973.2 1371.8 982.4 1371.2 991.6 1373C1000.8 1374.8 1014.6 1380.8 1019.2 1382.3"/>
<path fill="none" stroke="#5DAEE3" stroke-width="1.3" d="M908.7 1387.5C913.3 1387.2 927.1 1385.5 936.3 1385.6C945.5 1385.6 954.7 1385.9 964 1387.7C973.2 1389.6 982.4 1395.7 991.6 1396.6C1000.8 1397.5 1014.6 1393.8 1019.2 1393.2"/>
<path fill="none" stroke="#A8D5F0" stroke-width="1.3" d="M908.7 1362.1C913.3 1368.9 927.1 1394.8 936.3 1403C945.5 1411.3 954.7 1408.4 964 1411.6C973.2 1414.8 982.4 1415.8 991.6 1422.3C1000.8 1428.8 1014.6 1445.8 1019.2 1450.5"/>
<path fill="none" stroke="#B83050" stroke-width="1.3" d="M908.7 1327.5C913.3 1335.2 927.1 1359.4 936.3 1373.7C945.5 1387.9 954.7 1402.5 964 1412.9C973.2 1423.2 982.4 1429 991.6 1435.9C1000.8 1442.8 1014.6 1451.3 1019.2 1454.4"/>
<path fill="none" stroke="#3D8CC8" stroke-width="1.3" d="M908.7 1325.2C913.3 1324.6 927.1 1320.2 936.3 1321.8C945.5 1323.3 954.7 1331.6 964 1334.3C973.2 1337.1 982.4 1336.4 991.6 1338.2C1000.8 1340.1 1014.6 1344.1 1019.2 1345.3"/>
<path fill="none" stroke="#4A66B0" stroke-width="1.3" d="M908.7 1336.8C913.3 1344.8 927.1 1373.2 936.3 1384.9C945.5 1396.5 954.7 1400.2 964 1406.8C973.2 1413.5 982.4 1417.5 991.6 1424.8C1000.8 1432.2 1014.6 1446.5 1019.2 1450.8"/>
<path fill="none" stroke="#6A1A78" stroke-width="1.3" d="M908.7 1343.7C913.3 1342.7 927.1 1333.3 936.3 1337.9C945.5 1342.5 954.7 1361.2 964 1371.3C973.2 1381.4 982.4 1395.3 991.6 1398.5C1000.8 1401.7 1014.6 1392 1019.2 1390.6"/>
<path fill="none" stroke="#C03050" stroke-width="1.25" stroke-dasharray="2.6,1.8" d="M908.7 1546.6C912.4 1542 923.4 1521.2 930.8 1518.9C938.2 1516.6 945.5 1530.8 952.9 1532.8C960.3 1534.7 967.6 1529.7 975 1530.5C982.4 1531.2 989.7 1534.7 997.1 1537.4C1004.5 1540.1 1015.5 1545.1 1019.2 1546.6"/>
<path fill="none" stroke="#E05038" stroke-width="1.25" stroke-dasharray="2.6,1.8" d="M908.7 1355.2C913.3 1359.6 927.1 1375.4 936.3 1381.4C945.5 1387.4 954.7 1385.5 964 1391.2C973.2 1396.8 982.4 1413.3 991.6 1415.4C1000.8 1417.5 1014.6 1405.6 1019.2 1403.6"/>
<path fill="none" stroke="#F08A68" stroke-width="1.25" stroke-dasharray="2.6,1.8" d="M908.7 1362.1C913.3 1367.4 927.1 1383.7 936.3 1394C945.5 1404.3 954.7 1420.3 964 1423.9C973.2 1427.6 982.4 1414.2 991.6 1416.1C1000.8 1417.9 1014.6 1431.8 1019.2 1435"/>
<path fill="none" stroke="#F5B088" stroke-width="1.25" stroke-dasharray="2.6,1.8" d="M908.7 1373.7C913.3 1381.6 927.1 1405.7 936.3 1421.1C945.5 1436.6 954.7 1456.9 964 1466.2C973.2 1475.5 982.4 1479.5 991.6 1477.1C1000.8 1474.7 1014.6 1456.1 1019.2 1451.9"/>
<path fill="none" stroke="#FCD0A0" stroke-width="1.25" stroke-dasharray="2.6,1.8" d="M908.7 1385.2C913.3 1395.4 927.1 1430.4 936.3 1446.3C945.5 1462.1 954.7 1474.2 964 1480.2C973.2 1486.2 982.4 1481.1 991.6 1482.1C1000.8 1483.1 1014.6 1485.6 1019.2 1486.3"/>
<path fill="none" stroke="#E8E010" stroke-width="1.25" stroke-dasharray="2.6,1.8" d="M908.7 1373.7C913.3 1369.1 927.1 1353.9 936.3 1346.2C945.5 1338.6 954.7 1329.5 964 1327.7C973.2 1325.8 982.4 1331.8 991.6 1334.9C1000.8 1338.1 1014.6 1344.6 1019.2 1346.6"/>
<path fill="none" stroke="#66AEE0" stroke-width="1.25" stroke-dasharray="2.6,1.8" d="M908.7 1320.6C913.3 1320.4 927.1 1314.5 936.3 1319.1C945.5 1323.7 954.7 1336.9 964 1348.1C973.2 1359.3 982.4 1378.8 991.6 1386.1C1000.8 1393.3 1014.6 1390.5 1019.2 1391.4"/>
<path fill="none" stroke="#A8D8F0" stroke-width="1.25" stroke-dasharray="2.6,1.8" d="M908.7 1380.6C913.3 1386.2 927.1 1404.9 936.3 1414.4C945.5 1424 954.7 1432.1 964 1437.7C973.2 1443.2 982.4 1445.6 991.6 1447.8C1000.8 1450 1014.6 1450.2 1019.2 1450.6"/>
<path fill="none" stroke="#2828EE" stroke-width="1.25" stroke-dasharray="2.6,1.8" d="M908.7 1327.5C913.3 1330.1 927.1 1339.5 936.3 1343.2C945.5 1346.9 954.7 1346 964 1349.8C973.2 1353.5 982.4 1359.4 991.6 1365.8C1000.8 1372.1 1014.6 1384.2 1019.2 1387.8"/>
<path fill="none" stroke="#3A88C8" stroke-width="1.25" stroke-dasharray="2.6,1.8" d="M908.7 1318.3C913.3 1320.6 927.1 1331.2 936.3 1331.9C945.5 1332.6 954.7 1320.9 964 1322.4C973.2 1323.9 982.4 1339.9 991.6 1340.8C1000.8 1341.8 1014.6 1330.2 1019.2 1328.1"/>
<path fill="none" stroke="#4A66AA" stroke-width="1.25" stroke-dasharray="2.6,1.8" d="M908.7 1325.2C913.3 1325.1 927.1 1320.1 936.3 1324.3C945.5 1328.5 954.7 1343.6 964 1350.3C973.2 1357 982.4 1358.5 991.6 1364.7C1000.8 1370.8 1014.6 1383.6 1019.2 1387.4"/>
<path fill="none" stroke="#7A1A80" stroke-width="1.25" stroke-dasharray="2.6,1.8" d="M908.7 1408.2C913.3 1405.4 927.1 1396.4 936.3 1391.5C945.5 1386.6 954.7 1382.8 964 1378.9C973.2 1375 982.4 1372.5 991.6 1368.1C1000.8 1363.7 1014.6 1355.1 1019.2 1352.5"/>
<line x1="903" y1="1306" x2="903" y2="1559.8" stroke="#4a4a4a" stroke-width="1.8"/>
<line x1="902" y1="1559" x2="1024.7" y2="1559" stroke="#4a4a4a" stroke-width="1.8"/>
<line x1="897" y1="1546.6" x2="903" y2="1546.6" stroke="#3a3a3a" stroke-width="1.6"/>
<line x1="897" y1="1488.9" x2="903" y2="1488.9" stroke="#3a3a3a" stroke-width="1.6"/>
<line x1="897" y1="1431.3" x2="903" y2="1431.3" stroke="#3a3a3a" stroke-width="1.6"/>
<line x1="897" y1="1373.7" x2="903" y2="1373.7" stroke="#3a3a3a" stroke-width="1.6"/>
<line x1="897" y1="1316" x2="903" y2="1316" stroke="#3a3a3a" stroke-width="1.6"/>
<line x1="910" y1="1559" x2="910" y2="1565" stroke="#3a3a3a" stroke-width="1.6"/>
<text x="910" y="1583" font-size="20" text-anchor="middle" fill="#000">0.46</text>
<line x1="955.3" y1="1559" x2="955.3" y2="1565" stroke="#3a3a3a" stroke-width="1.6"/>
<text x="955.3" y="1583" font-size="20" text-anchor="middle" fill="#000">0.50</text>
<line x1="1004.3" y1="1559" x2="1004.3" y2="1565" stroke="#3a3a3a" stroke-width="1.6"/>
<text x="1004.3" y="1583" font-size="20" text-anchor="middle" fill="#000">0.54</text>
<circle cx="921.4" cy="1289" r="10.5" fill="none" stroke="#000" stroke-width="1.1"/>
<text x="921.4" y="1295.8" font-size="19" text-anchor="middle" fill="#000">5</text>
<text x="939.8" y="1296" font-size="20.5" text-anchor="start" fill="#000">SCPN</text>
<path fill="none" stroke="#2222EE" stroke-width="1.3" d="M1036.2 1397.1C1039.9 1400.5 1050.9 1413.2 1058.3 1417.8C1065.7 1422.4 1073 1419.7 1080.4 1424.7C1087.8 1429.7 1095.1 1439.3 1102.5 1447.7C1109.9 1456.1 1117.2 1467.2 1124.6 1475.3C1132 1483.3 1143 1492.5 1146.7 1496"/>
<path fill="none" stroke="#D8601A" stroke-width="1.3" d="M1036.2 1328.1C1040.8 1330.5 1054.6 1338.9 1063.8 1342.4C1073 1345.9 1082.2 1348.2 1091.5 1348.9C1100.7 1349.6 1109.9 1343.2 1119.1 1346.6C1128.3 1349.9 1142.1 1365.3 1146.7 1369.1"/>
<path fill="none" stroke="#EE7755" stroke-width="1.3" d="M1036.2 1394.8C1040.8 1387.4 1054.6 1361.2 1063.8 1350.6C1073 1340.1 1082.2 1334.5 1091.5 1331.4C1100.7 1328.4 1109.9 1324.6 1119.1 1332.4C1128.3 1340.1 1142.1 1370.4 1146.7 1378"/>
<path fill="none" stroke="#F5A878" stroke-width="1.3" d="M1036.2 1404C1040.8 1407.4 1054.6 1425.1 1063.8 1424.2C1073 1423.3 1082.2 1402.7 1091.5 1398.6C1100.7 1394.5 1109.9 1397 1119.1 1399.3C1128.3 1401.7 1142.1 1410.6 1146.7 1412.8"/>
<path fill="none" stroke="#FBD5A0" stroke-width="1.3" d="M1036.2 1374.1C1040.8 1377.7 1054.6 1390.9 1063.8 1395.7C1073 1400.5 1082.2 1402.4 1091.5 1402.8C1100.7 1403.2 1109.9 1399.5 1119.1 1398.2C1128.3 1396.9 1142.1 1395.7 1146.7 1395.2"/>
<path fill="none" stroke="#F5E000" stroke-width="1.3" d="M1036.2 1376.4C1040.8 1377.7 1054.6 1383.2 1063.8 1384.2C1073 1385.2 1082.2 1385.2 1091.5 1382.3C1100.7 1379.4 1109.9 1367.7 1119.1 1366.7C1128.3 1365.7 1142.1 1374.6 1146.7 1376.2"/>
<path fill="none" stroke="#5DAEE3" stroke-width="1.3" d="M1036.2 1387.9C1040.8 1385.5 1054.6 1376.8 1063.8 1373.7C1073 1370.7 1082.2 1369.2 1091.5 1369.5C1100.7 1369.9 1109.9 1372.6 1119.1 1375.9C1128.3 1379.1 1142.1 1386.7 1146.7 1388.8"/>
<path fill="none" stroke="#A8D5F0" stroke-width="1.3" d="M1036.2 1362.6C1040.8 1368 1054.6 1383.7 1063.8 1394.9C1073 1406.1 1082.2 1426 1091.5 1429.9C1100.7 1433.9 1109.9 1416.2 1119.1 1418.5C1128.3 1420.8 1142.1 1439.4 1146.7 1443.6"/>
<path fill="none" stroke="#B83050" stroke-width="1.3" d="M1036.2 1328.1C1040.8 1335.8 1054.6 1358.8 1063.8 1374.1C1073 1389.4 1082.2 1408.6 1091.5 1420.1C1100.7 1431.6 1109.9 1435.4 1119.1 1443.1C1128.3 1450.8 1142.1 1462.3 1146.7 1466.1"/>
<path fill="none" stroke="#3D8CC8" stroke-width="1.3" d="M1036.2 1325.8C1040.8 1326 1054.6 1326.6 1063.8 1326.8C1073 1327 1082.2 1327.1 1091.5 1326.8C1100.7 1326.4 1109.9 1321.1 1119.1 1324.5C1128.3 1327.9 1142.1 1343.5 1146.7 1347.3"/>
<path fill="none" stroke="#4A66B0" stroke-width="1.3" d="M1036.2 1337.3C1040.8 1344.6 1054.6 1369.7 1063.8 1381C1073 1392.2 1082.2 1394.6 1091.5 1405C1100.7 1415.3 1109.9 1436 1119.1 1443.1C1128.3 1450.1 1142.1 1446.4 1146.7 1447.1"/>
<path fill="none" stroke="#6A1A78" stroke-width="1.3" d="M1036.2 1344.2C1040.8 1341.6 1054.6 1326.3 1063.8 1328.9C1073 1331.5 1082.2 1352.5 1091.5 1359.8C1100.7 1367.1 1109.9 1365.8 1119.1 1372.7C1128.3 1379.5 1142.1 1396.4 1146.7 1401.2"/>
<path fill="none" stroke="#C03050" stroke-width="1.25" stroke-dasharray="2.6,1.8" d="M1036.2 1546.6C1039.9 1542 1050.9 1521.7 1058.3 1519C1065.7 1516.3 1073 1528.6 1080.4 1530.5C1087.8 1532.4 1095.1 1529.3 1102.5 1530.5C1109.9 1531.7 1117.2 1534.7 1124.6 1537.4C1132 1540.1 1143 1545.1 1146.7 1546.6"/>
<path fill="none" stroke="#E05038" stroke-width="1.25" stroke-dasharray="2.6,1.8" d="M1036.2 1355.7C1040.8 1359.8 1054.6 1374.5 1063.8 1380.1C1073 1385.8 1082.2 1384.8 1091.5 1389.8C1100.7 1394.7 1109.9 1406.7 1119.1 1409.8C1128.3 1412.9 1142.1 1408.7 1146.7 1408.5"/>
<path fill="none" stroke="#F08A68" stroke-width="1.25" stroke-dasharray="2.6,1.8" d="M1036.2 1362.6C1040.8 1365.8 1054.6 1371.8 1063.8 1381.7C1073 1391.6 1082.2 1413.4 1091.5 1422.2C1100.7 1431 1109.9 1435.1 1119.1 1434.6C1128.3 1434.2 1142.1 1422.1 1146.7 1419.5"/>
<path fill="none" stroke="#F5B088" stroke-width="1.25" stroke-dasharray="2.6,1.8" d="M1036.2 1374.1C1040.8 1381.8 1054.6 1405.4 1063.8 1420.2C1073 1435 1082.2 1457.1 1091.5 1462.9C1100.7 1468.6 1109.9 1453.5 1119.1 1454.6C1128.3 1455.8 1142.1 1467.3 1146.7 1469.8"/>
<path fill="none" stroke="#FCD0A0" stroke-width="1.25" stroke-dasharray="2.6,1.8" d="M1036.2 1385.6C1040.8 1395.4 1054.6 1429 1063.8 1444.1C1073 1459.2 1082.2 1469.3 1091.5 1476.3C1100.7 1483.2 1109.9 1485.5 1119.1 1485.8C1128.3 1486.1 1142.1 1479.2 1146.7 1477.9"/>
<path fill="none" stroke="#E8E010" stroke-width="1.25" stroke-dasharray="2.6,1.8" d="M1036.2 1374.1C1040.8 1369.7 1054.6 1353.1 1063.8 1348C1073 1342.8 1082.2 1346.7 1091.5 1343.2C1100.7 1339.6 1109.9 1324.5 1119.1 1326.8C1128.3 1329.1 1142.1 1351.8 1146.7 1356.8"/>
<path fill="none" stroke="#66AEE0" stroke-width="1.25" stroke-dasharray="2.6,1.8" d="M1036.2 1321.2C1040.8 1324.2 1054.6 1333.2 1063.8 1339.4C1073 1345.7 1082.2 1352.8 1091.5 1358.6C1100.7 1364.5 1109.9 1366.6 1119.1 1374.3C1128.3 1382.1 1142.1 1400.2 1146.7 1405.4"/>
<path fill="none" stroke="#A8D8F0" stroke-width="1.25" stroke-dasharray="2.6,1.8" d="M1036.2 1381C1040.8 1385.2 1054.6 1398 1063.8 1406.3C1073 1414.6 1082.2 1425.2 1091.5 1431C1100.7 1436.7 1109.9 1439.7 1119.1 1440.9C1128.3 1442.1 1142.1 1438.6 1146.7 1438.2"/>
<path fill="none" stroke="#2828EE" stroke-width="1.25" stroke-dasharray="2.6,1.8" d="M1036.2 1328.1C1040.8 1327.9 1054.6 1324.7 1063.8 1327C1073 1329.3 1082.2 1331.9 1091.5 1341.7C1100.7 1351.6 1109.9 1377.4 1119.1 1386C1128.3 1394.6 1142.1 1392.3 1146.7 1393.5"/>
<path fill="none" stroke="#3A88C8" stroke-width="1.25" stroke-dasharray="2.6,1.8" d="M1036.2 1318.9C1040.8 1318.9 1054.6 1316.9 1063.8 1318.9C1073 1320.9 1082.2 1328.4 1091.5 1330.9C1100.7 1333.5 1109.9 1334.4 1119.1 1334C1128.3 1333.6 1142.1 1329.5 1146.7 1328.6"/>
<path fill="none" stroke="#4A66AA" stroke-width="1.25" stroke-dasharray="2.6,1.8" d="M1036.2 1325.8C1040.8 1328.8 1054.6 1340.4 1063.8 1343.8C1073 1347.2 1082.2 1341.3 1091.5 1346.1C1100.7 1350.9 1109.9 1362.7 1119.1 1372.6C1128.3 1382.6 1142.1 1400.4 1146.7 1406"/>
<path fill="none" stroke="#7A1A80" stroke-width="1.25" stroke-dasharray="2.6,1.8" d="M1036.2 1408.6C1040.8 1402.6 1054.6 1379.4 1063.8 1372.8C1073 1366.2 1082.2 1368.7 1091.5 1368.9C1100.7 1369.1 1109.9 1376.3 1119.1 1374C1128.3 1371.7 1142.1 1358.1 1146.7 1354.9"/>
<line x1="1030.3" y1="1306" x2="1030.3" y2="1559.8" stroke="#4a4a4a" stroke-width="1.8"/>
<line x1="1029.3" y1="1559" x2="1152" y2="1559" stroke="#4a4a4a" stroke-width="1.8"/>
<line x1="1024.3" y1="1546.6" x2="1030.3" y2="1546.6" stroke="#3a3a3a" stroke-width="1.6"/>
<line x1="1024.3" y1="1489.1" x2="1030.3" y2="1489.1" stroke="#3a3a3a" stroke-width="1.6"/>
<line x1="1024.3" y1="1431.6" x2="1030.3" y2="1431.6" stroke="#3a3a3a" stroke-width="1.6"/>
<line x1="1024.3" y1="1374.1" x2="1030.3" y2="1374.1" stroke="#3a3a3a" stroke-width="1.6"/>
<line x1="1024.3" y1="1316.6" x2="1030.3" y2="1316.6" stroke="#3a3a3a" stroke-width="1.6"/>
<line x1="1059.5" y1="1559" x2="1059.5" y2="1565" stroke="#3a3a3a" stroke-width="1.6"/>
<text x="1059.5" y="1583" font-size="20" text-anchor="middle" fill="#000">0.48</text>
<line x1="1124.6" y1="1559" x2="1124.6" y2="1565" stroke="#3a3a3a" stroke-width="1.6"/>
<text x="1124.6" y="1583" font-size="20" text-anchor="middle" fill="#000">0.54</text>
<circle cx="1043" cy="1289" r="10.5" fill="none" stroke="#000" stroke-width="1.1"/>
<text x="1043" y="1295.8" font-size="19" text-anchor="middle" fill="#000">6</text>
<text x="1061" y="1296" font-size="20.5" text-anchor="start" fill="#000">NP</text>
<path fill="none" stroke="#2222EE" stroke-width="1.3" d="M1163.6 1400.1C1167.3 1403.6 1178.4 1415.4 1185.8 1420.8C1193.2 1426.1 1200.6 1426.5 1208 1432.2C1215.4 1438 1222.9 1447.5 1230.3 1455.2C1237.7 1462.9 1245.1 1469.7 1252.5 1478.2C1259.9 1486.6 1271 1501.1 1274.7 1505.7"/>
<path fill="none" stroke="#D8601A" stroke-width="1.3" d="M1163.6 1329C1168.2 1328.1 1182.1 1320.1 1191.4 1323.5C1200.6 1326.9 1209.9 1341.9 1219.2 1349.3C1228.4 1356.6 1237.7 1363.5 1246.9 1367.6C1256.2 1371.7 1270.1 1373 1274.7 1374"/>
<path fill="none" stroke="#EE7755" stroke-width="1.3" d="M1163.6 1395.5C1168.2 1390.7 1182.1 1376.8 1191.4 1366.4C1200.6 1355.9 1209.9 1335.5 1219.2 1332.8C1228.4 1330.1 1237.7 1346.4 1246.9 1350.2C1256.2 1354.1 1270.1 1355 1274.7 1356"/>
<path fill="none" stroke="#F5A878" stroke-width="1.3" d="M1163.6 1404.7C1168.2 1408 1182.1 1421.7 1191.4 1424.3C1200.6 1426.9 1209.9 1423.5 1219.2 1420.4C1228.4 1417.3 1237.7 1406.9 1246.9 1405.7C1256.2 1404.4 1270.1 1411.6 1274.7 1412.8"/>
<path fill="none" stroke="#FBD5A0" stroke-width="1.3" d="M1163.6 1374.9C1168.2 1377.7 1182.1 1386.9 1191.4 1391.6C1200.6 1396.3 1209.9 1400.2 1219.2 1403.1C1228.4 1406 1237.7 1409 1246.9 1409C1256.2 1409 1270.1 1404.2 1274.7 1403.3"/>
<path fill="none" stroke="#F5E000" stroke-width="1.3" d="M1163.6 1377.2C1168.2 1375.2 1182.1 1364.9 1191.4 1365.2C1200.6 1365.4 1209.9 1377.9 1219.2 1378.5C1228.4 1379.1 1237.7 1368.5 1246.9 1368.8C1256.2 1369 1270.1 1377.9 1274.7 1379.7"/>
<path fill="none" stroke="#5DAEE3" stroke-width="1.3" d="M1163.6 1388.6C1168.2 1386 1182.1 1373.6 1191.4 1372.6C1200.6 1371.6 1209.9 1377.8 1219.2 1382.6C1228.4 1387.4 1237.7 1400.6 1246.9 1401.6C1256.2 1402.7 1270.1 1391 1274.7 1388.9"/>
<path fill="none" stroke="#A8D5F0" stroke-width="1.3" d="M1163.6 1363.4C1168.2 1370.1 1182.1 1392.3 1191.4 1403.5C1200.6 1414.8 1209.9 1424.7 1219.2 1431C1228.4 1437.2 1237.7 1440.7 1246.9 1440.9C1256.2 1441.1 1270.1 1433.5 1274.7 1432.1"/>
<path fill="none" stroke="#B83050" stroke-width="1.3" d="M1163.6 1335.9C1168.2 1344.3 1182.1 1371 1191.4 1386.3C1200.6 1401.6 1209.9 1417 1219.2 1427.7C1228.4 1438.4 1237.7 1443.3 1246.9 1450.6C1256.2 1457.9 1270.1 1467.8 1274.7 1471.3"/>
<path fill="none" stroke="#3D8CC8" stroke-width="1.3" d="M1163.6 1326.7C1168.2 1325.7 1182.1 1319.5 1191.4 1320.9C1200.6 1322.3 1209.9 1332.6 1219.2 1335.2C1228.4 1337.8 1237.7 1335.1 1246.9 1336.6C1256.2 1338 1270.1 1342.7 1274.7 1344"/>
<path fill="none" stroke="#4A66B0" stroke-width="1.3" d="M1163.6 1338.2C1168.2 1349.3 1182.1 1392.5 1191.4 1404.9C1200.6 1417.4 1209.9 1409.2 1219.2 1412.8C1228.4 1416.4 1237.7 1423.4 1246.9 1426.5C1256.2 1429.6 1270.1 1430.7 1274.7 1431.5"/>
<path fill="none" stroke="#6A1A78" stroke-width="1.3" d="M1163.6 1345C1168.2 1346.3 1182.1 1349.1 1191.4 1352.6C1200.6 1356.1 1209.9 1360.4 1219.2 1366C1228.4 1371.6 1237.7 1383.2 1246.9 1386.1C1256.2 1389.1 1270.1 1384.1 1274.7 1383.7"/>
<path fill="none" stroke="#C03050" stroke-width="1.25" stroke-dasharray="2.6,1.8" d="M1163.6 1547C1167.3 1542.8 1178.4 1523.7 1185.8 1521.8C1193.2 1519.8 1200.6 1533.2 1208 1535.5C1215.4 1537.8 1222.9 1541.3 1230.3 1535.5C1237.7 1529.8 1245.1 1523.3 1252.5 1501.1C1259.9 1478.9 1271 1418.9 1274.7 1402.4"/>
<path fill="none" stroke="#E05038" stroke-width="1.25" stroke-dasharray="2.6,1.8" d="M1163.6 1356.5C1168.2 1361.3 1182.1 1378.6 1191.4 1385.5C1200.6 1392.4 1209.9 1395.4 1219.2 1397.9C1228.4 1400.5 1237.7 1397.3 1246.9 1400.7C1256.2 1404 1270.1 1415.2 1274.7 1418.1"/>
<path fill="none" stroke="#F08A68" stroke-width="1.25" stroke-dasharray="2.6,1.8" d="M1163.6 1363.4C1168.2 1368.7 1182.1 1388.5 1191.4 1395.1C1200.6 1401.7 1209.9 1396.3 1219.2 1403.1C1228.4 1409.9 1237.7 1433.6 1246.9 1435.9C1256.2 1438.2 1270.1 1420.1 1274.7 1416.9"/>
<path fill="none" stroke="#F5B088" stroke-width="1.25" stroke-dasharray="2.6,1.8" d="M1163.6 1374.9C1168.2 1383.8 1182.1 1414.6 1191.4 1428.2C1200.6 1441.8 1209.9 1449.4 1219.2 1456.4C1228.4 1463.4 1237.7 1470.3 1246.9 1470.2C1256.2 1470.2 1270.1 1458.5 1274.7 1456.2"/>
<path fill="none" stroke="#FCD0A0" stroke-width="1.25" stroke-dasharray="2.6,1.8" d="M1163.6 1386.3C1168.2 1394.2 1182.1 1420.6 1191.4 1433.6C1200.6 1446.7 1209.9 1456 1219.2 1464.4C1228.4 1472.9 1237.7 1484.3 1246.9 1484.5C1256.2 1484.6 1270.1 1468.6 1274.7 1465.4"/>
<path fill="none" stroke="#E8E010" stroke-width="1.25" stroke-dasharray="2.6,1.8" d="M1163.6 1374.9C1168.2 1370.3 1182.1 1353.9 1191.4 1347.7C1200.6 1341.5 1209.9 1337.7 1219.2 1337.8C1228.4 1337.8 1237.7 1345.8 1246.9 1348.1C1256.2 1350.4 1270.1 1351.1 1274.7 1351.7"/>
<path fill="none" stroke="#66AEE0" stroke-width="1.25" stroke-dasharray="2.6,1.8" d="M1163.6 1322.1C1168.2 1323.8 1182.1 1326 1191.4 1332.6C1200.6 1339.2 1209.9 1356.3 1219.2 1361.6C1228.4 1367 1237.7 1358.2 1246.9 1364.7C1256.2 1371.1 1270.1 1394.4 1274.7 1400.4"/>
<path fill="none" stroke="#A8D8F0" stroke-width="1.25" stroke-dasharray="2.6,1.8" d="M1163.6 1381.8C1168.2 1384.7 1182.1 1389.2 1191.4 1399.1C1200.6 1409 1209.9 1434.2 1219.2 1441C1228.4 1447.7 1237.7 1439.8 1246.9 1439.6C1256.2 1439.5 1270.1 1440 1274.7 1440.1"/>
<path fill="none" stroke="#2828EE" stroke-width="1.25" stroke-dasharray="2.6,1.8" d="M1163.6 1329C1168.2 1329.5 1182.1 1327.3 1191.4 1331.9C1200.6 1336.4 1209.9 1346.6 1219.2 1356.3C1228.4 1366.1 1237.7 1384.4 1246.9 1390.4C1256.2 1396.5 1270.1 1392.3 1274.7 1392.7"/>
<path fill="none" stroke="#3A88C8" stroke-width="1.25" stroke-dasharray="2.6,1.8" d="M1163.6 1319.8C1168.2 1320.3 1182.1 1322.8 1191.4 1322.8C1200.6 1322.8 1209.9 1320.3 1219.2 1319.8C1228.4 1319.3 1237.7 1319.8 1246.9 1319.8C1256.2 1319.8 1270.1 1319.8 1274.7 1319.8"/>
<path fill="none" stroke="#4A66AA" stroke-width="1.25" stroke-dasharray="2.6,1.8" d="M1163.6 1326.7C1168.2 1326 1182.1 1316.1 1191.4 1322.6C1200.6 1329.1 1209.9 1354.4 1219.2 1365.6C1228.4 1376.9 1237.7 1384.2 1246.9 1390.1C1256.2 1396.1 1270.1 1399.4 1274.7 1401.3"/>
<path fill="none" stroke="#7A1A80" stroke-width="1.25" stroke-dasharray="2.6,1.8" d="M1163.6 1409.3C1168.2 1407.7 1182.1 1404.7 1191.4 1399.9C1200.6 1395.1 1209.9 1386.5 1219.2 1380.8C1228.4 1375.1 1237.7 1368.2 1246.9 1365.9C1256.2 1363.6 1270.1 1366.8 1274.7 1367"/>
<line x1="1158.7" y1="1306" x2="1158.7" y2="1559.8" stroke="#4a4a4a" stroke-width="1.8"/>
<line x1="1157.7" y1="1559" x2="1280.5" y2="1559" stroke="#4a4a4a" stroke-width="1.8"/>
<line x1="1152.7" y1="1547" x2="1158.7" y2="1547" stroke="#3a3a3a" stroke-width="1.6"/>
<line x1="1152.7" y1="1489.6" x2="1158.7" y2="1489.6" stroke="#3a3a3a" stroke-width="1.6"/>
<line x1="1152.7" y1="1432.2" x2="1158.7" y2="1432.2" stroke="#3a3a3a" stroke-width="1.6"/>
<line x1="1152.7" y1="1374.9" x2="1158.7" y2="1374.9" stroke="#3a3a3a" stroke-width="1.6"/>
<line x1="1152.7" y1="1317.5" x2="1158.7" y2="1317.5" stroke="#3a3a3a" stroke-width="1.6"/>
<line x1="1202.2" y1="1559" x2="1202.2" y2="1565" stroke="#3a3a3a" stroke-width="1.6"/>
<text x="1202.2" y="1583" font-size="20" text-anchor="middle" fill="#000">0.50</text>
<line x1="1250.4" y1="1559" x2="1250.4" y2="1565" stroke="#3a3a3a" stroke-width="1.6"/>
<text x="1250.4" y="1583" font-size="20" text-anchor="middle" fill="#000">0.55</text>
<circle cx="1168.3" cy="1289" r="10.5" fill="none" stroke="#000" stroke-width="1.1"/>
<text x="1168.3" y="1295.8" font-size="19" text-anchor="middle" fill="#000">7</text>
<text x="1186.8" y="1296" font-size="20.5" text-anchor="start" fill="#000">CThPN</text>
<path fill="none" stroke="#2222EE" stroke-width="1.3" d="M1291.2 1394.1C1294.9 1397.1 1306.1 1407.5 1313.5 1411.9C1320.9 1416.4 1328.4 1416.4 1335.8 1420.8C1343.2 1425.3 1350.7 1430.1 1358.1 1438.6C1365.5 1447.2 1373 1460.9 1380.4 1472C1387.8 1483.1 1399 1499.8 1402.7 1505.4"/>
<path fill="none" stroke="#D8601A" stroke-width="1.3" d="M1291.2 1327.3C1295.8 1327.9 1309.8 1327.9 1319.1 1331C1328.4 1334.2 1337.7 1341.6 1347 1346.1C1356.2 1350.6 1365.5 1357.1 1374.8 1357.9C1384.1 1358.6 1398.1 1351.7 1402.7 1350.4"/>
<path fill="none" stroke="#EE7755" stroke-width="1.3" d="M1291.2 1391.9C1295.8 1386.6 1309.8 1371.9 1319.1 1360.2C1328.4 1348.5 1337.7 1324.6 1347 1321.6C1356.2 1318.6 1365.5 1336 1374.8 1342.2C1384.1 1348.4 1398.1 1355.9 1402.7 1358.6"/>
<path fill="none" stroke="#F5A878" stroke-width="1.3" d="M1291.2 1400.8C1295.8 1404.2 1309.8 1422.1 1319.1 1421.4C1328.4 1420.7 1337.7 1401.6 1347 1396.5C1356.2 1391.3 1365.5 1388.7 1374.8 1390.4C1384.1 1392.1 1398.1 1403.9 1402.7 1406.6"/>
<path fill="none" stroke="#FBD5A0" stroke-width="1.3" d="M1291.2 1371.8C1295.8 1373.8 1309.8 1381.1 1319.1 1383.7C1328.4 1386.4 1337.7 1385.6 1347 1387.8C1356.2 1390 1365.5 1395.6 1374.8 1397C1384.1 1398.4 1398.1 1396.4 1402.7 1396.3"/>
<path fill="none" stroke="#F5E000" stroke-width="1.3" d="M1291.2 1374.1C1295.8 1373.4 1309.8 1369.8 1319.1 1370.2C1328.4 1370.7 1337.7 1377.7 1347 1376.8C1356.2 1375.9 1365.5 1366.8 1374.8 1364.8C1384.1 1362.7 1398.1 1364.6 1402.7 1364.6"/>
<path fill="none" stroke="#5DAEE3" stroke-width="1.3" d="M1291.2 1385.2C1295.8 1384.6 1309.8 1382.9 1319.1 1381.7C1328.4 1380.6 1337.7 1378.4 1347 1378.3C1356.2 1378.3 1365.5 1379.2 1374.8 1381.6C1384.1 1384 1398.1 1390.7 1402.7 1392.5"/>
<path fill="none" stroke="#A8D5F0" stroke-width="1.3" d="M1291.2 1360.7C1295.8 1367.7 1309.8 1393.6 1319.1 1402.9C1328.4 1412.2 1337.7 1414.5 1347 1416.6C1356.2 1418.7 1365.5 1413.3 1374.8 1415.6C1384.1 1417.9 1398.1 1428 1402.7 1430.4"/>
<path fill="none" stroke="#B83050" stroke-width="1.3" d="M1291.2 1327.3C1295.8 1333.6 1309.8 1350.3 1319.1 1365.2C1328.4 1380 1337.7 1404.1 1347 1416.4C1356.2 1428.6 1365.5 1431.2 1374.8 1438.6C1384.1 1446.1 1398.1 1457.2 1402.7 1460.9"/>
<path fill="none" stroke="#3D8CC8" stroke-width="1.3" d="M1291.2 1325.1C1295.8 1327 1309.8 1335.6 1319.1 1336.5C1328.4 1337.3 1337.7 1330.6 1347 1330.1C1356.2 1329.7 1365.5 1331.2 1374.8 1333.9C1384.1 1336.6 1398.1 1344.4 1402.7 1346.5"/>
<path fill="none" stroke="#4A66B0" stroke-width="1.3" d="M1291.2 1336.2C1295.8 1346.7 1309.8 1386.7 1319.1 1399C1328.4 1411.3 1337.7 1406.4 1347 1410.2C1356.2 1414.1 1365.5 1417.7 1374.8 1422.2C1384.1 1426.8 1398.1 1435.1 1402.7 1437.7"/>
<path fill="none" stroke="#6A1A78" stroke-width="1.3" d="M1291.2 1342.9C1295.8 1340.2 1309.8 1323.4 1319.1 1326.7C1328.4 1330.1 1337.7 1351.6 1347 1363.1C1356.2 1374.6 1365.5 1390.6 1374.8 1396C1384.1 1401.4 1398.1 1395.5 1402.7 1395.4"/>
<path fill="none" stroke="#C03050" stroke-width="1.25" stroke-dasharray="2.6,1.8" d="M1291.2 1538.8C1294.9 1535.8 1306.1 1527.3 1313.5 1521C1320.9 1514.7 1328.4 1499.5 1335.8 1501C1343.2 1502.4 1350.7 1524.7 1358.1 1529.9C1365.5 1535.1 1373 1532.5 1380.4 1532.1C1387.8 1531.8 1399 1528.4 1402.7 1527.7"/>
<path fill="none" stroke="#E05038" stroke-width="1.25" stroke-dasharray="2.6,1.8" d="M1291.2 1354C1295.8 1357.2 1309.8 1363.8 1319.1 1373.1C1328.4 1382.4 1337.7 1406.1 1347 1409.8C1356.2 1413.4 1365.5 1395.9 1374.8 1395C1384.1 1394.1 1398.1 1402.8 1402.7 1404.4"/>
<path fill="none" stroke="#F08A68" stroke-width="1.25" stroke-dasharray="2.6,1.8" d="M1291.2 1360.7C1295.8 1364.7 1309.8 1375.2 1319.1 1384.8C1328.4 1394.4 1337.7 1410.7 1347 1418.5C1356.2 1426.3 1365.5 1432.3 1374.8 1431.8C1384.1 1431.2 1398.1 1418.1 1402.7 1415.3"/>
<path fill="none" stroke="#F5B088" stroke-width="1.25" stroke-dasharray="2.6,1.8" d="M1291.2 1371.8C1295.8 1379.6 1309.8 1405.1 1319.1 1418.3C1328.4 1431.5 1337.7 1444.7 1347 1451.3C1356.2 1458 1365.5 1458.1 1374.8 1458.2C1384.1 1458.2 1398.1 1452.6 1402.7 1451.5"/>
<path fill="none" stroke="#FCD0A0" stroke-width="1.25" stroke-dasharray="2.6,1.8" d="M1291.2 1383C1295.8 1391.3 1309.8 1420.6 1319.1 1433.1C1328.4 1445.6 1337.7 1450.8 1347 1458.1C1356.2 1465.3 1365.5 1476.8 1374.8 1476.6C1384.1 1476.4 1398.1 1460.2 1402.7 1457"/>
<path fill="none" stroke="#E8E010" stroke-width="1.25" stroke-dasharray="2.6,1.8" d="M1291.2 1371.8C1295.8 1368 1309.8 1353.2 1319.1 1348.8C1328.4 1344.4 1337.7 1347.2 1347 1345.5C1356.2 1343.9 1365.5 1341.2 1374.8 1339.1C1384.1 1336.9 1398.1 1333.8 1402.7 1332.7"/>
<path fill="none" stroke="#66AEE0" stroke-width="1.25" stroke-dasharray="2.6,1.8" d="M1291.2 1320.7C1295.8 1322.9 1309.8 1330.6 1319.1 1334.2C1328.4 1337.8 1337.7 1337.2 1347 1342C1356.2 1346.9 1365.5 1356.5 1374.8 1363.1C1384.1 1369.8 1398.1 1378.7 1402.7 1381.8"/>
<path fill="none" stroke="#A8D8F0" stroke-width="1.25" stroke-dasharray="2.6,1.8" d="M1291.2 1378.5C1295.8 1384.4 1309.8 1407.1 1319.1 1414C1328.4 1420.8 1337.7 1416 1347 1419.6C1356.2 1423.2 1365.5 1433.2 1374.8 1435.7C1384.1 1438.3 1398.1 1435 1402.7 1434.8"/>
<path fill="none" stroke="#2828EE" stroke-width="1.25" stroke-dasharray="2.6,1.8" d="M1291.2 1327.3C1295.8 1330.4 1309.8 1341 1319.1 1345.5C1328.4 1350 1337.7 1349.2 1347 1354.1C1356.2 1359.1 1365.5 1371.2 1374.8 1375.4C1384.1 1379.5 1398.1 1378.4 1402.7 1379"/>
<path fill="none" stroke="#3A88C8" stroke-width="1.25" stroke-dasharray="2.6,1.8" d="M1291.2 1318.4C1295.8 1318.6 1309.8 1316.2 1319.1 1319.7C1328.4 1323.2 1337.7 1337 1347 1339.6C1356.2 1342.1 1365.5 1338.6 1374.8 1335.1C1384.1 1331.6 1398.1 1321.2 1402.7 1318.5"/>
<path fill="none" stroke="#4A66AA" stroke-width="1.25" stroke-dasharray="2.6,1.8" d="M1291.2 1325.1C1295.8 1324.9 1309.8 1319.3 1319.1 1323.8C1328.4 1328.3 1337.7 1341.8 1347 1352.1C1356.2 1362.3 1365.5 1379.9 1374.8 1385.3C1384.1 1390.7 1398.1 1384.7 1402.7 1384.6"/>
<path fill="none" stroke="#7A1A80" stroke-width="1.25" stroke-dasharray="2.6,1.8" d="M1291.2 1405.2C1295.8 1399.9 1309.8 1378.6 1319.1 1373.2C1328.4 1367.8 1337.7 1374.3 1347 1373.1C1356.2 1371.8 1365.5 1367.5 1374.8 1365.7C1384.1 1363.8 1398.1 1362.5 1402.7 1361.9"/>
<line x1="1286.3" y1="1306" x2="1286.3" y2="1559.8" stroke="#4a4a4a" stroke-width="1.8"/>
<line x1="1285.3" y1="1559" x2="1407.6" y2="1559" stroke="#4a4a4a" stroke-width="1.8"/>
<line x1="1280.3" y1="1538.8" x2="1286.3" y2="1538.8" stroke="#3a3a3a" stroke-width="1.6"/>
<line x1="1280.3" y1="1483.2" x2="1286.3" y2="1483.2" stroke="#3a3a3a" stroke-width="1.6"/>
<line x1="1280.3" y1="1427.5" x2="1286.3" y2="1427.5" stroke="#3a3a3a" stroke-width="1.6"/>
<line x1="1280.3" y1="1371.8" x2="1286.3" y2="1371.8" stroke="#3a3a3a" stroke-width="1.6"/>
<line x1="1280.3" y1="1316.2" x2="1286.3" y2="1316.2" stroke="#3a3a3a" stroke-width="1.6"/>
<line x1="1311.6" y1="1559" x2="1311.6" y2="1565" stroke="#3a3a3a" stroke-width="1.6"/>
<text x="1311.6" y="1583" font-size="20" text-anchor="middle" fill="#000">0.475</text>
<line x1="1375.5" y1="1559" x2="1375.5" y2="1565" stroke="#3a3a3a" stroke-width="1.6"/>
<text x="1375.5" y="1583" font-size="20" text-anchor="middle" fill="#000">0.525</text>
<circle cx="1294.4" cy="1289" r="10.5" fill="none" stroke="#000" stroke-width="1.1"/>
<text x="1294.4" y="1295.8" font-size="19" text-anchor="middle" fill="#000">8</text>
<text x="1313.3" y="1296" font-size="20.5" text-anchor="start" fill="#000">Layer 6b</text>
<text x="0" y="0" font-size="20.8" text-anchor="middle" fill="#000" transform="translate(334,1433.6) rotate(-90)">Expression</text>
<text x="839.3" y="1607.6" font-size="21" text-anchor="start" fill="#000">Pseudotime</text>
<line x1="340.3" y1="1639.9" x2="354.7" y2="1639.9" stroke="#2222EE" stroke-width="2.2"/>
<text x="361.2" y="1643" font-size="19.3" text-anchor="start" fill="#000" font-style="italic">Brd1</text>
<line x1="414.2" y1="1639.9" x2="428.6" y2="1639.9" stroke="#EE7755" stroke-width="2.2"/>
<text x="434.7" y="1643" font-size="19.3" text-anchor="start" fill="#000" font-style="italic">Chd3</text>
<line x1="489.7" y1="1639.9" x2="504.1" y2="1639.9" stroke="#FBD5A0" stroke-width="2.2"/>
<text x="510.2" y="1643" font-size="19.3" text-anchor="start" fill="#000" font-style="italic">Ehmt1</text>
<line x1="573.2" y1="1639.9" x2="587.6" y2="1639.9" stroke="#5DAEE3" stroke-width="2.2"/>
<text x="593.1" y="1643" font-size="19.3" text-anchor="start" fill="#000" font-style="italic">Epc1</text>
<line x1="649.2" y1="1639.9" x2="663.6" y2="1639.9" stroke="#B83050" stroke-width="2.2"/>
<text x="667.9" y="1643" font-size="19.3" text-anchor="start" fill="#000" font-style="italic">Ezh2</text>
<line x1="734.8" y1="1639.9" x2="749.2" y2="1639.9" stroke="#4A66B0" stroke-width="2.2"/>
<text x="755.5" y="1643" font-size="19.3" text-anchor="start" fill="#000" font-style="italic">Kdm1a</text>
<line x1="832" y1="1639.9" x2="846.4" y2="1639.9" stroke="#C03050" stroke-width="1.8" stroke-dasharray="2,1.6"/>
<text x="851.5" y="1643" font-size="19.3" text-anchor="start" fill="#000" font-style="italic">Klf12</text>
<line x1="902.2" y1="1639.9" x2="916.6" y2="1639.9" stroke="#F08A68" stroke-width="1.8" stroke-dasharray="2,1.6"/>
<text x="921.6" y="1643" font-size="19.3" text-anchor="start" fill="#000" font-style="italic">Mtf2</text>
<line x1="986.8" y1="1639.9" x2="1001.2" y2="1639.9" stroke="#FCD0A0" stroke-width="1.8" stroke-dasharray="2,1.6"/>
<text x="1006.6" y="1643" font-size="19.3" text-anchor="start" fill="#000" font-style="italic">Rcor2</text>
<line x1="1066.4" y1="1639.9" x2="1080.8" y2="1639.9" stroke="#66AEE0" stroke-width="1.8" stroke-dasharray="2,1.6"/>
<text x="1086.6" y="1643" font-size="19.3" text-anchor="start" fill="#000" font-style="italic">Smarca4</text>
<line x1="1186.9" y1="1639.9" x2="1201.3" y2="1639.9" stroke="#2828EE" stroke-width="1.8" stroke-dasharray="2,1.6"/>
<text x="1207.5" y="1643" font-size="19.3" text-anchor="start" fill="#000" font-style="italic">Smarce1</text>
<line x1="1296.2" y1="1639.9" x2="1310.6" y2="1639.9" stroke="#4A66AA" stroke-width="1.8" stroke-dasharray="2,1.6"/>
<text x="1316" y="1643" font-size="19.3" text-anchor="start" fill="#000" font-style="italic">Sox4</text>
<line x1="340.3" y1="1670.3" x2="354.7" y2="1670.3" stroke="#D8601A" stroke-width="2.2"/>
<text x="361.2" y="1673.8" font-size="19.3" text-anchor="start" fill="#000" font-style="italic">Cbx5</text>
<line x1="414.2" y1="1670.3" x2="428.6" y2="1670.3" stroke="#F5A878" stroke-width="2.2"/>
<text x="434.7" y="1673.8" font-size="19.3" text-anchor="start" fill="#000" font-style="italic">Dot1l</text>
<line x1="489.7" y1="1670.3" x2="504.1" y2="1670.3" stroke="#F5E000" stroke-width="2.2"/>
<text x="510.2" y="1673.8" font-size="19.3" text-anchor="start" fill="#000" font-style="italic">Ehmt2</text>
<line x1="573.2" y1="1670.3" x2="587.6" y2="1670.3" stroke="#A8D5F0" stroke-width="2.2"/>
<text x="593.1" y="1673.8" font-size="19.3" text-anchor="start" fill="#000" font-style="italic">Epc2</text>
<line x1="649.2" y1="1670.3" x2="663.6" y2="1670.3" stroke="#3D8CC8" stroke-width="2.2"/>
<text x="667.9" y="1673.8" font-size="19.3" text-anchor="start" fill="#000" font-style="italic">Hdac2</text>
<line x1="734.8" y1="1670.3" x2="749.2" y2="1670.3" stroke="#6A1A78" stroke-width="2.2"/>
<text x="755.5" y="1673.8" font-size="19.3" text-anchor="start" fill="#000" font-style="italic">Kdm5b</text>
<line x1="832" y1="1670.3" x2="846.4" y2="1670.3" stroke="#E05038" stroke-width="1.8" stroke-dasharray="2,1.6"/>
<text x="851.5" y="1673.8" font-size="19.3" text-anchor="start" fill="#000" font-style="italic">Mta2</text>
<line x1="902.2" y1="1670.3" x2="916.6" y2="1670.3" stroke="#F5B088" stroke-width="1.8" stroke-dasharray="2,1.6"/>
<text x="921.6" y="1673.8" font-size="19.3" text-anchor="start" fill="#000" font-style="italic">Rbbp4</text>
<line x1="986.8" y1="1670.3" x2="1001.2" y2="1670.3" stroke="#E8E010" stroke-width="1.8" stroke-dasharray="2,1.6"/>
<text x="1006.6" y="1673.8" font-size="19.3" text-anchor="start" fill="#000" font-style="italic">Rnf2</text>
<line x1="1066.4" y1="1670.3" x2="1080.8" y2="1670.3" stroke="#A8D8F0" stroke-width="1.8" stroke-dasharray="2,1.6"/>
<text x="1086.6" y="1673.8" font-size="19.3" text-anchor="start" fill="#000" font-style="italic">Smarcad1</text>
<line x1="1186.9" y1="1670.3" x2="1201.3" y2="1670.3" stroke="#3A88C8" stroke-width="1.8" stroke-dasharray="2,1.6"/>
<text x="1207.5" y="1673.8" font-size="19.3" text-anchor="start" fill="#000" font-style="italic">Sox11</text>
<line x1="1296.2" y1="1670.3" x2="1310.6" y2="1670.3" stroke="#7A1A80" stroke-width="1.8" stroke-dasharray="2,1.6"/>
<text x="1316" y="1673.8" font-size="19.3" text-anchor="start" fill="#000" font-style="italic">Suv420h1</text>
</svg></body></html>
